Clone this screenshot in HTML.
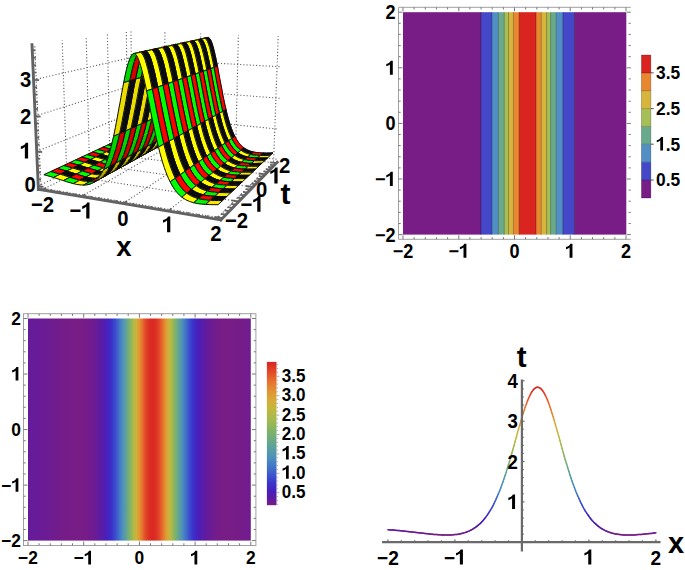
<!DOCTYPE html>
<html><head><meta charset="utf-8"><style>
html,body{margin:0;padding:0;background:#fff;}
svg{display:block;}
text{font-family:"Liberation Sans",sans-serif;font-weight:bold;fill:#000;}
.g{stroke:#5a5a5a;stroke-width:1.1;stroke-dasharray:1.1 2.1;}
</style></head><body>
<svg width="685" height="570" viewBox="0 0 685 570">
<rect width="685" height="570" fill="#fff"/>
<line x1="41" y1="188.1" x2="34.7" y2="44.3" class="g"/>
<line x1="66.8" y1="175.3" x2="62.2" y2="40.4" class="g"/>
<line x1="89.5" y1="164" x2="86.2" y2="37" class="g"/>
<line x1="109.7" y1="154" x2="107.4" y2="33.9" class="g"/>
<line x1="127.8" y1="145" x2="126.3" y2="31.2" class="g"/>
<line x1="38.3" y1="186" x2="129.3" y2="141.6" class="g"/>
<line x1="36.8" y1="151.4" x2="129" y2="114.3" class="g"/>
<line x1="35.2" y1="116.1" x2="128.6" y2="86.5" class="g"/>
<line x1="33.6" y1="79.8" x2="128.3" y2="58.2" class="g"/>
<line x1="132.3" y1="144.6" x2="131" y2="31.1" class="g"/>
<line x1="165" y1="148.6" x2="164.9" y2="32.3" class="g"/>
<line x1="199.3" y1="152.7" x2="200.7" y2="33.6" class="g"/>
<line x1="235.5" y1="157.1" x2="238.4" y2="34.9" class="g"/>
<line x1="273.6" y1="161.7" x2="278.2" y2="36.3" class="g"/>
<line x1="129.3" y1="141.6" x2="277.3" y2="159.3" class="g"/>
<line x1="129" y1="114.3" x2="278.4" y2="129.1" class="g"/>
<line x1="128.6" y1="86.5" x2="279.6" y2="98.3" class="g"/>
<line x1="128.3" y1="58.2" x2="280.8" y2="66.8" class="g"/>
<line x1="41.9" y1="189.9" x2="132.3" y2="144.6" class="g"/>
<line x1="81.3" y1="196.5" x2="165" y2="148.6" class="g"/>
<line x1="123.3" y1="203.5" x2="199.3" y2="152.7" class="g"/>
<line x1="168.1" y1="211.1" x2="235.5" y2="157.1" class="g"/>
<line x1="216.2" y1="219.1" x2="273.6" y2="161.7" class="g"/>
<line x1="41" y1="188.1" x2="222.4" y2="218.2" class="g"/>
<line x1="66.8" y1="175.3" x2="238.8" y2="201.5" class="g"/>
<line x1="89.5" y1="164" x2="252.9" y2="187" class="g"/>
<line x1="109.7" y1="154" x2="265.3" y2="174.3" class="g"/>
<line x1="127.8" y1="145" x2="276.2" y2="163.1" class="g"/>
<line x1="38.4" y1="189.3" x2="32" y2="44.7" stroke="#626262" stroke-width="2.9" stroke-linecap="square"/>
<line x1="38.4" y1="189.3" x2="220.8" y2="219.9" stroke="#626262" stroke-width="2.9" stroke-linecap="square"/>
<line x1="220.8" y1="219.9" x2="277.2" y2="162.2" stroke="#626262" stroke-width="2.9" stroke-linecap="square"/>
<line x1="41.9" y1="189.9" x2="46.3" y2="187.7" stroke="#646464" stroke-width="1.8"/>
<line x1="222.4" y1="218.2" x2="214.5" y2="216.9" stroke="#646464" stroke-width="1.8"/>
<line x1="49.6" y1="191.2" x2="52.3" y2="189.8" stroke="#646464" stroke-width="1.8"/>
<line x1="225.9" y1="214.7" x2="221" y2="213.9" stroke="#646464" stroke-width="1.8"/>
<line x1="57.4" y1="192.5" x2="60.1" y2="191.1" stroke="#646464" stroke-width="1.8"/>
<line x1="229.2" y1="211.2" x2="224.4" y2="210.4" stroke="#646464" stroke-width="1.8"/>
<line x1="65.2" y1="193.8" x2="67.9" y2="192.4" stroke="#646464" stroke-width="1.8"/>
<line x1="232.5" y1="207.9" x2="227.7" y2="207.1" stroke="#646464" stroke-width="1.8"/>
<line x1="73.2" y1="195.2" x2="75.8" y2="193.7" stroke="#646464" stroke-width="1.8"/>
<line x1="235.7" y1="204.6" x2="231" y2="203.9" stroke="#646464" stroke-width="1.8"/>
<line x1="81.3" y1="196.5" x2="85.4" y2="194.2" stroke="#646464" stroke-width="1.8"/>
<line x1="238.8" y1="201.5" x2="231.3" y2="200.3" stroke="#646464" stroke-width="1.8"/>
<line x1="89.5" y1="197.9" x2="92" y2="196.4" stroke="#646464" stroke-width="1.8"/>
<line x1="241.7" y1="198.4" x2="237.1" y2="197.7" stroke="#646464" stroke-width="1.8"/>
<line x1="97.8" y1="199.3" x2="100.2" y2="197.8" stroke="#646464" stroke-width="1.8"/>
<line x1="244.7" y1="195.4" x2="240.1" y2="194.8" stroke="#646464" stroke-width="1.8"/>
<line x1="106.1" y1="200.7" x2="108.6" y2="199.1" stroke="#646464" stroke-width="1.8"/>
<line x1="247.5" y1="192.6" x2="243" y2="191.9" stroke="#646464" stroke-width="1.8"/>
<line x1="114.6" y1="202.1" x2="117" y2="200.5" stroke="#646464" stroke-width="1.8"/>
<line x1="250.2" y1="189.7" x2="245.8" y2="189.1" stroke="#646464" stroke-width="1.8"/>
<line x1="123.3" y1="203.5" x2="127" y2="201" stroke="#646464" stroke-width="1.8"/>
<line x1="252.9" y1="187" x2="245.9" y2="186" stroke="#646464" stroke-width="1.8"/>
<line x1="132" y1="205" x2="134.3" y2="203.4" stroke="#646464" stroke-width="1.8"/>
<line x1="255.5" y1="184.3" x2="251.2" y2="183.7" stroke="#646464" stroke-width="1.8"/>
<line x1="140.9" y1="206.5" x2="143.1" y2="204.9" stroke="#646464" stroke-width="1.8"/>
<line x1="258.1" y1="181.7" x2="253.8" y2="181.1" stroke="#646464" stroke-width="1.8"/>
<line x1="149.8" y1="208" x2="152" y2="206.4" stroke="#646464" stroke-width="1.8"/>
<line x1="260.5" y1="179.2" x2="256.3" y2="178.6" stroke="#646464" stroke-width="1.8"/>
<line x1="158.9" y1="209.5" x2="161.1" y2="207.9" stroke="#646464" stroke-width="1.8"/>
<line x1="263" y1="176.7" x2="258.8" y2="176.2" stroke="#646464" stroke-width="1.8"/>
<line x1="168.1" y1="211.1" x2="171.5" y2="208.4" stroke="#646464" stroke-width="1.8"/>
<line x1="265.3" y1="174.3" x2="258.7" y2="173.5" stroke="#646464" stroke-width="1.8"/>
<line x1="177.5" y1="212.6" x2="179.5" y2="210.9" stroke="#646464" stroke-width="1.8"/>
<line x1="267.6" y1="172" x2="263.5" y2="171.4" stroke="#646464" stroke-width="1.8"/>
<line x1="187" y1="214.2" x2="188.9" y2="212.5" stroke="#646464" stroke-width="1.8"/>
<line x1="269.8" y1="169.7" x2="265.8" y2="169.2" stroke="#646464" stroke-width="1.8"/>
<line x1="196.6" y1="215.8" x2="198.5" y2="214.1" stroke="#646464" stroke-width="1.8"/>
<line x1="272" y1="167.5" x2="268" y2="166.9" stroke="#646464" stroke-width="1.8"/>
<line x1="206.3" y1="217.5" x2="208.2" y2="215.7" stroke="#646464" stroke-width="1.8"/>
<line x1="274.2" y1="165.3" x2="270.2" y2="164.8" stroke="#646464" stroke-width="1.8"/>
<line x1="216.2" y1="219.1" x2="219.1" y2="216.2" stroke="#646464" stroke-width="1.8"/>
<line x1="276.2" y1="163.1" x2="269.9" y2="162.4" stroke="#646464" stroke-width="1.8"/>
<line x1="38.3" y1="186" x2="43.6" y2="186.9" stroke="#646464" stroke-width="1.8"/>
<line x1="38" y1="179.1" x2="41" y2="179.6" stroke="#646464" stroke-width="1.8"/>
<line x1="37.7" y1="172.3" x2="40.7" y2="172.7" stroke="#646464" stroke-width="1.8"/>
<line x1="37.4" y1="165.4" x2="40.4" y2="165.8" stroke="#646464" stroke-width="1.8"/>
<line x1="37.1" y1="158.4" x2="40.1" y2="158.8" stroke="#646464" stroke-width="1.8"/>
<line x1="36.8" y1="151.4" x2="42.2" y2="152.2" stroke="#646464" stroke-width="1.8"/>
<line x1="36.4" y1="144.4" x2="39.5" y2="144.8" stroke="#646464" stroke-width="1.8"/>
<line x1="36.1" y1="137.4" x2="39.2" y2="137.8" stroke="#646464" stroke-width="1.8"/>
<line x1="35.8" y1="130.3" x2="38.9" y2="130.7" stroke="#646464" stroke-width="1.8"/>
<line x1="35.5" y1="123.2" x2="38.6" y2="123.5" stroke="#646464" stroke-width="1.8"/>
<line x1="35.2" y1="116.1" x2="40.6" y2="116.6" stroke="#646464" stroke-width="1.8"/>
<line x1="34.9" y1="108.9" x2="38" y2="109.2" stroke="#646464" stroke-width="1.8"/>
<line x1="34.6" y1="101.7" x2="37.7" y2="102" stroke="#646464" stroke-width="1.8"/>
<line x1="34.2" y1="94.4" x2="37.4" y2="94.7" stroke="#646464" stroke-width="1.8"/>
<line x1="33.9" y1="87.1" x2="37" y2="87.4" stroke="#646464" stroke-width="1.8"/>
<line x1="33.6" y1="79.8" x2="39.1" y2="80.2" stroke="#646464" stroke-width="1.8"/>
<line x1="33.3" y1="72.4" x2="36.4" y2="72.7" stroke="#646464" stroke-width="1.8"/>
<line x1="32.9" y1="65.1" x2="36.1" y2="65.3" stroke="#646464" stroke-width="1.8"/>
<line x1="32.6" y1="57.6" x2="35.8" y2="57.8" stroke="#646464" stroke-width="1.8"/>
<line x1="32.3" y1="50.2" x2="35.4" y2="50.3" stroke="#646464" stroke-width="1.8"/>
<polygon points="126.3,136.3 129,136.9 131.7,137.5 134.5,138.2 138.7,136.2 136,135.5 133.3,134.8 130.6,134.2" fill="#fe0000" stroke="#fe0000" stroke-width="0.5"/>
<polyline points="126.3,136.3 129,136.9 131.7,137.5 134.5,138.2" stroke="#0a0a0a" stroke-width="1.0" fill="none"/>
<polyline points="130.6,134.2 133.3,134.8 136,135.5 138.7,136.2" stroke="#0a0a0a" stroke-width="1.0" fill="none"/>
<line x1="126.3" y1="136.3" x2="130.6" y2="134.2" stroke="#0a0a0a" stroke-width="1.0" fill="none"/>
<line x1="134.5" y1="138.2" x2="138.7" y2="136.2" stroke="#0a0a0a" stroke-width="1.0" fill="none"/>
<polygon points="134.5,138.2 137.2,139 140,139.7 142.7,140.5 146.9,138.4 144.1,137.6 141.4,136.9 138.7,136.2" fill="#0a0a12" stroke="#0a0a12" stroke-width="0.5"/>
<polyline points="134.5,138.2 137.2,139 140,139.7 142.7,140.5" stroke="#0a0a0a" stroke-width="1.0" fill="none"/>
<polyline points="138.7,136.2 141.4,136.9 144.1,137.6 146.9,138.4" stroke="#0a0a0a" stroke-width="1.0" fill="none"/>
<line x1="134.5" y1="138.2" x2="138.7" y2="136.2" stroke="#0a0a0a" stroke-width="1.0" fill="none"/>
<line x1="142.7" y1="140.5" x2="146.9" y2="138.4" stroke="#0a0a0a" stroke-width="1.0" fill="none"/>
<polygon points="142.7,140.5 145.5,141.3 148.3,142 151.1,142.6 155.2,140.5 152.4,139.9 149.6,139.2 146.9,138.4" fill="#fe0000" stroke="#fe0000" stroke-width="0.5"/>
<polyline points="142.7,140.5 145.5,141.3 148.3,142 151.1,142.6" stroke="#0a0a0a" stroke-width="1.0" fill="none"/>
<polyline points="146.9,138.4 149.6,139.2 152.4,139.9 155.2,140.5" stroke="#0a0a0a" stroke-width="1.0" fill="none"/>
<line x1="142.7" y1="140.5" x2="146.9" y2="138.4" stroke="#0a0a0a" stroke-width="1.0" fill="none"/>
<line x1="151.1" y1="142.6" x2="155.2" y2="140.5" stroke="#0a0a0a" stroke-width="1.0" fill="none"/>
<polygon points="151.1,142.6 153.9,143.1 156.7,143.5 159.6,143.6 163.5,141.4 160.7,141.3 157.9,141 155.2,140.5" fill="#0a0a12" stroke="#0a0a12" stroke-width="0.5"/>
<polyline points="151.1,142.6 153.9,143.1 156.7,143.5 159.6,143.6" stroke="#0a0a0a" stroke-width="1.0" fill="none"/>
<polyline points="155.2,140.5 157.9,141 160.7,141.3 163.5,141.4" stroke="#0a0a0a" stroke-width="1.0" fill="none"/>
<line x1="151.1" y1="142.6" x2="155.2" y2="140.5" stroke="#0a0a0a" stroke-width="1.0" fill="none"/>
<line x1="159.6" y1="143.6" x2="163.5" y2="141.4" stroke="#0a0a0a" stroke-width="1.0" fill="none"/>
<polygon points="159.6,143.6 162.4,143.3 166.4,141.1 163.5,141.4" fill="#df0000" stroke="#df0000" stroke-width="0.5"/>
<polyline points="159.6,143.6 162.4,143.3" stroke="#0a0a0a" stroke-width="1.0" fill="none"/>
<polyline points="163.5,141.4 166.4,141.1" stroke="#0a0a0a" stroke-width="1.0" fill="none"/>
<line x1="159.6" y1="143.6" x2="163.5" y2="141.4" stroke="#0a0a0a" stroke-width="1.0" fill="none"/>
<polygon points="162.4,143.3 165.3,142.6 169.2,140.4 166.4,141.1" fill="#cc0000" stroke="#cc0000" stroke-width="0.5"/>
<polyline points="162.4,143.3 165.3,142.6" stroke="#0a0a0a" stroke-width="1.0" fill="none"/>
<polyline points="166.4,141.1 169.2,140.4" stroke="#0a0a0a" stroke-width="1.0" fill="none"/>
<polygon points="165.3,142.6 168.1,141.1 172,139 169.2,140.4" fill="#900000" stroke="#900000" stroke-width="0.5"/>
<polyline points="165.3,142.6 168.1,141.1" stroke="#0a0a0a" stroke-width="1.0" fill="none"/>
<polyline points="169.2,140.4 172,139" stroke="#0a0a0a" stroke-width="1.0" fill="none"/>
<line x1="168.1" y1="141.1" x2="172" y2="139" stroke="#0a0a0a" stroke-width="1.0" fill="none"/>
<polygon points="168.1,141.1 169.9,139.9 171.6,138.3 173.4,136.2 175.1,133.6 176.9,130.5 180.7,128.5 178.9,131.6 177.2,134.1 175.5,136.2 173.7,137.8 172,139" fill="#0a0a12" stroke="#0a0a12" stroke-width="0.5"/>
<polyline points="168.1,141.1 169.9,139.9 171.6,138.3 173.4,136.2 175.1,133.6 176.9,130.5" stroke="#0a0a0a" stroke-width="1.0" fill="none"/>
<polyline points="172,139 173.7,137.8 175.5,136.2 177.2,134.1 178.9,131.6 180.7,128.5" stroke="#0a0a0a" stroke-width="1.0" fill="none"/>
<line x1="168.1" y1="141.1" x2="172" y2="139" stroke="#0a0a0a" stroke-width="1.0" fill="none"/>
<line x1="176.9" y1="130.5" x2="180.7" y2="128.5" stroke="#0a0a0a" stroke-width="1.0" fill="none"/>
<polygon points="176.9,130.5 178,128.2 179.1,125.6 182.9,123.7 181.8,126.2 180.7,128.5" fill="#c20000" stroke="#c20000" stroke-width="0.5"/>
<polyline points="176.9,130.5 178,128.2 179.1,125.6" stroke="#0a0a0a" stroke-width="1.0" fill="none"/>
<polyline points="180.7,128.5 181.8,126.2 182.9,123.7" stroke="#0a0a0a" stroke-width="1.0" fill="none"/>
<line x1="176.9" y1="130.5" x2="180.7" y2="128.5" stroke="#0a0a0a" stroke-width="1.0" fill="none"/>
<polygon points="179.1,125.6 180.2,122.8 181.4,119.6 182.5,116.1 186.2,114.3 185.1,117.7 184,120.8 182.9,123.7" fill="#cd0000" stroke="#cd0000" stroke-width="0.5"/>
<polyline points="179.1,125.6 180.2,122.8 181.4,119.6 182.5,116.1" stroke="#0a0a0a" stroke-width="1.0" fill="none"/>
<polyline points="182.9,123.7 184,120.8 185.1,117.7 186.2,114.3" stroke="#0a0a0a" stroke-width="1.0" fill="none"/>
<polygon points="182.5,116.1 183.6,112.3 184.8,108.2 185.9,103.7 189.7,102 188.5,106.4 187.4,110.5 186.2,114.3" fill="#d60000" stroke="#d60000" stroke-width="0.5"/>
<polyline points="182.5,116.1 183.6,112.3 184.8,108.2 185.9,103.7" stroke="#0a0a0a" stroke-width="1.0" fill="none"/>
<polyline points="186.2,114.3 187.4,110.5 188.5,106.4 189.7,102" stroke="#0a0a0a" stroke-width="1.0" fill="none"/>
<line x1="185.9" y1="103.7" x2="189.7" y2="102" stroke="#0a0a0a" stroke-width="1.0" fill="none"/>
<polygon points="185.9,103.7 186.8,100.3 187.6,96.7 188.5,93 189.3,89.1 190.2,85.2 191,81.2 191.9,77.1 192.8,73 193.6,69 194.5,65 195.4,61.1 199.1,60 198.2,63.8 197.3,67.8 196.5,71.8 195.6,75.8 194.7,79.8 193.9,83.8 193,87.7 192.2,91.5 191.3,95.1 190.5,98.7 189.7,102" fill="#0a0a12" stroke="#0a0a12" stroke-width="0.5"/>
<polyline points="185.9,103.7 186.8,100.3 187.6,96.7 188.5,93 189.3,89.1 190.2,85.2 191,81.2 191.9,77.1 192.8,73 193.6,69 194.5,65 195.4,61.1" stroke="#0a0a0a" stroke-width="1.0" fill="none"/>
<polyline points="189.7,102 190.5,98.7 191.3,95.1 192.2,91.5 193,87.7 193.9,83.8 194.7,79.8 195.6,75.8 196.5,71.8 197.3,67.8 198.2,63.8 199.1,60" stroke="#0a0a0a" stroke-width="1.0" fill="none"/>
<line x1="185.9" y1="103.7" x2="189.7" y2="102" stroke="#0a0a0a" stroke-width="1.0" fill="none"/>
<line x1="195.4" y1="61.1" x2="199.1" y2="60" stroke="#0a0a0a" stroke-width="1.0" fill="none"/>
<polygon points="195.4,61.1 196.8,55.3 198.1,50.1 199.5,45.6 203.2,44.7 201.8,49.1 200.4,54.3 199.1,60" fill="#d70000" stroke="#d70000" stroke-width="0.5"/>
<polyline points="195.4,61.1 196.8,55.3 198.1,50.1 199.5,45.6" stroke="#0a0a0a" stroke-width="1.0" fill="none"/>
<polyline points="199.1,60 200.4,54.3 201.8,49.1 203.2,44.7" stroke="#0a0a0a" stroke-width="1.0" fill="none"/>
<line x1="195.4" y1="61.1" x2="199.1" y2="60" stroke="#0a0a0a" stroke-width="1.0" fill="none"/>
<polygon points="199.5,45.6 200.9,42.1 204.5,41.2 203.2,44.7" fill="#c90000" stroke="#c90000" stroke-width="0.5"/>
<polyline points="199.5,45.6 200.9,42.1" stroke="#0a0a0a" stroke-width="1.0" fill="none"/>
<polyline points="203.2,44.7 204.5,41.2" stroke="#0a0a0a" stroke-width="1.0" fill="none"/>
<polygon points="200.9,42.1 202.3,39.6 205.9,38.8 204.5,41.2" fill="#b70000" stroke="#b70000" stroke-width="0.5"/>
<polyline points="200.9,42.1 202.3,39.6" stroke="#0a0a0a" stroke-width="1.0" fill="none"/>
<polyline points="204.5,41.2 205.9,38.8" stroke="#0a0a0a" stroke-width="1.0" fill="none"/>
<polygon points="202.3,39.6 203.6,38.3 207.2,37.5 205.9,38.8" fill="#900000" stroke="#900000" stroke-width="0.5"/>
<polyline points="202.3,39.6 203.6,38.3" stroke="#0a0a0a" stroke-width="1.0" fill="none"/>
<polyline points="205.9,38.8 207.2,37.5" stroke="#0a0a0a" stroke-width="1.0" fill="none"/>
<polygon points="203.6,38.3 204.4,38.1 208,37.4 207.2,37.5" fill="#d80000" stroke="#d80000" stroke-width="0.5"/>
<polyline points="203.6,38.3 204.4,38.1" stroke="#0a0a0a" stroke-width="1.0" fill="none"/>
<polyline points="207.2,37.5 208,37.4" stroke="#0a0a0a" stroke-width="1.0" fill="none"/>
<polygon points="204.4,38.1 205,38.3 208.6,37.5 208,37.4" fill="#ff0000" stroke="#ff0000" stroke-width="0.5"/>
<polyline points="204.4,38.1 205,38.3" stroke="#0a0a0a" stroke-width="1.0" fill="none"/>
<polyline points="208,37.4 208.6,37.5" stroke="#0a0a0a" stroke-width="1.0" fill="none"/>
<line x1="205" y1="38.3" x2="208.6" y2="37.5" stroke="#0a0a0a" stroke-width="1.0" fill="none"/>
<polygon points="205,38.3 206.2,39.3 207.3,41.2 208.5,44 209.6,47.5 210.7,51.8 211.8,56.6 212.9,61.8 214,67.4 217.5,66.2 216.4,60.7 215.3,55.5 214.2,50.8 213.1,46.6 212,43.1 210.9,40.3 209.7,38.5 208.6,37.5" fill="#0a0a12" stroke="#0a0a12" stroke-width="0.5"/>
<polyline points="205,38.3 206.2,39.3 207.3,41.2 208.5,44 209.6,47.5 210.7,51.8 211.8,56.6 212.9,61.8 214,67.4" stroke="#0a0a0a" stroke-width="1.0" fill="none"/>
<polyline points="208.6,37.5 209.7,38.5 210.9,40.3 212,43.1 213.1,46.6 214.2,50.8 215.3,55.5 216.4,60.7 217.5,66.2" stroke="#0a0a0a" stroke-width="1.0" fill="none"/>
<line x1="205" y1="38.3" x2="208.6" y2="37.5" stroke="#0a0a0a" stroke-width="1.0" fill="none"/>
<line x1="214" y1="67.4" x2="217.5" y2="66.2" stroke="#0a0a0a" stroke-width="1.0" fill="none"/>
<polygon points="214,67.4 214.8,71.6 215.6,75.8 216.4,80.1 217.2,84.4 218,88.6 218.8,92.7 219.6,96.7 220.4,100.6 221.2,104.4 222,108 222.8,111.4 226.1,109.6 225.3,106.2 224.5,102.6 223.7,98.9 222.9,95.1 222.2,91.1 221.4,87 220.6,82.9 219.8,78.7 219,74.5 218.3,70.3 217.5,66.2" fill="#ff0000" stroke="#ff0000" stroke-width="0.5"/>
<polyline points="214,67.4 214.8,71.6 215.6,75.8 216.4,80.1 217.2,84.4 218,88.6 218.8,92.7 219.6,96.7 220.4,100.6 221.2,104.4 222,108 222.8,111.4" stroke="#0a0a0a" stroke-width="1.0" fill="none"/>
<polyline points="217.5,66.2 218.3,70.3 219,74.5 219.8,78.7 220.6,82.9 221.4,87 222.2,91.1 222.9,95.1 223.7,98.9 224.5,102.6 225.3,106.2 226.1,109.6" stroke="#0a0a0a" stroke-width="1.0" fill="none"/>
<line x1="214" y1="67.4" x2="217.5" y2="66.2" stroke="#0a0a0a" stroke-width="1.0" fill="none"/>
<line x1="222.8" y1="111.4" x2="226.1" y2="109.6" stroke="#0a0a0a" stroke-width="1.0" fill="none"/>
<polygon points="222.8,111.4 223.9,115.9 225,120 226.1,123.9 227.2,127.4 228.3,130.6 229.4,133.5 230.6,136.1 231.7,138.5 234.9,136.3 233.7,134 232.6,131.4 231.5,128.5 230.4,125.3 229.3,121.9 228.2,118.1 227.1,114 226.1,109.6" fill="#0a0a12" stroke="#0a0a12" stroke-width="0.5"/>
<polyline points="222.8,111.4 223.9,115.9 225,120 226.1,123.9 227.2,127.4 228.3,130.6 229.4,133.5 230.6,136.1 231.7,138.5" stroke="#0a0a0a" stroke-width="1.0" fill="none"/>
<polyline points="226.1,109.6 227.1,114 228.2,118.1 229.3,121.9 230.4,125.3 231.5,128.5 232.6,131.4 233.7,134 234.9,136.3" stroke="#0a0a0a" stroke-width="1.0" fill="none"/>
<line x1="222.8" y1="111.4" x2="226.1" y2="109.6" stroke="#0a0a0a" stroke-width="1.0" fill="none"/>
<line x1="231.7" y1="138.5" x2="234.9" y2="136.3" stroke="#0a0a0a" stroke-width="1.0" fill="none"/>
<polygon points="231.7,138.5 233.5,141.8 235.4,144.6 237.2,146.9 239.1,148.8 241,150.3 244,147.9 242.2,146.4 240.3,144.6 238.5,142.3 236.7,139.6 234.9,136.3" fill="#ff0000" stroke="#ff0000" stroke-width="0.5"/>
<polyline points="231.7,138.5 233.5,141.8 235.4,144.6 237.2,146.9 239.1,148.8 241,150.3" stroke="#0a0a0a" stroke-width="1.0" fill="none"/>
<polyline points="234.9,136.3 236.7,139.6 238.5,142.3 240.3,144.6 242.2,146.4 244,147.9" stroke="#0a0a0a" stroke-width="1.0" fill="none"/>
<line x1="231.7" y1="138.5" x2="234.9" y2="136.3" stroke="#0a0a0a" stroke-width="1.0" fill="none"/>
<line x1="241" y1="150.3" x2="244" y2="147.9" stroke="#0a0a0a" stroke-width="1.0" fill="none"/>
<polygon points="241,150.3 244.2,152.3 247.4,153.6 250.6,154.5 253.5,152 250.3,151.1 247.2,149.8 244,147.9" fill="#0a0a12" stroke="#0a0a12" stroke-width="0.5"/>
<polyline points="241,150.3 244.2,152.3 247.4,153.6 250.6,154.5" stroke="#0a0a0a" stroke-width="1.0" fill="none"/>
<polyline points="244,147.9 247.2,149.8 250.3,151.1 253.5,152" stroke="#0a0a0a" stroke-width="1.0" fill="none"/>
<line x1="241" y1="150.3" x2="244" y2="147.9" stroke="#0a0a0a" stroke-width="1.0" fill="none"/>
<line x1="250.6" y1="154.5" x2="253.5" y2="152" stroke="#0a0a0a" stroke-width="1.0" fill="none"/>
<polygon points="250.6,154.5 253.8,155 257.1,155.3 259.9,152.8 256.7,152.5 253.5,152" fill="#f50000" stroke="#f50000" stroke-width="0.5"/>
<polyline points="250.6,154.5 253.8,155 257.1,155.3" stroke="#0a0a0a" stroke-width="1.0" fill="none"/>
<polyline points="253.5,152 256.7,152.5 259.9,152.8" stroke="#0a0a0a" stroke-width="1.0" fill="none"/>
<line x1="250.6" y1="154.5" x2="253.5" y2="152" stroke="#0a0a0a" stroke-width="1.0" fill="none"/>
<polygon points="257.1,155.3 260.4,155.4 263.2,152.9 259.9,152.8" fill="#ec0000" stroke="#ec0000" stroke-width="0.5"/>
<polyline points="257.1,155.3 260.4,155.4" stroke="#0a0a0a" stroke-width="1.0" fill="none"/>
<polyline points="259.9,152.8 263.2,152.9" stroke="#0a0a0a" stroke-width="1.0" fill="none"/>
<line x1="260.4" y1="155.4" x2="263.2" y2="152.9" stroke="#0a0a0a" stroke-width="1.0" fill="none"/>
<polygon points="260.4,155.4 263.7,155.5 267,155.4 270.3,155.3 273,152.8 269.7,152.9 266.4,153 263.2,152.9" fill="#0a0a12" stroke="#0a0a12" stroke-width="0.5"/>
<polyline points="260.4,155.4 263.7,155.5 267,155.4 270.3,155.3" stroke="#0a0a0a" stroke-width="1.0" fill="none"/>
<polyline points="263.2,152.9 266.4,153 269.7,152.9 273,152.8" stroke="#0a0a0a" stroke-width="1.0" fill="none"/>
<line x1="260.4" y1="155.4" x2="263.2" y2="152.9" stroke="#0a0a0a" stroke-width="1.0" fill="none"/>
<line x1="270.3" y1="155.3" x2="273" y2="152.8" stroke="#0a0a0a" stroke-width="1.0" fill="none"/>
<polygon points="121.8,138.3 124.6,138.9 127.3,139.6 130.1,140.3 134.5,138.2 131.7,137.5 129,136.9 126.3,136.3" fill="#00fe00" stroke="#00fe00" stroke-width="0.5"/>
<polyline points="121.8,138.3 124.6,138.9 127.3,139.6 130.1,140.3" stroke="#0a0a0a" stroke-width="1.0" fill="none"/>
<polyline points="126.3,136.3 129,136.9 131.7,137.5 134.5,138.2" stroke="#0a0a0a" stroke-width="1.0" fill="none"/>
<line x1="121.8" y1="138.3" x2="126.3" y2="136.3" stroke="#0a0a0a" stroke-width="1.0" fill="none"/>
<line x1="130.1" y1="140.3" x2="134.5" y2="138.2" stroke="#0a0a0a" stroke-width="1.0" fill="none"/>
<polygon points="130.1,140.3 132.9,141.1 135.7,141.9 138.5,142.7 142.7,140.5 140,139.7 137.2,139 134.5,138.2" fill="#ffff00" stroke="#ffff00" stroke-width="0.5"/>
<polyline points="130.1,140.3 132.9,141.1 135.7,141.9 138.5,142.7" stroke="#0a0a0a" stroke-width="1.0" fill="none"/>
<polyline points="134.5,138.2 137.2,139 140,139.7 142.7,140.5" stroke="#0a0a0a" stroke-width="1.0" fill="none"/>
<line x1="130.1" y1="140.3" x2="134.5" y2="138.2" stroke="#0a0a0a" stroke-width="1.0" fill="none"/>
<line x1="138.5" y1="142.7" x2="142.7" y2="140.5" stroke="#0a0a0a" stroke-width="1.0" fill="none"/>
<polygon points="138.5,142.7 141.3,143.4 144.1,144.2 146.9,144.8 151.1,142.6 148.3,142 145.5,141.3 142.7,140.5" fill="#00fe00" stroke="#00fe00" stroke-width="0.5"/>
<polyline points="138.5,142.7 141.3,143.4 144.1,144.2 146.9,144.8" stroke="#0a0a0a" stroke-width="1.0" fill="none"/>
<polyline points="142.7,140.5 145.5,141.3 148.3,142 151.1,142.6" stroke="#0a0a0a" stroke-width="1.0" fill="none"/>
<line x1="138.5" y1="142.7" x2="142.7" y2="140.5" stroke="#0a0a0a" stroke-width="1.0" fill="none"/>
<line x1="146.9" y1="144.8" x2="151.1" y2="142.6" stroke="#0a0a0a" stroke-width="1.0" fill="none"/>
<polygon points="146.9,144.8 149.8,145.4 152.6,145.7 156.7,143.5 153.9,143.1 151.1,142.6" fill="#fff700" stroke="#fff700" stroke-width="0.5"/>
<polyline points="146.9,144.8 149.8,145.4 152.6,145.7" stroke="#0a0a0a" stroke-width="1.0" fill="none"/>
<polyline points="151.1,142.6 153.9,143.1 156.7,143.5" stroke="#0a0a0a" stroke-width="1.0" fill="none"/>
<line x1="146.9" y1="144.8" x2="151.1" y2="142.6" stroke="#0a0a0a" stroke-width="1.0" fill="none"/>
<polygon points="152.6,145.7 155.5,145.8 159.6,143.6 156.7,143.5" fill="#fbec00" stroke="#fbec00" stroke-width="0.5"/>
<polyline points="152.6,145.7 155.5,145.8" stroke="#0a0a0a" stroke-width="1.0" fill="none"/>
<polyline points="156.7,143.5 159.6,143.6" stroke="#0a0a0a" stroke-width="1.0" fill="none"/>
<line x1="155.5" y1="145.8" x2="159.6" y2="143.6" stroke="#0a0a0a" stroke-width="1.0" fill="none"/>
<polygon points="155.5,145.8 158.4,145.5 162.4,143.3 159.6,143.6" fill="#00df00" stroke="#00df00" stroke-width="0.5"/>
<polyline points="155.5,145.8 158.4,145.5" stroke="#0a0a0a" stroke-width="1.0" fill="none"/>
<polyline points="159.6,143.6 162.4,143.3" stroke="#0a0a0a" stroke-width="1.0" fill="none"/>
<line x1="155.5" y1="145.8" x2="159.6" y2="143.6" stroke="#0a0a0a" stroke-width="1.0" fill="none"/>
<polygon points="158.4,145.5 161.3,144.8 165.3,142.6 162.4,143.3" fill="#00cc00" stroke="#00cc00" stroke-width="0.5"/>
<polyline points="158.4,145.5 161.3,144.8" stroke="#0a0a0a" stroke-width="1.0" fill="none"/>
<polyline points="162.4,143.3 165.3,142.6" stroke="#0a0a0a" stroke-width="1.0" fill="none"/>
<polygon points="161.3,144.8 164.2,143.4 168.1,141.1 165.3,142.6" fill="#009000" stroke="#009000" stroke-width="0.5"/>
<polyline points="161.3,144.8 164.2,143.4" stroke="#0a0a0a" stroke-width="1.0" fill="none"/>
<polyline points="165.3,142.6 168.1,141.1" stroke="#0a0a0a" stroke-width="1.0" fill="none"/>
<line x1="164.2" y1="143.4" x2="168.1" y2="141.1" stroke="#0a0a0a" stroke-width="1.0" fill="none"/>
<polygon points="164.2,143.4 165.9,142.1 167.7,140.4 171.6,138.3 169.9,139.9 168.1,141.1" fill="#999000" stroke="#999000" stroke-width="0.5"/>
<polyline points="164.2,143.4 165.9,142.1 167.7,140.4" stroke="#0a0a0a" stroke-width="1.0" fill="none"/>
<polyline points="168.1,141.1 169.9,139.9 171.6,138.3" stroke="#0a0a0a" stroke-width="1.0" fill="none"/>
<line x1="164.2" y1="143.4" x2="168.1" y2="141.1" stroke="#0a0a0a" stroke-width="1.0" fill="none"/>
<polygon points="167.7,140.4 169.4,138.4 173.4,136.2 171.6,138.3" fill="#a99f00" stroke="#a99f00" stroke-width="0.5"/>
<polyline points="167.7,140.4 169.4,138.4" stroke="#0a0a0a" stroke-width="1.0" fill="none"/>
<polyline points="171.6,138.3 173.4,136.2" stroke="#0a0a0a" stroke-width="1.0" fill="none"/>
<polygon points="169.4,138.4 171.2,135.8 175.1,133.6 173.4,136.2" fill="#b7ac00" stroke="#b7ac00" stroke-width="0.5"/>
<polyline points="169.4,138.4 171.2,135.8" stroke="#0a0a0a" stroke-width="1.0" fill="none"/>
<polyline points="173.4,136.2 175.1,133.6" stroke="#0a0a0a" stroke-width="1.0" fill="none"/>
<polygon points="171.2,135.8 173,132.6 176.9,130.5 175.1,133.6" fill="#c4b800" stroke="#c4b800" stroke-width="0.5"/>
<polyline points="171.2,135.8 173,132.6" stroke="#0a0a0a" stroke-width="1.0" fill="none"/>
<polyline points="175.1,133.6 176.9,130.5" stroke="#0a0a0a" stroke-width="1.0" fill="none"/>
<line x1="173" y1="132.6" x2="176.9" y2="130.5" stroke="#0a0a0a" stroke-width="1.0" fill="none"/>
<polygon points="173,132.6 174.1,130.2 175.2,127.6 179.1,125.6 178,128.2 176.9,130.5" fill="#00c200" stroke="#00c200" stroke-width="0.5"/>
<polyline points="173,132.6 174.1,130.2 175.2,127.6" stroke="#0a0a0a" stroke-width="1.0" fill="none"/>
<polyline points="176.9,130.5 178,128.2 179.1,125.6" stroke="#0a0a0a" stroke-width="1.0" fill="none"/>
<line x1="173" y1="132.6" x2="176.9" y2="130.5" stroke="#0a0a0a" stroke-width="1.0" fill="none"/>
<polygon points="175.2,127.6 176.3,124.7 177.5,121.5 178.6,118 182.5,116.1 181.4,119.6 180.2,122.8 179.1,125.6" fill="#00cd00" stroke="#00cd00" stroke-width="0.5"/>
<polyline points="175.2,127.6 176.3,124.7 177.5,121.5 178.6,118" stroke="#0a0a0a" stroke-width="1.0" fill="none"/>
<polyline points="179.1,125.6 180.2,122.8 181.4,119.6 182.5,116.1" stroke="#0a0a0a" stroke-width="1.0" fill="none"/>
<polygon points="178.6,118 179.8,114.1 180.9,110 182.1,105.4 185.9,103.7 184.8,108.2 183.6,112.3 182.5,116.1" fill="#00d600" stroke="#00d600" stroke-width="0.5"/>
<polyline points="178.6,118 179.8,114.1 180.9,110 182.1,105.4" stroke="#0a0a0a" stroke-width="1.0" fill="none"/>
<polyline points="182.5,116.1 183.6,112.3 184.8,108.2 185.9,103.7" stroke="#0a0a0a" stroke-width="1.0" fill="none"/>
<line x1="182.1" y1="105.4" x2="185.9" y2="103.7" stroke="#0a0a0a" stroke-width="1.0" fill="none"/>
<polygon points="182.1,105.4 182.9,102 183.8,98.3 184.6,94.6 185.5,90.7 186.3,86.7 187.2,82.6 188.1,78.5 189,74.3 189.8,70.2 190.7,66.2 191.6,62.2 195.4,61.1 194.5,65 193.6,69 192.8,73 191.9,77.1 191,81.2 190.2,85.2 189.3,89.1 188.5,93 187.6,96.7 186.8,100.3 185.9,103.7" fill="#ebdd00" stroke="#ebdd00" stroke-width="0.5"/>
<polyline points="182.1,105.4 182.9,102 183.8,98.3 184.6,94.6 185.5,90.7 186.3,86.7 187.2,82.6 188.1,78.5 189,74.3 189.8,70.2 190.7,66.2 191.6,62.2" stroke="#0a0a0a" stroke-width="1.0" fill="none"/>
<polyline points="185.9,103.7 186.8,100.3 187.6,96.7 188.5,93 189.3,89.1 190.2,85.2 191,81.2 191.9,77.1 192.8,73 193.6,69 194.5,65 195.4,61.1" stroke="#0a0a0a" stroke-width="1.0" fill="none"/>
<line x1="182.1" y1="105.4" x2="185.9" y2="103.7" stroke="#0a0a0a" stroke-width="1.0" fill="none"/>
<line x1="191.6" y1="62.2" x2="195.4" y2="61.1" stroke="#0a0a0a" stroke-width="1.0" fill="none"/>
<polygon points="191.6,62.2 193,56.4 194.4,51.1 195.8,46.5 199.5,45.6 198.1,50.1 196.8,55.3 195.4,61.1" fill="#00d700" stroke="#00d700" stroke-width="0.5"/>
<polyline points="191.6,62.2 193,56.4 194.4,51.1 195.8,46.5" stroke="#0a0a0a" stroke-width="1.0" fill="none"/>
<polyline points="195.4,61.1 196.8,55.3 198.1,50.1 199.5,45.6" stroke="#0a0a0a" stroke-width="1.0" fill="none"/>
<line x1="191.6" y1="62.2" x2="195.4" y2="61.1" stroke="#0a0a0a" stroke-width="1.0" fill="none"/>
<polygon points="195.8,46.5 197.2,42.9 200.9,42.1 199.5,45.6" fill="#00c900" stroke="#00c900" stroke-width="0.5"/>
<polyline points="195.8,46.5 197.2,42.9" stroke="#0a0a0a" stroke-width="1.0" fill="none"/>
<polyline points="199.5,45.6 200.9,42.1" stroke="#0a0a0a" stroke-width="1.0" fill="none"/>
<polygon points="197.2,42.9 198.6,40.4 202.3,39.6 200.9,42.1" fill="#00b700" stroke="#00b700" stroke-width="0.5"/>
<polyline points="197.2,42.9 198.6,40.4" stroke="#0a0a0a" stroke-width="1.0" fill="none"/>
<polyline points="200.9,42.1 202.3,39.6" stroke="#0a0a0a" stroke-width="1.0" fill="none"/>
<polygon points="198.6,40.4 199.9,39.1 203.6,38.3 202.3,39.6" fill="#009000" stroke="#009000" stroke-width="0.5"/>
<polyline points="198.6,40.4 199.9,39.1" stroke="#0a0a0a" stroke-width="1.0" fill="none"/>
<polyline points="202.3,39.6 203.6,38.3" stroke="#0a0a0a" stroke-width="1.0" fill="none"/>
<polygon points="199.9,39.1 200.7,38.9 204.4,38.1 203.6,38.3" fill="#00d800" stroke="#00d800" stroke-width="0.5"/>
<polyline points="199.9,39.1 200.7,38.9" stroke="#0a0a0a" stroke-width="1.0" fill="none"/>
<polyline points="203.6,38.3 204.4,38.1" stroke="#0a0a0a" stroke-width="1.0" fill="none"/>
<polygon points="200.7,38.9 201.3,39.1 205,38.3 204.4,38.1" fill="#00ff00" stroke="#00ff00" stroke-width="0.5"/>
<polyline points="200.7,38.9 201.3,39.1" stroke="#0a0a0a" stroke-width="1.0" fill="none"/>
<polyline points="204.4,38.1 205,38.3" stroke="#0a0a0a" stroke-width="1.0" fill="none"/>
<line x1="201.3" y1="39.1" x2="205" y2="38.3" stroke="#0a0a0a" stroke-width="1.0" fill="none"/>
<polygon points="201.3,39.1 202.5,40.1 203.7,42 204.8,44.8 206,48.5 207.1,52.8 208.2,57.7 209.4,63 210.5,68.7 214,67.4 212.9,61.8 211.8,56.6 210.7,51.8 209.6,47.5 208.5,44 207.3,41.2 206.2,39.3 205,38.3" fill="#ffff00" stroke="#ffff00" stroke-width="0.5"/>
<polyline points="201.3,39.1 202.5,40.1 203.7,42 204.8,44.8 206,48.5 207.1,52.8 208.2,57.7 209.4,63 210.5,68.7" stroke="#0a0a0a" stroke-width="1.0" fill="none"/>
<polyline points="205,38.3 206.2,39.3 207.3,41.2 208.5,44 209.6,47.5 210.7,51.8 211.8,56.6 212.9,61.8 214,67.4" stroke="#0a0a0a" stroke-width="1.0" fill="none"/>
<line x1="201.3" y1="39.1" x2="205" y2="38.3" stroke="#0a0a0a" stroke-width="1.0" fill="none"/>
<line x1="210.5" y1="68.7" x2="214" y2="67.4" stroke="#0a0a0a" stroke-width="1.0" fill="none"/>
<polygon points="210.5,68.7 211.3,72.9 212.1,77.2 212.9,81.5 213.7,85.8 214.5,90.1 215.3,94.3 216.1,98.4 216.9,102.3 217.7,106.1 218.6,109.8 219.4,113.3 222.8,111.4 222,108 221.2,104.4 220.4,100.6 219.6,96.7 218.8,92.7 218,88.6 217.2,84.4 216.4,80.1 215.6,75.8 214.8,71.6 214,67.4" fill="#00ff00" stroke="#00ff00" stroke-width="0.5"/>
<polyline points="210.5,68.7 211.3,72.9 212.1,77.2 212.9,81.5 213.7,85.8 214.5,90.1 215.3,94.3 216.1,98.4 216.9,102.3 217.7,106.1 218.6,109.8 219.4,113.3" stroke="#0a0a0a" stroke-width="1.0" fill="none"/>
<polyline points="214,67.4 214.8,71.6 215.6,75.8 216.4,80.1 217.2,84.4 218,88.6 218.8,92.7 219.6,96.7 220.4,100.6 221.2,104.4 222,108 222.8,111.4" stroke="#0a0a0a" stroke-width="1.0" fill="none"/>
<line x1="210.5" y1="68.7" x2="214" y2="67.4" stroke="#0a0a0a" stroke-width="1.0" fill="none"/>
<line x1="219.4" y1="113.3" x2="222.8" y2="111.4" stroke="#0a0a0a" stroke-width="1.0" fill="none"/>
<polygon points="219.4,113.3 220.5,117.8 221.6,122 222.7,125.9 223.9,129.5 225,132.8 226.1,135.7 227.3,138.4 228.5,140.8 231.7,138.5 230.6,136.1 229.4,133.5 228.3,130.6 227.2,127.4 226.1,123.9 225,120 223.9,115.9 222.8,111.4" fill="#ffff00" stroke="#ffff00" stroke-width="0.5"/>
<polyline points="219.4,113.3 220.5,117.8 221.6,122 222.7,125.9 223.9,129.5 225,132.8 226.1,135.7 227.3,138.4 228.5,140.8" stroke="#0a0a0a" stroke-width="1.0" fill="none"/>
<polyline points="222.8,111.4 223.9,115.9 225,120 226.1,123.9 227.2,127.4 228.3,130.6 229.4,133.5 230.6,136.1 231.7,138.5" stroke="#0a0a0a" stroke-width="1.0" fill="none"/>
<line x1="219.4" y1="113.3" x2="222.8" y2="111.4" stroke="#0a0a0a" stroke-width="1.0" fill="none"/>
<line x1="228.5" y1="140.8" x2="231.7" y2="138.5" stroke="#0a0a0a" stroke-width="1.0" fill="none"/>
<polygon points="228.5,140.8 230.3,144.2 232.2,147 234.1,149.3 236,151.2 237.9,152.8 241,150.3 239.1,148.8 237.2,146.9 235.4,144.6 233.5,141.8 231.7,138.5" fill="#00ff00" stroke="#00ff00" stroke-width="0.5"/>
<polyline points="228.5,140.8 230.3,144.2 232.2,147 234.1,149.3 236,151.2 237.9,152.8" stroke="#0a0a0a" stroke-width="1.0" fill="none"/>
<polyline points="231.7,138.5 233.5,141.8 235.4,144.6 237.2,146.9 239.1,148.8 241,150.3" stroke="#0a0a0a" stroke-width="1.0" fill="none"/>
<line x1="228.5" y1="140.8" x2="231.7" y2="138.5" stroke="#0a0a0a" stroke-width="1.0" fill="none"/>
<line x1="237.9" y1="152.8" x2="241" y2="150.3" stroke="#0a0a0a" stroke-width="1.0" fill="none"/>
<polygon points="237.9,152.8 241.1,154.8 244.3,156.1 247.6,157 250.6,154.5 247.4,153.6 244.2,152.3 241,150.3" fill="#ffff00" stroke="#ffff00" stroke-width="0.5"/>
<polyline points="237.9,152.8 241.1,154.8 244.3,156.1 247.6,157" stroke="#0a0a0a" stroke-width="1.0" fill="none"/>
<polyline points="241,150.3 244.2,152.3 247.4,153.6 250.6,154.5" stroke="#0a0a0a" stroke-width="1.0" fill="none"/>
<line x1="237.9" y1="152.8" x2="241" y2="150.3" stroke="#0a0a0a" stroke-width="1.0" fill="none"/>
<line x1="247.6" y1="157" x2="250.6" y2="154.5" stroke="#0a0a0a" stroke-width="1.0" fill="none"/>
<polygon points="247.6,157 250.9,157.6 254.2,157.9 257.1,155.3 253.8,155 250.6,154.5" fill="#00f500" stroke="#00f500" stroke-width="0.5"/>
<polyline points="247.6,157 250.9,157.6 254.2,157.9" stroke="#0a0a0a" stroke-width="1.0" fill="none"/>
<polyline points="250.6,154.5 253.8,155 257.1,155.3" stroke="#0a0a0a" stroke-width="1.0" fill="none"/>
<line x1="247.6" y1="157" x2="250.6" y2="154.5" stroke="#0a0a0a" stroke-width="1.0" fill="none"/>
<polygon points="254.2,157.9 257.5,158 260.4,155.4 257.1,155.3" fill="#00ec00" stroke="#00ec00" stroke-width="0.5"/>
<polyline points="254.2,157.9 257.5,158" stroke="#0a0a0a" stroke-width="1.0" fill="none"/>
<polyline points="257.1,155.3 260.4,155.4" stroke="#0a0a0a" stroke-width="1.0" fill="none"/>
<line x1="257.5" y1="158" x2="260.4" y2="155.4" stroke="#0a0a0a" stroke-width="1.0" fill="none"/>
<polygon points="257.5,158 260.8,158 264.2,158 267.6,157.9 270.3,155.3 267,155.4 263.7,155.5 260.4,155.4" fill="#f4e600" stroke="#f4e600" stroke-width="0.5"/>
<polyline points="257.5,158 260.8,158 264.2,158 267.6,157.9" stroke="#0a0a0a" stroke-width="1.0" fill="none"/>
<polyline points="260.4,155.4 263.7,155.5 267,155.4 270.3,155.3" stroke="#0a0a0a" stroke-width="1.0" fill="none"/>
<line x1="257.5" y1="158" x2="260.4" y2="155.4" stroke="#0a0a0a" stroke-width="1.0" fill="none"/>
<line x1="267.6" y1="157.9" x2="270.3" y2="155.3" stroke="#0a0a0a" stroke-width="1.0" fill="none"/>
<polygon points="117.3,140.5 120,141.1 122.8,141.8 125.6,142.5 130.1,140.3 127.3,139.6 124.6,138.9 121.8,138.3" fill="#fe0000" stroke="#fe0000" stroke-width="0.5"/>
<polyline points="117.3,140.5 120,141.1 122.8,141.8 125.6,142.5" stroke="#0a0a0a" stroke-width="1.0" fill="none"/>
<polyline points="121.8,138.3 124.6,138.9 127.3,139.6 130.1,140.3" stroke="#0a0a0a" stroke-width="1.0" fill="none"/>
<line x1="117.3" y1="140.5" x2="121.8" y2="138.3" stroke="#0a0a0a" stroke-width="1.0" fill="none"/>
<line x1="125.6" y1="142.5" x2="130.1" y2="140.3" stroke="#0a0a0a" stroke-width="1.0" fill="none"/>
<polygon points="125.6,142.5 128.4,143.3 131.2,144.1 134.1,144.9 138.5,142.7 135.7,141.9 132.9,141.1 130.1,140.3" fill="#0a0a12" stroke="#0a0a12" stroke-width="0.5"/>
<polyline points="125.6,142.5 128.4,143.3 131.2,144.1 134.1,144.9" stroke="#0a0a0a" stroke-width="1.0" fill="none"/>
<polyline points="130.1,140.3 132.9,141.1 135.7,141.9 138.5,142.7" stroke="#0a0a0a" stroke-width="1.0" fill="none"/>
<line x1="125.6" y1="142.5" x2="130.1" y2="140.3" stroke="#0a0a0a" stroke-width="1.0" fill="none"/>
<line x1="134.1" y1="144.9" x2="138.5" y2="142.7" stroke="#0a0a0a" stroke-width="1.0" fill="none"/>
<polygon points="134.1,144.9 136.9,145.7 139.8,146.4 142.6,147.1 146.9,144.8 144.1,144.2 141.3,143.4 138.5,142.7" fill="#fe0000" stroke="#fe0000" stroke-width="0.5"/>
<polyline points="134.1,144.9 136.9,145.7 139.8,146.4 142.6,147.1" stroke="#0a0a0a" stroke-width="1.0" fill="none"/>
<polyline points="138.5,142.7 141.3,143.4 144.1,144.2 146.9,144.8" stroke="#0a0a0a" stroke-width="1.0" fill="none"/>
<line x1="134.1" y1="144.9" x2="138.5" y2="142.7" stroke="#0a0a0a" stroke-width="1.0" fill="none"/>
<line x1="142.6" y1="147.1" x2="146.9" y2="144.8" stroke="#0a0a0a" stroke-width="1.0" fill="none"/>
<polygon points="142.6,147.1 145.5,147.6 148.4,148 151.3,148.1 155.5,145.8 152.6,145.7 149.8,145.4 146.9,144.8" fill="#0a0a12" stroke="#0a0a12" stroke-width="0.5"/>
<polyline points="142.6,147.1 145.5,147.6 148.4,148 151.3,148.1" stroke="#0a0a0a" stroke-width="1.0" fill="none"/>
<polyline points="146.9,144.8 149.8,145.4 152.6,145.7 155.5,145.8" stroke="#0a0a0a" stroke-width="1.0" fill="none"/>
<line x1="142.6" y1="147.1" x2="146.9" y2="144.8" stroke="#0a0a0a" stroke-width="1.0" fill="none"/>
<line x1="151.3" y1="148.1" x2="155.5" y2="145.8" stroke="#0a0a0a" stroke-width="1.0" fill="none"/>
<polygon points="151.3,148.1 154.2,147.8 158.4,145.5 155.5,145.8" fill="#df0000" stroke="#df0000" stroke-width="0.5"/>
<polyline points="151.3,148.1 154.2,147.8" stroke="#0a0a0a" stroke-width="1.0" fill="none"/>
<polyline points="155.5,145.8 158.4,145.5" stroke="#0a0a0a" stroke-width="1.0" fill="none"/>
<line x1="151.3" y1="148.1" x2="155.5" y2="145.8" stroke="#0a0a0a" stroke-width="1.0" fill="none"/>
<polygon points="154.2,147.8 157.1,147.1 161.3,144.8 158.4,145.5" fill="#cc0000" stroke="#cc0000" stroke-width="0.5"/>
<polyline points="154.2,147.8 157.1,147.1" stroke="#0a0a0a" stroke-width="1.0" fill="none"/>
<polyline points="158.4,145.5 161.3,144.8" stroke="#0a0a0a" stroke-width="1.0" fill="none"/>
<polygon points="157.1,147.1 160,145.6 164.2,143.4 161.3,144.8" fill="#900000" stroke="#900000" stroke-width="0.5"/>
<polyline points="157.1,147.1 160,145.6" stroke="#0a0a0a" stroke-width="1.0" fill="none"/>
<polyline points="161.3,144.8 164.2,143.4" stroke="#0a0a0a" stroke-width="1.0" fill="none"/>
<line x1="160" y1="145.6" x2="164.2" y2="143.4" stroke="#0a0a0a" stroke-width="1.0" fill="none"/>
<polygon points="160,145.6 161.8,144.3 163.6,142.7 165.4,140.6 167.2,137.9 169,134.7 173,132.6 171.2,135.8 169.4,138.4 167.7,140.4 165.9,142.1 164.2,143.4" fill="#0a0a12" stroke="#0a0a12" stroke-width="0.5"/>
<polyline points="160,145.6 161.8,144.3 163.6,142.7 165.4,140.6 167.2,137.9 169,134.7" stroke="#0a0a0a" stroke-width="1.0" fill="none"/>
<polyline points="164.2,143.4 165.9,142.1 167.7,140.4 169.4,138.4 171.2,135.8 173,132.6" stroke="#0a0a0a" stroke-width="1.0" fill="none"/>
<line x1="160" y1="145.6" x2="164.2" y2="143.4" stroke="#0a0a0a" stroke-width="1.0" fill="none"/>
<line x1="169" y1="134.7" x2="173" y2="132.6" stroke="#0a0a0a" stroke-width="1.0" fill="none"/>
<polygon points="169,134.7 170.1,132.4 171.2,129.7 175.2,127.6 174.1,130.2 173,132.6" fill="#c20000" stroke="#c20000" stroke-width="0.5"/>
<polyline points="169,134.7 170.1,132.4 171.2,129.7" stroke="#0a0a0a" stroke-width="1.0" fill="none"/>
<polyline points="173,132.6 174.1,130.2 175.2,127.6" stroke="#0a0a0a" stroke-width="1.0" fill="none"/>
<line x1="169" y1="134.7" x2="173" y2="132.6" stroke="#0a0a0a" stroke-width="1.0" fill="none"/>
<polygon points="171.2,129.7 172.3,126.8 173.5,123.5 174.6,119.9 178.6,118 177.5,121.5 176.3,124.7 175.2,127.6" fill="#cd0000" stroke="#cd0000" stroke-width="0.5"/>
<polyline points="171.2,129.7 172.3,126.8 173.5,123.5 174.6,119.9" stroke="#0a0a0a" stroke-width="1.0" fill="none"/>
<polyline points="175.2,127.6 176.3,124.7 177.5,121.5 178.6,118" stroke="#0a0a0a" stroke-width="1.0" fill="none"/>
<polygon points="174.6,119.9 175.8,116 177,111.8 178.1,107.2 182.1,105.4 180.9,110 179.8,114.1 178.6,118" fill="#d60000" stroke="#d60000" stroke-width="0.5"/>
<polyline points="174.6,119.9 175.8,116 177,111.8 178.1,107.2" stroke="#0a0a0a" stroke-width="1.0" fill="none"/>
<polyline points="178.6,118 179.8,114.1 180.9,110 182.1,105.4" stroke="#0a0a0a" stroke-width="1.0" fill="none"/>
<line x1="178.1" y1="107.2" x2="182.1" y2="105.4" stroke="#0a0a0a" stroke-width="1.0" fill="none"/>
<polygon points="178.1,107.2 179,103.7 179.8,100 180.7,96.2 181.6,92.2 182.4,88.2 183.3,84.1 184.2,79.9 185,75.7 185.9,71.5 186.8,67.4 187.7,63.4 191.6,62.2 190.7,66.2 189.8,70.2 189,74.3 188.1,78.5 187.2,82.6 186.3,86.7 185.5,90.7 184.6,94.6 183.8,98.3 182.9,102 182.1,105.4" fill="#0a0a12" stroke="#0a0a12" stroke-width="0.5"/>
<polyline points="178.1,107.2 179,103.7 179.8,100 180.7,96.2 181.6,92.2 182.4,88.2 183.3,84.1 184.2,79.9 185,75.7 185.9,71.5 186.8,67.4 187.7,63.4" stroke="#0a0a0a" stroke-width="1.0" fill="none"/>
<polyline points="182.1,105.4 182.9,102 183.8,98.3 184.6,94.6 185.5,90.7 186.3,86.7 187.2,82.6 188.1,78.5 189,74.3 189.8,70.2 190.7,66.2 191.6,62.2" stroke="#0a0a0a" stroke-width="1.0" fill="none"/>
<line x1="178.1" y1="107.2" x2="182.1" y2="105.4" stroke="#0a0a0a" stroke-width="1.0" fill="none"/>
<line x1="187.7" y1="63.4" x2="191.6" y2="62.2" stroke="#0a0a0a" stroke-width="1.0" fill="none"/>
<polygon points="187.7,63.4 189.1,57.4 190.5,52.1 191.9,47.5 195.8,46.5 194.4,51.1 193,56.4 191.6,62.2" fill="#d70000" stroke="#d70000" stroke-width="0.5"/>
<polyline points="187.7,63.4 189.1,57.4 190.5,52.1 191.9,47.5" stroke="#0a0a0a" stroke-width="1.0" fill="none"/>
<polyline points="191.6,62.2 193,56.4 194.4,51.1 195.8,46.5" stroke="#0a0a0a" stroke-width="1.0" fill="none"/>
<line x1="187.7" y1="63.4" x2="191.6" y2="62.2" stroke="#0a0a0a" stroke-width="1.0" fill="none"/>
<polygon points="191.9,47.5 193.3,43.8 197.2,42.9 195.8,46.5" fill="#c90000" stroke="#c90000" stroke-width="0.5"/>
<polyline points="191.9,47.5 193.3,43.8" stroke="#0a0a0a" stroke-width="1.0" fill="none"/>
<polyline points="195.8,46.5 197.2,42.9" stroke="#0a0a0a" stroke-width="1.0" fill="none"/>
<polygon points="193.3,43.8 194.7,41.3 198.6,40.4 197.2,42.9" fill="#b70000" stroke="#b70000" stroke-width="0.5"/>
<polyline points="193.3,43.8 194.7,41.3" stroke="#0a0a0a" stroke-width="1.0" fill="none"/>
<polyline points="197.2,42.9 198.6,40.4" stroke="#0a0a0a" stroke-width="1.0" fill="none"/>
<polygon points="194.7,41.3 196.1,40 199.9,39.1 198.6,40.4" fill="#900000" stroke="#900000" stroke-width="0.5"/>
<polyline points="194.7,41.3 196.1,40" stroke="#0a0a0a" stroke-width="1.0" fill="none"/>
<polyline points="198.6,40.4 199.9,39.1" stroke="#0a0a0a" stroke-width="1.0" fill="none"/>
<polygon points="196.1,40 196.9,39.8 200.7,38.9 199.9,39.1" fill="#d80000" stroke="#d80000" stroke-width="0.5"/>
<polyline points="196.1,40 196.9,39.8" stroke="#0a0a0a" stroke-width="1.0" fill="none"/>
<polyline points="199.9,39.1 200.7,38.9" stroke="#0a0a0a" stroke-width="1.0" fill="none"/>
<polygon points="196.9,39.8 197.5,39.9 201.3,39.1 200.7,38.9" fill="#ff0000" stroke="#ff0000" stroke-width="0.5"/>
<polyline points="196.9,39.8 197.5,39.9" stroke="#0a0a0a" stroke-width="1.0" fill="none"/>
<polyline points="200.7,38.9 201.3,39.1" stroke="#0a0a0a" stroke-width="1.0" fill="none"/>
<line x1="197.5" y1="39.9" x2="201.3" y2="39.1" stroke="#0a0a0a" stroke-width="1.0" fill="none"/>
<polygon points="197.5,39.9 198.7,40.9 199.9,42.9 201.1,45.8 202.2,49.4 203.4,53.8 204.5,58.8 205.7,64.2 206.8,69.9 210.5,68.7 209.4,63 208.2,57.7 207.1,52.8 206,48.5 204.8,44.8 203.7,42 202.5,40.1 201.3,39.1" fill="#0a0a12" stroke="#0a0a12" stroke-width="0.5"/>
<polyline points="197.5,39.9 198.7,40.9 199.9,42.9 201.1,45.8 202.2,49.4 203.4,53.8 204.5,58.8 205.7,64.2 206.8,69.9" stroke="#0a0a0a" stroke-width="1.0" fill="none"/>
<polyline points="201.3,39.1 202.5,40.1 203.7,42 204.8,44.8 206,48.5 207.1,52.8 208.2,57.7 209.4,63 210.5,68.7" stroke="#0a0a0a" stroke-width="1.0" fill="none"/>
<line x1="197.5" y1="39.9" x2="201.3" y2="39.1" stroke="#0a0a0a" stroke-width="1.0" fill="none"/>
<line x1="206.8" y1="69.9" x2="210.5" y2="68.7" stroke="#0a0a0a" stroke-width="1.0" fill="none"/>
<polygon points="206.8,69.9 207.7,74.2 208.5,78.6 209.3,83 210.1,87.4 210.9,91.7 211.8,95.9 212.6,100.1 213.4,104.1 214.2,108 215,111.7 215.9,115.2 219.4,113.3 218.6,109.8 217.7,106.1 216.9,102.3 216.1,98.4 215.3,94.3 214.5,90.1 213.7,85.8 212.9,81.5 212.1,77.2 211.3,72.9 210.5,68.7" fill="#ff0000" stroke="#ff0000" stroke-width="0.5"/>
<polyline points="206.8,69.9 207.7,74.2 208.5,78.6 209.3,83 210.1,87.4 210.9,91.7 211.8,95.9 212.6,100.1 213.4,104.1 214.2,108 215,111.7 215.9,115.2" stroke="#0a0a0a" stroke-width="1.0" fill="none"/>
<polyline points="210.5,68.7 211.3,72.9 212.1,77.2 212.9,81.5 213.7,85.8 214.5,90.1 215.3,94.3 216.1,98.4 216.9,102.3 217.7,106.1 218.6,109.8 219.4,113.3" stroke="#0a0a0a" stroke-width="1.0" fill="none"/>
<line x1="206.8" y1="69.9" x2="210.5" y2="68.7" stroke="#0a0a0a" stroke-width="1.0" fill="none"/>
<line x1="215.9" y1="115.2" x2="219.4" y2="113.3" stroke="#0a0a0a" stroke-width="1.0" fill="none"/>
<polygon points="215.9,115.2 217,119.8 218.1,124.1 219.3,128.1 220.4,131.7 221.6,135 222.8,138 223.9,140.7 225.1,143.2 228.5,140.8 227.3,138.4 226.1,135.7 225,132.8 223.9,129.5 222.7,125.9 221.6,122 220.5,117.8 219.4,113.3" fill="#0a0a12" stroke="#0a0a12" stroke-width="0.5"/>
<polyline points="215.9,115.2 217,119.8 218.1,124.1 219.3,128.1 220.4,131.7 221.6,135 222.8,138 223.9,140.7 225.1,143.2" stroke="#0a0a0a" stroke-width="1.0" fill="none"/>
<polyline points="219.4,113.3 220.5,117.8 221.6,122 222.7,125.9 223.9,129.5 225,132.8 226.1,135.7 227.3,138.4 228.5,140.8" stroke="#0a0a0a" stroke-width="1.0" fill="none"/>
<line x1="215.9" y1="115.2" x2="219.4" y2="113.3" stroke="#0a0a0a" stroke-width="1.0" fill="none"/>
<line x1="225.1" y1="143.2" x2="228.5" y2="140.8" stroke="#0a0a0a" stroke-width="1.0" fill="none"/>
<polygon points="225.1,143.2 227,146.6 228.9,149.4 230.8,151.8 232.7,153.7 234.7,155.3 237.9,152.8 236,151.2 234.1,149.3 232.2,147 230.3,144.2 228.5,140.8" fill="#ff0000" stroke="#ff0000" stroke-width="0.5"/>
<polyline points="225.1,143.2 227,146.6 228.9,149.4 230.8,151.8 232.7,153.7 234.7,155.3" stroke="#0a0a0a" stroke-width="1.0" fill="none"/>
<polyline points="228.5,140.8 230.3,144.2 232.2,147 234.1,149.3 236,151.2 237.9,152.8" stroke="#0a0a0a" stroke-width="1.0" fill="none"/>
<line x1="225.1" y1="143.2" x2="228.5" y2="140.8" stroke="#0a0a0a" stroke-width="1.0" fill="none"/>
<line x1="234.7" y1="155.3" x2="237.9" y2="152.8" stroke="#0a0a0a" stroke-width="1.0" fill="none"/>
<polygon points="234.7,155.3 237.9,157.3 241.2,158.7 244.5,159.6 247.6,157 244.3,156.1 241.1,154.8 237.9,152.8" fill="#0a0a12" stroke="#0a0a12" stroke-width="0.5"/>
<polyline points="234.7,155.3 237.9,157.3 241.2,158.7 244.5,159.6" stroke="#0a0a0a" stroke-width="1.0" fill="none"/>
<polyline points="237.9,152.8 241.1,154.8 244.3,156.1 247.6,157" stroke="#0a0a0a" stroke-width="1.0" fill="none"/>
<line x1="234.7" y1="155.3" x2="237.9" y2="152.8" stroke="#0a0a0a" stroke-width="1.0" fill="none"/>
<line x1="244.5" y1="159.6" x2="247.6" y2="157" stroke="#0a0a0a" stroke-width="1.0" fill="none"/>
<polygon points="244.5,159.6 247.8,160.2 251.2,160.5 254.2,157.9 250.9,157.6 247.6,157" fill="#f50000" stroke="#f50000" stroke-width="0.5"/>
<polyline points="244.5,159.6 247.8,160.2 251.2,160.5" stroke="#0a0a0a" stroke-width="1.0" fill="none"/>
<polyline points="247.6,157 250.9,157.6 254.2,157.9" stroke="#0a0a0a" stroke-width="1.0" fill="none"/>
<line x1="244.5" y1="159.6" x2="247.6" y2="157" stroke="#0a0a0a" stroke-width="1.0" fill="none"/>
<polygon points="251.2,160.5 254.5,160.7 257.5,158 254.2,157.9" fill="#ec0000" stroke="#ec0000" stroke-width="0.5"/>
<polyline points="251.2,160.5 254.5,160.7" stroke="#0a0a0a" stroke-width="1.0" fill="none"/>
<polyline points="254.2,157.9 257.5,158" stroke="#0a0a0a" stroke-width="1.0" fill="none"/>
<line x1="254.5" y1="160.7" x2="257.5" y2="158" stroke="#0a0a0a" stroke-width="1.0" fill="none"/>
<polygon points="254.5,160.7 257.9,160.7 261.3,160.7 264.8,160.6 267.6,157.9 264.2,158 260.8,158 257.5,158" fill="#0a0a12" stroke="#0a0a12" stroke-width="0.5"/>
<polyline points="254.5,160.7 257.9,160.7 261.3,160.7 264.8,160.6" stroke="#0a0a0a" stroke-width="1.0" fill="none"/>
<polyline points="257.5,158 260.8,158 264.2,158 267.6,157.9" stroke="#0a0a0a" stroke-width="1.0" fill="none"/>
<line x1="254.5" y1="160.7" x2="257.5" y2="158" stroke="#0a0a0a" stroke-width="1.0" fill="none"/>
<line x1="264.8" y1="160.6" x2="267.6" y2="157.9" stroke="#0a0a0a" stroke-width="1.0" fill="none"/>
<polygon points="112.6,142.7 115.4,143.3 118.2,144 121,144.7 125.6,142.5 122.8,141.8 120,141.1 117.3,140.5" fill="#00fe00" stroke="#00fe00" stroke-width="0.5"/>
<polyline points="112.6,142.7 115.4,143.3 118.2,144 121,144.7" stroke="#0a0a0a" stroke-width="1.0" fill="none"/>
<polyline points="117.3,140.5 120,141.1 122.8,141.8 125.6,142.5" stroke="#0a0a0a" stroke-width="1.0" fill="none"/>
<line x1="112.6" y1="142.7" x2="117.3" y2="140.5" stroke="#0a0a0a" stroke-width="1.0" fill="none"/>
<line x1="121" y1="144.7" x2="125.6" y2="142.5" stroke="#0a0a0a" stroke-width="1.0" fill="none"/>
<polygon points="121,144.7 123.9,145.5 126.7,146.3 129.6,147.2 134.1,144.9 131.2,144.1 128.4,143.3 125.6,142.5" fill="#ffff00" stroke="#ffff00" stroke-width="0.5"/>
<polyline points="121,144.7 123.9,145.5 126.7,146.3 129.6,147.2" stroke="#0a0a0a" stroke-width="1.0" fill="none"/>
<polyline points="125.6,142.5 128.4,143.3 131.2,144.1 134.1,144.9" stroke="#0a0a0a" stroke-width="1.0" fill="none"/>
<line x1="121" y1="144.7" x2="125.6" y2="142.5" stroke="#0a0a0a" stroke-width="1.0" fill="none"/>
<line x1="129.6" y1="147.2" x2="134.1" y2="144.9" stroke="#0a0a0a" stroke-width="1.0" fill="none"/>
<polygon points="129.6,147.2 132.4,148 135.3,148.7 138.2,149.4 142.6,147.1 139.8,146.4 136.9,145.7 134.1,144.9" fill="#00fe00" stroke="#00fe00" stroke-width="0.5"/>
<polyline points="129.6,147.2 132.4,148 135.3,148.7 138.2,149.4" stroke="#0a0a0a" stroke-width="1.0" fill="none"/>
<polyline points="134.1,144.9 136.9,145.7 139.8,146.4 142.6,147.1" stroke="#0a0a0a" stroke-width="1.0" fill="none"/>
<line x1="129.6" y1="147.2" x2="134.1" y2="144.9" stroke="#0a0a0a" stroke-width="1.0" fill="none"/>
<line x1="138.2" y1="149.4" x2="142.6" y2="147.1" stroke="#0a0a0a" stroke-width="1.0" fill="none"/>
<polygon points="138.2,149.4 141.1,150 144,150.3 148.4,148 145.5,147.6 142.6,147.1" fill="#fff700" stroke="#fff700" stroke-width="0.5"/>
<polyline points="138.2,149.4 141.1,150 144,150.3" stroke="#0a0a0a" stroke-width="1.0" fill="none"/>
<polyline points="142.6,147.1 145.5,147.6 148.4,148" stroke="#0a0a0a" stroke-width="1.0" fill="none"/>
<line x1="138.2" y1="149.4" x2="142.6" y2="147.1" stroke="#0a0a0a" stroke-width="1.0" fill="none"/>
<polygon points="144,150.3 147,150.4 151.3,148.1 148.4,148" fill="#fbec00" stroke="#fbec00" stroke-width="0.5"/>
<polyline points="144,150.3 147,150.4" stroke="#0a0a0a" stroke-width="1.0" fill="none"/>
<polyline points="148.4,148 151.3,148.1" stroke="#0a0a0a" stroke-width="1.0" fill="none"/>
<line x1="147" y1="150.4" x2="151.3" y2="148.1" stroke="#0a0a0a" stroke-width="1.0" fill="none"/>
<polygon points="147,150.4 149.9,150.2 154.2,147.8 151.3,148.1" fill="#00df00" stroke="#00df00" stroke-width="0.5"/>
<polyline points="147,150.4 149.9,150.2" stroke="#0a0a0a" stroke-width="1.0" fill="none"/>
<polyline points="151.3,148.1 154.2,147.8" stroke="#0a0a0a" stroke-width="1.0" fill="none"/>
<line x1="147" y1="150.4" x2="151.3" y2="148.1" stroke="#0a0a0a" stroke-width="1.0" fill="none"/>
<polygon points="149.9,150.2 152.9,149.4 157.1,147.1 154.2,147.8" fill="#00cc00" stroke="#00cc00" stroke-width="0.5"/>
<polyline points="149.9,150.2 152.9,149.4" stroke="#0a0a0a" stroke-width="1.0" fill="none"/>
<polyline points="154.2,147.8 157.1,147.1" stroke="#0a0a0a" stroke-width="1.0" fill="none"/>
<polygon points="152.9,149.4 155.8,148 160,145.6 157.1,147.1" fill="#009000" stroke="#009000" stroke-width="0.5"/>
<polyline points="152.9,149.4 155.8,148" stroke="#0a0a0a" stroke-width="1.0" fill="none"/>
<polyline points="157.1,147.1 160,145.6" stroke="#0a0a0a" stroke-width="1.0" fill="none"/>
<line x1="155.8" y1="148" x2="160" y2="145.6" stroke="#0a0a0a" stroke-width="1.0" fill="none"/>
<polygon points="155.8,148 157.6,146.7 159.4,145 163.6,142.7 161.8,144.3 160,145.6" fill="#999000" stroke="#999000" stroke-width="0.5"/>
<polyline points="155.8,148 157.6,146.7 159.4,145" stroke="#0a0a0a" stroke-width="1.0" fill="none"/>
<polyline points="160,145.6 161.8,144.3 163.6,142.7" stroke="#0a0a0a" stroke-width="1.0" fill="none"/>
<line x1="155.8" y1="148" x2="160" y2="145.6" stroke="#0a0a0a" stroke-width="1.0" fill="none"/>
<polygon points="159.4,145 161.2,142.9 165.4,140.6 163.6,142.7" fill="#a99f00" stroke="#a99f00" stroke-width="0.5"/>
<polyline points="159.4,145 161.2,142.9" stroke="#0a0a0a" stroke-width="1.0" fill="none"/>
<polyline points="163.6,142.7 165.4,140.6" stroke="#0a0a0a" stroke-width="1.0" fill="none"/>
<polygon points="161.2,142.9 163,140.2 167.2,137.9 165.4,140.6" fill="#b7ac00" stroke="#b7ac00" stroke-width="0.5"/>
<polyline points="161.2,142.9 163,140.2" stroke="#0a0a0a" stroke-width="1.0" fill="none"/>
<polyline points="165.4,140.6 167.2,137.9" stroke="#0a0a0a" stroke-width="1.0" fill="none"/>
<polygon points="163,140.2 164.8,136.9 169,134.7 167.2,137.9" fill="#c4b800" stroke="#c4b800" stroke-width="0.5"/>
<polyline points="163,140.2 164.8,136.9" stroke="#0a0a0a" stroke-width="1.0" fill="none"/>
<polyline points="167.2,137.9 169,134.7" stroke="#0a0a0a" stroke-width="1.0" fill="none"/>
<line x1="164.8" y1="136.9" x2="169" y2="134.7" stroke="#0a0a0a" stroke-width="1.0" fill="none"/>
<polygon points="164.8,136.9 165.9,134.5 167.1,131.9 171.2,129.7 170.1,132.4 169,134.7" fill="#00c200" stroke="#00c200" stroke-width="0.5"/>
<polyline points="164.8,136.9 165.9,134.5 167.1,131.9" stroke="#0a0a0a" stroke-width="1.0" fill="none"/>
<polyline points="169,134.7 170.1,132.4 171.2,129.7" stroke="#0a0a0a" stroke-width="1.0" fill="none"/>
<line x1="164.8" y1="136.9" x2="169" y2="134.7" stroke="#0a0a0a" stroke-width="1.0" fill="none"/>
<polygon points="167.1,131.9 168.2,128.9 169.4,125.6 170.5,122 174.6,119.9 173.5,123.5 172.3,126.8 171.2,129.7" fill="#00cd00" stroke="#00cd00" stroke-width="0.5"/>
<polyline points="167.1,131.9 168.2,128.9 169.4,125.6 170.5,122" stroke="#0a0a0a" stroke-width="1.0" fill="none"/>
<polyline points="171.2,129.7 172.3,126.8 173.5,123.5 174.6,119.9" stroke="#0a0a0a" stroke-width="1.0" fill="none"/>
<polygon points="170.5,122 171.7,118 172.9,113.7 174,109 178.1,107.2 177,111.8 175.8,116 174.6,119.9" fill="#00d600" stroke="#00d600" stroke-width="0.5"/>
<polyline points="170.5,122 171.7,118 172.9,113.7 174,109" stroke="#0a0a0a" stroke-width="1.0" fill="none"/>
<polyline points="174.6,119.9 175.8,116 177,111.8 178.1,107.2" stroke="#0a0a0a" stroke-width="1.0" fill="none"/>
<line x1="174" y1="109" x2="178.1" y2="107.2" stroke="#0a0a0a" stroke-width="1.0" fill="none"/>
<polygon points="174,109 174.9,105.5 175.8,101.7 176.6,97.9 177.5,93.9 178.4,89.7 179.2,85.6 180.1,81.3 181,77.1 181.9,72.8 182.8,68.6 183.7,64.6 187.7,63.4 186.8,67.4 185.9,71.5 185,75.7 184.2,79.9 183.3,84.1 182.4,88.2 181.6,92.2 180.7,96.2 179.8,100 179,103.7 178.1,107.2" fill="#ebdd00" stroke="#ebdd00" stroke-width="0.5"/>
<polyline points="174,109 174.9,105.5 175.8,101.7 176.6,97.9 177.5,93.9 178.4,89.7 179.2,85.6 180.1,81.3 181,77.1 181.9,72.8 182.8,68.6 183.7,64.6" stroke="#0a0a0a" stroke-width="1.0" fill="none"/>
<polyline points="178.1,107.2 179,103.7 179.8,100 180.7,96.2 181.6,92.2 182.4,88.2 183.3,84.1 184.2,79.9 185,75.7 185.9,71.5 186.8,67.4 187.7,63.4" stroke="#0a0a0a" stroke-width="1.0" fill="none"/>
<line x1="174" y1="109" x2="178.1" y2="107.2" stroke="#0a0a0a" stroke-width="1.0" fill="none"/>
<line x1="183.7" y1="64.6" x2="187.7" y2="63.4" stroke="#0a0a0a" stroke-width="1.0" fill="none"/>
<polygon points="183.7,64.6 185.1,58.5 186.5,53.1 187.9,48.4 191.9,47.5 190.5,52.1 189.1,57.4 187.7,63.4" fill="#00d700" stroke="#00d700" stroke-width="0.5"/>
<polyline points="183.7,64.6 185.1,58.5 186.5,53.1 187.9,48.4" stroke="#0a0a0a" stroke-width="1.0" fill="none"/>
<polyline points="187.7,63.4 189.1,57.4 190.5,52.1 191.9,47.5" stroke="#0a0a0a" stroke-width="1.0" fill="none"/>
<line x1="183.7" y1="64.6" x2="187.7" y2="63.4" stroke="#0a0a0a" stroke-width="1.0" fill="none"/>
<polygon points="187.9,48.4 189.3,44.7 193.3,43.8 191.9,47.5" fill="#00c900" stroke="#00c900" stroke-width="0.5"/>
<polyline points="187.9,48.4 189.3,44.7" stroke="#0a0a0a" stroke-width="1.0" fill="none"/>
<polyline points="191.9,47.5 193.3,43.8" stroke="#0a0a0a" stroke-width="1.0" fill="none"/>
<polygon points="189.3,44.7 190.7,42.2 194.7,41.3 193.3,43.8" fill="#00b700" stroke="#00b700" stroke-width="0.5"/>
<polyline points="189.3,44.7 190.7,42.2" stroke="#0a0a0a" stroke-width="1.0" fill="none"/>
<polyline points="193.3,43.8 194.7,41.3" stroke="#0a0a0a" stroke-width="1.0" fill="none"/>
<polygon points="190.7,42.2 192.2,40.8 196.1,40 194.7,41.3" fill="#009000" stroke="#009000" stroke-width="0.5"/>
<polyline points="190.7,42.2 192.2,40.8" stroke="#0a0a0a" stroke-width="1.0" fill="none"/>
<polyline points="194.7,41.3 196.1,40" stroke="#0a0a0a" stroke-width="1.0" fill="none"/>
<polygon points="192.2,40.8 193,40.6 196.9,39.8 196.1,40" fill="#00d800" stroke="#00d800" stroke-width="0.5"/>
<polyline points="192.2,40.8 193,40.6" stroke="#0a0a0a" stroke-width="1.0" fill="none"/>
<polyline points="196.1,40 196.9,39.8" stroke="#0a0a0a" stroke-width="1.0" fill="none"/>
<polygon points="193,40.6 193.6,40.8 197.5,39.9 196.9,39.8" fill="#00ff00" stroke="#00ff00" stroke-width="0.5"/>
<polyline points="193,40.6 193.6,40.8" stroke="#0a0a0a" stroke-width="1.0" fill="none"/>
<polyline points="196.9,39.8 197.5,39.9" stroke="#0a0a0a" stroke-width="1.0" fill="none"/>
<line x1="193.6" y1="40.8" x2="197.5" y2="39.9" stroke="#0a0a0a" stroke-width="1.0" fill="none"/>
<polygon points="193.6,40.8 194.8,41.8 196,43.8 197.2,46.7 198.4,50.4 199.6,54.9 200.7,59.9 201.9,65.4 203.1,71.3 206.8,69.9 205.7,64.2 204.5,58.8 203.4,53.8 202.2,49.4 201.1,45.8 199.9,42.9 198.7,40.9 197.5,39.9" fill="#ffff00" stroke="#ffff00" stroke-width="0.5"/>
<polyline points="193.6,40.8 194.8,41.8 196,43.8 197.2,46.7 198.4,50.4 199.6,54.9 200.7,59.9 201.9,65.4 203.1,71.3" stroke="#0a0a0a" stroke-width="1.0" fill="none"/>
<polyline points="197.5,39.9 198.7,40.9 199.9,42.9 201.1,45.8 202.2,49.4 203.4,53.8 204.5,58.8 205.7,64.2 206.8,69.9" stroke="#0a0a0a" stroke-width="1.0" fill="none"/>
<line x1="193.6" y1="40.8" x2="197.5" y2="39.9" stroke="#0a0a0a" stroke-width="1.0" fill="none"/>
<line x1="203.1" y1="71.3" x2="206.8" y2="69.9" stroke="#0a0a0a" stroke-width="1.0" fill="none"/>
<polygon points="203.1,71.3 203.9,75.6 204.7,80.1 205.6,84.5 206.4,89 207.2,93.3 208.1,97.7 208.9,101.9 209.8,105.9 210.6,109.9 211.4,113.6 212.3,117.2 215.9,115.2 215,111.7 214.2,108 213.4,104.1 212.6,100.1 211.8,95.9 210.9,91.7 210.1,87.4 209.3,83 208.5,78.6 207.7,74.2 206.8,69.9" fill="#00ff00" stroke="#00ff00" stroke-width="0.5"/>
<polyline points="203.1,71.3 203.9,75.6 204.7,80.1 205.6,84.5 206.4,89 207.2,93.3 208.1,97.7 208.9,101.9 209.8,105.9 210.6,109.9 211.4,113.6 212.3,117.2" stroke="#0a0a0a" stroke-width="1.0" fill="none"/>
<polyline points="206.8,69.9 207.7,74.2 208.5,78.6 209.3,83 210.1,87.4 210.9,91.7 211.8,95.9 212.6,100.1 213.4,104.1 214.2,108 215,111.7 215.9,115.2" stroke="#0a0a0a" stroke-width="1.0" fill="none"/>
<line x1="203.1" y1="71.3" x2="206.8" y2="69.9" stroke="#0a0a0a" stroke-width="1.0" fill="none"/>
<line x1="212.3" y1="117.2" x2="215.9" y2="115.2" stroke="#0a0a0a" stroke-width="1.0" fill="none"/>
<polygon points="212.3,117.2 213.4,121.9 214.6,126.3 215.7,130.3 216.9,133.9 218.1,137.3 219.3,140.3 220.5,143.1 221.6,145.6 225.1,143.2 223.9,140.7 222.8,138 221.6,135 220.4,131.7 219.3,128.1 218.1,124.1 217,119.8 215.9,115.2" fill="#ffff00" stroke="#ffff00" stroke-width="0.5"/>
<polyline points="212.3,117.2 213.4,121.9 214.6,126.3 215.7,130.3 216.9,133.9 218.1,137.3 219.3,140.3 220.5,143.1 221.6,145.6" stroke="#0a0a0a" stroke-width="1.0" fill="none"/>
<polyline points="215.9,115.2 217,119.8 218.1,124.1 219.3,128.1 220.4,131.7 221.6,135 222.8,138 223.9,140.7 225.1,143.2" stroke="#0a0a0a" stroke-width="1.0" fill="none"/>
<line x1="212.3" y1="117.2" x2="215.9" y2="115.2" stroke="#0a0a0a" stroke-width="1.0" fill="none"/>
<line x1="221.6" y1="145.6" x2="225.1" y2="143.2" stroke="#0a0a0a" stroke-width="1.0" fill="none"/>
<polygon points="221.6,145.6 223.6,149.1 225.5,152 227.4,154.4 229.4,156.3 231.3,158 234.7,155.3 232.7,153.7 230.8,151.8 228.9,149.4 227,146.6 225.1,143.2" fill="#00ff00" stroke="#00ff00" stroke-width="0.5"/>
<polyline points="221.6,145.6 223.6,149.1 225.5,152 227.4,154.4 229.4,156.3 231.3,158" stroke="#0a0a0a" stroke-width="1.0" fill="none"/>
<polyline points="225.1,143.2 227,146.6 228.9,149.4 230.8,151.8 232.7,153.7 234.7,155.3" stroke="#0a0a0a" stroke-width="1.0" fill="none"/>
<line x1="221.6" y1="145.6" x2="225.1" y2="143.2" stroke="#0a0a0a" stroke-width="1.0" fill="none"/>
<line x1="231.3" y1="158" x2="234.7" y2="155.3" stroke="#0a0a0a" stroke-width="1.0" fill="none"/>
<polygon points="231.3,158 234.6,160 238,161.4 241.3,162.3 244.5,159.6 241.2,158.7 237.9,157.3 234.7,155.3" fill="#ffff00" stroke="#ffff00" stroke-width="0.5"/>
<polyline points="231.3,158 234.6,160 238,161.4 241.3,162.3" stroke="#0a0a0a" stroke-width="1.0" fill="none"/>
<polyline points="234.7,155.3 237.9,157.3 241.2,158.7 244.5,159.6" stroke="#0a0a0a" stroke-width="1.0" fill="none"/>
<line x1="231.3" y1="158" x2="234.7" y2="155.3" stroke="#0a0a0a" stroke-width="1.0" fill="none"/>
<line x1="241.3" y1="162.3" x2="244.5" y2="159.6" stroke="#0a0a0a" stroke-width="1.0" fill="none"/>
<polygon points="241.3,162.3 244.7,162.9 248.1,163.3 251.2,160.5 247.8,160.2 244.5,159.6" fill="#00f500" stroke="#00f500" stroke-width="0.5"/>
<polyline points="241.3,162.3 244.7,162.9 248.1,163.3" stroke="#0a0a0a" stroke-width="1.0" fill="none"/>
<polyline points="244.5,159.6 247.8,160.2 251.2,160.5" stroke="#0a0a0a" stroke-width="1.0" fill="none"/>
<line x1="241.3" y1="162.3" x2="244.5" y2="159.6" stroke="#0a0a0a" stroke-width="1.0" fill="none"/>
<polygon points="248.1,163.3 251.5,163.4 254.5,160.7 251.2,160.5" fill="#00ec00" stroke="#00ec00" stroke-width="0.5"/>
<polyline points="248.1,163.3 251.5,163.4" stroke="#0a0a0a" stroke-width="1.0" fill="none"/>
<polyline points="251.2,160.5 254.5,160.7" stroke="#0a0a0a" stroke-width="1.0" fill="none"/>
<line x1="251.5" y1="163.4" x2="254.5" y2="160.7" stroke="#0a0a0a" stroke-width="1.0" fill="none"/>
<polygon points="251.5,163.4 254.9,163.5 258.4,163.4 261.8,163.3 264.8,160.6 261.3,160.7 257.9,160.7 254.5,160.7" fill="#f4e600" stroke="#f4e600" stroke-width="0.5"/>
<polyline points="251.5,163.4 254.9,163.5 258.4,163.4 261.8,163.3" stroke="#0a0a0a" stroke-width="1.0" fill="none"/>
<polyline points="254.5,160.7 257.9,160.7 261.3,160.7 264.8,160.6" stroke="#0a0a0a" stroke-width="1.0" fill="none"/>
<line x1="251.5" y1="163.4" x2="254.5" y2="160.7" stroke="#0a0a0a" stroke-width="1.0" fill="none"/>
<line x1="261.8" y1="163.3" x2="264.8" y2="160.6" stroke="#0a0a0a" stroke-width="1.0" fill="none"/>
<polygon points="107.8,144.9 110.6,145.5 113.4,146.3 116.3,147 121,144.7 118.2,144 115.4,143.3 112.6,142.7" fill="#fe0000" stroke="#fe0000" stroke-width="0.5"/>
<polyline points="107.8,144.9 110.6,145.5 113.4,146.3 116.3,147" stroke="#0a0a0a" stroke-width="1.0" fill="none"/>
<polyline points="112.6,142.7 115.4,143.3 118.2,144 121,144.7" stroke="#0a0a0a" stroke-width="1.0" fill="none"/>
<line x1="107.8" y1="144.9" x2="112.6" y2="142.7" stroke="#0a0a0a" stroke-width="1.0" fill="none"/>
<line x1="116.3" y1="147" x2="121" y2="144.7" stroke="#0a0a0a" stroke-width="1.0" fill="none"/>
<polygon points="116.3,147 119.1,147.8 122,148.7 124.9,149.5 129.6,147.2 126.7,146.3 123.9,145.5 121,144.7" fill="#0a0a12" stroke="#0a0a12" stroke-width="0.5"/>
<polyline points="116.3,147 119.1,147.8 122,148.7 124.9,149.5" stroke="#0a0a0a" stroke-width="1.0" fill="none"/>
<polyline points="121,144.7 123.9,145.5 126.7,146.3 129.6,147.2" stroke="#0a0a0a" stroke-width="1.0" fill="none"/>
<line x1="116.3" y1="147" x2="121" y2="144.7" stroke="#0a0a0a" stroke-width="1.0" fill="none"/>
<line x1="124.9" y1="149.5" x2="129.6" y2="147.2" stroke="#0a0a0a" stroke-width="1.0" fill="none"/>
<polygon points="124.9,149.5 127.8,150.3 130.7,151.1 133.7,151.8 138.2,149.4 135.3,148.7 132.4,148 129.6,147.2" fill="#fe0000" stroke="#fe0000" stroke-width="0.5"/>
<polyline points="124.9,149.5 127.8,150.3 130.7,151.1 133.7,151.8" stroke="#0a0a0a" stroke-width="1.0" fill="none"/>
<polyline points="129.6,147.2 132.4,148 135.3,148.7 138.2,149.4" stroke="#0a0a0a" stroke-width="1.0" fill="none"/>
<line x1="124.9" y1="149.5" x2="129.6" y2="147.2" stroke="#0a0a0a" stroke-width="1.0" fill="none"/>
<line x1="133.7" y1="151.8" x2="138.2" y2="149.4" stroke="#0a0a0a" stroke-width="1.0" fill="none"/>
<polygon points="133.7,151.8 136.6,152.4 139.6,152.8 142.5,152.9 147,150.4 144,150.3 141.1,150 138.2,149.4" fill="#0a0a12" stroke="#0a0a12" stroke-width="0.5"/>
<polyline points="133.7,151.8 136.6,152.4 139.6,152.8 142.5,152.9" stroke="#0a0a0a" stroke-width="1.0" fill="none"/>
<polyline points="138.2,149.4 141.1,150 144,150.3 147,150.4" stroke="#0a0a0a" stroke-width="1.0" fill="none"/>
<line x1="133.7" y1="151.8" x2="138.2" y2="149.4" stroke="#0a0a0a" stroke-width="1.0" fill="none"/>
<line x1="142.5" y1="152.9" x2="147" y2="150.4" stroke="#0a0a0a" stroke-width="1.0" fill="none"/>
<polygon points="142.5,152.9 145.5,152.6 149.9,150.2 147,150.4" fill="#df0000" stroke="#df0000" stroke-width="0.5"/>
<polyline points="142.5,152.9 145.5,152.6" stroke="#0a0a0a" stroke-width="1.0" fill="none"/>
<polyline points="147,150.4 149.9,150.2" stroke="#0a0a0a" stroke-width="1.0" fill="none"/>
<line x1="142.5" y1="152.9" x2="147" y2="150.4" stroke="#0a0a0a" stroke-width="1.0" fill="none"/>
<polygon points="145.5,152.6 148.5,151.8 152.9,149.4 149.9,150.2" fill="#cc0000" stroke="#cc0000" stroke-width="0.5"/>
<polyline points="145.5,152.6 148.5,151.8" stroke="#0a0a0a" stroke-width="1.0" fill="none"/>
<polyline points="149.9,150.2 152.9,149.4" stroke="#0a0a0a" stroke-width="1.0" fill="none"/>
<polygon points="148.5,151.8 151.5,150.4 155.8,148 152.9,149.4" fill="#900000" stroke="#900000" stroke-width="0.5"/>
<polyline points="148.5,151.8 151.5,150.4" stroke="#0a0a0a" stroke-width="1.0" fill="none"/>
<polyline points="152.9,149.4 155.8,148" stroke="#0a0a0a" stroke-width="1.0" fill="none"/>
<line x1="151.5" y1="150.4" x2="155.8" y2="148" stroke="#0a0a0a" stroke-width="1.0" fill="none"/>
<polygon points="151.5,150.4 153.3,149.1 155.1,147.4 156.9,145.2 158.7,142.5 160.5,139.2 164.8,136.9 163,140.2 161.2,142.9 159.4,145 157.6,146.7 155.8,148" fill="#0a0a12" stroke="#0a0a12" stroke-width="0.5"/>
<polyline points="151.5,150.4 153.3,149.1 155.1,147.4 156.9,145.2 158.7,142.5 160.5,139.2" stroke="#0a0a0a" stroke-width="1.0" fill="none"/>
<polyline points="155.8,148 157.6,146.7 159.4,145 161.2,142.9 163,140.2 164.8,136.9" stroke="#0a0a0a" stroke-width="1.0" fill="none"/>
<line x1="151.5" y1="150.4" x2="155.8" y2="148" stroke="#0a0a0a" stroke-width="1.0" fill="none"/>
<line x1="160.5" y1="139.2" x2="164.8" y2="136.9" stroke="#0a0a0a" stroke-width="1.0" fill="none"/>
<polygon points="160.5,139.2 161.7,136.8 162.8,134.1 167.1,131.9 165.9,134.5 164.8,136.9" fill="#c20000" stroke="#c20000" stroke-width="0.5"/>
<polyline points="160.5,139.2 161.7,136.8 162.8,134.1" stroke="#0a0a0a" stroke-width="1.0" fill="none"/>
<polyline points="164.8,136.9 165.9,134.5 167.1,131.9" stroke="#0a0a0a" stroke-width="1.0" fill="none"/>
<line x1="160.5" y1="139.2" x2="164.8" y2="136.9" stroke="#0a0a0a" stroke-width="1.0" fill="none"/>
<polygon points="162.8,134.1 164,131 165.2,127.7 166.3,124 170.5,122 169.4,125.6 168.2,128.9 167.1,131.9" fill="#cd0000" stroke="#cd0000" stroke-width="0.5"/>
<polyline points="162.8,134.1 164,131 165.2,127.7 166.3,124" stroke="#0a0a0a" stroke-width="1.0" fill="none"/>
<polyline points="167.1,131.9 168.2,128.9 169.4,125.6 170.5,122" stroke="#0a0a0a" stroke-width="1.0" fill="none"/>
<polygon points="166.3,124 167.5,120 168.7,115.6 169.8,110.9 174,109 172.9,113.7 171.7,118 170.5,122" fill="#d60000" stroke="#d60000" stroke-width="0.5"/>
<polyline points="166.3,124 167.5,120 168.7,115.6 169.8,110.9" stroke="#0a0a0a" stroke-width="1.0" fill="none"/>
<polyline points="170.5,122 171.7,118 172.9,113.7 174,109" stroke="#0a0a0a" stroke-width="1.0" fill="none"/>
<line x1="169.8" y1="110.9" x2="174" y2="109" stroke="#0a0a0a" stroke-width="1.0" fill="none"/>
<polygon points="169.8,110.9 170.7,107.3 171.6,103.5 172.4,99.6 173.3,95.5 174.2,91.4 175.1,87.1 176,82.8 176.9,78.5 177.7,74.2 178.6,69.9 179.5,65.8 183.7,64.6 182.8,68.6 181.9,72.8 181,77.1 180.1,81.3 179.2,85.6 178.4,89.7 177.5,93.9 176.6,97.9 175.8,101.7 174.9,105.5 174,109" fill="#0a0a12" stroke="#0a0a12" stroke-width="0.5"/>
<polyline points="169.8,110.9 170.7,107.3 171.6,103.5 172.4,99.6 173.3,95.5 174.2,91.4 175.1,87.1 176,82.8 176.9,78.5 177.7,74.2 178.6,69.9 179.5,65.8" stroke="#0a0a0a" stroke-width="1.0" fill="none"/>
<polyline points="174,109 174.9,105.5 175.8,101.7 176.6,97.9 177.5,93.9 178.4,89.7 179.2,85.6 180.1,81.3 181,77.1 181.9,72.8 182.8,68.6 183.7,64.6" stroke="#0a0a0a" stroke-width="1.0" fill="none"/>
<line x1="169.8" y1="110.9" x2="174" y2="109" stroke="#0a0a0a" stroke-width="1.0" fill="none"/>
<line x1="179.5" y1="65.8" x2="183.7" y2="64.6" stroke="#0a0a0a" stroke-width="1.0" fill="none"/>
<polygon points="179.5,65.8 181,59.7 182.4,54.2 183.8,49.4 187.9,48.4 186.5,53.1 185.1,58.5 183.7,64.6" fill="#d70000" stroke="#d70000" stroke-width="0.5"/>
<polyline points="179.5,65.8 181,59.7 182.4,54.2 183.8,49.4" stroke="#0a0a0a" stroke-width="1.0" fill="none"/>
<polyline points="183.7,64.6 185.1,58.5 186.5,53.1 187.9,48.4" stroke="#0a0a0a" stroke-width="1.0" fill="none"/>
<line x1="179.5" y1="65.8" x2="183.7" y2="64.6" stroke="#0a0a0a" stroke-width="1.0" fill="none"/>
<polygon points="183.8,49.4 185.2,45.7 189.3,44.7 187.9,48.4" fill="#c90000" stroke="#c90000" stroke-width="0.5"/>
<polyline points="183.8,49.4 185.2,45.7" stroke="#0a0a0a" stroke-width="1.0" fill="none"/>
<polyline points="187.9,48.4 189.3,44.7" stroke="#0a0a0a" stroke-width="1.0" fill="none"/>
<polygon points="185.2,45.7 186.7,43.1 190.7,42.2 189.3,44.7" fill="#b70000" stroke="#b70000" stroke-width="0.5"/>
<polyline points="185.2,45.7 186.7,43.1" stroke="#0a0a0a" stroke-width="1.0" fill="none"/>
<polyline points="189.3,44.7 190.7,42.2" stroke="#0a0a0a" stroke-width="1.0" fill="none"/>
<polygon points="186.7,43.1 188.1,41.7 192.2,40.8 190.7,42.2" fill="#900000" stroke="#900000" stroke-width="0.5"/>
<polyline points="186.7,43.1 188.1,41.7" stroke="#0a0a0a" stroke-width="1.0" fill="none"/>
<polyline points="190.7,42.2 192.2,40.8" stroke="#0a0a0a" stroke-width="1.0" fill="none"/>
<polygon points="188.1,41.7 188.9,41.5 193,40.6 192.2,40.8" fill="#d80000" stroke="#d80000" stroke-width="0.5"/>
<polyline points="188.1,41.7 188.9,41.5" stroke="#0a0a0a" stroke-width="1.0" fill="none"/>
<polyline points="192.2,40.8 193,40.6" stroke="#0a0a0a" stroke-width="1.0" fill="none"/>
<polygon points="188.9,41.5 189.5,41.6 193.6,40.8 193,40.6" fill="#ff0000" stroke="#ff0000" stroke-width="0.5"/>
<polyline points="188.9,41.5 189.5,41.6" stroke="#0a0a0a" stroke-width="1.0" fill="none"/>
<polyline points="193,40.6 193.6,40.8" stroke="#0a0a0a" stroke-width="1.0" fill="none"/>
<line x1="189.5" y1="41.6" x2="193.6" y2="40.8" stroke="#0a0a0a" stroke-width="1.0" fill="none"/>
<polygon points="189.5,41.6 190.7,42.7 192,44.7 193.2,47.7 194.4,51.5 195.6,56 196.8,61.1 198,66.7 199.2,72.6 203.1,71.3 201.9,65.4 200.7,59.9 199.6,54.9 198.4,50.4 197.2,46.7 196,43.8 194.8,41.8 193.6,40.8" fill="#0a0a12" stroke="#0a0a12" stroke-width="0.5"/>
<polyline points="189.5,41.6 190.7,42.7 192,44.7 193.2,47.7 194.4,51.5 195.6,56 196.8,61.1 198,66.7 199.2,72.6" stroke="#0a0a0a" stroke-width="1.0" fill="none"/>
<polyline points="193.6,40.8 194.8,41.8 196,43.8 197.2,46.7 198.4,50.4 199.6,54.9 200.7,59.9 201.9,65.4 203.1,71.3" stroke="#0a0a0a" stroke-width="1.0" fill="none"/>
<line x1="189.5" y1="41.6" x2="193.6" y2="40.8" stroke="#0a0a0a" stroke-width="1.0" fill="none"/>
<line x1="199.2" y1="72.6" x2="203.1" y2="71.3" stroke="#0a0a0a" stroke-width="1.0" fill="none"/>
<polygon points="199.2,72.6 200,77.1 200.9,81.6 201.7,86.1 202.6,90.6 203.4,95 204.3,99.4 205.1,103.7 206,107.8 206.8,111.8 207.7,115.6 208.6,119.3 212.3,117.2 211.4,113.6 210.6,109.9 209.8,105.9 208.9,101.9 208.1,97.7 207.2,93.3 206.4,89 205.6,84.5 204.7,80.1 203.9,75.6 203.1,71.3" fill="#ff0000" stroke="#ff0000" stroke-width="0.5"/>
<polyline points="199.2,72.6 200,77.1 200.9,81.6 201.7,86.1 202.6,90.6 203.4,95 204.3,99.4 205.1,103.7 206,107.8 206.8,111.8 207.7,115.6 208.6,119.3" stroke="#0a0a0a" stroke-width="1.0" fill="none"/>
<polyline points="203.1,71.3 203.9,75.6 204.7,80.1 205.6,84.5 206.4,89 207.2,93.3 208.1,97.7 208.9,101.9 209.8,105.9 210.6,109.9 211.4,113.6 212.3,117.2" stroke="#0a0a0a" stroke-width="1.0" fill="none"/>
<line x1="199.2" y1="72.6" x2="203.1" y2="71.3" stroke="#0a0a0a" stroke-width="1.0" fill="none"/>
<line x1="208.6" y1="119.3" x2="212.3" y2="117.2" stroke="#0a0a0a" stroke-width="1.0" fill="none"/>
<polygon points="208.6,119.3 209.7,124.1 210.9,128.5 212.1,132.5 213.3,136.3 214.5,139.7 215.7,142.8 216.9,145.6 218.1,148.1 221.6,145.6 220.5,143.1 219.3,140.3 218.1,137.3 216.9,133.9 215.7,130.3 214.6,126.3 213.4,121.9 212.3,117.2" fill="#0a0a12" stroke="#0a0a12" stroke-width="0.5"/>
<polyline points="208.6,119.3 209.7,124.1 210.9,128.5 212.1,132.5 213.3,136.3 214.5,139.7 215.7,142.8 216.9,145.6 218.1,148.1" stroke="#0a0a0a" stroke-width="1.0" fill="none"/>
<polyline points="212.3,117.2 213.4,121.9 214.6,126.3 215.7,130.3 216.9,133.9 218.1,137.3 219.3,140.3 220.5,143.1 221.6,145.6" stroke="#0a0a0a" stroke-width="1.0" fill="none"/>
<line x1="208.6" y1="119.3" x2="212.3" y2="117.2" stroke="#0a0a0a" stroke-width="1.0" fill="none"/>
<line x1="218.1" y1="148.1" x2="221.6" y2="145.6" stroke="#0a0a0a" stroke-width="1.0" fill="none"/>
<polygon points="218.1,148.1 220,151.6 222,154.6 223.9,157 225.9,159 227.9,160.7 231.3,158 229.4,156.3 227.4,154.4 225.5,152 223.6,149.1 221.6,145.6" fill="#ff0000" stroke="#ff0000" stroke-width="0.5"/>
<polyline points="218.1,148.1 220,151.6 222,154.6 223.9,157 225.9,159 227.9,160.7" stroke="#0a0a0a" stroke-width="1.0" fill="none"/>
<polyline points="221.6,145.6 223.6,149.1 225.5,152 227.4,154.4 229.4,156.3 231.3,158" stroke="#0a0a0a" stroke-width="1.0" fill="none"/>
<line x1="218.1" y1="148.1" x2="221.6" y2="145.6" stroke="#0a0a0a" stroke-width="1.0" fill="none"/>
<line x1="227.9" y1="160.7" x2="231.3" y2="158" stroke="#0a0a0a" stroke-width="1.0" fill="none"/>
<polygon points="227.9,160.7 231.3,162.7 234.6,164.2 238,165.1 241.3,162.3 238,161.4 234.6,160 231.3,158" fill="#0a0a12" stroke="#0a0a12" stroke-width="0.5"/>
<polyline points="227.9,160.7 231.3,162.7 234.6,164.2 238,165.1" stroke="#0a0a0a" stroke-width="1.0" fill="none"/>
<polyline points="231.3,158 234.6,160 238,161.4 241.3,162.3" stroke="#0a0a0a" stroke-width="1.0" fill="none"/>
<line x1="227.9" y1="160.7" x2="231.3" y2="158" stroke="#0a0a0a" stroke-width="1.0" fill="none"/>
<line x1="238" y1="165.1" x2="241.3" y2="162.3" stroke="#0a0a0a" stroke-width="1.0" fill="none"/>
<polygon points="238,165.1 241.4,165.7 244.9,166.1 248.1,163.3 244.7,162.9 241.3,162.3" fill="#f50000" stroke="#f50000" stroke-width="0.5"/>
<polyline points="238,165.1 241.4,165.7 244.9,166.1" stroke="#0a0a0a" stroke-width="1.0" fill="none"/>
<polyline points="241.3,162.3 244.7,162.9 248.1,163.3" stroke="#0a0a0a" stroke-width="1.0" fill="none"/>
<line x1="238" y1="165.1" x2="241.3" y2="162.3" stroke="#0a0a0a" stroke-width="1.0" fill="none"/>
<polygon points="244.9,166.1 248.3,166.2 251.5,163.4 248.1,163.3" fill="#ec0000" stroke="#ec0000" stroke-width="0.5"/>
<polyline points="244.9,166.1 248.3,166.2" stroke="#0a0a0a" stroke-width="1.0" fill="none"/>
<polyline points="248.1,163.3 251.5,163.4" stroke="#0a0a0a" stroke-width="1.0" fill="none"/>
<line x1="248.3" y1="166.2" x2="251.5" y2="163.4" stroke="#0a0a0a" stroke-width="1.0" fill="none"/>
<polygon points="248.3,166.2 251.8,166.3 255.3,166.3 258.8,166.2 261.8,163.3 258.4,163.4 254.9,163.5 251.5,163.4" fill="#0a0a12" stroke="#0a0a12" stroke-width="0.5"/>
<polyline points="248.3,166.2 251.8,166.3 255.3,166.3 258.8,166.2" stroke="#0a0a0a" stroke-width="1.0" fill="none"/>
<polyline points="251.5,163.4 254.9,163.5 258.4,163.4 261.8,163.3" stroke="#0a0a0a" stroke-width="1.0" fill="none"/>
<line x1="248.3" y1="166.2" x2="251.5" y2="163.4" stroke="#0a0a0a" stroke-width="1.0" fill="none"/>
<line x1="258.8" y1="166.2" x2="261.8" y2="163.3" stroke="#0a0a0a" stroke-width="1.0" fill="none"/>
<polygon points="102.8,147.2 105.6,147.9 108.5,148.6 111.4,149.4 116.3,147 113.4,146.3 110.6,145.5 107.8,144.9" fill="#00fe00" stroke="#00fe00" stroke-width="0.5"/>
<polyline points="102.8,147.2 105.6,147.9 108.5,148.6 111.4,149.4" stroke="#0a0a0a" stroke-width="1.0" fill="none"/>
<polyline points="107.8,144.9 110.6,145.5 113.4,146.3 116.3,147" stroke="#0a0a0a" stroke-width="1.0" fill="none"/>
<line x1="102.8" y1="147.2" x2="107.8" y2="144.9" stroke="#0a0a0a" stroke-width="1.0" fill="none"/>
<line x1="111.4" y1="149.4" x2="116.3" y2="147" stroke="#0a0a0a" stroke-width="1.0" fill="none"/>
<polygon points="111.4,149.4 114.3,150.2 117.2,151.1 120.1,151.9 124.9,149.5 122,148.7 119.1,147.8 116.3,147" fill="#ffff00" stroke="#ffff00" stroke-width="0.5"/>
<polyline points="111.4,149.4 114.3,150.2 117.2,151.1 120.1,151.9" stroke="#0a0a0a" stroke-width="1.0" fill="none"/>
<polyline points="116.3,147 119.1,147.8 122,148.7 124.9,149.5" stroke="#0a0a0a" stroke-width="1.0" fill="none"/>
<line x1="111.4" y1="149.4" x2="116.3" y2="147" stroke="#0a0a0a" stroke-width="1.0" fill="none"/>
<line x1="120.1" y1="151.9" x2="124.9" y2="149.5" stroke="#0a0a0a" stroke-width="1.0" fill="none"/>
<polygon points="120.1,151.9 123.1,152.8 126,153.6 129,154.3 133.7,151.8 130.7,151.1 127.8,150.3 124.9,149.5" fill="#00fe00" stroke="#00fe00" stroke-width="0.5"/>
<polyline points="120.1,151.9 123.1,152.8 126,153.6 129,154.3" stroke="#0a0a0a" stroke-width="1.0" fill="none"/>
<polyline points="124.9,149.5 127.8,150.3 130.7,151.1 133.7,151.8" stroke="#0a0a0a" stroke-width="1.0" fill="none"/>
<line x1="120.1" y1="151.9" x2="124.9" y2="149.5" stroke="#0a0a0a" stroke-width="1.0" fill="none"/>
<line x1="129" y1="154.3" x2="133.7" y2="151.8" stroke="#0a0a0a" stroke-width="1.0" fill="none"/>
<polygon points="129,154.3 132,154.8 134.9,155.2 139.6,152.8 136.6,152.4 133.7,151.8" fill="#fff700" stroke="#fff700" stroke-width="0.5"/>
<polyline points="129,154.3 132,154.8 134.9,155.2" stroke="#0a0a0a" stroke-width="1.0" fill="none"/>
<polyline points="133.7,151.8 136.6,152.4 139.6,152.8" stroke="#0a0a0a" stroke-width="1.0" fill="none"/>
<line x1="129" y1="154.3" x2="133.7" y2="151.8" stroke="#0a0a0a" stroke-width="1.0" fill="none"/>
<polygon points="134.9,155.2 137.9,155.4 142.5,152.9 139.6,152.8" fill="#fbec00" stroke="#fbec00" stroke-width="0.5"/>
<polyline points="134.9,155.2 137.9,155.4" stroke="#0a0a0a" stroke-width="1.0" fill="none"/>
<polyline points="139.6,152.8 142.5,152.9" stroke="#0a0a0a" stroke-width="1.0" fill="none"/>
<line x1="137.9" y1="155.4" x2="142.5" y2="152.9" stroke="#0a0a0a" stroke-width="1.0" fill="none"/>
<polygon points="137.9,155.4 140.9,155.1 145.5,152.6 142.5,152.9" fill="#00df00" stroke="#00df00" stroke-width="0.5"/>
<polyline points="137.9,155.4 140.9,155.1" stroke="#0a0a0a" stroke-width="1.0" fill="none"/>
<polyline points="142.5,152.9 145.5,152.6" stroke="#0a0a0a" stroke-width="1.0" fill="none"/>
<line x1="137.9" y1="155.4" x2="142.5" y2="152.9" stroke="#0a0a0a" stroke-width="1.0" fill="none"/>
<polygon points="140.9,155.1 144,154.3 148.5,151.8 145.5,152.6" fill="#00cc00" stroke="#00cc00" stroke-width="0.5"/>
<polyline points="140.9,155.1 144,154.3" stroke="#0a0a0a" stroke-width="1.0" fill="none"/>
<polyline points="145.5,152.6 148.5,151.8" stroke="#0a0a0a" stroke-width="1.0" fill="none"/>
<polygon points="144,154.3 147,152.9 151.5,150.4 148.5,151.8" fill="#009000" stroke="#009000" stroke-width="0.5"/>
<polyline points="144,154.3 147,152.9" stroke="#0a0a0a" stroke-width="1.0" fill="none"/>
<polyline points="148.5,151.8 151.5,150.4" stroke="#0a0a0a" stroke-width="1.0" fill="none"/>
<line x1="147" y1="152.9" x2="151.5" y2="150.4" stroke="#0a0a0a" stroke-width="1.0" fill="none"/>
<polygon points="147,152.9 148.8,151.5 150.6,149.8 155.1,147.4 153.3,149.1 151.5,150.4" fill="#999000" stroke="#999000" stroke-width="0.5"/>
<polyline points="147,152.9 148.8,151.5 150.6,149.8" stroke="#0a0a0a" stroke-width="1.0" fill="none"/>
<polyline points="151.5,150.4 153.3,149.1 155.1,147.4" stroke="#0a0a0a" stroke-width="1.0" fill="none"/>
<line x1="147" y1="152.9" x2="151.5" y2="150.4" stroke="#0a0a0a" stroke-width="1.0" fill="none"/>
<polygon points="150.6,149.8 152.5,147.6 156.9,145.2 155.1,147.4" fill="#a99f00" stroke="#a99f00" stroke-width="0.5"/>
<polyline points="150.6,149.8 152.5,147.6" stroke="#0a0a0a" stroke-width="1.0" fill="none"/>
<polyline points="155.1,147.4 156.9,145.2" stroke="#0a0a0a" stroke-width="1.0" fill="none"/>
<polygon points="152.5,147.6 154.3,144.9 158.7,142.5 156.9,145.2" fill="#b7ac00" stroke="#b7ac00" stroke-width="0.5"/>
<polyline points="152.5,147.6 154.3,144.9" stroke="#0a0a0a" stroke-width="1.0" fill="none"/>
<polyline points="156.9,145.2 158.7,142.5" stroke="#0a0a0a" stroke-width="1.0" fill="none"/>
<polygon points="154.3,144.9 156.2,141.5 160.5,139.2 158.7,142.5" fill="#c4b800" stroke="#c4b800" stroke-width="0.5"/>
<polyline points="154.3,144.9 156.2,141.5" stroke="#0a0a0a" stroke-width="1.0" fill="none"/>
<polyline points="158.7,142.5 160.5,139.2" stroke="#0a0a0a" stroke-width="1.0" fill="none"/>
<line x1="156.2" y1="141.5" x2="160.5" y2="139.2" stroke="#0a0a0a" stroke-width="1.0" fill="none"/>
<polygon points="156.2,141.5 157.3,139.1 158.5,136.3 162.8,134.1 161.7,136.8 160.5,139.2" fill="#00c200" stroke="#00c200" stroke-width="0.5"/>
<polyline points="156.2,141.5 157.3,139.1 158.5,136.3" stroke="#0a0a0a" stroke-width="1.0" fill="none"/>
<polyline points="160.5,139.2 161.7,136.8 162.8,134.1" stroke="#0a0a0a" stroke-width="1.0" fill="none"/>
<line x1="156.2" y1="141.5" x2="160.5" y2="139.2" stroke="#0a0a0a" stroke-width="1.0" fill="none"/>
<polygon points="158.5,136.3 159.6,133.3 160.8,129.9 162,126.2 166.3,124 165.2,127.7 164,131 162.8,134.1" fill="#00cd00" stroke="#00cd00" stroke-width="0.5"/>
<polyline points="158.5,136.3 159.6,133.3 160.8,129.9 162,126.2" stroke="#0a0a0a" stroke-width="1.0" fill="none"/>
<polyline points="162.8,134.1 164,131 165.2,127.7 166.3,124" stroke="#0a0a0a" stroke-width="1.0" fill="none"/>
<polygon points="162,126.2 163.1,122.1 164.3,117.6 165.5,112.9 169.8,110.9 168.7,115.6 167.5,120 166.3,124" fill="#00d600" stroke="#00d600" stroke-width="0.5"/>
<polyline points="162,126.2 163.1,122.1 164.3,117.6 165.5,112.9" stroke="#0a0a0a" stroke-width="1.0" fill="none"/>
<polyline points="166.3,124 167.5,120 168.7,115.6 169.8,110.9" stroke="#0a0a0a" stroke-width="1.0" fill="none"/>
<line x1="165.5" y1="112.9" x2="169.8" y2="110.9" stroke="#0a0a0a" stroke-width="1.0" fill="none"/>
<polygon points="165.5,112.9 166.4,109.2 167.3,105.4 168.1,101.4 169,97.2 169.9,93 170.8,88.7 171.7,84.3 172.6,79.9 173.5,75.6 174.4,71.3 175.3,67.1 179.5,65.8 178.6,69.9 177.7,74.2 176.9,78.5 176,82.8 175.1,87.1 174.2,91.4 173.3,95.5 172.4,99.6 171.6,103.5 170.7,107.3 169.8,110.9" fill="#ebdd00" stroke="#ebdd00" stroke-width="0.5"/>
<polyline points="165.5,112.9 166.4,109.2 167.3,105.4 168.1,101.4 169,97.2 169.9,93 170.8,88.7 171.7,84.3 172.6,79.9 173.5,75.6 174.4,71.3 175.3,67.1" stroke="#0a0a0a" stroke-width="1.0" fill="none"/>
<polyline points="169.8,110.9 170.7,107.3 171.6,103.5 172.4,99.6 173.3,95.5 174.2,91.4 175.1,87.1 176,82.8 176.9,78.5 177.7,74.2 178.6,69.9 179.5,65.8" stroke="#0a0a0a" stroke-width="1.0" fill="none"/>
<line x1="165.5" y1="112.9" x2="169.8" y2="110.9" stroke="#0a0a0a" stroke-width="1.0" fill="none"/>
<line x1="175.3" y1="67.1" x2="179.5" y2="65.8" stroke="#0a0a0a" stroke-width="1.0" fill="none"/>
<polygon points="175.3,67.1 176.7,60.9 178.1,55.3 179.6,50.5 183.8,49.4 182.4,54.2 181,59.7 179.5,65.8" fill="#00d700" stroke="#00d700" stroke-width="0.5"/>
<polyline points="175.3,67.1 176.7,60.9 178.1,55.3 179.6,50.5" stroke="#0a0a0a" stroke-width="1.0" fill="none"/>
<polyline points="179.5,65.8 181,59.7 182.4,54.2 183.8,49.4" stroke="#0a0a0a" stroke-width="1.0" fill="none"/>
<line x1="175.3" y1="67.1" x2="179.5" y2="65.8" stroke="#0a0a0a" stroke-width="1.0" fill="none"/>
<polygon points="179.6,50.5 181,46.6 185.2,45.7 183.8,49.4" fill="#00c900" stroke="#00c900" stroke-width="0.5"/>
<polyline points="179.6,50.5 181,46.6" stroke="#0a0a0a" stroke-width="1.0" fill="none"/>
<polyline points="183.8,49.4 185.2,45.7" stroke="#0a0a0a" stroke-width="1.0" fill="none"/>
<polygon points="181,46.6 182.4,44 186.7,43.1 185.2,45.7" fill="#00b700" stroke="#00b700" stroke-width="0.5"/>
<polyline points="181,46.6 182.4,44" stroke="#0a0a0a" stroke-width="1.0" fill="none"/>
<polyline points="185.2,45.7 186.7,43.1" stroke="#0a0a0a" stroke-width="1.0" fill="none"/>
<polygon points="182.4,44 183.9,42.6 188.1,41.7 186.7,43.1" fill="#009000" stroke="#009000" stroke-width="0.5"/>
<polyline points="182.4,44 183.9,42.6" stroke="#0a0a0a" stroke-width="1.0" fill="none"/>
<polyline points="186.7,43.1 188.1,41.7" stroke="#0a0a0a" stroke-width="1.0" fill="none"/>
<polygon points="183.9,42.6 184.7,42.4 188.9,41.5 188.1,41.7" fill="#00d800" stroke="#00d800" stroke-width="0.5"/>
<polyline points="183.9,42.6 184.7,42.4" stroke="#0a0a0a" stroke-width="1.0" fill="none"/>
<polyline points="188.1,41.7 188.9,41.5" stroke="#0a0a0a" stroke-width="1.0" fill="none"/>
<polygon points="184.7,42.4 185.3,42.6 189.5,41.6 188.9,41.5" fill="#00ff00" stroke="#00ff00" stroke-width="0.5"/>
<polyline points="184.7,42.4 185.3,42.6" stroke="#0a0a0a" stroke-width="1.0" fill="none"/>
<polyline points="188.9,41.5 189.5,41.6" stroke="#0a0a0a" stroke-width="1.0" fill="none"/>
<line x1="185.3" y1="42.6" x2="189.5" y2="41.6" stroke="#0a0a0a" stroke-width="1.0" fill="none"/>
<polygon points="185.3,42.6 186.6,43.6 187.8,45.7 189.1,48.7 190.3,52.5 191.5,57.1 192.7,62.3 193.9,68 195.2,74 199.2,72.6 198,66.7 196.8,61.1 195.6,56 194.4,51.5 193.2,47.7 192,44.7 190.7,42.7 189.5,41.6" fill="#ffff00" stroke="#ffff00" stroke-width="0.5"/>
<polyline points="185.3,42.6 186.6,43.6 187.8,45.7 189.1,48.7 190.3,52.5 191.5,57.1 192.7,62.3 193.9,68 195.2,74" stroke="#0a0a0a" stroke-width="1.0" fill="none"/>
<polyline points="189.5,41.6 190.7,42.7 192,44.7 193.2,47.7 194.4,51.5 195.6,56 196.8,61.1 198,66.7 199.2,72.6" stroke="#0a0a0a" stroke-width="1.0" fill="none"/>
<line x1="185.3" y1="42.6" x2="189.5" y2="41.6" stroke="#0a0a0a" stroke-width="1.0" fill="none"/>
<line x1="195.2" y1="74" x2="199.2" y2="72.6" stroke="#0a0a0a" stroke-width="1.0" fill="none"/>
<polygon points="195.2,74 196,78.5 196.9,83.1 197.8,87.7 198.6,92.3 199.5,96.8 200.4,101.2 201.2,105.6 202.1,109.8 203,113.8 203.8,117.7 204.7,121.4 208.6,119.3 207.7,115.6 206.8,111.8 206,107.8 205.1,103.7 204.3,99.4 203.4,95 202.6,90.6 201.7,86.1 200.9,81.6 200,77.1 199.2,72.6" fill="#00ff00" stroke="#00ff00" stroke-width="0.5"/>
<polyline points="195.2,74 196,78.5 196.9,83.1 197.8,87.7 198.6,92.3 199.5,96.8 200.4,101.2 201.2,105.6 202.1,109.8 203,113.8 203.8,117.7 204.7,121.4" stroke="#0a0a0a" stroke-width="1.0" fill="none"/>
<polyline points="199.2,72.6 200,77.1 200.9,81.6 201.7,86.1 202.6,90.6 203.4,95 204.3,99.4 205.1,103.7 206,107.8 206.8,111.8 207.7,115.6 208.6,119.3" stroke="#0a0a0a" stroke-width="1.0" fill="none"/>
<line x1="195.2" y1="74" x2="199.2" y2="72.6" stroke="#0a0a0a" stroke-width="1.0" fill="none"/>
<line x1="204.7" y1="121.4" x2="208.6" y2="119.3" stroke="#0a0a0a" stroke-width="1.0" fill="none"/>
<polygon points="204.7,121.4 205.9,126.3 207.1,130.7 208.3,134.9 209.5,138.6 210.7,142.1 212,145.3 213.2,148.1 214.4,150.7 218.1,148.1 216.9,145.6 215.7,142.8 214.5,139.7 213.3,136.3 212.1,132.5 210.9,128.5 209.7,124.1 208.6,119.3" fill="#ffff00" stroke="#ffff00" stroke-width="0.5"/>
<polyline points="204.7,121.4 205.9,126.3 207.1,130.7 208.3,134.9 209.5,138.6 210.7,142.1 212,145.3 213.2,148.1 214.4,150.7" stroke="#0a0a0a" stroke-width="1.0" fill="none"/>
<polyline points="208.6,119.3 209.7,124.1 210.9,128.5 212.1,132.5 213.3,136.3 214.5,139.7 215.7,142.8 216.9,145.6 218.1,148.1" stroke="#0a0a0a" stroke-width="1.0" fill="none"/>
<line x1="204.7" y1="121.4" x2="208.6" y2="119.3" stroke="#0a0a0a" stroke-width="1.0" fill="none"/>
<line x1="214.4" y1="150.7" x2="218.1" y2="148.1" stroke="#0a0a0a" stroke-width="1.0" fill="none"/>
<polygon points="214.4,150.7 216.4,154.2 218.4,157.2 220.4,159.7 222.4,161.8 224.4,163.4 227.9,160.7 225.9,159 223.9,157 222,154.6 220,151.6 218.1,148.1" fill="#00ff00" stroke="#00ff00" stroke-width="0.5"/>
<polyline points="214.4,150.7 216.4,154.2 218.4,157.2 220.4,159.7 222.4,161.8 224.4,163.4" stroke="#0a0a0a" stroke-width="1.0" fill="none"/>
<polyline points="218.1,148.1 220,151.6 222,154.6 223.9,157 225.9,159 227.9,160.7" stroke="#0a0a0a" stroke-width="1.0" fill="none"/>
<line x1="214.4" y1="150.7" x2="218.1" y2="148.1" stroke="#0a0a0a" stroke-width="1.0" fill="none"/>
<line x1="224.4" y1="163.4" x2="227.9" y2="160.7" stroke="#0a0a0a" stroke-width="1.0" fill="none"/>
<polygon points="224.4,163.4 227.8,165.6 231.2,167 234.6,168 238,165.1 234.6,164.2 231.3,162.7 227.9,160.7" fill="#ffff00" stroke="#ffff00" stroke-width="0.5"/>
<polyline points="224.4,163.4 227.8,165.6 231.2,167 234.6,168" stroke="#0a0a0a" stroke-width="1.0" fill="none"/>
<polyline points="227.9,160.7 231.3,162.7 234.6,164.2 238,165.1" stroke="#0a0a0a" stroke-width="1.0" fill="none"/>
<line x1="224.4" y1="163.4" x2="227.9" y2="160.7" stroke="#0a0a0a" stroke-width="1.0" fill="none"/>
<line x1="234.6" y1="168" x2="238" y2="165.1" stroke="#0a0a0a" stroke-width="1.0" fill="none"/>
<polygon points="234.6,168 238.1,168.6 241.6,169 244.9,166.1 241.4,165.7 238,165.1" fill="#00f500" stroke="#00f500" stroke-width="0.5"/>
<polyline points="234.6,168 238.1,168.6 241.6,169" stroke="#0a0a0a" stroke-width="1.0" fill="none"/>
<polyline points="238,165.1 241.4,165.7 244.9,166.1" stroke="#0a0a0a" stroke-width="1.0" fill="none"/>
<line x1="234.6" y1="168" x2="238" y2="165.1" stroke="#0a0a0a" stroke-width="1.0" fill="none"/>
<polygon points="241.6,169 245.1,169.1 248.3,166.2 244.9,166.1" fill="#00ec00" stroke="#00ec00" stroke-width="0.5"/>
<polyline points="241.6,169 245.1,169.1" stroke="#0a0a0a" stroke-width="1.0" fill="none"/>
<polyline points="244.9,166.1 248.3,166.2" stroke="#0a0a0a" stroke-width="1.0" fill="none"/>
<line x1="245.1" y1="169.1" x2="248.3" y2="166.2" stroke="#0a0a0a" stroke-width="1.0" fill="none"/>
<polygon points="245.1,169.1 248.6,169.2 252.2,169.2 255.7,169.1 258.8,166.2 255.3,166.3 251.8,166.3 248.3,166.2" fill="#f4e600" stroke="#f4e600" stroke-width="0.5"/>
<polyline points="245.1,169.1 248.6,169.2 252.2,169.2 255.7,169.1" stroke="#0a0a0a" stroke-width="1.0" fill="none"/>
<polyline points="248.3,166.2 251.8,166.3 255.3,166.3 258.8,166.2" stroke="#0a0a0a" stroke-width="1.0" fill="none"/>
<line x1="245.1" y1="169.1" x2="248.3" y2="166.2" stroke="#0a0a0a" stroke-width="1.0" fill="none"/>
<line x1="255.7" y1="169.1" x2="258.8" y2="166.2" stroke="#0a0a0a" stroke-width="1.0" fill="none"/>
<polygon points="97.7,149.6 100.6,150.3 103.5,151 106.4,151.8 111.4,149.4 108.5,148.6 105.6,147.9 102.8,147.2" fill="#fe0000" stroke="#fe0000" stroke-width="0.5"/>
<polyline points="97.7,149.6 100.6,150.3 103.5,151 106.4,151.8" stroke="#0a0a0a" stroke-width="1.0" fill="none"/>
<polyline points="102.8,147.2 105.6,147.9 108.5,148.6 111.4,149.4" stroke="#0a0a0a" stroke-width="1.0" fill="none"/>
<line x1="97.7" y1="149.6" x2="102.8" y2="147.2" stroke="#0a0a0a" stroke-width="1.0" fill="none"/>
<line x1="106.4" y1="151.8" x2="111.4" y2="149.4" stroke="#0a0a0a" stroke-width="1.0" fill="none"/>
<polygon points="106.4,151.8 109.3,152.7 112.3,153.5 115.2,154.4 120.1,151.9 117.2,151.1 114.3,150.2 111.4,149.4" fill="#0a0a12" stroke="#0a0a12" stroke-width="0.5"/>
<polyline points="106.4,151.8 109.3,152.7 112.3,153.5 115.2,154.4" stroke="#0a0a0a" stroke-width="1.0" fill="none"/>
<polyline points="111.4,149.4 114.3,150.2 117.2,151.1 120.1,151.9" stroke="#0a0a0a" stroke-width="1.0" fill="none"/>
<line x1="106.4" y1="151.8" x2="111.4" y2="149.4" stroke="#0a0a0a" stroke-width="1.0" fill="none"/>
<line x1="115.2" y1="154.4" x2="120.1" y2="151.9" stroke="#0a0a0a" stroke-width="1.0" fill="none"/>
<polygon points="115.2,154.4 118.2,155.3 121.2,156.1 124.2,156.8 129,154.3 126,153.6 123.1,152.8 120.1,151.9" fill="#fe0000" stroke="#fe0000" stroke-width="0.5"/>
<polyline points="115.2,154.4 118.2,155.3 121.2,156.1 124.2,156.8" stroke="#0a0a0a" stroke-width="1.0" fill="none"/>
<polyline points="120.1,151.9 123.1,152.8 126,153.6 129,154.3" stroke="#0a0a0a" stroke-width="1.0" fill="none"/>
<line x1="115.2" y1="154.4" x2="120.1" y2="151.9" stroke="#0a0a0a" stroke-width="1.0" fill="none"/>
<line x1="124.2" y1="156.8" x2="129" y2="154.3" stroke="#0a0a0a" stroke-width="1.0" fill="none"/>
<polygon points="124.2,156.8 127.2,157.4 130.2,157.8 133.2,157.9 137.9,155.4 134.9,155.2 132,154.8 129,154.3" fill="#0a0a12" stroke="#0a0a12" stroke-width="0.5"/>
<polyline points="124.2,156.8 127.2,157.4 130.2,157.8 133.2,157.9" stroke="#0a0a0a" stroke-width="1.0" fill="none"/>
<polyline points="129,154.3 132,154.8 134.9,155.2 137.9,155.4" stroke="#0a0a0a" stroke-width="1.0" fill="none"/>
<line x1="124.2" y1="156.8" x2="129" y2="154.3" stroke="#0a0a0a" stroke-width="1.0" fill="none"/>
<line x1="133.2" y1="157.9" x2="137.9" y2="155.4" stroke="#0a0a0a" stroke-width="1.0" fill="none"/>
<polygon points="133.2,157.9 136.3,157.7 140.9,155.1 137.9,155.4" fill="#df0000" stroke="#df0000" stroke-width="0.5"/>
<polyline points="133.2,157.9 136.3,157.7" stroke="#0a0a0a" stroke-width="1.0" fill="none"/>
<polyline points="137.9,155.4 140.9,155.1" stroke="#0a0a0a" stroke-width="1.0" fill="none"/>
<line x1="133.2" y1="157.9" x2="137.9" y2="155.4" stroke="#0a0a0a" stroke-width="1.0" fill="none"/>
<polygon points="136.3,157.7 139.3,156.9 144,154.3 140.9,155.1" fill="#cc0000" stroke="#cc0000" stroke-width="0.5"/>
<polyline points="136.3,157.7 139.3,156.9" stroke="#0a0a0a" stroke-width="1.0" fill="none"/>
<polyline points="140.9,155.1 144,154.3" stroke="#0a0a0a" stroke-width="1.0" fill="none"/>
<polygon points="139.3,156.9 142.4,155.4 147,152.9 144,154.3" fill="#900000" stroke="#900000" stroke-width="0.5"/>
<polyline points="139.3,156.9 142.4,155.4" stroke="#0a0a0a" stroke-width="1.0" fill="none"/>
<polyline points="144,154.3 147,152.9" stroke="#0a0a0a" stroke-width="1.0" fill="none"/>
<line x1="142.4" y1="155.4" x2="147" y2="152.9" stroke="#0a0a0a" stroke-width="1.0" fill="none"/>
<polygon points="142.4,155.4 144.2,154.1 146.1,152.3 147.9,150.1 149.8,147.3 151.6,143.9 156.2,141.5 154.3,144.9 152.5,147.6 150.6,149.8 148.8,151.5 147,152.9" fill="#0a0a12" stroke="#0a0a12" stroke-width="0.5"/>
<polyline points="142.4,155.4 144.2,154.1 146.1,152.3 147.9,150.1 149.8,147.3 151.6,143.9" stroke="#0a0a0a" stroke-width="1.0" fill="none"/>
<polyline points="147,152.9 148.8,151.5 150.6,149.8 152.5,147.6 154.3,144.9 156.2,141.5" stroke="#0a0a0a" stroke-width="1.0" fill="none"/>
<line x1="142.4" y1="155.4" x2="147" y2="152.9" stroke="#0a0a0a" stroke-width="1.0" fill="none"/>
<line x1="151.6" y1="143.9" x2="156.2" y2="141.5" stroke="#0a0a0a" stroke-width="1.0" fill="none"/>
<polygon points="151.6,143.9 152.8,141.4 154,138.7 158.5,136.3 157.3,139.1 156.2,141.5" fill="#c20000" stroke="#c20000" stroke-width="0.5"/>
<polyline points="151.6,143.9 152.8,141.4 154,138.7" stroke="#0a0a0a" stroke-width="1.0" fill="none"/>
<polyline points="156.2,141.5 157.3,139.1 158.5,136.3" stroke="#0a0a0a" stroke-width="1.0" fill="none"/>
<line x1="151.6" y1="143.9" x2="156.2" y2="141.5" stroke="#0a0a0a" stroke-width="1.0" fill="none"/>
<polygon points="154,138.7 155.1,135.6 156.3,132.1 157.5,128.3 162,126.2 160.8,129.9 159.6,133.3 158.5,136.3" fill="#cd0000" stroke="#cd0000" stroke-width="0.5"/>
<polyline points="154,138.7 155.1,135.6 156.3,132.1 157.5,128.3" stroke="#0a0a0a" stroke-width="1.0" fill="none"/>
<polyline points="158.5,136.3 159.6,133.3 160.8,129.9 162,126.2" stroke="#0a0a0a" stroke-width="1.0" fill="none"/>
<polygon points="157.5,128.3 158.7,124.2 159.9,119.7 161.1,114.9 165.5,112.9 164.3,117.6 163.1,122.1 162,126.2" fill="#d60000" stroke="#d60000" stroke-width="0.5"/>
<polyline points="157.5,128.3 158.7,124.2 159.9,119.7 161.1,114.9" stroke="#0a0a0a" stroke-width="1.0" fill="none"/>
<polyline points="162,126.2 163.1,122.1 164.3,117.6 165.5,112.9" stroke="#0a0a0a" stroke-width="1.0" fill="none"/>
<line x1="161.1" y1="114.9" x2="165.5" y2="112.9" stroke="#0a0a0a" stroke-width="1.0" fill="none"/>
<polygon points="161.1,114.9 161.9,111.1 162.8,107.2 163.7,103.2 164.6,99 165.5,94.7 166.3,90.3 167.2,85.9 168.1,81.5 169,77 169.9,72.7 170.9,68.4 175.3,67.1 174.4,71.3 173.5,75.6 172.6,79.9 171.7,84.3 170.8,88.7 169.9,93 169,97.2 168.1,101.4 167.3,105.4 166.4,109.2 165.5,112.9" fill="#0a0a12" stroke="#0a0a12" stroke-width="0.5"/>
<polyline points="161.1,114.9 161.9,111.1 162.8,107.2 163.7,103.2 164.6,99 165.5,94.7 166.3,90.3 167.2,85.9 168.1,81.5 169,77 169.9,72.7 170.9,68.4" stroke="#0a0a0a" stroke-width="1.0" fill="none"/>
<polyline points="165.5,112.9 166.4,109.2 167.3,105.4 168.1,101.4 169,97.2 169.9,93 170.8,88.7 171.7,84.3 172.6,79.9 173.5,75.6 174.4,71.3 175.3,67.1" stroke="#0a0a0a" stroke-width="1.0" fill="none"/>
<line x1="161.1" y1="114.9" x2="165.5" y2="112.9" stroke="#0a0a0a" stroke-width="1.0" fill="none"/>
<line x1="170.9" y1="68.4" x2="175.3" y2="67.1" stroke="#0a0a0a" stroke-width="1.0" fill="none"/>
<polygon points="170.9,68.4 172.3,62.1 173.7,56.4 175.2,51.5 179.6,50.5 178.1,55.3 176.7,60.9 175.3,67.1" fill="#d70000" stroke="#d70000" stroke-width="0.5"/>
<polyline points="170.9,68.4 172.3,62.1 173.7,56.4 175.2,51.5" stroke="#0a0a0a" stroke-width="1.0" fill="none"/>
<polyline points="175.3,67.1 176.7,60.9 178.1,55.3 179.6,50.5" stroke="#0a0a0a" stroke-width="1.0" fill="none"/>
<line x1="170.9" y1="68.4" x2="175.3" y2="67.1" stroke="#0a0a0a" stroke-width="1.0" fill="none"/>
<polygon points="175.2,51.5 176.6,47.6 181,46.6 179.6,50.5" fill="#c90000" stroke="#c90000" stroke-width="0.5"/>
<polyline points="175.2,51.5 176.6,47.6" stroke="#0a0a0a" stroke-width="1.0" fill="none"/>
<polyline points="179.6,50.5 181,46.6" stroke="#0a0a0a" stroke-width="1.0" fill="none"/>
<polygon points="176.6,47.6 178.1,44.9 182.4,44 181,46.6" fill="#b70000" stroke="#b70000" stroke-width="0.5"/>
<polyline points="176.6,47.6 178.1,44.9" stroke="#0a0a0a" stroke-width="1.0" fill="none"/>
<polyline points="181,46.6 182.4,44" stroke="#0a0a0a" stroke-width="1.0" fill="none"/>
<polygon points="178.1,44.9 179.5,43.5 183.9,42.6 182.4,44" fill="#900000" stroke="#900000" stroke-width="0.5"/>
<polyline points="178.1,44.9 179.5,43.5" stroke="#0a0a0a" stroke-width="1.0" fill="none"/>
<polyline points="182.4,44 183.9,42.6" stroke="#0a0a0a" stroke-width="1.0" fill="none"/>
<polygon points="179.5,43.5 180.4,43.3 184.7,42.4 183.9,42.6" fill="#d80000" stroke="#d80000" stroke-width="0.5"/>
<polyline points="179.5,43.5 180.4,43.3" stroke="#0a0a0a" stroke-width="1.0" fill="none"/>
<polyline points="183.9,42.6 184.7,42.4" stroke="#0a0a0a" stroke-width="1.0" fill="none"/>
<polygon points="180.4,43.3 181,43.5 185.3,42.6 184.7,42.4" fill="#ff0000" stroke="#ff0000" stroke-width="0.5"/>
<polyline points="180.4,43.3 181,43.5" stroke="#0a0a0a" stroke-width="1.0" fill="none"/>
<polyline points="184.7,42.4 185.3,42.6" stroke="#0a0a0a" stroke-width="1.0" fill="none"/>
<line x1="181" y1="43.5" x2="185.3" y2="42.6" stroke="#0a0a0a" stroke-width="1.0" fill="none"/>
<polygon points="181,43.5 182.3,44.6 183.5,46.7 184.8,49.7 186.1,53.6 187.3,58.3 188.5,63.6 189.8,69.3 191,75.5 195.2,74 193.9,68 192.7,62.3 191.5,57.1 190.3,52.5 189.1,48.7 187.8,45.7 186.6,43.6 185.3,42.6" fill="#0a0a12" stroke="#0a0a12" stroke-width="0.5"/>
<polyline points="181,43.5 182.3,44.6 183.5,46.7 184.8,49.7 186.1,53.6 187.3,58.3 188.5,63.6 189.8,69.3 191,75.5" stroke="#0a0a0a" stroke-width="1.0" fill="none"/>
<polyline points="185.3,42.6 186.6,43.6 187.8,45.7 189.1,48.7 190.3,52.5 191.5,57.1 192.7,62.3 193.9,68 195.2,74" stroke="#0a0a0a" stroke-width="1.0" fill="none"/>
<line x1="181" y1="43.5" x2="185.3" y2="42.6" stroke="#0a0a0a" stroke-width="1.0" fill="none"/>
<line x1="191" y1="75.5" x2="195.2" y2="74" stroke="#0a0a0a" stroke-width="1.0" fill="none"/>
<polygon points="191,75.5 191.9,80 192.8,84.7 193.7,89.4 194.6,94 195.5,98.6 196.3,103.1 197.2,107.5 198.1,111.8 199,115.9 199.9,119.9 200.8,123.6 204.7,121.4 203.8,117.7 203,113.8 202.1,109.8 201.2,105.6 200.4,101.2 199.5,96.8 198.6,92.3 197.8,87.7 196.9,83.1 196,78.5 195.2,74" fill="#ff0000" stroke="#ff0000" stroke-width="0.5"/>
<polyline points="191,75.5 191.9,80 192.8,84.7 193.7,89.4 194.6,94 195.5,98.6 196.3,103.1 197.2,107.5 198.1,111.8 199,115.9 199.9,119.9 200.8,123.6" stroke="#0a0a0a" stroke-width="1.0" fill="none"/>
<polyline points="195.2,74 196,78.5 196.9,83.1 197.8,87.7 198.6,92.3 199.5,96.8 200.4,101.2 201.2,105.6 202.1,109.8 203,113.8 203.8,117.7 204.7,121.4" stroke="#0a0a0a" stroke-width="1.0" fill="none"/>
<line x1="191" y1="75.5" x2="195.2" y2="74" stroke="#0a0a0a" stroke-width="1.0" fill="none"/>
<line x1="200.8" y1="123.6" x2="204.7" y2="121.4" stroke="#0a0a0a" stroke-width="1.0" fill="none"/>
<polygon points="200.8,123.6 202,128.5 203.2,133.1 204.4,137.3 205.7,141.1 206.9,144.6 208.1,147.8 209.4,150.7 210.6,153.3 214.4,150.7 213.2,148.1 212,145.3 210.7,142.1 209.5,138.6 208.3,134.9 207.1,130.7 205.9,126.3 204.7,121.4" fill="#0a0a12" stroke="#0a0a12" stroke-width="0.5"/>
<polyline points="200.8,123.6 202,128.5 203.2,133.1 204.4,137.3 205.7,141.1 206.9,144.6 208.1,147.8 209.4,150.7 210.6,153.3" stroke="#0a0a0a" stroke-width="1.0" fill="none"/>
<polyline points="204.7,121.4 205.9,126.3 207.1,130.7 208.3,134.9 209.5,138.6 210.7,142.1 212,145.3 213.2,148.1 214.4,150.7" stroke="#0a0a0a" stroke-width="1.0" fill="none"/>
<line x1="200.8" y1="123.6" x2="204.7" y2="121.4" stroke="#0a0a0a" stroke-width="1.0" fill="none"/>
<line x1="210.6" y1="153.3" x2="214.4" y2="150.7" stroke="#0a0a0a" stroke-width="1.0" fill="none"/>
<polygon points="210.6,153.3 212.6,157 214.6,160 216.7,162.5 218.7,164.6 220.7,166.3 224.4,163.4 222.4,161.8 220.4,159.7 218.4,157.2 216.4,154.2 214.4,150.7" fill="#ff0000" stroke="#ff0000" stroke-width="0.5"/>
<polyline points="210.6,153.3 212.6,157 214.6,160 216.7,162.5 218.7,164.6 220.7,166.3" stroke="#0a0a0a" stroke-width="1.0" fill="none"/>
<polyline points="214.4,150.7 216.4,154.2 218.4,157.2 220.4,159.7 222.4,161.8 224.4,163.4" stroke="#0a0a0a" stroke-width="1.0" fill="none"/>
<line x1="210.6" y1="153.3" x2="214.4" y2="150.7" stroke="#0a0a0a" stroke-width="1.0" fill="none"/>
<line x1="220.7" y1="166.3" x2="224.4" y2="163.4" stroke="#0a0a0a" stroke-width="1.0" fill="none"/>
<polygon points="220.7,166.3 224.2,168.5 227.6,170 231.1,171 234.6,168 231.2,167 227.8,165.6 224.4,163.4" fill="#0a0a12" stroke="#0a0a12" stroke-width="0.5"/>
<polyline points="220.7,166.3 224.2,168.5 227.6,170 231.1,171" stroke="#0a0a0a" stroke-width="1.0" fill="none"/>
<polyline points="224.4,163.4 227.8,165.6 231.2,167 234.6,168" stroke="#0a0a0a" stroke-width="1.0" fill="none"/>
<line x1="220.7" y1="166.3" x2="224.4" y2="163.4" stroke="#0a0a0a" stroke-width="1.0" fill="none"/>
<line x1="231.1" y1="171" x2="234.6" y2="168" stroke="#0a0a0a" stroke-width="1.0" fill="none"/>
<polygon points="231.1,171 234.6,171.6 238.2,172 241.6,169 238.1,168.6 234.6,168" fill="#f50000" stroke="#f50000" stroke-width="0.5"/>
<polyline points="231.1,171 234.6,171.6 238.2,172" stroke="#0a0a0a" stroke-width="1.0" fill="none"/>
<polyline points="234.6,168 238.1,168.6 241.6,169" stroke="#0a0a0a" stroke-width="1.0" fill="none"/>
<line x1="231.1" y1="171" x2="234.6" y2="168" stroke="#0a0a0a" stroke-width="1.0" fill="none"/>
<polygon points="238.2,172 241.7,172.2 245.1,169.1 241.6,169" fill="#ec0000" stroke="#ec0000" stroke-width="0.5"/>
<polyline points="238.2,172 241.7,172.2" stroke="#0a0a0a" stroke-width="1.0" fill="none"/>
<polyline points="241.6,169 245.1,169.1" stroke="#0a0a0a" stroke-width="1.0" fill="none"/>
<line x1="241.7" y1="172.2" x2="245.1" y2="169.1" stroke="#0a0a0a" stroke-width="1.0" fill="none"/>
<polygon points="241.7,172.2 245.3,172.2 248.9,172.2 252.5,172.2 255.7,169.1 252.2,169.2 248.6,169.2 245.1,169.1" fill="#0a0a12" stroke="#0a0a12" stroke-width="0.5"/>
<polyline points="241.7,172.2 245.3,172.2 248.9,172.2 252.5,172.2" stroke="#0a0a0a" stroke-width="1.0" fill="none"/>
<polyline points="245.1,169.1 248.6,169.2 252.2,169.2 255.7,169.1" stroke="#0a0a0a" stroke-width="1.0" fill="none"/>
<line x1="241.7" y1="172.2" x2="245.1" y2="169.1" stroke="#0a0a0a" stroke-width="1.0" fill="none"/>
<line x1="252.5" y1="172.2" x2="255.7" y2="169.1" stroke="#0a0a0a" stroke-width="1.0" fill="none"/>
<polygon points="92.4,152.1 95.3,152.8 98.3,153.5 101.2,154.3 106.4,151.8 103.5,151 100.6,150.3 97.7,149.6" fill="#00fe00" stroke="#00fe00" stroke-width="0.5"/>
<polyline points="92.4,152.1 95.3,152.8 98.3,153.5 101.2,154.3" stroke="#0a0a0a" stroke-width="1.0" fill="none"/>
<polyline points="97.7,149.6 100.6,150.3 103.5,151 106.4,151.8" stroke="#0a0a0a" stroke-width="1.0" fill="none"/>
<line x1="92.4" y1="152.1" x2="97.7" y2="149.6" stroke="#0a0a0a" stroke-width="1.0" fill="none"/>
<line x1="101.2" y1="154.3" x2="106.4" y2="151.8" stroke="#0a0a0a" stroke-width="1.0" fill="none"/>
<polygon points="101.2,154.3 104.2,155.2 107.2,156.1 110.2,157 115.2,154.4 112.3,153.5 109.3,152.7 106.4,151.8" fill="#ffff00" stroke="#ffff00" stroke-width="0.5"/>
<polyline points="101.2,154.3 104.2,155.2 107.2,156.1 110.2,157" stroke="#0a0a0a" stroke-width="1.0" fill="none"/>
<polyline points="106.4,151.8 109.3,152.7 112.3,153.5 115.2,154.4" stroke="#0a0a0a" stroke-width="1.0" fill="none"/>
<line x1="101.2" y1="154.3" x2="106.4" y2="151.8" stroke="#0a0a0a" stroke-width="1.0" fill="none"/>
<line x1="110.2" y1="157" x2="115.2" y2="154.4" stroke="#0a0a0a" stroke-width="1.0" fill="none"/>
<polygon points="110.2,157 113.2,157.8 116.2,158.7 119.2,159.4 124.2,156.8 121.2,156.1 118.2,155.3 115.2,154.4" fill="#00fe00" stroke="#00fe00" stroke-width="0.5"/>
<polyline points="110.2,157 113.2,157.8 116.2,158.7 119.2,159.4" stroke="#0a0a0a" stroke-width="1.0" fill="none"/>
<polyline points="115.2,154.4 118.2,155.3 121.2,156.1 124.2,156.8" stroke="#0a0a0a" stroke-width="1.0" fill="none"/>
<line x1="110.2" y1="157" x2="115.2" y2="154.4" stroke="#0a0a0a" stroke-width="1.0" fill="none"/>
<line x1="119.2" y1="159.4" x2="124.2" y2="156.8" stroke="#0a0a0a" stroke-width="1.0" fill="none"/>
<polygon points="119.2,159.4 122.2,160 125.3,160.4 130.2,157.8 127.2,157.4 124.2,156.8" fill="#fff700" stroke="#fff700" stroke-width="0.5"/>
<polyline points="119.2,159.4 122.2,160 125.3,160.4" stroke="#0a0a0a" stroke-width="1.0" fill="none"/>
<polyline points="124.2,156.8 127.2,157.4 130.2,157.8" stroke="#0a0a0a" stroke-width="1.0" fill="none"/>
<line x1="119.2" y1="159.4" x2="124.2" y2="156.8" stroke="#0a0a0a" stroke-width="1.0" fill="none"/>
<polygon points="125.3,160.4 128.4,160.6 133.2,157.9 130.2,157.8" fill="#fbec00" stroke="#fbec00" stroke-width="0.5"/>
<polyline points="125.3,160.4 128.4,160.6" stroke="#0a0a0a" stroke-width="1.0" fill="none"/>
<polyline points="130.2,157.8 133.2,157.9" stroke="#0a0a0a" stroke-width="1.0" fill="none"/>
<line x1="128.4" y1="160.6" x2="133.2" y2="157.9" stroke="#0a0a0a" stroke-width="1.0" fill="none"/>
<polygon points="128.4,160.6 131.4,160.3 136.3,157.7 133.2,157.9" fill="#00df00" stroke="#00df00" stroke-width="0.5"/>
<polyline points="128.4,160.6 131.4,160.3" stroke="#0a0a0a" stroke-width="1.0" fill="none"/>
<polyline points="133.2,157.9 136.3,157.7" stroke="#0a0a0a" stroke-width="1.0" fill="none"/>
<line x1="128.4" y1="160.6" x2="133.2" y2="157.9" stroke="#0a0a0a" stroke-width="1.0" fill="none"/>
<polygon points="131.4,160.3 134.5,159.6 139.3,156.9 136.3,157.7" fill="#00cc00" stroke="#00cc00" stroke-width="0.5"/>
<polyline points="131.4,160.3 134.5,159.6" stroke="#0a0a0a" stroke-width="1.0" fill="none"/>
<polyline points="136.3,157.7 139.3,156.9" stroke="#0a0a0a" stroke-width="1.0" fill="none"/>
<polygon points="134.5,159.6 137.6,158 142.4,155.4 139.3,156.9" fill="#009000" stroke="#009000" stroke-width="0.5"/>
<polyline points="134.5,159.6 137.6,158" stroke="#0a0a0a" stroke-width="1.0" fill="none"/>
<polyline points="139.3,156.9 142.4,155.4" stroke="#0a0a0a" stroke-width="1.0" fill="none"/>
<line x1="137.6" y1="158" x2="142.4" y2="155.4" stroke="#0a0a0a" stroke-width="1.0" fill="none"/>
<polygon points="137.6,158 139.5,156.7 141.3,154.9 146.1,152.3 144.2,154.1 142.4,155.4" fill="#999000" stroke="#999000" stroke-width="0.5"/>
<polyline points="137.6,158 139.5,156.7 141.3,154.9" stroke="#0a0a0a" stroke-width="1.0" fill="none"/>
<polyline points="142.4,155.4 144.2,154.1 146.1,152.3" stroke="#0a0a0a" stroke-width="1.0" fill="none"/>
<line x1="137.6" y1="158" x2="142.4" y2="155.4" stroke="#0a0a0a" stroke-width="1.0" fill="none"/>
<polygon points="141.3,154.9 143.2,152.7 147.9,150.1 146.1,152.3" fill="#a99f00" stroke="#a99f00" stroke-width="0.5"/>
<polyline points="141.3,154.9 143.2,152.7" stroke="#0a0a0a" stroke-width="1.0" fill="none"/>
<polyline points="146.1,152.3 147.9,150.1" stroke="#0a0a0a" stroke-width="1.0" fill="none"/>
<polygon points="143.2,152.7 145.1,149.9 149.8,147.3 147.9,150.1" fill="#b7ac00" stroke="#b7ac00" stroke-width="0.5"/>
<polyline points="143.2,152.7 145.1,149.9" stroke="#0a0a0a" stroke-width="1.0" fill="none"/>
<polyline points="147.9,150.1 149.8,147.3" stroke="#0a0a0a" stroke-width="1.0" fill="none"/>
<polygon points="145.1,149.9 146.9,146.4 151.6,143.9 149.8,147.3" fill="#c4b800" stroke="#c4b800" stroke-width="0.5"/>
<polyline points="145.1,149.9 146.9,146.4" stroke="#0a0a0a" stroke-width="1.0" fill="none"/>
<polyline points="149.8,147.3 151.6,143.9" stroke="#0a0a0a" stroke-width="1.0" fill="none"/>
<line x1="146.9" y1="146.4" x2="151.6" y2="143.9" stroke="#0a0a0a" stroke-width="1.0" fill="none"/>
<polygon points="146.9,146.4 148.1,143.9 149.3,141.1 154,138.7 152.8,141.4 151.6,143.9" fill="#00c200" stroke="#00c200" stroke-width="0.5"/>
<polyline points="146.9,146.4 148.1,143.9 149.3,141.1" stroke="#0a0a0a" stroke-width="1.0" fill="none"/>
<polyline points="151.6,143.9 152.8,141.4 154,138.7" stroke="#0a0a0a" stroke-width="1.0" fill="none"/>
<line x1="146.9" y1="146.4" x2="151.6" y2="143.9" stroke="#0a0a0a" stroke-width="1.0" fill="none"/>
<polygon points="149.3,141.1 150.5,137.9 151.7,134.4 152.9,130.6 157.5,128.3 156.3,132.1 155.1,135.6 154,138.7" fill="#00cd00" stroke="#00cd00" stroke-width="0.5"/>
<polyline points="149.3,141.1 150.5,137.9 151.7,134.4 152.9,130.6" stroke="#0a0a0a" stroke-width="1.0" fill="none"/>
<polyline points="154,138.7 155.1,135.6 156.3,132.1 157.5,128.3" stroke="#0a0a0a" stroke-width="1.0" fill="none"/>
<polygon points="152.9,130.6 154.1,126.4 155.2,121.9 156.5,116.9 161.1,114.9 159.9,119.7 158.7,124.2 157.5,128.3" fill="#00d600" stroke="#00d600" stroke-width="0.5"/>
<polyline points="152.9,130.6 154.1,126.4 155.2,121.9 156.5,116.9" stroke="#0a0a0a" stroke-width="1.0" fill="none"/>
<polyline points="157.5,128.3 158.7,124.2 159.9,119.7 161.1,114.9" stroke="#0a0a0a" stroke-width="1.0" fill="none"/>
<line x1="156.5" y1="116.9" x2="161.1" y2="114.9" stroke="#0a0a0a" stroke-width="1.0" fill="none"/>
<polygon points="156.5,116.9 157.3,113.2 158.2,109.2 159.1,105.1 160,100.8 160.9,96.5 161.8,92 162.7,87.5 163.6,83 164.5,78.5 165.4,74.1 166.3,69.8 170.9,68.4 169.9,72.7 169,77 168.1,81.5 167.2,85.9 166.3,90.3 165.5,94.7 164.6,99 163.7,103.2 162.8,107.2 161.9,111.1 161.1,114.9" fill="#ebdd00" stroke="#ebdd00" stroke-width="0.5"/>
<polyline points="156.5,116.9 157.3,113.2 158.2,109.2 159.1,105.1 160,100.8 160.9,96.5 161.8,92 162.7,87.5 163.6,83 164.5,78.5 165.4,74.1 166.3,69.8" stroke="#0a0a0a" stroke-width="1.0" fill="none"/>
<polyline points="161.1,114.9 161.9,111.1 162.8,107.2 163.7,103.2 164.6,99 165.5,94.7 166.3,90.3 167.2,85.9 168.1,81.5 169,77 169.9,72.7 170.9,68.4" stroke="#0a0a0a" stroke-width="1.0" fill="none"/>
<line x1="156.5" y1="116.9" x2="161.1" y2="114.9" stroke="#0a0a0a" stroke-width="1.0" fill="none"/>
<line x1="166.3" y1="69.8" x2="170.9" y2="68.4" stroke="#0a0a0a" stroke-width="1.0" fill="none"/>
<polygon points="166.3,69.8 167.7,63.4 169.2,57.6 170.7,52.6 175.2,51.5 173.7,56.4 172.3,62.1 170.9,68.4" fill="#00d700" stroke="#00d700" stroke-width="0.5"/>
<polyline points="166.3,69.8 167.7,63.4 169.2,57.6 170.7,52.6" stroke="#0a0a0a" stroke-width="1.0" fill="none"/>
<polyline points="170.9,68.4 172.3,62.1 173.7,56.4 175.2,51.5" stroke="#0a0a0a" stroke-width="1.0" fill="none"/>
<line x1="166.3" y1="69.8" x2="170.9" y2="68.4" stroke="#0a0a0a" stroke-width="1.0" fill="none"/>
<polygon points="170.7,52.6 172.1,48.7 176.6,47.6 175.2,51.5" fill="#00c900" stroke="#00c900" stroke-width="0.5"/>
<polyline points="170.7,52.6 172.1,48.7" stroke="#0a0a0a" stroke-width="1.0" fill="none"/>
<polyline points="175.2,51.5 176.6,47.6" stroke="#0a0a0a" stroke-width="1.0" fill="none"/>
<polygon points="172.1,48.7 173.6,45.9 178.1,44.9 176.6,47.6" fill="#00b700" stroke="#00b700" stroke-width="0.5"/>
<polyline points="172.1,48.7 173.6,45.9" stroke="#0a0a0a" stroke-width="1.0" fill="none"/>
<polyline points="176.6,47.6 178.1,44.9" stroke="#0a0a0a" stroke-width="1.0" fill="none"/>
<polygon points="173.6,45.9 175.1,44.5 179.5,43.5 178.1,44.9" fill="#009000" stroke="#009000" stroke-width="0.5"/>
<polyline points="173.6,45.9 175.1,44.5" stroke="#0a0a0a" stroke-width="1.0" fill="none"/>
<polyline points="178.1,44.9 179.5,43.5" stroke="#0a0a0a" stroke-width="1.0" fill="none"/>
<polygon points="175.1,44.5 175.9,44.3 180.4,43.3 179.5,43.5" fill="#00d800" stroke="#00d800" stroke-width="0.5"/>
<polyline points="175.1,44.5 175.9,44.3" stroke="#0a0a0a" stroke-width="1.0" fill="none"/>
<polyline points="179.5,43.5 180.4,43.3" stroke="#0a0a0a" stroke-width="1.0" fill="none"/>
<polygon points="175.9,44.3 176.5,44.5 181,43.5 180.4,43.3" fill="#00ff00" stroke="#00ff00" stroke-width="0.5"/>
<polyline points="175.9,44.3 176.5,44.5" stroke="#0a0a0a" stroke-width="1.0" fill="none"/>
<polyline points="180.4,43.3 181,43.5" stroke="#0a0a0a" stroke-width="1.0" fill="none"/>
<line x1="176.5" y1="44.5" x2="181" y2="43.5" stroke="#0a0a0a" stroke-width="1.0" fill="none"/>
<polygon points="176.5,44.5 177.8,45.6 179.1,47.7 180.4,50.8 181.7,54.8 182.9,59.5 184.2,64.9 185.5,70.7 186.7,76.9 191,75.5 189.8,69.3 188.5,63.6 187.3,58.3 186.1,53.6 184.8,49.7 183.5,46.7 182.3,44.6 181,43.5" fill="#ffff00" stroke="#ffff00" stroke-width="0.5"/>
<polyline points="176.5,44.5 177.8,45.6 179.1,47.7 180.4,50.8 181.7,54.8 182.9,59.5 184.2,64.9 185.5,70.7 186.7,76.9" stroke="#0a0a0a" stroke-width="1.0" fill="none"/>
<polyline points="181,43.5 182.3,44.6 183.5,46.7 184.8,49.7 186.1,53.6 187.3,58.3 188.5,63.6 189.8,69.3 191,75.5" stroke="#0a0a0a" stroke-width="1.0" fill="none"/>
<line x1="176.5" y1="44.5" x2="181" y2="43.5" stroke="#0a0a0a" stroke-width="1.0" fill="none"/>
<line x1="186.7" y1="76.9" x2="191" y2="75.5" stroke="#0a0a0a" stroke-width="1.0" fill="none"/>
<polygon points="186.7,76.9 187.6,81.6 188.5,86.3 189.5,91.1 190.4,95.8 191.3,100.5 192.2,105.1 193.1,109.5 194,113.9 194.9,118 195.8,122.1 196.7,125.9 200.8,123.6 199.9,119.9 199,115.9 198.1,111.8 197.2,107.5 196.3,103.1 195.5,98.6 194.6,94 193.7,89.4 192.8,84.7 191.9,80 191,75.5" fill="#00ff00" stroke="#00ff00" stroke-width="0.5"/>
<polyline points="186.7,76.9 187.6,81.6 188.5,86.3 189.5,91.1 190.4,95.8 191.3,100.5 192.2,105.1 193.1,109.5 194,113.9 194.9,118 195.8,122.1 196.7,125.9" stroke="#0a0a0a" stroke-width="1.0" fill="none"/>
<polyline points="191,75.5 191.9,80 192.8,84.7 193.7,89.4 194.6,94 195.5,98.6 196.3,103.1 197.2,107.5 198.1,111.8 199,115.9 199.9,119.9 200.8,123.6" stroke="#0a0a0a" stroke-width="1.0" fill="none"/>
<line x1="186.7" y1="76.9" x2="191" y2="75.5" stroke="#0a0a0a" stroke-width="1.0" fill="none"/>
<line x1="196.7" y1="125.9" x2="200.8" y2="123.6" stroke="#0a0a0a" stroke-width="1.0" fill="none"/>
<polygon points="196.7,125.9 197.9,130.9 199.2,135.5 200.4,139.8 201.7,143.7 202.9,147.2 204.2,150.5 205.4,153.4 206.7,156.1 210.6,153.3 209.4,150.7 208.1,147.8 206.9,144.6 205.7,141.1 204.4,137.3 203.2,133.1 202,128.5 200.8,123.6" fill="#ffff00" stroke="#ffff00" stroke-width="0.5"/>
<polyline points="196.7,125.9 197.9,130.9 199.2,135.5 200.4,139.8 201.7,143.7 202.9,147.2 204.2,150.5 205.4,153.4 206.7,156.1" stroke="#0a0a0a" stroke-width="1.0" fill="none"/>
<polyline points="200.8,123.6 202,128.5 203.2,133.1 204.4,137.3 205.7,141.1 206.9,144.6 208.1,147.8 209.4,150.7 210.6,153.3" stroke="#0a0a0a" stroke-width="1.0" fill="none"/>
<line x1="196.7" y1="125.9" x2="200.8" y2="123.6" stroke="#0a0a0a" stroke-width="1.0" fill="none"/>
<line x1="206.7" y1="156.1" x2="210.6" y2="153.3" stroke="#0a0a0a" stroke-width="1.0" fill="none"/>
<polygon points="206.7,156.1 208.7,159.8 210.8,162.9 212.8,165.4 214.9,167.6 217,169.3 220.7,166.3 218.7,164.6 216.7,162.5 214.6,160 212.6,157 210.6,153.3" fill="#00ff00" stroke="#00ff00" stroke-width="0.5"/>
<polyline points="206.7,156.1 208.7,159.8 210.8,162.9 212.8,165.4 214.9,167.6 217,169.3" stroke="#0a0a0a" stroke-width="1.0" fill="none"/>
<polyline points="210.6,153.3 212.6,157 214.6,160 216.7,162.5 218.7,164.6 220.7,166.3" stroke="#0a0a0a" stroke-width="1.0" fill="none"/>
<line x1="206.7" y1="156.1" x2="210.6" y2="153.3" stroke="#0a0a0a" stroke-width="1.0" fill="none"/>
<line x1="217" y1="169.3" x2="220.7" y2="166.3" stroke="#0a0a0a" stroke-width="1.0" fill="none"/>
<polygon points="217,169.3 220.5,171.5 224,173 227.5,174 231.1,171 227.6,170 224.2,168.5 220.7,166.3" fill="#ffff00" stroke="#ffff00" stroke-width="0.5"/>
<polyline points="217,169.3 220.5,171.5 224,173 227.5,174" stroke="#0a0a0a" stroke-width="1.0" fill="none"/>
<polyline points="220.7,166.3 224.2,168.5 227.6,170 231.1,171" stroke="#0a0a0a" stroke-width="1.0" fill="none"/>
<line x1="217" y1="169.3" x2="220.7" y2="166.3" stroke="#0a0a0a" stroke-width="1.0" fill="none"/>
<line x1="227.5" y1="174" x2="231.1" y2="171" stroke="#0a0a0a" stroke-width="1.0" fill="none"/>
<polygon points="227.5,174 231.1,174.7 234.7,175.1 238.2,172 234.6,171.6 231.1,171" fill="#00f500" stroke="#00f500" stroke-width="0.5"/>
<polyline points="227.5,174 231.1,174.7 234.7,175.1" stroke="#0a0a0a" stroke-width="1.0" fill="none"/>
<polyline points="231.1,171 234.6,171.6 238.2,172" stroke="#0a0a0a" stroke-width="1.0" fill="none"/>
<line x1="227.5" y1="174" x2="231.1" y2="171" stroke="#0a0a0a" stroke-width="1.0" fill="none"/>
<polygon points="234.7,175.1 238.3,175.3 241.7,172.2 238.2,172" fill="#00ec00" stroke="#00ec00" stroke-width="0.5"/>
<polyline points="234.7,175.1 238.3,175.3" stroke="#0a0a0a" stroke-width="1.0" fill="none"/>
<polyline points="238.2,172 241.7,172.2" stroke="#0a0a0a" stroke-width="1.0" fill="none"/>
<line x1="238.3" y1="175.3" x2="241.7" y2="172.2" stroke="#0a0a0a" stroke-width="1.0" fill="none"/>
<polygon points="238.3,175.3 241.9,175.3 245.5,175.3 249.2,175.3 252.5,172.2 248.9,172.2 245.3,172.2 241.7,172.2" fill="#f4e600" stroke="#f4e600" stroke-width="0.5"/>
<polyline points="238.3,175.3 241.9,175.3 245.5,175.3 249.2,175.3" stroke="#0a0a0a" stroke-width="1.0" fill="none"/>
<polyline points="241.7,172.2 245.3,172.2 248.9,172.2 252.5,172.2" stroke="#0a0a0a" stroke-width="1.0" fill="none"/>
<line x1="238.3" y1="175.3" x2="241.7" y2="172.2" stroke="#0a0a0a" stroke-width="1.0" fill="none"/>
<line x1="249.2" y1="175.3" x2="252.5" y2="172.2" stroke="#0a0a0a" stroke-width="1.0" fill="none"/>
<polygon points="87,154.6 89.9,155.3 92.9,156.1 95.9,156.9 101.2,154.3 98.3,153.5 95.3,152.8 92.4,152.1" fill="#fe0000" stroke="#fe0000" stroke-width="0.5"/>
<polyline points="87,154.6 89.9,155.3 92.9,156.1 95.9,156.9" stroke="#0a0a0a" stroke-width="1.0" fill="none"/>
<polyline points="92.4,152.1 95.3,152.8 98.3,153.5 101.2,154.3" stroke="#0a0a0a" stroke-width="1.0" fill="none"/>
<line x1="87" y1="154.6" x2="92.4" y2="152.1" stroke="#0a0a0a" stroke-width="1.0" fill="none"/>
<line x1="95.9" y1="156.9" x2="101.2" y2="154.3" stroke="#0a0a0a" stroke-width="1.0" fill="none"/>
<polygon points="95.9,156.9 98.9,157.8 101.9,158.7 104.9,159.6 110.2,157 107.2,156.1 104.2,155.2 101.2,154.3" fill="#0a0a12" stroke="#0a0a12" stroke-width="0.5"/>
<polyline points="95.9,156.9 98.9,157.8 101.9,158.7 104.9,159.6" stroke="#0a0a0a" stroke-width="1.0" fill="none"/>
<polyline points="101.2,154.3 104.2,155.2 107.2,156.1 110.2,157" stroke="#0a0a0a" stroke-width="1.0" fill="none"/>
<line x1="95.9" y1="156.9" x2="101.2" y2="154.3" stroke="#0a0a0a" stroke-width="1.0" fill="none"/>
<line x1="104.9" y1="159.6" x2="110.2" y2="157" stroke="#0a0a0a" stroke-width="1.0" fill="none"/>
<polygon points="104.9,159.6 108,160.5 111,161.4 114.1,162.1 119.2,159.4 116.2,158.7 113.2,157.8 110.2,157" fill="#fe0000" stroke="#fe0000" stroke-width="0.5"/>
<polyline points="104.9,159.6 108,160.5 111,161.4 114.1,162.1" stroke="#0a0a0a" stroke-width="1.0" fill="none"/>
<polyline points="110.2,157 113.2,157.8 116.2,158.7 119.2,159.4" stroke="#0a0a0a" stroke-width="1.0" fill="none"/>
<line x1="104.9" y1="159.6" x2="110.2" y2="157" stroke="#0a0a0a" stroke-width="1.0" fill="none"/>
<line x1="114.1" y1="162.1" x2="119.2" y2="159.4" stroke="#0a0a0a" stroke-width="1.0" fill="none"/>
<polygon points="114.1,162.1 117.2,162.7 120.3,163.2 123.3,163.3 128.4,160.6 125.3,160.4 122.2,160 119.2,159.4" fill="#0a0a12" stroke="#0a0a12" stroke-width="0.5"/>
<polyline points="114.1,162.1 117.2,162.7 120.3,163.2 123.3,163.3" stroke="#0a0a0a" stroke-width="1.0" fill="none"/>
<polyline points="119.2,159.4 122.2,160 125.3,160.4 128.4,160.6" stroke="#0a0a0a" stroke-width="1.0" fill="none"/>
<line x1="114.1" y1="162.1" x2="119.2" y2="159.4" stroke="#0a0a0a" stroke-width="1.0" fill="none"/>
<line x1="123.3" y1="163.3" x2="128.4" y2="160.6" stroke="#0a0a0a" stroke-width="1.0" fill="none"/>
<polygon points="123.3,163.3 126.5,163.1 131.4,160.3 128.4,160.6" fill="#df0000" stroke="#df0000" stroke-width="0.5"/>
<polyline points="123.3,163.3 126.5,163.1" stroke="#0a0a0a" stroke-width="1.0" fill="none"/>
<polyline points="128.4,160.6 131.4,160.3" stroke="#0a0a0a" stroke-width="1.0" fill="none"/>
<line x1="123.3" y1="163.3" x2="128.4" y2="160.6" stroke="#0a0a0a" stroke-width="1.0" fill="none"/>
<polygon points="126.5,163.1 129.6,162.3 134.5,159.6 131.4,160.3" fill="#cc0000" stroke="#cc0000" stroke-width="0.5"/>
<polyline points="126.5,163.1 129.6,162.3" stroke="#0a0a0a" stroke-width="1.0" fill="none"/>
<polyline points="131.4,160.3 134.5,159.6" stroke="#0a0a0a" stroke-width="1.0" fill="none"/>
<polygon points="129.6,162.3 132.7,160.8 137.6,158 134.5,159.6" fill="#900000" stroke="#900000" stroke-width="0.5"/>
<polyline points="129.6,162.3 132.7,160.8" stroke="#0a0a0a" stroke-width="1.0" fill="none"/>
<polyline points="134.5,159.6 137.6,158" stroke="#0a0a0a" stroke-width="1.0" fill="none"/>
<line x1="132.7" y1="160.8" x2="137.6" y2="158" stroke="#0a0a0a" stroke-width="1.0" fill="none"/>
<polygon points="132.7,160.8 134.6,159.4 136.5,157.6 138.3,155.3 140.2,152.5 142.1,149 146.9,146.4 145.1,149.9 143.2,152.7 141.3,154.9 139.5,156.7 137.6,158" fill="#0a0a12" stroke="#0a0a12" stroke-width="0.5"/>
<polyline points="132.7,160.8 134.6,159.4 136.5,157.6 138.3,155.3 140.2,152.5 142.1,149" stroke="#0a0a0a" stroke-width="1.0" fill="none"/>
<polyline points="137.6,158 139.5,156.7 141.3,154.9 143.2,152.7 145.1,149.9 146.9,146.4" stroke="#0a0a0a" stroke-width="1.0" fill="none"/>
<line x1="132.7" y1="160.8" x2="137.6" y2="158" stroke="#0a0a0a" stroke-width="1.0" fill="none"/>
<line x1="142.1" y1="149" x2="146.9" y2="146.4" stroke="#0a0a0a" stroke-width="1.0" fill="none"/>
<polygon points="142.1,149 143.3,146.4 144.5,143.6 149.3,141.1 148.1,143.9 146.9,146.4" fill="#c20000" stroke="#c20000" stroke-width="0.5"/>
<polyline points="142.1,149 143.3,146.4 144.5,143.6" stroke="#0a0a0a" stroke-width="1.0" fill="none"/>
<polyline points="146.9,146.4 148.1,143.9 149.3,141.1" stroke="#0a0a0a" stroke-width="1.0" fill="none"/>
<line x1="142.1" y1="149" x2="146.9" y2="146.4" stroke="#0a0a0a" stroke-width="1.0" fill="none"/>
<polygon points="144.5,143.6 145.7,140.4 146.9,136.8 148.1,132.9 152.9,130.6 151.7,134.4 150.5,137.9 149.3,141.1" fill="#cd0000" stroke="#cd0000" stroke-width="0.5"/>
<polyline points="144.5,143.6 145.7,140.4 146.9,136.8 148.1,132.9" stroke="#0a0a0a" stroke-width="1.0" fill="none"/>
<polyline points="149.3,141.1 150.5,137.9 151.7,134.4 152.9,130.6" stroke="#0a0a0a" stroke-width="1.0" fill="none"/>
<polygon points="148.1,132.9 149.3,128.7 150.5,124.1 151.7,119.1 156.5,116.9 155.2,121.9 154.1,126.4 152.9,130.6" fill="#d60000" stroke="#d60000" stroke-width="0.5"/>
<polyline points="148.1,132.9 149.3,128.7 150.5,124.1 151.7,119.1" stroke="#0a0a0a" stroke-width="1.0" fill="none"/>
<polyline points="152.9,130.6 154.1,126.4 155.2,121.9 156.5,116.9" stroke="#0a0a0a" stroke-width="1.0" fill="none"/>
<line x1="151.7" y1="119.1" x2="156.5" y2="116.9" stroke="#0a0a0a" stroke-width="1.0" fill="none"/>
<polygon points="151.7,119.1 152.6,115.2 153.5,111.2 154.4,107 155.2,102.7 156.1,98.3 157,93.8 157.9,89.2 158.8,84.6 159.8,80.1 160.7,75.6 161.6,71.2 166.3,69.8 165.4,74.1 164.5,78.5 163.6,83 162.7,87.5 161.8,92 160.9,96.5 160,100.8 159.1,105.1 158.2,109.2 157.3,113.2 156.5,116.9" fill="#0a0a12" stroke="#0a0a12" stroke-width="0.5"/>
<polyline points="151.7,119.1 152.6,115.2 153.5,111.2 154.4,107 155.2,102.7 156.1,98.3 157,93.8 157.9,89.2 158.8,84.6 159.8,80.1 160.7,75.6 161.6,71.2" stroke="#0a0a0a" stroke-width="1.0" fill="none"/>
<polyline points="156.5,116.9 157.3,113.2 158.2,109.2 159.1,105.1 160,100.8 160.9,96.5 161.8,92 162.7,87.5 163.6,83 164.5,78.5 165.4,74.1 166.3,69.8" stroke="#0a0a0a" stroke-width="1.0" fill="none"/>
<line x1="151.7" y1="119.1" x2="156.5" y2="116.9" stroke="#0a0a0a" stroke-width="1.0" fill="none"/>
<line x1="161.6" y1="71.2" x2="166.3" y2="69.8" stroke="#0a0a0a" stroke-width="1.0" fill="none"/>
<polygon points="161.6,71.2 163,64.7 164.5,58.8 166,53.7 170.7,52.6 169.2,57.6 167.7,63.4 166.3,69.8" fill="#d70000" stroke="#d70000" stroke-width="0.5"/>
<polyline points="161.6,71.2 163,64.7 164.5,58.8 166,53.7" stroke="#0a0a0a" stroke-width="1.0" fill="none"/>
<polyline points="166.3,69.8 167.7,63.4 169.2,57.6 170.7,52.6" stroke="#0a0a0a" stroke-width="1.0" fill="none"/>
<line x1="161.6" y1="71.2" x2="166.3" y2="69.8" stroke="#0a0a0a" stroke-width="1.0" fill="none"/>
<polygon points="166,53.7 167.5,49.7 172.1,48.7 170.7,52.6" fill="#c90000" stroke="#c90000" stroke-width="0.5"/>
<polyline points="166,53.7 167.5,49.7" stroke="#0a0a0a" stroke-width="1.0" fill="none"/>
<polyline points="170.7,52.6 172.1,48.7" stroke="#0a0a0a" stroke-width="1.0" fill="none"/>
<polygon points="167.5,49.7 168.9,47 173.6,45.9 172.1,48.7" fill="#b70000" stroke="#b70000" stroke-width="0.5"/>
<polyline points="167.5,49.7 168.9,47" stroke="#0a0a0a" stroke-width="1.0" fill="none"/>
<polyline points="172.1,48.7 173.6,45.9" stroke="#0a0a0a" stroke-width="1.0" fill="none"/>
<polygon points="168.9,47 170.4,45.5 175.1,44.5 173.6,45.9" fill="#900000" stroke="#900000" stroke-width="0.5"/>
<polyline points="168.9,47 170.4,45.5" stroke="#0a0a0a" stroke-width="1.0" fill="none"/>
<polyline points="173.6,45.9 175.1,44.5" stroke="#0a0a0a" stroke-width="1.0" fill="none"/>
<polygon points="170.4,45.5 171.3,45.3 175.9,44.3 175.1,44.5" fill="#d80000" stroke="#d80000" stroke-width="0.5"/>
<polyline points="170.4,45.5 171.3,45.3" stroke="#0a0a0a" stroke-width="1.0" fill="none"/>
<polyline points="175.1,44.5 175.9,44.3" stroke="#0a0a0a" stroke-width="1.0" fill="none"/>
<polygon points="171.3,45.3 171.9,45.5 176.5,44.5 175.9,44.3" fill="#ff0000" stroke="#ff0000" stroke-width="0.5"/>
<polyline points="171.3,45.3 171.9,45.5" stroke="#0a0a0a" stroke-width="1.0" fill="none"/>
<polyline points="175.9,44.3 176.5,44.5" stroke="#0a0a0a" stroke-width="1.0" fill="none"/>
<line x1="171.9" y1="45.5" x2="176.5" y2="44.5" stroke="#0a0a0a" stroke-width="1.0" fill="none"/>
<polygon points="171.9,45.5 173.2,46.6 174.5,48.8 175.8,51.9 177.1,56 178.4,60.8 179.7,66.2 181,72.2 182.3,78.5 186.7,76.9 185.5,70.7 184.2,64.9 182.9,59.5 181.7,54.8 180.4,50.8 179.1,47.7 177.8,45.6 176.5,44.5" fill="#0a0a12" stroke="#0a0a12" stroke-width="0.5"/>
<polyline points="171.9,45.5 173.2,46.6 174.5,48.8 175.8,51.9 177.1,56 178.4,60.8 179.7,66.2 181,72.2 182.3,78.5" stroke="#0a0a0a" stroke-width="1.0" fill="none"/>
<polyline points="176.5,44.5 177.8,45.6 179.1,47.7 180.4,50.8 181.7,54.8 182.9,59.5 184.2,64.9 185.5,70.7 186.7,76.9" stroke="#0a0a0a" stroke-width="1.0" fill="none"/>
<line x1="171.9" y1="45.5" x2="176.5" y2="44.5" stroke="#0a0a0a" stroke-width="1.0" fill="none"/>
<line x1="182.3" y1="78.5" x2="186.7" y2="76.9" stroke="#0a0a0a" stroke-width="1.0" fill="none"/>
<polygon points="182.3,78.5 183.2,83.2 184.2,88 185.1,92.9 186,97.7 186.9,102.4 187.9,107.1 188.8,111.6 189.7,116 190.6,120.3 191.5,124.3 192.5,128.2 196.7,125.9 195.8,122.1 194.9,118 194,113.9 193.1,109.5 192.2,105.1 191.3,100.5 190.4,95.8 189.5,91.1 188.5,86.3 187.6,81.6 186.7,76.9" fill="#ff0000" stroke="#ff0000" stroke-width="0.5"/>
<polyline points="182.3,78.5 183.2,83.2 184.2,88 185.1,92.9 186,97.7 186.9,102.4 187.9,107.1 188.8,111.6 189.7,116 190.6,120.3 191.5,124.3 192.5,128.2" stroke="#0a0a0a" stroke-width="1.0" fill="none"/>
<polyline points="186.7,76.9 187.6,81.6 188.5,86.3 189.5,91.1 190.4,95.8 191.3,100.5 192.2,105.1 193.1,109.5 194,113.9 194.9,118 195.8,122.1 196.7,125.9" stroke="#0a0a0a" stroke-width="1.0" fill="none"/>
<line x1="182.3" y1="78.5" x2="186.7" y2="76.9" stroke="#0a0a0a" stroke-width="1.0" fill="none"/>
<line x1="192.5" y1="128.2" x2="196.7" y2="125.9" stroke="#0a0a0a" stroke-width="1.0" fill="none"/>
<polygon points="192.5,128.2 193.7,133.3 195,138 196.3,142.3 197.5,146.3 198.8,149.9 200.1,153.2 201.4,156.2 202.7,158.9 206.7,156.1 205.4,153.4 204.2,150.5 202.9,147.2 201.7,143.7 200.4,139.8 199.2,135.5 197.9,130.9 196.7,125.9" fill="#0a0a12" stroke="#0a0a12" stroke-width="0.5"/>
<polyline points="192.5,128.2 193.7,133.3 195,138 196.3,142.3 197.5,146.3 198.8,149.9 200.1,153.2 201.4,156.2 202.7,158.9" stroke="#0a0a0a" stroke-width="1.0" fill="none"/>
<polyline points="196.7,125.9 197.9,130.9 199.2,135.5 200.4,139.8 201.7,143.7 202.9,147.2 204.2,150.5 205.4,153.4 206.7,156.1" stroke="#0a0a0a" stroke-width="1.0" fill="none"/>
<line x1="192.5" y1="128.2" x2="196.7" y2="125.9" stroke="#0a0a0a" stroke-width="1.0" fill="none"/>
<line x1="202.7" y1="158.9" x2="206.7" y2="156.1" stroke="#0a0a0a" stroke-width="1.0" fill="none"/>
<polygon points="202.7,158.9 204.7,162.7 206.8,165.8 208.9,168.4 211,170.6 213.1,172.4 217,169.3 214.9,167.6 212.8,165.4 210.8,162.9 208.7,159.8 206.7,156.1" fill="#ff0000" stroke="#ff0000" stroke-width="0.5"/>
<polyline points="202.7,158.9 204.7,162.7 206.8,165.8 208.9,168.4 211,170.6 213.1,172.4" stroke="#0a0a0a" stroke-width="1.0" fill="none"/>
<polyline points="206.7,156.1 208.7,159.8 210.8,162.9 212.8,165.4 214.9,167.6 217,169.3" stroke="#0a0a0a" stroke-width="1.0" fill="none"/>
<line x1="202.7" y1="158.9" x2="206.7" y2="156.1" stroke="#0a0a0a" stroke-width="1.0" fill="none"/>
<line x1="213.1" y1="172.4" x2="217" y2="169.3" stroke="#0a0a0a" stroke-width="1.0" fill="none"/>
<polygon points="213.1,172.4 216.6,174.6 220.2,176.2 223.8,177.2 227.5,174 224,173 220.5,171.5 217,169.3" fill="#0a0a12" stroke="#0a0a12" stroke-width="0.5"/>
<polyline points="213.1,172.4 216.6,174.6 220.2,176.2 223.8,177.2" stroke="#0a0a0a" stroke-width="1.0" fill="none"/>
<polyline points="217,169.3 220.5,171.5 224,173 227.5,174" stroke="#0a0a0a" stroke-width="1.0" fill="none"/>
<line x1="213.1" y1="172.4" x2="217" y2="169.3" stroke="#0a0a0a" stroke-width="1.0" fill="none"/>
<line x1="223.8" y1="177.2" x2="227.5" y2="174" stroke="#0a0a0a" stroke-width="1.0" fill="none"/>
<polygon points="223.8,177.2 227.4,177.9 231,178.3 234.7,175.1 231.1,174.7 227.5,174" fill="#f50000" stroke="#f50000" stroke-width="0.5"/>
<polyline points="223.8,177.2 227.4,177.9 231,178.3" stroke="#0a0a0a" stroke-width="1.0" fill="none"/>
<polyline points="227.5,174 231.1,174.7 234.7,175.1" stroke="#0a0a0a" stroke-width="1.0" fill="none"/>
<line x1="223.8" y1="177.2" x2="227.5" y2="174" stroke="#0a0a0a" stroke-width="1.0" fill="none"/>
<polygon points="231,178.3 234.7,178.5 238.3,175.3 234.7,175.1" fill="#ec0000" stroke="#ec0000" stroke-width="0.5"/>
<polyline points="231,178.3 234.7,178.5" stroke="#0a0a0a" stroke-width="1.0" fill="none"/>
<polyline points="234.7,175.1 238.3,175.3" stroke="#0a0a0a" stroke-width="1.0" fill="none"/>
<line x1="234.7" y1="178.5" x2="238.3" y2="175.3" stroke="#0a0a0a" stroke-width="1.0" fill="none"/>
<polygon points="234.7,178.5 238.4,178.6 242.1,178.6 245.8,178.5 249.2,175.3 245.5,175.3 241.9,175.3 238.3,175.3" fill="#0a0a12" stroke="#0a0a12" stroke-width="0.5"/>
<polyline points="234.7,178.5 238.4,178.6 242.1,178.6 245.8,178.5" stroke="#0a0a0a" stroke-width="1.0" fill="none"/>
<polyline points="238.3,175.3 241.9,175.3 245.5,175.3 249.2,175.3" stroke="#0a0a0a" stroke-width="1.0" fill="none"/>
<line x1="234.7" y1="178.5" x2="238.3" y2="175.3" stroke="#0a0a0a" stroke-width="1.0" fill="none"/>
<line x1="245.8" y1="178.5" x2="249.2" y2="175.3" stroke="#0a0a0a" stroke-width="1.0" fill="none"/>
<polygon points="81.4,157.2 84.4,157.9 87.4,158.7 90.4,159.6 95.9,156.9 92.9,156.1 89.9,155.3 87,154.6" fill="#00fe00" stroke="#00fe00" stroke-width="0.5"/>
<polyline points="81.4,157.2 84.4,157.9 87.4,158.7 90.4,159.6" stroke="#0a0a0a" stroke-width="1.0" fill="none"/>
<polyline points="87,154.6 89.9,155.3 92.9,156.1 95.9,156.9" stroke="#0a0a0a" stroke-width="1.0" fill="none"/>
<line x1="81.4" y1="157.2" x2="87" y2="154.6" stroke="#0a0a0a" stroke-width="1.0" fill="none"/>
<line x1="90.4" y1="159.6" x2="95.9" y2="156.9" stroke="#0a0a0a" stroke-width="1.0" fill="none"/>
<polygon points="90.4,159.6 93.4,160.5 96.5,161.4 99.5,162.3 104.9,159.6 101.9,158.7 98.9,157.8 95.9,156.9" fill="#ffff00" stroke="#ffff00" stroke-width="0.5"/>
<polyline points="90.4,159.6 93.4,160.5 96.5,161.4 99.5,162.3" stroke="#0a0a0a" stroke-width="1.0" fill="none"/>
<polyline points="95.9,156.9 98.9,157.8 101.9,158.7 104.9,159.6" stroke="#0a0a0a" stroke-width="1.0" fill="none"/>
<line x1="90.4" y1="159.6" x2="95.9" y2="156.9" stroke="#0a0a0a" stroke-width="1.0" fill="none"/>
<line x1="99.5" y1="162.3" x2="104.9" y2="159.6" stroke="#0a0a0a" stroke-width="1.0" fill="none"/>
<polygon points="99.5,162.3 102.6,163.2 105.7,164.1 108.8,164.9 114.1,162.1 111,161.4 108,160.5 104.9,159.6" fill="#00fe00" stroke="#00fe00" stroke-width="0.5"/>
<polyline points="99.5,162.3 102.6,163.2 105.7,164.1 108.8,164.9" stroke="#0a0a0a" stroke-width="1.0" fill="none"/>
<polyline points="104.9,159.6 108,160.5 111,161.4 114.1,162.1" stroke="#0a0a0a" stroke-width="1.0" fill="none"/>
<line x1="99.5" y1="162.3" x2="104.9" y2="159.6" stroke="#0a0a0a" stroke-width="1.0" fill="none"/>
<line x1="108.8" y1="164.9" x2="114.1" y2="162.1" stroke="#0a0a0a" stroke-width="1.0" fill="none"/>
<polygon points="108.8,164.9 111.9,165.5 115,166 120.3,163.2 117.2,162.7 114.1,162.1" fill="#fff700" stroke="#fff700" stroke-width="0.5"/>
<polyline points="108.8,164.9 111.9,165.5 115,166" stroke="#0a0a0a" stroke-width="1.0" fill="none"/>
<polyline points="114.1,162.1 117.2,162.7 120.3,163.2" stroke="#0a0a0a" stroke-width="1.0" fill="none"/>
<line x1="108.8" y1="164.9" x2="114.1" y2="162.1" stroke="#0a0a0a" stroke-width="1.0" fill="none"/>
<polygon points="115,166 118.2,166.1 123.3,163.3 120.3,163.2" fill="#fbec00" stroke="#fbec00" stroke-width="0.5"/>
<polyline points="115,166 118.2,166.1" stroke="#0a0a0a" stroke-width="1.0" fill="none"/>
<polyline points="120.3,163.2 123.3,163.3" stroke="#0a0a0a" stroke-width="1.0" fill="none"/>
<line x1="118.2" y1="166.1" x2="123.3" y2="163.3" stroke="#0a0a0a" stroke-width="1.0" fill="none"/>
<polygon points="118.2,166.1 121.3,165.9 126.5,163.1 123.3,163.3" fill="#00df00" stroke="#00df00" stroke-width="0.5"/>
<polyline points="118.2,166.1 121.3,165.9" stroke="#0a0a0a" stroke-width="1.0" fill="none"/>
<polyline points="123.3,163.3 126.5,163.1" stroke="#0a0a0a" stroke-width="1.0" fill="none"/>
<line x1="118.2" y1="166.1" x2="123.3" y2="163.3" stroke="#0a0a0a" stroke-width="1.0" fill="none"/>
<polygon points="121.3,165.9 124.5,165.1 129.6,162.3 126.5,163.1" fill="#00cc00" stroke="#00cc00" stroke-width="0.5"/>
<polyline points="121.3,165.9 124.5,165.1" stroke="#0a0a0a" stroke-width="1.0" fill="none"/>
<polyline points="126.5,163.1 129.6,162.3" stroke="#0a0a0a" stroke-width="1.0" fill="none"/>
<polygon points="124.5,165.1 127.6,163.6 132.7,160.8 129.6,162.3" fill="#009000" stroke="#009000" stroke-width="0.5"/>
<polyline points="124.5,165.1 127.6,163.6" stroke="#0a0a0a" stroke-width="1.0" fill="none"/>
<polyline points="129.6,162.3 132.7,160.8" stroke="#0a0a0a" stroke-width="1.0" fill="none"/>
<line x1="127.6" y1="163.6" x2="132.7" y2="160.8" stroke="#0a0a0a" stroke-width="1.0" fill="none"/>
<polygon points="127.6,163.6 129.5,162.2 131.4,160.4 136.5,157.6 134.6,159.4 132.7,160.8" fill="#999000" stroke="#999000" stroke-width="0.5"/>
<polyline points="127.6,163.6 129.5,162.2 131.4,160.4" stroke="#0a0a0a" stroke-width="1.0" fill="none"/>
<polyline points="132.7,160.8 134.6,159.4 136.5,157.6" stroke="#0a0a0a" stroke-width="1.0" fill="none"/>
<line x1="127.6" y1="163.6" x2="132.7" y2="160.8" stroke="#0a0a0a" stroke-width="1.0" fill="none"/>
<polygon points="131.4,160.4 133.3,158.1 138.3,155.3 136.5,157.6" fill="#a99f00" stroke="#a99f00" stroke-width="0.5"/>
<polyline points="131.4,160.4 133.3,158.1" stroke="#0a0a0a" stroke-width="1.0" fill="none"/>
<polyline points="136.5,157.6 138.3,155.3" stroke="#0a0a0a" stroke-width="1.0" fill="none"/>
<polygon points="133.3,158.1 135.2,155.2 140.2,152.5 138.3,155.3" fill="#b7ac00" stroke="#b7ac00" stroke-width="0.5"/>
<polyline points="133.3,158.1 135.2,155.2" stroke="#0a0a0a" stroke-width="1.0" fill="none"/>
<polyline points="138.3,155.3 140.2,152.5" stroke="#0a0a0a" stroke-width="1.0" fill="none"/>
<polygon points="135.2,155.2 137.2,151.6 142.1,149 140.2,152.5" fill="#c4b800" stroke="#c4b800" stroke-width="0.5"/>
<polyline points="135.2,155.2 137.2,151.6" stroke="#0a0a0a" stroke-width="1.0" fill="none"/>
<polyline points="140.2,152.5 142.1,149" stroke="#0a0a0a" stroke-width="1.0" fill="none"/>
<line x1="137.2" y1="151.6" x2="142.1" y2="149" stroke="#0a0a0a" stroke-width="1.0" fill="none"/>
<polygon points="137.2,151.6 138.3,149 139.5,146.1 144.5,143.6 143.3,146.4 142.1,149" fill="#00c200" stroke="#00c200" stroke-width="0.5"/>
<polyline points="137.2,151.6 138.3,149 139.5,146.1" stroke="#0a0a0a" stroke-width="1.0" fill="none"/>
<polyline points="142.1,149 143.3,146.4 144.5,143.6" stroke="#0a0a0a" stroke-width="1.0" fill="none"/>
<line x1="137.2" y1="151.6" x2="142.1" y2="149" stroke="#0a0a0a" stroke-width="1.0" fill="none"/>
<polygon points="139.5,146.1 140.7,142.9 141.9,139.3 143.2,135.4 148.1,132.9 146.9,136.8 145.7,140.4 144.5,143.6" fill="#00cd00" stroke="#00cd00" stroke-width="0.5"/>
<polyline points="139.5,146.1 140.7,142.9 141.9,139.3 143.2,135.4" stroke="#0a0a0a" stroke-width="1.0" fill="none"/>
<polyline points="144.5,143.6 145.7,140.4 146.9,136.8 148.1,132.9" stroke="#0a0a0a" stroke-width="1.0" fill="none"/>
<polygon points="143.2,135.4 144.4,131 145.6,126.3 146.8,121.3 151.7,119.1 150.5,124.1 149.3,128.7 148.1,132.9" fill="#00d600" stroke="#00d600" stroke-width="0.5"/>
<polyline points="143.2,135.4 144.4,131 145.6,126.3 146.8,121.3" stroke="#0a0a0a" stroke-width="1.0" fill="none"/>
<polyline points="148.1,132.9 149.3,128.7 150.5,124.1 151.7,119.1" stroke="#0a0a0a" stroke-width="1.0" fill="none"/>
<line x1="146.8" y1="121.3" x2="151.7" y2="119.1" stroke="#0a0a0a" stroke-width="1.0" fill="none"/>
<polygon points="146.8,121.3 147.7,117.4 148.6,113.3 149.5,109.1 150.4,104.7 151.3,100.2 152.2,95.6 153.1,91 154,86.3 154.9,81.7 155.8,77.1 156.7,72.6 161.6,71.2 160.7,75.6 159.8,80.1 158.8,84.6 157.9,89.2 157,93.8 156.1,98.3 155.2,102.7 154.4,107 153.5,111.2 152.6,115.2 151.7,119.1" fill="#ebdd00" stroke="#ebdd00" stroke-width="0.5"/>
<polyline points="146.8,121.3 147.7,117.4 148.6,113.3 149.5,109.1 150.4,104.7 151.3,100.2 152.2,95.6 153.1,91 154,86.3 154.9,81.7 155.8,77.1 156.7,72.6" stroke="#0a0a0a" stroke-width="1.0" fill="none"/>
<polyline points="151.7,119.1 152.6,115.2 153.5,111.2 154.4,107 155.2,102.7 156.1,98.3 157,93.8 157.9,89.2 158.8,84.6 159.8,80.1 160.7,75.6 161.6,71.2" stroke="#0a0a0a" stroke-width="1.0" fill="none"/>
<line x1="146.8" y1="121.3" x2="151.7" y2="119.1" stroke="#0a0a0a" stroke-width="1.0" fill="none"/>
<line x1="156.7" y1="72.6" x2="161.6" y2="71.2" stroke="#0a0a0a" stroke-width="1.0" fill="none"/>
<polygon points="156.7,72.6 158.2,66 159.7,60 161.1,54.9 166,53.7 164.5,58.8 163,64.7 161.6,71.2" fill="#00d700" stroke="#00d700" stroke-width="0.5"/>
<polyline points="156.7,72.6 158.2,66 159.7,60 161.1,54.9" stroke="#0a0a0a" stroke-width="1.0" fill="none"/>
<polyline points="161.6,71.2 163,64.7 164.5,58.8 166,53.7" stroke="#0a0a0a" stroke-width="1.0" fill="none"/>
<line x1="156.7" y1="72.6" x2="161.6" y2="71.2" stroke="#0a0a0a" stroke-width="1.0" fill="none"/>
<polygon points="161.1,54.9 162.6,50.8 167.5,49.7 166,53.7" fill="#00c900" stroke="#00c900" stroke-width="0.5"/>
<polyline points="161.1,54.9 162.6,50.8" stroke="#0a0a0a" stroke-width="1.0" fill="none"/>
<polyline points="166,53.7 167.5,49.7" stroke="#0a0a0a" stroke-width="1.0" fill="none"/>
<polygon points="162.6,50.8 164.1,48 168.9,47 167.5,49.7" fill="#00b700" stroke="#00b700" stroke-width="0.5"/>
<polyline points="162.6,50.8 164.1,48" stroke="#0a0a0a" stroke-width="1.0" fill="none"/>
<polyline points="167.5,49.7 168.9,47" stroke="#0a0a0a" stroke-width="1.0" fill="none"/>
<polygon points="164.1,48 165.7,46.5 170.4,45.5 168.9,47" fill="#009000" stroke="#009000" stroke-width="0.5"/>
<polyline points="164.1,48 165.7,46.5" stroke="#0a0a0a" stroke-width="1.0" fill="none"/>
<polyline points="168.9,47 170.4,45.5" stroke="#0a0a0a" stroke-width="1.0" fill="none"/>
<polygon points="165.7,46.5 166.5,46.3 171.3,45.3 170.4,45.5" fill="#00d800" stroke="#00d800" stroke-width="0.5"/>
<polyline points="165.7,46.5 166.5,46.3" stroke="#0a0a0a" stroke-width="1.0" fill="none"/>
<polyline points="170.4,45.5 171.3,45.3" stroke="#0a0a0a" stroke-width="1.0" fill="none"/>
<polygon points="166.5,46.3 167.2,46.5 171.9,45.5 171.3,45.3" fill="#00ff00" stroke="#00ff00" stroke-width="0.5"/>
<polyline points="166.5,46.3 167.2,46.5" stroke="#0a0a0a" stroke-width="1.0" fill="none"/>
<polyline points="171.3,45.3 171.9,45.5" stroke="#0a0a0a" stroke-width="1.0" fill="none"/>
<line x1="167.2" y1="46.5" x2="171.9" y2="45.5" stroke="#0a0a0a" stroke-width="1.0" fill="none"/>
<polygon points="167.2,46.5 168.5,47.6 169.8,49.8 171.1,53.1 172.5,57.2 173.8,62.1 175.1,67.6 176.4,73.7 177.7,80.1 182.3,78.5 181,72.2 179.7,66.2 178.4,60.8 177.1,56 175.8,51.9 174.5,48.8 173.2,46.6 171.9,45.5" fill="#ffff00" stroke="#ffff00" stroke-width="0.5"/>
<polyline points="167.2,46.5 168.5,47.6 169.8,49.8 171.1,53.1 172.5,57.2 173.8,62.1 175.1,67.6 176.4,73.7 177.7,80.1" stroke="#0a0a0a" stroke-width="1.0" fill="none"/>
<polyline points="171.9,45.5 173.2,46.6 174.5,48.8 175.8,51.9 177.1,56 178.4,60.8 179.7,66.2 181,72.2 182.3,78.5" stroke="#0a0a0a" stroke-width="1.0" fill="none"/>
<line x1="167.2" y1="46.5" x2="171.9" y2="45.5" stroke="#0a0a0a" stroke-width="1.0" fill="none"/>
<line x1="177.7" y1="80.1" x2="182.3" y2="78.5" stroke="#0a0a0a" stroke-width="1.0" fill="none"/>
<polygon points="177.7,80.1 178.7,84.9 179.6,89.8 180.6,94.7 181.5,99.6 182.5,104.4 183.4,109.1 184.3,113.8 185.3,118.2 186.2,122.6 187.2,126.7 188.1,130.7 192.5,128.2 191.5,124.3 190.6,120.3 189.7,116 188.8,111.6 187.9,107.1 186.9,102.4 186,97.7 185.1,92.9 184.2,88 183.2,83.2 182.3,78.5" fill="#00ff00" stroke="#00ff00" stroke-width="0.5"/>
<polyline points="177.7,80.1 178.7,84.9 179.6,89.8 180.6,94.7 181.5,99.6 182.5,104.4 183.4,109.1 184.3,113.8 185.3,118.2 186.2,122.6 187.2,126.7 188.1,130.7" stroke="#0a0a0a" stroke-width="1.0" fill="none"/>
<polyline points="182.3,78.5 183.2,83.2 184.2,88 185.1,92.9 186,97.7 186.9,102.4 187.9,107.1 188.8,111.6 189.7,116 190.6,120.3 191.5,124.3 192.5,128.2" stroke="#0a0a0a" stroke-width="1.0" fill="none"/>
<line x1="177.7" y1="80.1" x2="182.3" y2="78.5" stroke="#0a0a0a" stroke-width="1.0" fill="none"/>
<line x1="188.1" y1="130.7" x2="192.5" y2="128.2" stroke="#0a0a0a" stroke-width="1.0" fill="none"/>
<polygon points="188.1,130.7 189.4,135.8 190.7,140.6 192,145 193.3,149 194.6,152.7 195.9,156.1 197.2,159.1 198.5,161.9 202.7,158.9 201.4,156.2 200.1,153.2 198.8,149.9 197.5,146.3 196.3,142.3 195,138 193.7,133.3 192.5,128.2" fill="#ffff00" stroke="#ffff00" stroke-width="0.5"/>
<polyline points="188.1,130.7 189.4,135.8 190.7,140.6 192,145 193.3,149 194.6,152.7 195.9,156.1 197.2,159.1 198.5,161.9" stroke="#0a0a0a" stroke-width="1.0" fill="none"/>
<polyline points="192.5,128.2 193.7,133.3 195,138 196.3,142.3 197.5,146.3 198.8,149.9 200.1,153.2 201.4,156.2 202.7,158.9" stroke="#0a0a0a" stroke-width="1.0" fill="none"/>
<line x1="188.1" y1="130.7" x2="192.5" y2="128.2" stroke="#0a0a0a" stroke-width="1.0" fill="none"/>
<line x1="198.5" y1="161.9" x2="202.7" y2="158.9" stroke="#0a0a0a" stroke-width="1.0" fill="none"/>
<polygon points="198.5,161.9 200.6,165.7 202.7,168.9 204.8,171.5 206.9,173.7 209.1,175.5 213.1,172.4 211,170.6 208.9,168.4 206.8,165.8 204.7,162.7 202.7,158.9" fill="#00ff00" stroke="#00ff00" stroke-width="0.5"/>
<polyline points="198.5,161.9 200.6,165.7 202.7,168.9 204.8,171.5 206.9,173.7 209.1,175.5" stroke="#0a0a0a" stroke-width="1.0" fill="none"/>
<polyline points="202.7,158.9 204.7,162.7 206.8,165.8 208.9,168.4 211,170.6 213.1,172.4" stroke="#0a0a0a" stroke-width="1.0" fill="none"/>
<line x1="198.5" y1="161.9" x2="202.7" y2="158.9" stroke="#0a0a0a" stroke-width="1.0" fill="none"/>
<line x1="209.1" y1="175.5" x2="213.1" y2="172.4" stroke="#0a0a0a" stroke-width="1.0" fill="none"/>
<polygon points="209.1,175.5 212.7,177.8 216.3,179.4 219.9,180.5 223.8,177.2 220.2,176.2 216.6,174.6 213.1,172.4" fill="#ffff00" stroke="#ffff00" stroke-width="0.5"/>
<polyline points="209.1,175.5 212.7,177.8 216.3,179.4 219.9,180.5" stroke="#0a0a0a" stroke-width="1.0" fill="none"/>
<polyline points="213.1,172.4 216.6,174.6 220.2,176.2 223.8,177.2" stroke="#0a0a0a" stroke-width="1.0" fill="none"/>
<line x1="209.1" y1="175.5" x2="213.1" y2="172.4" stroke="#0a0a0a" stroke-width="1.0" fill="none"/>
<line x1="219.9" y1="180.5" x2="223.8" y2="177.2" stroke="#0a0a0a" stroke-width="1.0" fill="none"/>
<polygon points="219.9,180.5 223.6,181.2 227.3,181.6 231,178.3 227.4,177.9 223.8,177.2" fill="#00f500" stroke="#00f500" stroke-width="0.5"/>
<polyline points="219.9,180.5 223.6,181.2 227.3,181.6" stroke="#0a0a0a" stroke-width="1.0" fill="none"/>
<polyline points="223.8,177.2 227.4,177.9 231,178.3" stroke="#0a0a0a" stroke-width="1.0" fill="none"/>
<line x1="219.9" y1="180.5" x2="223.8" y2="177.2" stroke="#0a0a0a" stroke-width="1.0" fill="none"/>
<polygon points="227.3,181.6 231,181.8 234.7,178.5 231,178.3" fill="#00ec00" stroke="#00ec00" stroke-width="0.5"/>
<polyline points="227.3,181.6 231,181.8" stroke="#0a0a0a" stroke-width="1.0" fill="none"/>
<polyline points="231,178.3 234.7,178.5" stroke="#0a0a0a" stroke-width="1.0" fill="none"/>
<line x1="231" y1="181.8" x2="234.7" y2="178.5" stroke="#0a0a0a" stroke-width="1.0" fill="none"/>
<polygon points="231,181.8 234.7,181.9 238.5,181.9 242.2,181.9 245.8,178.5 242.1,178.6 238.4,178.6 234.7,178.5" fill="#f4e600" stroke="#f4e600" stroke-width="0.5"/>
<polyline points="231,181.8 234.7,181.9 238.5,181.9 242.2,181.9" stroke="#0a0a0a" stroke-width="1.0" fill="none"/>
<polyline points="234.7,178.5 238.4,178.6 242.1,178.6 245.8,178.5" stroke="#0a0a0a" stroke-width="1.0" fill="none"/>
<line x1="231" y1="181.8" x2="234.7" y2="178.5" stroke="#0a0a0a" stroke-width="1.0" fill="none"/>
<line x1="242.2" y1="181.9" x2="245.8" y2="178.5" stroke="#0a0a0a" stroke-width="1.0" fill="none"/>
<polygon points="75.6,159.9 78.6,160.6 81.7,161.4 84.7,162.3 90.4,159.6 87.4,158.7 84.4,157.9 81.4,157.2" fill="#fe0000" stroke="#fe0000" stroke-width="0.5"/>
<polyline points="75.6,159.9 78.6,160.6 81.7,161.4 84.7,162.3" stroke="#0a0a0a" stroke-width="1.0" fill="none"/>
<polyline points="81.4,157.2 84.4,157.9 87.4,158.7 90.4,159.6" stroke="#0a0a0a" stroke-width="1.0" fill="none"/>
<line x1="75.6" y1="159.9" x2="81.4" y2="157.2" stroke="#0a0a0a" stroke-width="1.0" fill="none"/>
<line x1="84.7" y1="162.3" x2="90.4" y2="159.6" stroke="#0a0a0a" stroke-width="1.0" fill="none"/>
<polygon points="84.7,162.3 87.8,163.2 90.9,164.2 94,165.1 99.5,162.3 96.5,161.4 93.4,160.5 90.4,159.6" fill="#0a0a12" stroke="#0a0a12" stroke-width="0.5"/>
<polyline points="84.7,162.3 87.8,163.2 90.9,164.2 94,165.1" stroke="#0a0a0a" stroke-width="1.0" fill="none"/>
<polyline points="90.4,159.6 93.4,160.5 96.5,161.4 99.5,162.3" stroke="#0a0a0a" stroke-width="1.0" fill="none"/>
<line x1="84.7" y1="162.3" x2="90.4" y2="159.6" stroke="#0a0a0a" stroke-width="1.0" fill="none"/>
<line x1="94" y1="165.1" x2="99.5" y2="162.3" stroke="#0a0a0a" stroke-width="1.0" fill="none"/>
<polygon points="94,165.1 97.1,166.1 100.2,167 103.4,167.8 108.8,164.9 105.7,164.1 102.6,163.2 99.5,162.3" fill="#fe0000" stroke="#fe0000" stroke-width="0.5"/>
<polyline points="94,165.1 97.1,166.1 100.2,167 103.4,167.8" stroke="#0a0a0a" stroke-width="1.0" fill="none"/>
<polyline points="99.5,162.3 102.6,163.2 105.7,164.1 108.8,164.9" stroke="#0a0a0a" stroke-width="1.0" fill="none"/>
<line x1="94" y1="165.1" x2="99.5" y2="162.3" stroke="#0a0a0a" stroke-width="1.0" fill="none"/>
<line x1="103.4" y1="167.8" x2="108.8" y2="164.9" stroke="#0a0a0a" stroke-width="1.0" fill="none"/>
<polygon points="103.4,167.8 106.5,168.4 109.7,168.9 112.8,169.1 118.2,166.1 115,166 111.9,165.5 108.8,164.9" fill="#0a0a12" stroke="#0a0a12" stroke-width="0.5"/>
<polyline points="103.4,167.8 106.5,168.4 109.7,168.9 112.8,169.1" stroke="#0a0a0a" stroke-width="1.0" fill="none"/>
<polyline points="108.8,164.9 111.9,165.5 115,166 118.2,166.1" stroke="#0a0a0a" stroke-width="1.0" fill="none"/>
<line x1="103.4" y1="167.8" x2="108.8" y2="164.9" stroke="#0a0a0a" stroke-width="1.0" fill="none"/>
<line x1="112.8" y1="169.1" x2="118.2" y2="166.1" stroke="#0a0a0a" stroke-width="1.0" fill="none"/>
<polygon points="112.8,169.1 116,168.8 121.3,165.9 118.2,166.1" fill="#df0000" stroke="#df0000" stroke-width="0.5"/>
<polyline points="112.8,169.1 116,168.8" stroke="#0a0a0a" stroke-width="1.0" fill="none"/>
<polyline points="118.2,166.1 121.3,165.9" stroke="#0a0a0a" stroke-width="1.0" fill="none"/>
<line x1="112.8" y1="169.1" x2="118.2" y2="166.1" stroke="#0a0a0a" stroke-width="1.0" fill="none"/>
<polygon points="116,168.8 119.2,168 124.5,165.1 121.3,165.9" fill="#cc0000" stroke="#cc0000" stroke-width="0.5"/>
<polyline points="116,168.8 119.2,168" stroke="#0a0a0a" stroke-width="1.0" fill="none"/>
<polyline points="121.3,165.9 124.5,165.1" stroke="#0a0a0a" stroke-width="1.0" fill="none"/>
<polygon points="119.2,168 122.4,166.5 127.6,163.6 124.5,165.1" fill="#900000" stroke="#900000" stroke-width="0.5"/>
<polyline points="119.2,168 122.4,166.5" stroke="#0a0a0a" stroke-width="1.0" fill="none"/>
<polyline points="124.5,165.1 127.6,163.6" stroke="#0a0a0a" stroke-width="1.0" fill="none"/>
<line x1="122.4" y1="166.5" x2="127.6" y2="163.6" stroke="#0a0a0a" stroke-width="1.0" fill="none"/>
<polygon points="122.4,166.5 124.3,165.1 126.2,163.2 128.2,160.9 130.1,158 132,154.4 137.2,151.6 135.2,155.2 133.3,158.1 131.4,160.4 129.5,162.2 127.6,163.6" fill="#0a0a12" stroke="#0a0a12" stroke-width="0.5"/>
<polyline points="122.4,166.5 124.3,165.1 126.2,163.2 128.2,160.9 130.1,158 132,154.4" stroke="#0a0a0a" stroke-width="1.0" fill="none"/>
<polyline points="127.6,163.6 129.5,162.2 131.4,160.4 133.3,158.1 135.2,155.2 137.2,151.6" stroke="#0a0a0a" stroke-width="1.0" fill="none"/>
<line x1="122.4" y1="166.5" x2="127.6" y2="163.6" stroke="#0a0a0a" stroke-width="1.0" fill="none"/>
<line x1="132" y1="154.4" x2="137.2" y2="151.6" stroke="#0a0a0a" stroke-width="1.0" fill="none"/>
<polygon points="132,154.4 133.2,151.7 134.4,148.8 139.5,146.1 138.3,149 137.2,151.6" fill="#c20000" stroke="#c20000" stroke-width="0.5"/>
<polyline points="132,154.4 133.2,151.7 134.4,148.8" stroke="#0a0a0a" stroke-width="1.0" fill="none"/>
<polyline points="137.2,151.6 138.3,149 139.5,146.1" stroke="#0a0a0a" stroke-width="1.0" fill="none"/>
<line x1="132" y1="154.4" x2="137.2" y2="151.6" stroke="#0a0a0a" stroke-width="1.0" fill="none"/>
<polygon points="134.4,148.8 135.6,145.5 136.8,141.9 138.1,137.9 143.2,135.4 141.9,139.3 140.7,142.9 139.5,146.1" fill="#cd0000" stroke="#cd0000" stroke-width="0.5"/>
<polyline points="134.4,148.8 135.6,145.5 136.8,141.9 138.1,137.9" stroke="#0a0a0a" stroke-width="1.0" fill="none"/>
<polyline points="139.5,146.1 140.7,142.9 141.9,139.3 143.2,135.4" stroke="#0a0a0a" stroke-width="1.0" fill="none"/>
<polygon points="138.1,137.9 139.3,133.5 140.5,128.7 141.7,123.6 146.8,121.3 145.6,126.3 144.4,131 143.2,135.4" fill="#d60000" stroke="#d60000" stroke-width="0.5"/>
<polyline points="138.1,137.9 139.3,133.5 140.5,128.7 141.7,123.6" stroke="#0a0a0a" stroke-width="1.0" fill="none"/>
<polyline points="143.2,135.4 144.4,131 145.6,126.3 146.8,121.3" stroke="#0a0a0a" stroke-width="1.0" fill="none"/>
<line x1="141.7" y1="123.6" x2="146.8" y2="121.3" stroke="#0a0a0a" stroke-width="1.0" fill="none"/>
<polygon points="141.7,123.6 142.6,119.6 143.5,115.5 144.4,111.2 145.3,106.7 146.2,102.1 147.1,97.5 148,92.8 148.9,88 149.8,83.3 150.8,78.7 151.7,74.1 156.7,72.6 155.8,77.1 154.9,81.7 154,86.3 153.1,91 152.2,95.6 151.3,100.2 150.4,104.7 149.5,109.1 148.6,113.3 147.7,117.4 146.8,121.3" fill="#0a0a12" stroke="#0a0a12" stroke-width="0.5"/>
<polyline points="141.7,123.6 142.6,119.6 143.5,115.5 144.4,111.2 145.3,106.7 146.2,102.1 147.1,97.5 148,92.8 148.9,88 149.8,83.3 150.8,78.7 151.7,74.1" stroke="#0a0a0a" stroke-width="1.0" fill="none"/>
<polyline points="146.8,121.3 147.7,117.4 148.6,113.3 149.5,109.1 150.4,104.7 151.3,100.2 152.2,95.6 153.1,91 154,86.3 154.9,81.7 155.8,77.1 156.7,72.6" stroke="#0a0a0a" stroke-width="1.0" fill="none"/>
<line x1="141.7" y1="123.6" x2="146.8" y2="121.3" stroke="#0a0a0a" stroke-width="1.0" fill="none"/>
<line x1="151.7" y1="74.1" x2="156.7" y2="72.6" stroke="#0a0a0a" stroke-width="1.0" fill="none"/>
<polygon points="151.7,74.1 153.2,67.4 154.6,61.3 156.1,56.1 161.1,54.9 159.7,60 158.2,66 156.7,72.6" fill="#d70000" stroke="#d70000" stroke-width="0.5"/>
<polyline points="151.7,74.1 153.2,67.4 154.6,61.3 156.1,56.1" stroke="#0a0a0a" stroke-width="1.0" fill="none"/>
<polyline points="156.7,72.6 158.2,66 159.7,60 161.1,54.9" stroke="#0a0a0a" stroke-width="1.0" fill="none"/>
<line x1="151.7" y1="74.1" x2="156.7" y2="72.6" stroke="#0a0a0a" stroke-width="1.0" fill="none"/>
<polygon points="156.1,56.1 157.7,52 162.6,50.8 161.1,54.9" fill="#c90000" stroke="#c90000" stroke-width="0.5"/>
<polyline points="156.1,56.1 157.7,52" stroke="#0a0a0a" stroke-width="1.0" fill="none"/>
<polyline points="161.1,54.9 162.6,50.8" stroke="#0a0a0a" stroke-width="1.0" fill="none"/>
<polygon points="157.7,52 159.2,49.1 164.1,48 162.6,50.8" fill="#b70000" stroke="#b70000" stroke-width="0.5"/>
<polyline points="157.7,52 159.2,49.1" stroke="#0a0a0a" stroke-width="1.0" fill="none"/>
<polyline points="162.6,50.8 164.1,48" stroke="#0a0a0a" stroke-width="1.0" fill="none"/>
<polygon points="159.2,49.1 160.7,47.6 165.7,46.5 164.1,48" fill="#900000" stroke="#900000" stroke-width="0.5"/>
<polyline points="159.2,49.1 160.7,47.6" stroke="#0a0a0a" stroke-width="1.0" fill="none"/>
<polyline points="164.1,48 165.7,46.5" stroke="#0a0a0a" stroke-width="1.0" fill="none"/>
<polygon points="160.7,47.6 161.6,47.4 166.5,46.3 165.7,46.5" fill="#d80000" stroke="#d80000" stroke-width="0.5"/>
<polyline points="160.7,47.6 161.6,47.4" stroke="#0a0a0a" stroke-width="1.0" fill="none"/>
<polyline points="165.7,46.5 166.5,46.3" stroke="#0a0a0a" stroke-width="1.0" fill="none"/>
<polygon points="161.6,47.4 162.2,47.6 167.2,46.5 166.5,46.3" fill="#ff0000" stroke="#ff0000" stroke-width="0.5"/>
<polyline points="161.6,47.4 162.2,47.6" stroke="#0a0a0a" stroke-width="1.0" fill="none"/>
<polyline points="166.5,46.3 167.2,46.5" stroke="#0a0a0a" stroke-width="1.0" fill="none"/>
<line x1="162.2" y1="47.6" x2="167.2" y2="46.5" stroke="#0a0a0a" stroke-width="1.0" fill="none"/>
<polygon points="162.2,47.6 163.6,48.7 164.9,51 166.3,54.2 167.6,58.4 169,63.4 170.3,69.1 171.7,75.2 173,81.7 177.7,80.1 176.4,73.7 175.1,67.6 173.8,62.1 172.5,57.2 171.1,53.1 169.8,49.8 168.5,47.6 167.2,46.5" fill="#0a0a12" stroke="#0a0a12" stroke-width="0.5"/>
<polyline points="162.2,47.6 163.6,48.7 164.9,51 166.3,54.2 167.6,58.4 169,63.4 170.3,69.1 171.7,75.2 173,81.7" stroke="#0a0a0a" stroke-width="1.0" fill="none"/>
<polyline points="167.2,46.5 168.5,47.6 169.8,49.8 171.1,53.1 172.5,57.2 173.8,62.1 175.1,67.6 176.4,73.7 177.7,80.1" stroke="#0a0a0a" stroke-width="1.0" fill="none"/>
<line x1="162.2" y1="47.6" x2="167.2" y2="46.5" stroke="#0a0a0a" stroke-width="1.0" fill="none"/>
<line x1="173" y1="81.7" x2="177.7" y2="80.1" stroke="#0a0a0a" stroke-width="1.0" fill="none"/>
<polygon points="173,81.7 174,86.6 174.9,91.6 175.9,96.6 176.9,101.6 177.8,106.5 178.8,111.3 179.7,116 180.7,120.5 181.7,124.9 182.6,129.1 183.6,133.2 188.1,130.7 187.2,126.7 186.2,122.6 185.3,118.2 184.3,113.8 183.4,109.1 182.5,104.4 181.5,99.6 180.6,94.7 179.6,89.8 178.7,84.9 177.7,80.1" fill="#ff0000" stroke="#ff0000" stroke-width="0.5"/>
<polyline points="173,81.7 174,86.6 174.9,91.6 175.9,96.6 176.9,101.6 177.8,106.5 178.8,111.3 179.7,116 180.7,120.5 181.7,124.9 182.6,129.1 183.6,133.2" stroke="#0a0a0a" stroke-width="1.0" fill="none"/>
<polyline points="177.7,80.1 178.7,84.9 179.6,89.8 180.6,94.7 181.5,99.6 182.5,104.4 183.4,109.1 184.3,113.8 185.3,118.2 186.2,122.6 187.2,126.7 188.1,130.7" stroke="#0a0a0a" stroke-width="1.0" fill="none"/>
<line x1="173" y1="81.7" x2="177.7" y2="80.1" stroke="#0a0a0a" stroke-width="1.0" fill="none"/>
<line x1="183.6" y1="133.2" x2="188.1" y2="130.7" stroke="#0a0a0a" stroke-width="1.0" fill="none"/>
<polygon points="183.6,133.2 184.9,138.4 186.2,143.3 187.5,147.7 188.8,151.8 190.2,155.6 191.5,159 192.8,162.1 194.2,164.9 198.5,161.9 197.2,159.1 195.9,156.1 194.6,152.7 193.3,149 192,145 190.7,140.6 189.4,135.8 188.1,130.7" fill="#0a0a12" stroke="#0a0a12" stroke-width="0.5"/>
<polyline points="183.6,133.2 184.9,138.4 186.2,143.3 187.5,147.7 188.8,151.8 190.2,155.6 191.5,159 192.8,162.1 194.2,164.9" stroke="#0a0a0a" stroke-width="1.0" fill="none"/>
<polyline points="188.1,130.7 189.4,135.8 190.7,140.6 192,145 193.3,149 194.6,152.7 195.9,156.1 197.2,159.1 198.5,161.9" stroke="#0a0a0a" stroke-width="1.0" fill="none"/>
<line x1="183.6" y1="133.2" x2="188.1" y2="130.7" stroke="#0a0a0a" stroke-width="1.0" fill="none"/>
<line x1="194.2" y1="164.9" x2="198.5" y2="161.9" stroke="#0a0a0a" stroke-width="1.0" fill="none"/>
<polygon points="194.2,164.9 196.3,168.8 198.4,172 200.6,174.7 202.7,177 204.9,178.8 209.1,175.5 206.9,173.7 204.8,171.5 202.7,168.9 200.6,165.7 198.5,161.9" fill="#ff0000" stroke="#ff0000" stroke-width="0.5"/>
<polyline points="194.2,164.9 196.3,168.8 198.4,172 200.6,174.7 202.7,177 204.9,178.8" stroke="#0a0a0a" stroke-width="1.0" fill="none"/>
<polyline points="198.5,161.9 200.6,165.7 202.7,168.9 204.8,171.5 206.9,173.7 209.1,175.5" stroke="#0a0a0a" stroke-width="1.0" fill="none"/>
<line x1="194.2" y1="164.9" x2="198.5" y2="161.9" stroke="#0a0a0a" stroke-width="1.0" fill="none"/>
<line x1="204.9" y1="178.8" x2="209.1" y2="175.5" stroke="#0a0a0a" stroke-width="1.0" fill="none"/>
<polygon points="204.9,178.8 208.6,181.1 212.2,182.8 215.9,183.9 219.9,180.5 216.3,179.4 212.7,177.8 209.1,175.5" fill="#0a0a12" stroke="#0a0a12" stroke-width="0.5"/>
<polyline points="204.9,178.8 208.6,181.1 212.2,182.8 215.9,183.9" stroke="#0a0a0a" stroke-width="1.0" fill="none"/>
<polyline points="209.1,175.5 212.7,177.8 216.3,179.4 219.9,180.5" stroke="#0a0a0a" stroke-width="1.0" fill="none"/>
<line x1="204.9" y1="178.8" x2="209.1" y2="175.5" stroke="#0a0a0a" stroke-width="1.0" fill="none"/>
<line x1="215.9" y1="183.9" x2="219.9" y2="180.5" stroke="#0a0a0a" stroke-width="1.0" fill="none"/>
<polygon points="215.9,183.9 219.6,184.6 223.4,185 227.3,181.6 223.6,181.2 219.9,180.5" fill="#f50000" stroke="#f50000" stroke-width="0.5"/>
<polyline points="215.9,183.9 219.6,184.6 223.4,185" stroke="#0a0a0a" stroke-width="1.0" fill="none"/>
<polyline points="219.9,180.5 223.6,181.2 227.3,181.6" stroke="#0a0a0a" stroke-width="1.0" fill="none"/>
<line x1="215.9" y1="183.9" x2="219.9" y2="180.5" stroke="#0a0a0a" stroke-width="1.0" fill="none"/>
<polygon points="223.4,185 227.1,185.2 231,181.8 227.3,181.6" fill="#ec0000" stroke="#ec0000" stroke-width="0.5"/>
<polyline points="223.4,185 227.1,185.2" stroke="#0a0a0a" stroke-width="1.0" fill="none"/>
<polyline points="227.3,181.6 231,181.8" stroke="#0a0a0a" stroke-width="1.0" fill="none"/>
<line x1="227.1" y1="185.2" x2="231" y2="181.8" stroke="#0a0a0a" stroke-width="1.0" fill="none"/>
<polygon points="227.1,185.2 230.9,185.4 234.7,185.4 238.6,185.4 242.2,181.9 238.5,181.9 234.7,181.9 231,181.8" fill="#0a0a12" stroke="#0a0a12" stroke-width="0.5"/>
<polyline points="227.1,185.2 230.9,185.4 234.7,185.4 238.6,185.4" stroke="#0a0a0a" stroke-width="1.0" fill="none"/>
<polyline points="231,181.8 234.7,181.9 238.5,181.9 242.2,181.9" stroke="#0a0a0a" stroke-width="1.0" fill="none"/>
<line x1="227.1" y1="185.2" x2="231" y2="181.8" stroke="#0a0a0a" stroke-width="1.0" fill="none"/>
<line x1="238.6" y1="185.4" x2="242.2" y2="181.9" stroke="#0a0a0a" stroke-width="1.0" fill="none"/>
<polygon points="69.7,162.7 72.7,163.4 75.8,164.3 78.9,165.2 84.7,162.3 81.7,161.4 78.6,160.6 75.6,159.9" fill="#00fe00" stroke="#00fe00" stroke-width="0.5"/>
<polyline points="69.7,162.7 72.7,163.4 75.8,164.3 78.9,165.2" stroke="#0a0a0a" stroke-width="1.0" fill="none"/>
<polyline points="75.6,159.9 78.6,160.6 81.7,161.4 84.7,162.3" stroke="#0a0a0a" stroke-width="1.0" fill="none"/>
<line x1="69.7" y1="162.7" x2="75.6" y2="159.9" stroke="#0a0a0a" stroke-width="1.0" fill="none"/>
<line x1="78.9" y1="165.2" x2="84.7" y2="162.3" stroke="#0a0a0a" stroke-width="1.0" fill="none"/>
<polygon points="78.9,165.2 82,166.1 85.1,167.1 88.3,168 94,165.1 90.9,164.2 87.8,163.2 84.7,162.3" fill="#ffff00" stroke="#ffff00" stroke-width="0.5"/>
<polyline points="78.9,165.2 82,166.1 85.1,167.1 88.3,168" stroke="#0a0a0a" stroke-width="1.0" fill="none"/>
<polyline points="84.7,162.3 87.8,163.2 90.9,164.2 94,165.1" stroke="#0a0a0a" stroke-width="1.0" fill="none"/>
<line x1="78.9" y1="165.2" x2="84.7" y2="162.3" stroke="#0a0a0a" stroke-width="1.0" fill="none"/>
<line x1="88.3" y1="168" x2="94" y2="165.1" stroke="#0a0a0a" stroke-width="1.0" fill="none"/>
<polygon points="88.3,168 91.4,169 94.6,169.9 97.7,170.7 103.4,167.8 100.2,167 97.1,166.1 94,165.1" fill="#00fe00" stroke="#00fe00" stroke-width="0.5"/>
<polyline points="88.3,168 91.4,169 94.6,169.9 97.7,170.7" stroke="#0a0a0a" stroke-width="1.0" fill="none"/>
<polyline points="94,165.1 97.1,166.1 100.2,167 103.4,167.8" stroke="#0a0a0a" stroke-width="1.0" fill="none"/>
<line x1="88.3" y1="168" x2="94" y2="165.1" stroke="#0a0a0a" stroke-width="1.0" fill="none"/>
<line x1="97.7" y1="170.7" x2="103.4" y2="167.8" stroke="#0a0a0a" stroke-width="1.0" fill="none"/>
<polygon points="97.7,170.7 100.9,171.4 104.1,171.9 109.7,168.9 106.5,168.4 103.4,167.8" fill="#fff700" stroke="#fff700" stroke-width="0.5"/>
<polyline points="97.7,170.7 100.9,171.4 104.1,171.9" stroke="#0a0a0a" stroke-width="1.0" fill="none"/>
<polyline points="103.4,167.8 106.5,168.4 109.7,168.9" stroke="#0a0a0a" stroke-width="1.0" fill="none"/>
<line x1="97.7" y1="170.7" x2="103.4" y2="167.8" stroke="#0a0a0a" stroke-width="1.0" fill="none"/>
<polygon points="104.1,171.9 107.3,172.1 112.8,169.1 109.7,168.9" fill="#fbec00" stroke="#fbec00" stroke-width="0.5"/>
<polyline points="104.1,171.9 107.3,172.1" stroke="#0a0a0a" stroke-width="1.0" fill="none"/>
<polyline points="109.7,168.9 112.8,169.1" stroke="#0a0a0a" stroke-width="1.0" fill="none"/>
<line x1="107.3" y1="172.1" x2="112.8" y2="169.1" stroke="#0a0a0a" stroke-width="1.0" fill="none"/>
<polygon points="107.3,172.1 110.5,171.8 116,168.8 112.8,169.1" fill="#00df00" stroke="#00df00" stroke-width="0.5"/>
<polyline points="107.3,172.1 110.5,171.8" stroke="#0a0a0a" stroke-width="1.0" fill="none"/>
<polyline points="112.8,169.1 116,168.8" stroke="#0a0a0a" stroke-width="1.0" fill="none"/>
<line x1="107.3" y1="172.1" x2="112.8" y2="169.1" stroke="#0a0a0a" stroke-width="1.0" fill="none"/>
<polygon points="110.5,171.8 113.8,171 119.2,168 116,168.8" fill="#00cc00" stroke="#00cc00" stroke-width="0.5"/>
<polyline points="110.5,171.8 113.8,171" stroke="#0a0a0a" stroke-width="1.0" fill="none"/>
<polyline points="116,168.8 119.2,168" stroke="#0a0a0a" stroke-width="1.0" fill="none"/>
<polygon points="113.8,171 117,169.4 122.4,166.5 119.2,168" fill="#009000" stroke="#009000" stroke-width="0.5"/>
<polyline points="113.8,171 117,169.4" stroke="#0a0a0a" stroke-width="1.0" fill="none"/>
<polyline points="119.2,168 122.4,166.5" stroke="#0a0a0a" stroke-width="1.0" fill="none"/>
<line x1="117" y1="169.4" x2="122.4" y2="166.5" stroke="#0a0a0a" stroke-width="1.0" fill="none"/>
<polygon points="117,169.4 118.9,168 120.9,166.2 126.2,163.2 124.3,165.1 122.4,166.5" fill="#999000" stroke="#999000" stroke-width="0.5"/>
<polyline points="117,169.4 118.9,168 120.9,166.2" stroke="#0a0a0a" stroke-width="1.0" fill="none"/>
<polyline points="122.4,166.5 124.3,165.1 126.2,163.2" stroke="#0a0a0a" stroke-width="1.0" fill="none"/>
<line x1="117" y1="169.4" x2="122.4" y2="166.5" stroke="#0a0a0a" stroke-width="1.0" fill="none"/>
<polygon points="120.9,166.2 122.8,163.8 128.2,160.9 126.2,163.2" fill="#a99f00" stroke="#a99f00" stroke-width="0.5"/>
<polyline points="120.9,166.2 122.8,163.8" stroke="#0a0a0a" stroke-width="1.0" fill="none"/>
<polyline points="126.2,163.2 128.2,160.9" stroke="#0a0a0a" stroke-width="1.0" fill="none"/>
<polygon points="122.8,163.8 124.8,160.8 130.1,158 128.2,160.9" fill="#b7ac00" stroke="#b7ac00" stroke-width="0.5"/>
<polyline points="122.8,163.8 124.8,160.8" stroke="#0a0a0a" stroke-width="1.0" fill="none"/>
<polyline points="128.2,160.9 130.1,158" stroke="#0a0a0a" stroke-width="1.0" fill="none"/>
<polygon points="124.8,160.8 126.7,157.2 132,154.4 130.1,158" fill="#c4b800" stroke="#c4b800" stroke-width="0.5"/>
<polyline points="124.8,160.8 126.7,157.2" stroke="#0a0a0a" stroke-width="1.0" fill="none"/>
<polyline points="130.1,158 132,154.4" stroke="#0a0a0a" stroke-width="1.0" fill="none"/>
<line x1="126.7" y1="157.2" x2="132" y2="154.4" stroke="#0a0a0a" stroke-width="1.0" fill="none"/>
<polygon points="126.7,157.2 127.9,154.5 129.1,151.5 134.4,148.8 133.2,151.7 132,154.4" fill="#00c200" stroke="#00c200" stroke-width="0.5"/>
<polyline points="126.7,157.2 127.9,154.5 129.1,151.5" stroke="#0a0a0a" stroke-width="1.0" fill="none"/>
<polyline points="132,154.4 133.2,151.7 134.4,148.8" stroke="#0a0a0a" stroke-width="1.0" fill="none"/>
<line x1="126.7" y1="157.2" x2="132" y2="154.4" stroke="#0a0a0a" stroke-width="1.0" fill="none"/>
<polygon points="129.1,151.5 130.4,148.2 131.6,144.5 132.8,140.4 138.1,137.9 136.8,141.9 135.6,145.5 134.4,148.8" fill="#00cd00" stroke="#00cd00" stroke-width="0.5"/>
<polyline points="129.1,151.5 130.4,148.2 131.6,144.5 132.8,140.4" stroke="#0a0a0a" stroke-width="1.0" fill="none"/>
<polyline points="134.4,148.8 135.6,145.5 136.8,141.9 138.1,137.9" stroke="#0a0a0a" stroke-width="1.0" fill="none"/>
<polygon points="132.8,140.4 134,136 135.2,131.1 136.5,125.9 141.7,123.6 140.5,128.7 139.3,133.5 138.1,137.9" fill="#00d600" stroke="#00d600" stroke-width="0.5"/>
<polyline points="132.8,140.4 134,136 135.2,131.1 136.5,125.9" stroke="#0a0a0a" stroke-width="1.0" fill="none"/>
<polyline points="138.1,137.9 139.3,133.5 140.5,128.7 141.7,123.6" stroke="#0a0a0a" stroke-width="1.0" fill="none"/>
<line x1="136.5" y1="125.9" x2="141.7" y2="123.6" stroke="#0a0a0a" stroke-width="1.0" fill="none"/>
<polygon points="136.5,125.9 137.4,121.9 138.3,117.7 139.2,113.3 140.1,108.8 141,104.2 141.9,99.4 142.8,94.6 143.7,89.8 144.6,85 145.6,80.3 146.5,75.7 151.7,74.1 150.8,78.7 149.8,83.3 148.9,88 148,92.8 147.1,97.5 146.2,102.1 145.3,106.7 144.4,111.2 143.5,115.5 142.6,119.6 141.7,123.6" fill="#ebdd00" stroke="#ebdd00" stroke-width="0.5"/>
<polyline points="136.5,125.9 137.4,121.9 138.3,117.7 139.2,113.3 140.1,108.8 141,104.2 141.9,99.4 142.8,94.6 143.7,89.8 144.6,85 145.6,80.3 146.5,75.7" stroke="#0a0a0a" stroke-width="1.0" fill="none"/>
<polyline points="141.7,123.6 142.6,119.6 143.5,115.5 144.4,111.2 145.3,106.7 146.2,102.1 147.1,97.5 148,92.8 148.9,88 149.8,83.3 150.8,78.7 151.7,74.1" stroke="#0a0a0a" stroke-width="1.0" fill="none"/>
<line x1="136.5" y1="125.9" x2="141.7" y2="123.6" stroke="#0a0a0a" stroke-width="1.0" fill="none"/>
<line x1="146.5" y1="75.7" x2="151.7" y2="74.1" stroke="#0a0a0a" stroke-width="1.0" fill="none"/>
<polygon points="146.5,75.7 148,68.8 149.5,62.7 151,57.4 156.1,56.1 154.6,61.3 153.2,67.4 151.7,74.1" fill="#00d700" stroke="#00d700" stroke-width="0.5"/>
<polyline points="146.5,75.7 148,68.8 149.5,62.7 151,57.4" stroke="#0a0a0a" stroke-width="1.0" fill="none"/>
<polyline points="151.7,74.1 153.2,67.4 154.6,61.3 156.1,56.1" stroke="#0a0a0a" stroke-width="1.0" fill="none"/>
<line x1="146.5" y1="75.7" x2="151.7" y2="74.1" stroke="#0a0a0a" stroke-width="1.0" fill="none"/>
<polygon points="151,57.4 152.5,53.2 157.7,52 156.1,56.1" fill="#00c900" stroke="#00c900" stroke-width="0.5"/>
<polyline points="151,57.4 152.5,53.2" stroke="#0a0a0a" stroke-width="1.0" fill="none"/>
<polyline points="156.1,56.1 157.7,52" stroke="#0a0a0a" stroke-width="1.0" fill="none"/>
<polygon points="152.5,53.2 154,50.2 159.2,49.1 157.7,52" fill="#00b700" stroke="#00b700" stroke-width="0.5"/>
<polyline points="152.5,53.2 154,50.2" stroke="#0a0a0a" stroke-width="1.0" fill="none"/>
<polyline points="157.7,52 159.2,49.1" stroke="#0a0a0a" stroke-width="1.0" fill="none"/>
<polygon points="154,50.2 155.6,48.7 160.7,47.6 159.2,49.1" fill="#009000" stroke="#009000" stroke-width="0.5"/>
<polyline points="154,50.2 155.6,48.7" stroke="#0a0a0a" stroke-width="1.0" fill="none"/>
<polyline points="159.2,49.1 160.7,47.6" stroke="#0a0a0a" stroke-width="1.0" fill="none"/>
<polygon points="155.6,48.7 156.5,48.5 161.6,47.4 160.7,47.6" fill="#00d800" stroke="#00d800" stroke-width="0.5"/>
<polyline points="155.6,48.7 156.5,48.5" stroke="#0a0a0a" stroke-width="1.0" fill="none"/>
<polyline points="160.7,47.6 161.6,47.4" stroke="#0a0a0a" stroke-width="1.0" fill="none"/>
<polygon points="156.5,48.5 157.1,48.7 162.2,47.6 161.6,47.4" fill="#00ff00" stroke="#00ff00" stroke-width="0.5"/>
<polyline points="156.5,48.5 157.1,48.7" stroke="#0a0a0a" stroke-width="1.0" fill="none"/>
<polyline points="161.6,47.4 162.2,47.6" stroke="#0a0a0a" stroke-width="1.0" fill="none"/>
<line x1="157.1" y1="48.7" x2="162.2" y2="47.6" stroke="#0a0a0a" stroke-width="1.0" fill="none"/>
<polygon points="157.1,48.7 158.5,49.9 159.9,52.2 161.2,55.5 162.6,59.7 164,64.8 165.3,70.5 166.7,76.8 168.1,83.5 173,81.7 171.7,75.2 170.3,69.1 169,63.4 167.6,58.4 166.3,54.2 164.9,51 163.6,48.7 162.2,47.6" fill="#ffff00" stroke="#ffff00" stroke-width="0.5"/>
<polyline points="157.1,48.7 158.5,49.9 159.9,52.2 161.2,55.5 162.6,59.7 164,64.8 165.3,70.5 166.7,76.8 168.1,83.5" stroke="#0a0a0a" stroke-width="1.0" fill="none"/>
<polyline points="162.2,47.6 163.6,48.7 164.9,51 166.3,54.2 167.6,58.4 169,63.4 170.3,69.1 171.7,75.2 173,81.7" stroke="#0a0a0a" stroke-width="1.0" fill="none"/>
<line x1="157.1" y1="48.7" x2="162.2" y2="47.6" stroke="#0a0a0a" stroke-width="1.0" fill="none"/>
<line x1="168.1" y1="83.5" x2="173" y2="81.7" stroke="#0a0a0a" stroke-width="1.0" fill="none"/>
<polygon points="168.1,83.5 169.1,88.4 170.1,93.5 171.1,98.6 172,103.6 173,108.6 174,113.5 175,118.3 176,122.9 176.9,127.4 177.9,131.7 178.9,135.8 183.6,133.2 182.6,129.1 181.7,124.9 180.7,120.5 179.7,116 178.8,111.3 177.8,106.5 176.9,101.6 175.9,96.6 174.9,91.6 174,86.6 173,81.7" fill="#00ff00" stroke="#00ff00" stroke-width="0.5"/>
<polyline points="168.1,83.5 169.1,88.4 170.1,93.5 171.1,98.6 172,103.6 173,108.6 174,113.5 175,118.3 176,122.9 176.9,127.4 177.9,131.7 178.9,135.8" stroke="#0a0a0a" stroke-width="1.0" fill="none"/>
<polyline points="173,81.7 174,86.6 174.9,91.6 175.9,96.6 176.9,101.6 177.8,106.5 178.8,111.3 179.7,116 180.7,120.5 181.7,124.9 182.6,129.1 183.6,133.2" stroke="#0a0a0a" stroke-width="1.0" fill="none"/>
<line x1="168.1" y1="83.5" x2="173" y2="81.7" stroke="#0a0a0a" stroke-width="1.0" fill="none"/>
<line x1="178.9" y1="135.8" x2="183.6" y2="133.2" stroke="#0a0a0a" stroke-width="1.0" fill="none"/>
<polygon points="178.9,135.8 180.2,141.1 181.6,146 182.9,150.6 184.3,154.8 185.6,158.6 187,162 188.3,165.2 189.7,168 194.2,164.9 192.8,162.1 191.5,159 190.2,155.6 188.8,151.8 187.5,147.7 186.2,143.3 184.9,138.4 183.6,133.2" fill="#ffff00" stroke="#ffff00" stroke-width="0.5"/>
<polyline points="178.9,135.8 180.2,141.1 181.6,146 182.9,150.6 184.3,154.8 185.6,158.6 187,162 188.3,165.2 189.7,168" stroke="#0a0a0a" stroke-width="1.0" fill="none"/>
<polyline points="183.6,133.2 184.9,138.4 186.2,143.3 187.5,147.7 188.8,151.8 190.2,155.6 191.5,159 192.8,162.1 194.2,164.9" stroke="#0a0a0a" stroke-width="1.0" fill="none"/>
<line x1="178.9" y1="135.8" x2="183.6" y2="133.2" stroke="#0a0a0a" stroke-width="1.0" fill="none"/>
<line x1="189.7" y1="168" x2="194.2" y2="164.9" stroke="#0a0a0a" stroke-width="1.0" fill="none"/>
<polygon points="189.7,168 191.8,172 194,175.3 196.2,178.1 198.4,180.3 200.6,182.2 204.9,178.8 202.7,177 200.6,174.7 198.4,172 196.3,168.8 194.2,164.9" fill="#00ff00" stroke="#00ff00" stroke-width="0.5"/>
<polyline points="189.7,168 191.8,172 194,175.3 196.2,178.1 198.4,180.3 200.6,182.2" stroke="#0a0a0a" stroke-width="1.0" fill="none"/>
<polyline points="194.2,164.9 196.3,168.8 198.4,172 200.6,174.7 202.7,177 204.9,178.8" stroke="#0a0a0a" stroke-width="1.0" fill="none"/>
<line x1="189.7" y1="168" x2="194.2" y2="164.9" stroke="#0a0a0a" stroke-width="1.0" fill="none"/>
<line x1="200.6" y1="182.2" x2="204.9" y2="178.8" stroke="#0a0a0a" stroke-width="1.0" fill="none"/>
<polygon points="200.6,182.2 204.3,184.6 208,186.3 211.8,187.4 215.9,183.9 212.2,182.8 208.6,181.1 204.9,178.8" fill="#ffff00" stroke="#ffff00" stroke-width="0.5"/>
<polyline points="200.6,182.2 204.3,184.6 208,186.3 211.8,187.4" stroke="#0a0a0a" stroke-width="1.0" fill="none"/>
<polyline points="204.9,178.8 208.6,181.1 212.2,182.8 215.9,183.9" stroke="#0a0a0a" stroke-width="1.0" fill="none"/>
<line x1="200.6" y1="182.2" x2="204.9" y2="178.8" stroke="#0a0a0a" stroke-width="1.0" fill="none"/>
<line x1="211.8" y1="187.4" x2="215.9" y2="183.9" stroke="#0a0a0a" stroke-width="1.0" fill="none"/>
<polygon points="211.8,187.4 215.5,188.1 219.3,188.6 223.4,185 219.6,184.6 215.9,183.9" fill="#00f500" stroke="#00f500" stroke-width="0.5"/>
<polyline points="211.8,187.4 215.5,188.1 219.3,188.6" stroke="#0a0a0a" stroke-width="1.0" fill="none"/>
<polyline points="215.9,183.9 219.6,184.6 223.4,185" stroke="#0a0a0a" stroke-width="1.0" fill="none"/>
<line x1="211.8" y1="187.4" x2="215.9" y2="183.9" stroke="#0a0a0a" stroke-width="1.0" fill="none"/>
<polygon points="219.3,188.6 223.2,188.8 227.1,185.2 223.4,185" fill="#00ec00" stroke="#00ec00" stroke-width="0.5"/>
<polyline points="219.3,188.6 223.2,188.8" stroke="#0a0a0a" stroke-width="1.0" fill="none"/>
<polyline points="223.4,185 227.1,185.2" stroke="#0a0a0a" stroke-width="1.0" fill="none"/>
<line x1="223.2" y1="188.8" x2="227.1" y2="185.2" stroke="#0a0a0a" stroke-width="1.0" fill="none"/>
<polygon points="223.2,188.8 227,188.9 230.9,189 234.8,189 238.6,185.4 234.7,185.4 230.9,185.4 227.1,185.2" fill="#f4e600" stroke="#f4e600" stroke-width="0.5"/>
<polyline points="223.2,188.8 227,188.9 230.9,189 234.8,189" stroke="#0a0a0a" stroke-width="1.0" fill="none"/>
<polyline points="227.1,185.2 230.9,185.4 234.7,185.4 238.6,185.4" stroke="#0a0a0a" stroke-width="1.0" fill="none"/>
<line x1="223.2" y1="188.8" x2="227.1" y2="185.2" stroke="#0a0a0a" stroke-width="1.0" fill="none"/>
<line x1="234.8" y1="189" x2="238.6" y2="185.4" stroke="#0a0a0a" stroke-width="1.0" fill="none"/>
<polygon points="63.5,165.6 66.6,166.3 69.7,167.2 72.9,168.1 78.9,165.2 75.8,164.3 72.7,163.4 69.7,162.7" fill="#fe0000" stroke="#fe0000" stroke-width="0.5"/>
<polyline points="63.5,165.6 66.6,166.3 69.7,167.2 72.9,168.1" stroke="#0a0a0a" stroke-width="1.0" fill="none"/>
<polyline points="69.7,162.7 72.7,163.4 75.8,164.3 78.9,165.2" stroke="#0a0a0a" stroke-width="1.0" fill="none"/>
<line x1="63.5" y1="165.6" x2="69.7" y2="162.7" stroke="#0a0a0a" stroke-width="1.0" fill="none"/>
<line x1="72.9" y1="168.1" x2="78.9" y2="165.2" stroke="#0a0a0a" stroke-width="1.0" fill="none"/>
<polygon points="72.9,168.1 76,169 79.2,170 82.3,171 88.3,168 85.1,167.1 82,166.1 78.9,165.2" fill="#0a0a12" stroke="#0a0a12" stroke-width="0.5"/>
<polyline points="72.9,168.1 76,169 79.2,170 82.3,171" stroke="#0a0a0a" stroke-width="1.0" fill="none"/>
<polyline points="78.9,165.2 82,166.1 85.1,167.1 88.3,168" stroke="#0a0a0a" stroke-width="1.0" fill="none"/>
<line x1="72.9" y1="168.1" x2="78.9" y2="165.2" stroke="#0a0a0a" stroke-width="1.0" fill="none"/>
<line x1="82.3" y1="171" x2="88.3" y2="168" stroke="#0a0a0a" stroke-width="1.0" fill="none"/>
<polygon points="82.3,171 85.5,172 88.7,172.9 91.9,173.8 97.7,170.7 94.6,169.9 91.4,169 88.3,168" fill="#fe0000" stroke="#fe0000" stroke-width="0.5"/>
<polyline points="82.3,171 85.5,172 88.7,172.9 91.9,173.8" stroke="#0a0a0a" stroke-width="1.0" fill="none"/>
<polyline points="88.3,168 91.4,169 94.6,169.9 97.7,170.7" stroke="#0a0a0a" stroke-width="1.0" fill="none"/>
<line x1="82.3" y1="171" x2="88.3" y2="168" stroke="#0a0a0a" stroke-width="1.0" fill="none"/>
<line x1="91.9" y1="173.8" x2="97.7" y2="170.7" stroke="#0a0a0a" stroke-width="1.0" fill="none"/>
<polygon points="91.9,173.8 95.2,174.5 98.4,175 101.6,175.2 107.3,172.1 104.1,171.9 100.9,171.4 97.7,170.7" fill="#0a0a12" stroke="#0a0a12" stroke-width="0.5"/>
<polyline points="91.9,173.8 95.2,174.5 98.4,175 101.6,175.2" stroke="#0a0a0a" stroke-width="1.0" fill="none"/>
<polyline points="97.7,170.7 100.9,171.4 104.1,171.9 107.3,172.1" stroke="#0a0a0a" stroke-width="1.0" fill="none"/>
<line x1="91.9" y1="173.8" x2="97.7" y2="170.7" stroke="#0a0a0a" stroke-width="1.0" fill="none"/>
<line x1="101.6" y1="175.2" x2="107.3" y2="172.1" stroke="#0a0a0a" stroke-width="1.0" fill="none"/>
<polygon points="101.6,175.2 104.9,174.9 110.5,171.8 107.3,172.1" fill="#df0000" stroke="#df0000" stroke-width="0.5"/>
<polyline points="101.6,175.2 104.9,174.9" stroke="#0a0a0a" stroke-width="1.0" fill="none"/>
<polyline points="107.3,172.1 110.5,171.8" stroke="#0a0a0a" stroke-width="1.0" fill="none"/>
<line x1="101.6" y1="175.2" x2="107.3" y2="172.1" stroke="#0a0a0a" stroke-width="1.0" fill="none"/>
<polygon points="104.9,174.9 108.1,174.1 113.8,171 110.5,171.8" fill="#cc0000" stroke="#cc0000" stroke-width="0.5"/>
<polyline points="104.9,174.9 108.1,174.1" stroke="#0a0a0a" stroke-width="1.0" fill="none"/>
<polyline points="110.5,171.8 113.8,171" stroke="#0a0a0a" stroke-width="1.0" fill="none"/>
<polygon points="108.1,174.1 111.4,172.5 117,169.4 113.8,171" fill="#900000" stroke="#900000" stroke-width="0.5"/>
<polyline points="108.1,174.1 111.4,172.5" stroke="#0a0a0a" stroke-width="1.0" fill="none"/>
<polyline points="113.8,171 117,169.4" stroke="#0a0a0a" stroke-width="1.0" fill="none"/>
<line x1="111.4" y1="172.5" x2="117" y2="169.4" stroke="#0a0a0a" stroke-width="1.0" fill="none"/>
<polygon points="111.4,172.5 113.4,171.1 115.3,169.2 117.3,166.8 119.3,163.8 121.2,160.1 126.7,157.2 124.8,160.8 122.8,163.8 120.9,166.2 118.9,168 117,169.4" fill="#0a0a12" stroke="#0a0a12" stroke-width="0.5"/>
<polyline points="111.4,172.5 113.4,171.1 115.3,169.2 117.3,166.8 119.3,163.8 121.2,160.1" stroke="#0a0a0a" stroke-width="1.0" fill="none"/>
<polyline points="117,169.4 118.9,168 120.9,166.2 122.8,163.8 124.8,160.8 126.7,157.2" stroke="#0a0a0a" stroke-width="1.0" fill="none"/>
<line x1="111.4" y1="172.5" x2="117" y2="169.4" stroke="#0a0a0a" stroke-width="1.0" fill="none"/>
<line x1="121.2" y1="160.1" x2="126.7" y2="157.2" stroke="#0a0a0a" stroke-width="1.0" fill="none"/>
<polygon points="121.2,160.1 122.4,157.4 123.7,154.4 129.1,151.5 127.9,154.5 126.7,157.2" fill="#c20000" stroke="#c20000" stroke-width="0.5"/>
<polyline points="121.2,160.1 122.4,157.4 123.7,154.4" stroke="#0a0a0a" stroke-width="1.0" fill="none"/>
<polyline points="126.7,157.2 127.9,154.5 129.1,151.5" stroke="#0a0a0a" stroke-width="1.0" fill="none"/>
<line x1="121.2" y1="160.1" x2="126.7" y2="157.2" stroke="#0a0a0a" stroke-width="1.0" fill="none"/>
<polygon points="123.7,154.4 124.9,151 126.1,147.2 127.3,143.1 132.8,140.4 131.6,144.5 130.4,148.2 129.1,151.5" fill="#cd0000" stroke="#cd0000" stroke-width="0.5"/>
<polyline points="123.7,154.4 124.9,151 126.1,147.2 127.3,143.1" stroke="#0a0a0a" stroke-width="1.0" fill="none"/>
<polyline points="129.1,151.5 130.4,148.2 131.6,144.5 132.8,140.4" stroke="#0a0a0a" stroke-width="1.0" fill="none"/>
<polygon points="127.3,143.1 128.6,138.6 129.8,133.7 131,128.4 136.5,125.9 135.2,131.1 134,136 132.8,140.4" fill="#d60000" stroke="#d60000" stroke-width="0.5"/>
<polyline points="127.3,143.1 128.6,138.6 129.8,133.7 131,128.4" stroke="#0a0a0a" stroke-width="1.0" fill="none"/>
<polyline points="132.8,140.4 134,136 135.2,131.1 136.5,125.9" stroke="#0a0a0a" stroke-width="1.0" fill="none"/>
<line x1="131" y1="128.4" x2="136.5" y2="125.9" stroke="#0a0a0a" stroke-width="1.0" fill="none"/>
<polygon points="131,128.4 131.9,124.3 132.8,120 133.7,115.5 134.6,111 135.6,106.2 136.5,101.4 137.4,96.5 138.3,91.7 139.2,86.8 140.2,82 141.1,77.3 146.5,75.7 145.6,80.3 144.6,85 143.7,89.8 142.8,94.6 141.9,99.4 141,104.2 140.1,108.8 139.2,113.3 138.3,117.7 137.4,121.9 136.5,125.9" fill="#0a0a12" stroke="#0a0a12" stroke-width="0.5"/>
<polyline points="131,128.4 131.9,124.3 132.8,120 133.7,115.5 134.6,111 135.6,106.2 136.5,101.4 137.4,96.5 138.3,91.7 139.2,86.8 140.2,82 141.1,77.3" stroke="#0a0a0a" stroke-width="1.0" fill="none"/>
<polyline points="136.5,125.9 137.4,121.9 138.3,117.7 139.2,113.3 140.1,108.8 141,104.2 141.9,99.4 142.8,94.6 143.7,89.8 144.6,85 145.6,80.3 146.5,75.7" stroke="#0a0a0a" stroke-width="1.0" fill="none"/>
<line x1="131" y1="128.4" x2="136.5" y2="125.9" stroke="#0a0a0a" stroke-width="1.0" fill="none"/>
<line x1="141.1" y1="77.3" x2="146.5" y2="75.7" stroke="#0a0a0a" stroke-width="1.0" fill="none"/>
<polygon points="141.1,77.3 142.6,70.3 144.1,64.1 145.6,58.7 151,57.4 149.5,62.7 148,68.8 146.5,75.7" fill="#d70000" stroke="#d70000" stroke-width="0.5"/>
<polyline points="141.1,77.3 142.6,70.3 144.1,64.1 145.6,58.7" stroke="#0a0a0a" stroke-width="1.0" fill="none"/>
<polyline points="146.5,75.7 148,68.8 149.5,62.7 151,57.4" stroke="#0a0a0a" stroke-width="1.0" fill="none"/>
<line x1="141.1" y1="77.3" x2="146.5" y2="75.7" stroke="#0a0a0a" stroke-width="1.0" fill="none"/>
<polygon points="145.6,58.7 147.1,54.4 152.5,53.2 151,57.4" fill="#c90000" stroke="#c90000" stroke-width="0.5"/>
<polyline points="145.6,58.7 147.1,54.4" stroke="#0a0a0a" stroke-width="1.0" fill="none"/>
<polyline points="151,57.4 152.5,53.2" stroke="#0a0a0a" stroke-width="1.0" fill="none"/>
<polygon points="147.1,54.4 148.7,51.4 154,50.2 152.5,53.2" fill="#b70000" stroke="#b70000" stroke-width="0.5"/>
<polyline points="147.1,54.4 148.7,51.4" stroke="#0a0a0a" stroke-width="1.0" fill="none"/>
<polyline points="152.5,53.2 154,50.2" stroke="#0a0a0a" stroke-width="1.0" fill="none"/>
<polygon points="148.7,51.4 150.2,49.9 155.6,48.7 154,50.2" fill="#900000" stroke="#900000" stroke-width="0.5"/>
<polyline points="148.7,51.4 150.2,49.9" stroke="#0a0a0a" stroke-width="1.0" fill="none"/>
<polyline points="154,50.2 155.6,48.7" stroke="#0a0a0a" stroke-width="1.0" fill="none"/>
<polygon points="150.2,49.9 151.2,49.7 156.5,48.5 155.6,48.7" fill="#d80000" stroke="#d80000" stroke-width="0.5"/>
<polyline points="150.2,49.9 151.2,49.7" stroke="#0a0a0a" stroke-width="1.0" fill="none"/>
<polyline points="155.6,48.7 156.5,48.5" stroke="#0a0a0a" stroke-width="1.0" fill="none"/>
<polygon points="151.2,49.7 151.8,49.8 157.1,48.7 156.5,48.5" fill="#ff0000" stroke="#ff0000" stroke-width="0.5"/>
<polyline points="151.2,49.7 151.8,49.8" stroke="#0a0a0a" stroke-width="1.0" fill="none"/>
<polyline points="156.5,48.5 157.1,48.7" stroke="#0a0a0a" stroke-width="1.0" fill="none"/>
<line x1="151.8" y1="49.8" x2="157.1" y2="48.7" stroke="#0a0a0a" stroke-width="1.0" fill="none"/>
<polygon points="151.8,49.8 153.2,51 154.6,53.4 156,56.7 157.4,61.1 158.8,66.2 160.2,72.1 161.6,78.5 163,85.2 168.1,83.5 166.7,76.8 165.3,70.5 164,64.8 162.6,59.7 161.2,55.5 159.9,52.2 158.5,49.9 157.1,48.7" fill="#0a0a12" stroke="#0a0a12" stroke-width="0.5"/>
<polyline points="151.8,49.8 153.2,51 154.6,53.4 156,56.7 157.4,61.1 158.8,66.2 160.2,72.1 161.6,78.5 163,85.2" stroke="#0a0a0a" stroke-width="1.0" fill="none"/>
<polyline points="157.1,48.7 158.5,49.9 159.9,52.2 161.2,55.5 162.6,59.7 164,64.8 165.3,70.5 166.7,76.8 168.1,83.5" stroke="#0a0a0a" stroke-width="1.0" fill="none"/>
<line x1="151.8" y1="49.8" x2="157.1" y2="48.7" stroke="#0a0a0a" stroke-width="1.0" fill="none"/>
<line x1="163" y1="85.2" x2="168.1" y2="83.5" stroke="#0a0a0a" stroke-width="1.0" fill="none"/>
<polygon points="163,85.2 164,90.3 165,95.4 166,100.6 167,105.7 168.1,110.8 169.1,115.8 170.1,120.7 171.1,125.4 172.1,129.9 173.1,134.3 174.1,138.5 178.9,135.8 177.9,131.7 176.9,127.4 176,122.9 175,118.3 174,113.5 173,108.6 172,103.6 171.1,98.6 170.1,93.5 169.1,88.4 168.1,83.5" fill="#ff0000" stroke="#ff0000" stroke-width="0.5"/>
<polyline points="163,85.2 164,90.3 165,95.4 166,100.6 167,105.7 168.1,110.8 169.1,115.8 170.1,120.7 171.1,125.4 172.1,129.9 173.1,134.3 174.1,138.5" stroke="#0a0a0a" stroke-width="1.0" fill="none"/>
<polyline points="168.1,83.5 169.1,88.4 170.1,93.5 171.1,98.6 172,103.6 173,108.6 174,113.5 175,118.3 176,122.9 176.9,127.4 177.9,131.7 178.9,135.8" stroke="#0a0a0a" stroke-width="1.0" fill="none"/>
<line x1="163" y1="85.2" x2="168.1" y2="83.5" stroke="#0a0a0a" stroke-width="1.0" fill="none"/>
<line x1="174.1" y1="138.5" x2="178.9" y2="135.8" stroke="#0a0a0a" stroke-width="1.0" fill="none"/>
<polygon points="174.1,138.5 175.4,143.9 176.8,148.9 178.2,153.5 179.5,157.8 180.9,161.7 182.3,165.2 183.7,168.4 185,171.3 189.7,168 188.3,165.2 187,162 185.6,158.6 184.3,154.8 182.9,150.6 181.6,146 180.2,141.1 178.9,135.8" fill="#0a0a12" stroke="#0a0a12" stroke-width="0.5"/>
<polyline points="174.1,138.5 175.4,143.9 176.8,148.9 178.2,153.5 179.5,157.8 180.9,161.7 182.3,165.2 183.7,168.4 185,171.3" stroke="#0a0a0a" stroke-width="1.0" fill="none"/>
<polyline points="178.9,135.8 180.2,141.1 181.6,146 182.9,150.6 184.3,154.8 185.6,158.6 187,162 188.3,165.2 189.7,168" stroke="#0a0a0a" stroke-width="1.0" fill="none"/>
<line x1="174.1" y1="138.5" x2="178.9" y2="135.8" stroke="#0a0a0a" stroke-width="1.0" fill="none"/>
<line x1="185" y1="171.3" x2="189.7" y2="168" stroke="#0a0a0a" stroke-width="1.0" fill="none"/>
<polygon points="185,171.3 187.2,175.3 189.5,178.7 191.7,181.5 193.9,183.8 196.2,185.7 200.6,182.2 198.4,180.3 196.2,178.1 194,175.3 191.8,172 189.7,168" fill="#ff0000" stroke="#ff0000" stroke-width="0.5"/>
<polyline points="185,171.3 187.2,175.3 189.5,178.7 191.7,181.5 193.9,183.8 196.2,185.7" stroke="#0a0a0a" stroke-width="1.0" fill="none"/>
<polyline points="189.7,168 191.8,172 194,175.3 196.2,178.1 198.4,180.3 200.6,182.2" stroke="#0a0a0a" stroke-width="1.0" fill="none"/>
<line x1="185" y1="171.3" x2="189.7" y2="168" stroke="#0a0a0a" stroke-width="1.0" fill="none"/>
<line x1="196.2" y1="185.7" x2="200.6" y2="182.2" stroke="#0a0a0a" stroke-width="1.0" fill="none"/>
<polygon points="196.2,185.7 199.9,188.2 203.7,189.9 207.5,191 211.8,187.4 208,186.3 204.3,184.6 200.6,182.2" fill="#0a0a12" stroke="#0a0a12" stroke-width="0.5"/>
<polyline points="196.2,185.7 199.9,188.2 203.7,189.9 207.5,191" stroke="#0a0a0a" stroke-width="1.0" fill="none"/>
<polyline points="200.6,182.2 204.3,184.6 208,186.3 211.8,187.4" stroke="#0a0a0a" stroke-width="1.0" fill="none"/>
<line x1="196.2" y1="185.7" x2="200.6" y2="182.2" stroke="#0a0a0a" stroke-width="1.0" fill="none"/>
<line x1="207.5" y1="191" x2="211.8" y2="187.4" stroke="#0a0a0a" stroke-width="1.0" fill="none"/>
<polygon points="207.5,191 211.3,191.8 215.2,192.2 219.3,188.6 215.5,188.1 211.8,187.4" fill="#f50000" stroke="#f50000" stroke-width="0.5"/>
<polyline points="207.5,191 211.3,191.8 215.2,192.2" stroke="#0a0a0a" stroke-width="1.0" fill="none"/>
<polyline points="211.8,187.4 215.5,188.1 219.3,188.6" stroke="#0a0a0a" stroke-width="1.0" fill="none"/>
<line x1="207.5" y1="191" x2="211.8" y2="187.4" stroke="#0a0a0a" stroke-width="1.0" fill="none"/>
<polygon points="215.2,192.2 219,192.5 223.2,188.8 219.3,188.6" fill="#ec0000" stroke="#ec0000" stroke-width="0.5"/>
<polyline points="215.2,192.2 219,192.5" stroke="#0a0a0a" stroke-width="1.0" fill="none"/>
<polyline points="219.3,188.6 223.2,188.8" stroke="#0a0a0a" stroke-width="1.0" fill="none"/>
<line x1="219" y1="192.5" x2="223.2" y2="188.8" stroke="#0a0a0a" stroke-width="1.0" fill="none"/>
<polygon points="219,192.5 222.9,192.6 226.9,192.7 230.8,192.7 234.8,189 230.9,189 227,188.9 223.2,188.8" fill="#0a0a12" stroke="#0a0a12" stroke-width="0.5"/>
<polyline points="219,192.5 222.9,192.6 226.9,192.7 230.8,192.7" stroke="#0a0a0a" stroke-width="1.0" fill="none"/>
<polyline points="223.2,188.8 227,188.9 230.9,189 234.8,189" stroke="#0a0a0a" stroke-width="1.0" fill="none"/>
<line x1="219" y1="192.5" x2="223.2" y2="188.8" stroke="#0a0a0a" stroke-width="1.0" fill="none"/>
<line x1="230.8" y1="192.7" x2="234.8" y2="189" stroke="#0a0a0a" stroke-width="1.0" fill="none"/>
<polygon points="57.2,168.5 60.3,169.3 63.5,170.2 66.6,171.1 72.9,168.1 69.7,167.2 66.6,166.3 63.5,165.6" fill="#00fe00" stroke="#00fe00" stroke-width="0.5"/>
<polyline points="57.2,168.5 60.3,169.3 63.5,170.2 66.6,171.1" stroke="#0a0a0a" stroke-width="1.0" fill="none"/>
<polyline points="63.5,165.6 66.6,166.3 69.7,167.2 72.9,168.1" stroke="#0a0a0a" stroke-width="1.0" fill="none"/>
<line x1="57.2" y1="168.5" x2="63.5" y2="165.6" stroke="#0a0a0a" stroke-width="1.0" fill="none"/>
<line x1="66.6" y1="171.1" x2="72.9" y2="168.1" stroke="#0a0a0a" stroke-width="1.0" fill="none"/>
<polygon points="66.6,171.1 69.8,172.1 73,173.1 76.2,174.1 82.3,171 79.2,170 76,169 72.9,168.1" fill="#ffff00" stroke="#ffff00" stroke-width="0.5"/>
<polyline points="66.6,171.1 69.8,172.1 73,173.1 76.2,174.1" stroke="#0a0a0a" stroke-width="1.0" fill="none"/>
<polyline points="72.9,168.1 76,169 79.2,170 82.3,171" stroke="#0a0a0a" stroke-width="1.0" fill="none"/>
<line x1="66.6" y1="171.1" x2="72.9" y2="168.1" stroke="#0a0a0a" stroke-width="1.0" fill="none"/>
<line x1="76.2" y1="174.1" x2="82.3" y2="171" stroke="#0a0a0a" stroke-width="1.0" fill="none"/>
<polygon points="76.2,174.1 79.4,175.1 82.7,176.1 85.9,176.9 91.9,173.8 88.7,172.9 85.5,172 82.3,171" fill="#00fe00" stroke="#00fe00" stroke-width="0.5"/>
<polyline points="76.2,174.1 79.4,175.1 82.7,176.1 85.9,176.9" stroke="#0a0a0a" stroke-width="1.0" fill="none"/>
<polyline points="82.3,171 85.5,172 88.7,172.9 91.9,173.8" stroke="#0a0a0a" stroke-width="1.0" fill="none"/>
<line x1="76.2" y1="174.1" x2="82.3" y2="171" stroke="#0a0a0a" stroke-width="1.0" fill="none"/>
<line x1="85.9" y1="176.9" x2="91.9" y2="173.8" stroke="#0a0a0a" stroke-width="1.0" fill="none"/>
<polygon points="85.9,176.9 89.2,177.7 92.5,178.2 98.4,175 95.2,174.5 91.9,173.8" fill="#fff700" stroke="#fff700" stroke-width="0.5"/>
<polyline points="85.9,176.9 89.2,177.7 92.5,178.2" stroke="#0a0a0a" stroke-width="1.0" fill="none"/>
<polyline points="91.9,173.8 95.2,174.5 98.4,175" stroke="#0a0a0a" stroke-width="1.0" fill="none"/>
<line x1="85.9" y1="176.9" x2="91.9" y2="173.8" stroke="#0a0a0a" stroke-width="1.0" fill="none"/>
<polygon points="92.5,178.2 95.7,178.4 101.6,175.2 98.4,175" fill="#fbec00" stroke="#fbec00" stroke-width="0.5"/>
<polyline points="92.5,178.2 95.7,178.4" stroke="#0a0a0a" stroke-width="1.0" fill="none"/>
<polyline points="98.4,175 101.6,175.2" stroke="#0a0a0a" stroke-width="1.0" fill="none"/>
<line x1="95.7" y1="178.4" x2="101.6" y2="175.2" stroke="#0a0a0a" stroke-width="1.0" fill="none"/>
<polygon points="95.7,178.4 99,178.1 104.9,174.9 101.6,175.2" fill="#00df00" stroke="#00df00" stroke-width="0.5"/>
<polyline points="95.7,178.4 99,178.1" stroke="#0a0a0a" stroke-width="1.0" fill="none"/>
<polyline points="101.6,175.2 104.9,174.9" stroke="#0a0a0a" stroke-width="1.0" fill="none"/>
<line x1="95.7" y1="178.4" x2="101.6" y2="175.2" stroke="#0a0a0a" stroke-width="1.0" fill="none"/>
<polygon points="99,178.1 102.3,177.3 108.1,174.1 104.9,174.9" fill="#00cc00" stroke="#00cc00" stroke-width="0.5"/>
<polyline points="99,178.1 102.3,177.3" stroke="#0a0a0a" stroke-width="1.0" fill="none"/>
<polyline points="104.9,174.9 108.1,174.1" stroke="#0a0a0a" stroke-width="1.0" fill="none"/>
<polygon points="102.3,177.3 105.6,175.7 111.4,172.5 108.1,174.1" fill="#009000" stroke="#009000" stroke-width="0.5"/>
<polyline points="102.3,177.3 105.6,175.7" stroke="#0a0a0a" stroke-width="1.0" fill="none"/>
<polyline points="108.1,174.1 111.4,172.5" stroke="#0a0a0a" stroke-width="1.0" fill="none"/>
<line x1="105.6" y1="175.7" x2="111.4" y2="172.5" stroke="#0a0a0a" stroke-width="1.0" fill="none"/>
<polygon points="105.6,175.7 107.6,174.3 109.6,172.4 115.3,169.2 113.4,171.1 111.4,172.5" fill="#999000" stroke="#999000" stroke-width="0.5"/>
<polyline points="105.6,175.7 107.6,174.3 109.6,172.4" stroke="#0a0a0a" stroke-width="1.0" fill="none"/>
<polyline points="111.4,172.5 113.4,171.1 115.3,169.2" stroke="#0a0a0a" stroke-width="1.0" fill="none"/>
<line x1="105.6" y1="175.7" x2="111.4" y2="172.5" stroke="#0a0a0a" stroke-width="1.0" fill="none"/>
<polygon points="109.6,172.4 111.6,169.9 117.3,166.8 115.3,169.2" fill="#a99f00" stroke="#a99f00" stroke-width="0.5"/>
<polyline points="109.6,172.4 111.6,169.9" stroke="#0a0a0a" stroke-width="1.0" fill="none"/>
<polyline points="115.3,169.2 117.3,166.8" stroke="#0a0a0a" stroke-width="1.0" fill="none"/>
<polygon points="111.6,169.9 113.6,166.9 119.3,163.8 117.3,166.8" fill="#b7ac00" stroke="#b7ac00" stroke-width="0.5"/>
<polyline points="111.6,169.9 113.6,166.9" stroke="#0a0a0a" stroke-width="1.0" fill="none"/>
<polyline points="117.3,166.8 119.3,163.8" stroke="#0a0a0a" stroke-width="1.0" fill="none"/>
<polygon points="113.6,166.9 115.5,163.1 121.2,160.1 119.3,163.8" fill="#c4b800" stroke="#c4b800" stroke-width="0.5"/>
<polyline points="113.6,166.9 115.5,163.1" stroke="#0a0a0a" stroke-width="1.0" fill="none"/>
<polyline points="119.3,163.8 121.2,160.1" stroke="#0a0a0a" stroke-width="1.0" fill="none"/>
<line x1="115.5" y1="163.1" x2="121.2" y2="160.1" stroke="#0a0a0a" stroke-width="1.0" fill="none"/>
<polygon points="115.5,163.1 116.8,160.4 118,157.3 123.7,154.4 122.4,157.4 121.2,160.1" fill="#00c200" stroke="#00c200" stroke-width="0.5"/>
<polyline points="115.5,163.1 116.8,160.4 118,157.3" stroke="#0a0a0a" stroke-width="1.0" fill="none"/>
<polyline points="121.2,160.1 122.4,157.4 123.7,154.4" stroke="#0a0a0a" stroke-width="1.0" fill="none"/>
<line x1="115.5" y1="163.1" x2="121.2" y2="160.1" stroke="#0a0a0a" stroke-width="1.0" fill="none"/>
<polygon points="118,157.3 119.2,153.9 120.5,150.1 121.7,145.9 127.3,143.1 126.1,147.2 124.9,151 123.7,154.4" fill="#00cd00" stroke="#00cd00" stroke-width="0.5"/>
<polyline points="118,157.3 119.2,153.9 120.5,150.1 121.7,145.9" stroke="#0a0a0a" stroke-width="1.0" fill="none"/>
<polyline points="123.7,154.4 124.9,151 126.1,147.2 127.3,143.1" stroke="#0a0a0a" stroke-width="1.0" fill="none"/>
<polygon points="121.7,145.9 122.9,141.3 124.2,136.3 125.4,130.9 131,128.4 129.8,133.7 128.6,138.6 127.3,143.1" fill="#00d600" stroke="#00d600" stroke-width="0.5"/>
<polyline points="121.7,145.9 122.9,141.3 124.2,136.3 125.4,130.9" stroke="#0a0a0a" stroke-width="1.0" fill="none"/>
<polyline points="127.3,143.1 128.6,138.6 129.8,133.7 131,128.4" stroke="#0a0a0a" stroke-width="1.0" fill="none"/>
<line x1="125.4" y1="130.9" x2="131" y2="128.4" stroke="#0a0a0a" stroke-width="1.0" fill="none"/>
<polygon points="125.4,130.9 126.3,126.7 127.2,122.4 128.1,117.9 129,113.2 130,108.4 130.9,103.5 131.8,98.5 132.7,93.6 133.6,88.6 134.6,83.7 135.5,79 141.1,77.3 140.2,82 139.2,86.8 138.3,91.7 137.4,96.5 136.5,101.4 135.6,106.2 134.6,111 133.7,115.5 132.8,120 131.9,124.3 131,128.4" fill="#ebdd00" stroke="#ebdd00" stroke-width="0.5"/>
<polyline points="125.4,130.9 126.3,126.7 127.2,122.4 128.1,117.9 129,113.2 130,108.4 130.9,103.5 131.8,98.5 132.7,93.6 133.6,88.6 134.6,83.7 135.5,79" stroke="#0a0a0a" stroke-width="1.0" fill="none"/>
<polyline points="131,128.4 131.9,124.3 132.8,120 133.7,115.5 134.6,111 135.6,106.2 136.5,101.4 137.4,96.5 138.3,91.7 139.2,86.8 140.2,82 141.1,77.3" stroke="#0a0a0a" stroke-width="1.0" fill="none"/>
<line x1="125.4" y1="130.9" x2="131" y2="128.4" stroke="#0a0a0a" stroke-width="1.0" fill="none"/>
<line x1="135.5" y1="79" x2="141.1" y2="77.3" stroke="#0a0a0a" stroke-width="1.0" fill="none"/>
<polygon points="135.5,79 137,71.9 138.5,65.5 140,60 145.6,58.7 144.1,64.1 142.6,70.3 141.1,77.3" fill="#00d700" stroke="#00d700" stroke-width="0.5"/>
<polyline points="135.5,79 137,71.9 138.5,65.5 140,60" stroke="#0a0a0a" stroke-width="1.0" fill="none"/>
<polyline points="141.1,77.3 142.6,70.3 144.1,64.1 145.6,58.7" stroke="#0a0a0a" stroke-width="1.0" fill="none"/>
<line x1="135.5" y1="79" x2="141.1" y2="77.3" stroke="#0a0a0a" stroke-width="1.0" fill="none"/>
<polygon points="140,60 141.6,55.7 147.1,54.4 145.6,58.7" fill="#00c900" stroke="#00c900" stroke-width="0.5"/>
<polyline points="140,60 141.6,55.7" stroke="#0a0a0a" stroke-width="1.0" fill="none"/>
<polyline points="145.6,58.7 147.1,54.4" stroke="#0a0a0a" stroke-width="1.0" fill="none"/>
<polygon points="141.6,55.7 143.2,52.6 148.7,51.4 147.1,54.4" fill="#00b700" stroke="#00b700" stroke-width="0.5"/>
<polyline points="141.6,55.7 143.2,52.6" stroke="#0a0a0a" stroke-width="1.0" fill="none"/>
<polyline points="147.1,54.4 148.7,51.4" stroke="#0a0a0a" stroke-width="1.0" fill="none"/>
<polygon points="143.2,52.6 144.7,51.1 150.2,49.9 148.7,51.4" fill="#009000" stroke="#009000" stroke-width="0.5"/>
<polyline points="143.2,52.6 144.7,51.1" stroke="#0a0a0a" stroke-width="1.0" fill="none"/>
<polyline points="148.7,51.4 150.2,49.9" stroke="#0a0a0a" stroke-width="1.0" fill="none"/>
<polygon points="144.7,51.1 145.7,50.9 151.2,49.7 150.2,49.9" fill="#00d800" stroke="#00d800" stroke-width="0.5"/>
<polyline points="144.7,51.1 145.7,50.9" stroke="#0a0a0a" stroke-width="1.0" fill="none"/>
<polyline points="150.2,49.9 151.2,49.7" stroke="#0a0a0a" stroke-width="1.0" fill="none"/>
<polygon points="145.7,50.9 146.3,51 151.8,49.8 151.2,49.7" fill="#00ff00" stroke="#00ff00" stroke-width="0.5"/>
<polyline points="145.7,50.9 146.3,51" stroke="#0a0a0a" stroke-width="1.0" fill="none"/>
<polyline points="151.2,49.7 151.8,49.8" stroke="#0a0a0a" stroke-width="1.0" fill="none"/>
<line x1="146.3" y1="51" x2="151.8" y2="49.8" stroke="#0a0a0a" stroke-width="1.0" fill="none"/>
<polygon points="146.3,51 147.7,52.3 149.2,54.6 150.6,58.1 152,62.5 153.4,67.7 154.9,73.7 156.3,80.2 157.7,87.1 163,85.2 161.6,78.5 160.2,72.1 158.8,66.2 157.4,61.1 156,56.7 154.6,53.4 153.2,51 151.8,49.8" fill="#ffff00" stroke="#ffff00" stroke-width="0.5"/>
<polyline points="146.3,51 147.7,52.3 149.2,54.6 150.6,58.1 152,62.5 153.4,67.7 154.9,73.7 156.3,80.2 157.7,87.1" stroke="#0a0a0a" stroke-width="1.0" fill="none"/>
<polyline points="151.8,49.8 153.2,51 154.6,53.4 156,56.7 157.4,61.1 158.8,66.2 160.2,72.1 161.6,78.5 163,85.2" stroke="#0a0a0a" stroke-width="1.0" fill="none"/>
<line x1="146.3" y1="51" x2="151.8" y2="49.8" stroke="#0a0a0a" stroke-width="1.0" fill="none"/>
<line x1="157.7" y1="87.1" x2="163" y2="85.2" stroke="#0a0a0a" stroke-width="1.0" fill="none"/>
<polygon points="157.7,87.1 158.8,92.2 159.8,97.5 160.8,102.7 161.9,107.9 162.9,113.1 163.9,118.2 165,123.1 166,127.9 167,132.6 168,137 169,141.2 174.1,138.5 173.1,134.3 172.1,129.9 171.1,125.4 170.1,120.7 169.1,115.8 168.1,110.8 167,105.7 166,100.6 165,95.4 164,90.3 163,85.2" fill="#00ff00" stroke="#00ff00" stroke-width="0.5"/>
<polyline points="157.7,87.1 158.8,92.2 159.8,97.5 160.8,102.7 161.9,107.9 162.9,113.1 163.9,118.2 165,123.1 166,127.9 167,132.6 168,137 169,141.2" stroke="#0a0a0a" stroke-width="1.0" fill="none"/>
<polyline points="163,85.2 164,90.3 165,95.4 166,100.6 167,105.7 168.1,110.8 169.1,115.8 170.1,120.7 171.1,125.4 172.1,129.9 173.1,134.3 174.1,138.5" stroke="#0a0a0a" stroke-width="1.0" fill="none"/>
<line x1="157.7" y1="87.1" x2="163" y2="85.2" stroke="#0a0a0a" stroke-width="1.0" fill="none"/>
<line x1="169" y1="141.2" x2="174.1" y2="138.5" stroke="#0a0a0a" stroke-width="1.0" fill="none"/>
<polygon points="169,141.2 170.4,146.7 171.8,151.9 173.2,156.6 174.6,160.9 176,164.9 177.4,168.5 178.8,171.7 180.2,174.7 185,171.3 183.7,168.4 182.3,165.2 180.9,161.7 179.5,157.8 178.2,153.5 176.8,148.9 175.4,143.9 174.1,138.5" fill="#ffff00" stroke="#ffff00" stroke-width="0.5"/>
<polyline points="169,141.2 170.4,146.7 171.8,151.9 173.2,156.6 174.6,160.9 176,164.9 177.4,168.5 178.8,171.7 180.2,174.7" stroke="#0a0a0a" stroke-width="1.0" fill="none"/>
<polyline points="174.1,138.5 175.4,143.9 176.8,148.9 178.2,153.5 179.5,157.8 180.9,161.7 182.3,165.2 183.7,168.4 185,171.3" stroke="#0a0a0a" stroke-width="1.0" fill="none"/>
<line x1="169" y1="141.2" x2="174.1" y2="138.5" stroke="#0a0a0a" stroke-width="1.0" fill="none"/>
<line x1="180.2" y1="174.7" x2="185" y2="171.3" stroke="#0a0a0a" stroke-width="1.0" fill="none"/>
<polygon points="180.2,174.7 182.5,178.8 184.7,182.2 187,185.1 189.3,187.4 191.5,189.4 196.2,185.7 193.9,183.8 191.7,181.5 189.5,178.7 187.2,175.3 185,171.3" fill="#00ff00" stroke="#00ff00" stroke-width="0.5"/>
<polyline points="180.2,174.7 182.5,178.8 184.7,182.2 187,185.1 189.3,187.4 191.5,189.4" stroke="#0a0a0a" stroke-width="1.0" fill="none"/>
<polyline points="185,171.3 187.2,175.3 189.5,178.7 191.7,181.5 193.9,183.8 196.2,185.7" stroke="#0a0a0a" stroke-width="1.0" fill="none"/>
<line x1="180.2" y1="174.7" x2="185" y2="171.3" stroke="#0a0a0a" stroke-width="1.0" fill="none"/>
<line x1="191.5" y1="189.4" x2="196.2" y2="185.7" stroke="#0a0a0a" stroke-width="1.0" fill="none"/>
<polygon points="191.5,189.4 195.3,191.9 199.2,193.6 203,194.8 207.5,191 203.7,189.9 199.9,188.2 196.2,185.7" fill="#ffff00" stroke="#ffff00" stroke-width="0.5"/>
<polyline points="191.5,189.4 195.3,191.9 199.2,193.6 203,194.8" stroke="#0a0a0a" stroke-width="1.0" fill="none"/>
<polyline points="196.2,185.7 199.9,188.2 203.7,189.9 207.5,191" stroke="#0a0a0a" stroke-width="1.0" fill="none"/>
<line x1="191.5" y1="189.4" x2="196.2" y2="185.7" stroke="#0a0a0a" stroke-width="1.0" fill="none"/>
<line x1="203" y1="194.8" x2="207.5" y2="191" stroke="#0a0a0a" stroke-width="1.0" fill="none"/>
<polygon points="203,194.8 206.9,195.6 210.8,196.1 215.2,192.2 211.3,191.8 207.5,191" fill="#00f500" stroke="#00f500" stroke-width="0.5"/>
<polyline points="203,194.8 206.9,195.6 210.8,196.1" stroke="#0a0a0a" stroke-width="1.0" fill="none"/>
<polyline points="207.5,191 211.3,191.8 215.2,192.2" stroke="#0a0a0a" stroke-width="1.0" fill="none"/>
<line x1="203" y1="194.8" x2="207.5" y2="191" stroke="#0a0a0a" stroke-width="1.0" fill="none"/>
<polygon points="210.8,196.1 214.8,196.3 219,192.5 215.2,192.2" fill="#00ec00" stroke="#00ec00" stroke-width="0.5"/>
<polyline points="210.8,196.1 214.8,196.3" stroke="#0a0a0a" stroke-width="1.0" fill="none"/>
<polyline points="215.2,192.2 219,192.5" stroke="#0a0a0a" stroke-width="1.0" fill="none"/>
<line x1="214.8" y1="196.3" x2="219" y2="192.5" stroke="#0a0a0a" stroke-width="1.0" fill="none"/>
<polygon points="214.8,196.3 218.7,196.5 222.7,196.5 226.7,196.6 230.8,192.7 226.9,192.7 222.9,192.6 219,192.5" fill="#f4e600" stroke="#f4e600" stroke-width="0.5"/>
<polyline points="214.8,196.3 218.7,196.5 222.7,196.5 226.7,196.6" stroke="#0a0a0a" stroke-width="1.0" fill="none"/>
<polyline points="219,192.5 222.9,192.6 226.9,192.7 230.8,192.7" stroke="#0a0a0a" stroke-width="1.0" fill="none"/>
<line x1="214.8" y1="196.3" x2="219" y2="192.5" stroke="#0a0a0a" stroke-width="1.0" fill="none"/>
<line x1="226.7" y1="196.6" x2="230.8" y2="192.7" stroke="#0a0a0a" stroke-width="1.0" fill="none"/>
<polygon points="50.6,171.6 53.8,172.4 57,173.3 60.2,174.2 66.6,171.1 63.5,170.2 60.3,169.3 57.2,168.5" fill="#fe0000" stroke="#fe0000" stroke-width="0.5"/>
<polyline points="50.6,171.6 53.8,172.4 57,173.3 60.2,174.2" stroke="#0a0a0a" stroke-width="1.0" fill="none"/>
<polyline points="57.2,168.5 60.3,169.3 63.5,170.2 66.6,171.1" stroke="#0a0a0a" stroke-width="1.0" fill="none"/>
<line x1="50.6" y1="171.6" x2="57.2" y2="168.5" stroke="#0a0a0a" stroke-width="1.0" fill="none"/>
<line x1="60.2" y1="174.2" x2="66.6" y2="171.1" stroke="#0a0a0a" stroke-width="1.0" fill="none"/>
<polygon points="60.2,174.2 63.4,175.2 66.6,176.3 69.9,177.3 76.2,174.1 73,173.1 69.8,172.1 66.6,171.1" fill="#0a0a12" stroke="#0a0a12" stroke-width="0.5"/>
<polyline points="60.2,174.2 63.4,175.2 66.6,176.3 69.9,177.3" stroke="#0a0a0a" stroke-width="1.0" fill="none"/>
<polyline points="66.6,171.1 69.8,172.1 73,173.1 76.2,174.1" stroke="#0a0a0a" stroke-width="1.0" fill="none"/>
<line x1="60.2" y1="174.2" x2="66.6" y2="171.1" stroke="#0a0a0a" stroke-width="1.0" fill="none"/>
<line x1="69.9" y1="177.3" x2="76.2" y2="174.1" stroke="#0a0a0a" stroke-width="1.0" fill="none"/>
<polygon points="69.9,177.3 73.1,178.4 76.4,179.3 79.7,180.2 85.9,176.9 82.7,176.1 79.4,175.1 76.2,174.1" fill="#fe0000" stroke="#fe0000" stroke-width="0.5"/>
<polyline points="69.9,177.3 73.1,178.4 76.4,179.3 79.7,180.2" stroke="#0a0a0a" stroke-width="1.0" fill="none"/>
<polyline points="76.2,174.1 79.4,175.1 82.7,176.1 85.9,176.9" stroke="#0a0a0a" stroke-width="1.0" fill="none"/>
<line x1="69.9" y1="177.3" x2="76.2" y2="174.1" stroke="#0a0a0a" stroke-width="1.0" fill="none"/>
<line x1="79.7" y1="180.2" x2="85.9" y2="176.9" stroke="#0a0a0a" stroke-width="1.0" fill="none"/>
<polygon points="79.7,180.2 83,181 86.3,181.5 89.7,181.7 95.7,178.4 92.5,178.2 89.2,177.7 85.9,176.9" fill="#0a0a12" stroke="#0a0a12" stroke-width="0.5"/>
<polyline points="79.7,180.2 83,181 86.3,181.5 89.7,181.7" stroke="#0a0a0a" stroke-width="1.0" fill="none"/>
<polyline points="85.9,176.9 89.2,177.7 92.5,178.2 95.7,178.4" stroke="#0a0a0a" stroke-width="1.0" fill="none"/>
<line x1="79.7" y1="180.2" x2="85.9" y2="176.9" stroke="#0a0a0a" stroke-width="1.0" fill="none"/>
<line x1="89.7" y1="181.7" x2="95.7" y2="178.4" stroke="#0a0a0a" stroke-width="1.0" fill="none"/>
<polygon points="89.7,181.7 93,181.5 99,178.1 95.7,178.4" fill="#df0000" stroke="#df0000" stroke-width="0.5"/>
<polyline points="89.7,181.7 93,181.5" stroke="#0a0a0a" stroke-width="1.0" fill="none"/>
<polyline points="95.7,178.4 99,178.1" stroke="#0a0a0a" stroke-width="1.0" fill="none"/>
<line x1="89.7" y1="181.7" x2="95.7" y2="178.4" stroke="#0a0a0a" stroke-width="1.0" fill="none"/>
<polygon points="93,181.5 96.3,180.7 102.3,177.3 99,178.1" fill="#cc0000" stroke="#cc0000" stroke-width="0.5"/>
<polyline points="93,181.5 96.3,180.7" stroke="#0a0a0a" stroke-width="1.0" fill="none"/>
<polyline points="99,178.1 102.3,177.3" stroke="#0a0a0a" stroke-width="1.0" fill="none"/>
<polygon points="96.3,180.7 99.7,179 105.6,175.7 102.3,177.3" fill="#900000" stroke="#900000" stroke-width="0.5"/>
<polyline points="96.3,180.7 99.7,179" stroke="#0a0a0a" stroke-width="1.0" fill="none"/>
<polyline points="102.3,177.3 105.6,175.7" stroke="#0a0a0a" stroke-width="1.0" fill="none"/>
<line x1="99.7" y1="179" x2="105.6" y2="175.7" stroke="#0a0a0a" stroke-width="1.0" fill="none"/>
<polygon points="99.7,179 101.7,177.6 103.7,175.6 105.7,173.2 107.7,170.1 109.7,166.3 115.5,163.1 113.6,166.9 111.6,169.9 109.6,172.4 107.6,174.3 105.6,175.7" fill="#0a0a12" stroke="#0a0a12" stroke-width="0.5"/>
<polyline points="99.7,179 101.7,177.6 103.7,175.6 105.7,173.2 107.7,170.1 109.7,166.3" stroke="#0a0a0a" stroke-width="1.0" fill="none"/>
<polyline points="105.6,175.7 107.6,174.3 109.6,172.4 111.6,169.9 113.6,166.9 115.5,163.1" stroke="#0a0a0a" stroke-width="1.0" fill="none"/>
<line x1="99.7" y1="179" x2="105.6" y2="175.7" stroke="#0a0a0a" stroke-width="1.0" fill="none"/>
<line x1="109.7" y1="166.3" x2="115.5" y2="163.1" stroke="#0a0a0a" stroke-width="1.0" fill="none"/>
<polygon points="109.7,166.3 110.9,163.5 112.1,160.3 118,157.3 116.8,160.4 115.5,163.1" fill="#c20000" stroke="#c20000" stroke-width="0.5"/>
<polyline points="109.7,166.3 110.9,163.5 112.1,160.3" stroke="#0a0a0a" stroke-width="1.0" fill="none"/>
<polyline points="115.5,163.1 116.8,160.4 118,157.3" stroke="#0a0a0a" stroke-width="1.0" fill="none"/>
<line x1="109.7" y1="166.3" x2="115.5" y2="163.1" stroke="#0a0a0a" stroke-width="1.0" fill="none"/>
<polygon points="112.1,160.3 113.4,156.9 114.6,153 115.9,148.7 121.7,145.9 120.5,150.1 119.2,153.9 118,157.3" fill="#cd0000" stroke="#cd0000" stroke-width="0.5"/>
<polyline points="112.1,160.3 113.4,156.9 114.6,153 115.9,148.7" stroke="#0a0a0a" stroke-width="1.0" fill="none"/>
<polyline points="118,157.3 119.2,153.9 120.5,150.1 121.7,145.9" stroke="#0a0a0a" stroke-width="1.0" fill="none"/>
<polygon points="115.9,148.7 117.1,144 118.4,139 119.6,133.5 125.4,130.9 124.2,136.3 122.9,141.3 121.7,145.9" fill="#d60000" stroke="#d60000" stroke-width="0.5"/>
<polyline points="115.9,148.7 117.1,144 118.4,139 119.6,133.5" stroke="#0a0a0a" stroke-width="1.0" fill="none"/>
<polyline points="121.7,145.9 122.9,141.3 124.2,136.3 125.4,130.9" stroke="#0a0a0a" stroke-width="1.0" fill="none"/>
<line x1="119.6" y1="133.5" x2="125.4" y2="130.9" stroke="#0a0a0a" stroke-width="1.0" fill="none"/>
<polygon points="119.6,133.5 120.5,129.3 121.4,124.8 122.3,120.3 123.2,115.5 124.1,110.6 125.1,105.7 126,100.6 126.9,95.5 127.8,90.5 128.8,85.5 129.7,80.7 135.5,79 134.6,83.7 133.6,88.6 132.7,93.6 131.8,98.5 130.9,103.5 130,108.4 129,113.2 128.1,117.9 127.2,122.4 126.3,126.7 125.4,130.9" fill="#0a0a12" stroke="#0a0a12" stroke-width="0.5"/>
<polyline points="119.6,133.5 120.5,129.3 121.4,124.8 122.3,120.3 123.2,115.5 124.1,110.6 125.1,105.7 126,100.6 126.9,95.5 127.8,90.5 128.8,85.5 129.7,80.7" stroke="#0a0a0a" stroke-width="1.0" fill="none"/>
<polyline points="125.4,130.9 126.3,126.7 127.2,122.4 128.1,117.9 129,113.2 130,108.4 130.9,103.5 131.8,98.5 132.7,93.6 133.6,88.6 134.6,83.7 135.5,79" stroke="#0a0a0a" stroke-width="1.0" fill="none"/>
<line x1="119.6" y1="133.5" x2="125.4" y2="130.9" stroke="#0a0a0a" stroke-width="1.0" fill="none"/>
<line x1="129.7" y1="80.7" x2="135.5" y2="79" stroke="#0a0a0a" stroke-width="1.0" fill="none"/>
<polygon points="129.7,80.7 131.2,73.5 132.7,67 134.3,61.4 140,60 138.5,65.5 137,71.9 135.5,79" fill="#d70000" stroke="#d70000" stroke-width="0.5"/>
<polyline points="129.7,80.7 131.2,73.5 132.7,67 134.3,61.4" stroke="#0a0a0a" stroke-width="1.0" fill="none"/>
<polyline points="135.5,79 137,71.9 138.5,65.5 140,60" stroke="#0a0a0a" stroke-width="1.0" fill="none"/>
<line x1="129.7" y1="80.7" x2="135.5" y2="79" stroke="#0a0a0a" stroke-width="1.0" fill="none"/>
<polygon points="134.3,61.4 135.8,57 141.6,55.7 140,60" fill="#c90000" stroke="#c90000" stroke-width="0.5"/>
<polyline points="134.3,61.4 135.8,57" stroke="#0a0a0a" stroke-width="1.0" fill="none"/>
<polyline points="140,60 141.6,55.7" stroke="#0a0a0a" stroke-width="1.0" fill="none"/>
<polygon points="135.8,57 137.4,53.9 143.2,52.6 141.6,55.7" fill="#b70000" stroke="#b70000" stroke-width="0.5"/>
<polyline points="135.8,57 137.4,53.9" stroke="#0a0a0a" stroke-width="1.0" fill="none"/>
<polyline points="141.6,55.7 143.2,52.6" stroke="#0a0a0a" stroke-width="1.0" fill="none"/>
<polygon points="137.4,53.9 139,52.3 144.7,51.1 143.2,52.6" fill="#900000" stroke="#900000" stroke-width="0.5"/>
<polyline points="137.4,53.9 139,52.3" stroke="#0a0a0a" stroke-width="1.0" fill="none"/>
<polyline points="143.2,52.6 144.7,51.1" stroke="#0a0a0a" stroke-width="1.0" fill="none"/>
<polygon points="139,52.3 140,52.1 145.7,50.9 144.7,51.1" fill="#d80000" stroke="#d80000" stroke-width="0.5"/>
<polyline points="139,52.3 140,52.1" stroke="#0a0a0a" stroke-width="1.0" fill="none"/>
<polyline points="144.7,51.1 145.7,50.9" stroke="#0a0a0a" stroke-width="1.0" fill="none"/>
<polygon points="140,52.1 140.6,52.3 146.3,51 145.7,50.9" fill="#ff0000" stroke="#ff0000" stroke-width="0.5"/>
<polyline points="140,52.1 140.6,52.3" stroke="#0a0a0a" stroke-width="1.0" fill="none"/>
<polyline points="145.7,50.9 146.3,51" stroke="#0a0a0a" stroke-width="1.0" fill="none"/>
<line x1="140.6" y1="52.3" x2="146.3" y2="51" stroke="#0a0a0a" stroke-width="1.0" fill="none"/>
<polygon points="140.6,52.3 142.1,53.5 143.5,55.9 145,59.4 146.4,63.9 147.9,69.3 149.4,75.4 150.8,82 152.3,89 157.7,87.1 156.3,80.2 154.9,73.7 153.4,67.7 152,62.5 150.6,58.1 149.2,54.6 147.7,52.3 146.3,51" fill="#0a0a12" stroke="#0a0a12" stroke-width="0.5"/>
<polyline points="140.6,52.3 142.1,53.5 143.5,55.9 145,59.4 146.4,63.9 147.9,69.3 149.4,75.4 150.8,82 152.3,89" stroke="#0a0a0a" stroke-width="1.0" fill="none"/>
<polyline points="146.3,51 147.7,52.3 149.2,54.6 150.6,58.1 152,62.5 153.4,67.7 154.9,73.7 156.3,80.2 157.7,87.1" stroke="#0a0a0a" stroke-width="1.0" fill="none"/>
<line x1="140.6" y1="52.3" x2="146.3" y2="51" stroke="#0a0a0a" stroke-width="1.0" fill="none"/>
<line x1="152.3" y1="89" x2="157.7" y2="87.1" stroke="#0a0a0a" stroke-width="1.0" fill="none"/>
<polygon points="152.3,89 153.3,94.2 154.4,99.6 155.5,104.9 156.5,110.2 157.6,115.5 158.6,120.7 159.7,125.7 160.7,130.6 161.8,135.3 162.8,139.8 163.8,144.1 169,141.2 168,137 167,132.6 166,127.9 165,123.1 163.9,118.2 162.9,113.1 161.9,107.9 160.8,102.7 159.8,97.5 158.8,92.2 157.7,87.1" fill="#ff0000" stroke="#ff0000" stroke-width="0.5"/>
<polyline points="152.3,89 153.3,94.2 154.4,99.6 155.5,104.9 156.5,110.2 157.6,115.5 158.6,120.7 159.7,125.7 160.7,130.6 161.8,135.3 162.8,139.8 163.8,144.1" stroke="#0a0a0a" stroke-width="1.0" fill="none"/>
<polyline points="157.7,87.1 158.8,92.2 159.8,97.5 160.8,102.7 161.9,107.9 162.9,113.1 163.9,118.2 165,123.1 166,127.9 167,132.6 168,137 169,141.2" stroke="#0a0a0a" stroke-width="1.0" fill="none"/>
<line x1="152.3" y1="89" x2="157.7" y2="87.1" stroke="#0a0a0a" stroke-width="1.0" fill="none"/>
<line x1="163.8" y1="144.1" x2="169" y2="141.2" stroke="#0a0a0a" stroke-width="1.0" fill="none"/>
<polygon points="163.8,144.1 165.3,149.7 166.7,154.9 168.1,159.7 169.6,164.1 171,168.2 172.4,171.8 173.8,175.2 175.3,178.2 180.2,174.7 178.8,171.7 177.4,168.5 176,164.9 174.6,160.9 173.2,156.6 171.8,151.9 170.4,146.7 169,141.2" fill="#0a0a12" stroke="#0a0a12" stroke-width="0.5"/>
<polyline points="163.8,144.1 165.3,149.7 166.7,154.9 168.1,159.7 169.6,164.1 171,168.2 172.4,171.8 173.8,175.2 175.3,178.2" stroke="#0a0a0a" stroke-width="1.0" fill="none"/>
<polyline points="169,141.2 170.4,146.7 171.8,151.9 173.2,156.6 174.6,160.9 176,164.9 177.4,168.5 178.8,171.7 180.2,174.7" stroke="#0a0a0a" stroke-width="1.0" fill="none"/>
<line x1="163.8" y1="144.1" x2="169" y2="141.2" stroke="#0a0a0a" stroke-width="1.0" fill="none"/>
<line x1="175.3" y1="178.2" x2="180.2" y2="174.7" stroke="#0a0a0a" stroke-width="1.0" fill="none"/>
<polygon points="175.3,178.2 177.5,182.3 179.8,185.8 182.1,188.8 184.4,191.2 186.7,193.2 191.5,189.4 189.3,187.4 187,185.1 184.7,182.2 182.5,178.8 180.2,174.7" fill="#ff0000" stroke="#ff0000" stroke-width="0.5"/>
<polyline points="175.3,178.2 177.5,182.3 179.8,185.8 182.1,188.8 184.4,191.2 186.7,193.2" stroke="#0a0a0a" stroke-width="1.0" fill="none"/>
<polyline points="180.2,174.7 182.5,178.8 184.7,182.2 187,185.1 189.3,187.4 191.5,189.4" stroke="#0a0a0a" stroke-width="1.0" fill="none"/>
<line x1="175.3" y1="178.2" x2="180.2" y2="174.7" stroke="#0a0a0a" stroke-width="1.0" fill="none"/>
<line x1="186.7" y1="193.2" x2="191.5" y2="189.4" stroke="#0a0a0a" stroke-width="1.0" fill="none"/>
<polygon points="186.7,193.2 190.6,195.7 194.5,197.5 198.4,198.7 203,194.8 199.2,193.6 195.3,191.9 191.5,189.4" fill="#0a0a12" stroke="#0a0a12" stroke-width="0.5"/>
<polyline points="186.7,193.2 190.6,195.7 194.5,197.5 198.4,198.7" stroke="#0a0a0a" stroke-width="1.0" fill="none"/>
<polyline points="191.5,189.4 195.3,191.9 199.2,193.6 203,194.8" stroke="#0a0a0a" stroke-width="1.0" fill="none"/>
<line x1="186.7" y1="193.2" x2="191.5" y2="189.4" stroke="#0a0a0a" stroke-width="1.0" fill="none"/>
<line x1="198.4" y1="198.7" x2="203" y2="194.8" stroke="#0a0a0a" stroke-width="1.0" fill="none"/>
<polygon points="198.4,198.7 202.4,199.5 206.3,200 210.8,196.1 206.9,195.6 203,194.8" fill="#f50000" stroke="#f50000" stroke-width="0.5"/>
<polyline points="198.4,198.7 202.4,199.5 206.3,200" stroke="#0a0a0a" stroke-width="1.0" fill="none"/>
<polyline points="203,194.8 206.9,195.6 210.8,196.1" stroke="#0a0a0a" stroke-width="1.0" fill="none"/>
<line x1="198.4" y1="198.7" x2="203" y2="194.8" stroke="#0a0a0a" stroke-width="1.0" fill="none"/>
<polygon points="206.3,200 210.3,200.3 214.8,196.3 210.8,196.1" fill="#ec0000" stroke="#ec0000" stroke-width="0.5"/>
<polyline points="206.3,200 210.3,200.3" stroke="#0a0a0a" stroke-width="1.0" fill="none"/>
<polyline points="210.8,196.1 214.8,196.3" stroke="#0a0a0a" stroke-width="1.0" fill="none"/>
<line x1="210.3" y1="200.3" x2="214.8" y2="196.3" stroke="#0a0a0a" stroke-width="1.0" fill="none"/>
<polygon points="210.3,200.3 214.4,200.5 218.4,200.5 222.5,200.6 226.7,196.6 222.7,196.5 218.7,196.5 214.8,196.3" fill="#0a0a12" stroke="#0a0a12" stroke-width="0.5"/>
<polyline points="210.3,200.3 214.4,200.5 218.4,200.5 222.5,200.6" stroke="#0a0a0a" stroke-width="1.0" fill="none"/>
<polyline points="214.8,196.3 218.7,196.5 222.7,196.5 226.7,196.6" stroke="#0a0a0a" stroke-width="1.0" fill="none"/>
<line x1="210.3" y1="200.3" x2="214.8" y2="196.3" stroke="#0a0a0a" stroke-width="1.0" fill="none"/>
<line x1="222.5" y1="200.6" x2="226.7" y2="196.6" stroke="#0a0a0a" stroke-width="1.0" fill="none"/>
<polygon points="43.9,174.7 47.1,175.6 50.3,176.5 53.5,177.5 60.2,174.2 57,173.3 53.8,172.4 50.6,171.6" fill="#00fe00" stroke="#00fe00" stroke-width="0.5"/>
<polyline points="43.9,174.7 47.1,175.6 50.3,176.5 53.5,177.5" stroke="#0a0a0a" stroke-width="1.0" fill="none"/>
<polyline points="50.6,171.6 53.8,172.4 57,173.3 60.2,174.2" stroke="#0a0a0a" stroke-width="1.0" fill="none"/>
<line x1="43.9" y1="174.7" x2="50.6" y2="171.6" stroke="#0a0a0a" stroke-width="1.0" fill="none"/>
<line x1="53.5" y1="177.5" x2="60.2" y2="174.2" stroke="#0a0a0a" stroke-width="1.0" fill="none"/>
<polygon points="53.5,177.5 56.8,178.5 60.1,179.6 63.3,180.6 69.9,177.3 66.6,176.3 63.4,175.2 60.2,174.2" fill="#ffff00" stroke="#ffff00" stroke-width="0.5"/>
<polyline points="53.5,177.5 56.8,178.5 60.1,179.6 63.3,180.6" stroke="#0a0a0a" stroke-width="1.0" fill="none"/>
<polyline points="60.2,174.2 63.4,175.2 66.6,176.3 69.9,177.3" stroke="#0a0a0a" stroke-width="1.0" fill="none"/>
<line x1="53.5" y1="177.5" x2="60.2" y2="174.2" stroke="#0a0a0a" stroke-width="1.0" fill="none"/>
<line x1="63.3" y1="180.6" x2="69.9" y2="177.3" stroke="#0a0a0a" stroke-width="1.0" fill="none"/>
<polygon points="63.3,180.6 66.6,181.7 70,182.7 73.3,183.6 79.7,180.2 76.4,179.3 73.1,178.4 69.9,177.3" fill="#00fe00" stroke="#00fe00" stroke-width="0.5"/>
<polyline points="63.3,180.6 66.6,181.7 70,182.7 73.3,183.6" stroke="#0a0a0a" stroke-width="1.0" fill="none"/>
<polyline points="69.9,177.3 73.1,178.4 76.4,179.3 79.7,180.2" stroke="#0a0a0a" stroke-width="1.0" fill="none"/>
<line x1="63.3" y1="180.6" x2="69.9" y2="177.3" stroke="#0a0a0a" stroke-width="1.0" fill="none"/>
<line x1="73.3" y1="183.6" x2="79.7" y2="180.2" stroke="#0a0a0a" stroke-width="1.0" fill="none"/>
<polygon points="73.3,183.6 76.6,184.4 80,184.9 86.3,181.5 83,181 79.7,180.2" fill="#fff700" stroke="#fff700" stroke-width="0.5"/>
<polyline points="73.3,183.6 76.6,184.4 80,184.9" stroke="#0a0a0a" stroke-width="1.0" fill="none"/>
<polyline points="79.7,180.2 83,181 86.3,181.5" stroke="#0a0a0a" stroke-width="1.0" fill="none"/>
<line x1="73.3" y1="183.6" x2="79.7" y2="180.2" stroke="#0a0a0a" stroke-width="1.0" fill="none"/>
<polygon points="80,184.9 83.4,185.1 89.7,181.7 86.3,181.5" fill="#fbec00" stroke="#fbec00" stroke-width="0.5"/>
<polyline points="80,184.9 83.4,185.1" stroke="#0a0a0a" stroke-width="1.0" fill="none"/>
<polyline points="86.3,181.5 89.7,181.7" stroke="#0a0a0a" stroke-width="1.0" fill="none"/>
<line x1="83.4" y1="185.1" x2="89.7" y2="181.7" stroke="#0a0a0a" stroke-width="1.0" fill="none"/>
<polygon points="83.4,185.1 86.7,184.9 93,181.5 89.7,181.7" fill="#00df00" stroke="#00df00" stroke-width="0.5"/>
<polyline points="83.4,185.1 86.7,184.9" stroke="#0a0a0a" stroke-width="1.0" fill="none"/>
<polyline points="89.7,181.7 93,181.5" stroke="#0a0a0a" stroke-width="1.0" fill="none"/>
<line x1="83.4" y1="185.1" x2="89.7" y2="181.7" stroke="#0a0a0a" stroke-width="1.0" fill="none"/>
<polygon points="86.7,184.9 90.1,184.1 96.3,180.7 93,181.5" fill="#00cc00" stroke="#00cc00" stroke-width="0.5"/>
<polyline points="86.7,184.9 90.1,184.1" stroke="#0a0a0a" stroke-width="1.0" fill="none"/>
<polyline points="93,181.5 96.3,180.7" stroke="#0a0a0a" stroke-width="1.0" fill="none"/>
<polygon points="90.1,184.1 93.5,182.5 99.7,179 96.3,180.7" fill="#009000" stroke="#009000" stroke-width="0.5"/>
<polyline points="90.1,184.1 93.5,182.5" stroke="#0a0a0a" stroke-width="1.0" fill="none"/>
<polyline points="96.3,180.7 99.7,179" stroke="#0a0a0a" stroke-width="1.0" fill="none"/>
<line x1="93.5" y1="182.5" x2="99.7" y2="179" stroke="#0a0a0a" stroke-width="1.0" fill="none"/>
<polygon points="93.5,182.5 95.5,181 97.5,179 103.7,175.6 101.7,177.6 99.7,179" fill="#999000" stroke="#999000" stroke-width="0.5"/>
<polyline points="93.5,182.5 95.5,181 97.5,179" stroke="#0a0a0a" stroke-width="1.0" fill="none"/>
<polyline points="99.7,179 101.7,177.6 103.7,175.6" stroke="#0a0a0a" stroke-width="1.0" fill="none"/>
<line x1="93.5" y1="182.5" x2="99.7" y2="179" stroke="#0a0a0a" stroke-width="1.0" fill="none"/>
<polygon points="97.5,179 99.5,176.5 105.7,173.2 103.7,175.6" fill="#a99f00" stroke="#a99f00" stroke-width="0.5"/>
<polyline points="97.5,179 99.5,176.5" stroke="#0a0a0a" stroke-width="1.0" fill="none"/>
<polyline points="103.7,175.6 105.7,173.2" stroke="#0a0a0a" stroke-width="1.0" fill="none"/>
<polygon points="99.5,176.5 101.6,173.4 107.7,170.1 105.7,173.2" fill="#b7ac00" stroke="#b7ac00" stroke-width="0.5"/>
<polyline points="99.5,176.5 101.6,173.4" stroke="#0a0a0a" stroke-width="1.0" fill="none"/>
<polyline points="105.7,173.2 107.7,170.1" stroke="#0a0a0a" stroke-width="1.0" fill="none"/>
<polygon points="101.6,173.4 103.6,169.5 109.7,166.3 107.7,170.1" fill="#c4b800" stroke="#c4b800" stroke-width="0.5"/>
<polyline points="101.6,173.4 103.6,169.5" stroke="#0a0a0a" stroke-width="1.0" fill="none"/>
<polyline points="107.7,170.1 109.7,166.3" stroke="#0a0a0a" stroke-width="1.0" fill="none"/>
<line x1="103.6" y1="169.5" x2="109.7" y2="166.3" stroke="#0a0a0a" stroke-width="1.0" fill="none"/>
<polygon points="103.6,169.5 104.8,166.7 106.1,163.5 112.1,160.3 110.9,163.5 109.7,166.3" fill="#00c200" stroke="#00c200" stroke-width="0.5"/>
<polyline points="103.6,169.5 104.8,166.7 106.1,163.5" stroke="#0a0a0a" stroke-width="1.0" fill="none"/>
<polyline points="109.7,166.3 110.9,163.5 112.1,160.3" stroke="#0a0a0a" stroke-width="1.0" fill="none"/>
<line x1="103.6" y1="169.5" x2="109.7" y2="166.3" stroke="#0a0a0a" stroke-width="1.0" fill="none"/>
<polygon points="106.1,163.5 107.3,159.9 108.6,156 109.8,151.7 115.9,148.7 114.6,153 113.4,156.9 112.1,160.3" fill="#00cd00" stroke="#00cd00" stroke-width="0.5"/>
<polyline points="106.1,163.5 107.3,159.9 108.6,156 109.8,151.7" stroke="#0a0a0a" stroke-width="1.0" fill="none"/>
<polyline points="112.1,160.3 113.4,156.9 114.6,153 115.9,148.7" stroke="#0a0a0a" stroke-width="1.0" fill="none"/>
<polygon points="109.8,151.7 111.1,146.9 112.3,141.8 113.6,136.2 119.6,133.5 118.4,139 117.1,144 115.9,148.7" fill="#00d600" stroke="#00d600" stroke-width="0.5"/>
<polyline points="109.8,151.7 111.1,146.9 112.3,141.8 113.6,136.2" stroke="#0a0a0a" stroke-width="1.0" fill="none"/>
<polyline points="115.9,148.7 117.1,144 118.4,139 119.6,133.5" stroke="#0a0a0a" stroke-width="1.0" fill="none"/>
<line x1="113.6" y1="136.2" x2="119.6" y2="133.5" stroke="#0a0a0a" stroke-width="1.0" fill="none"/>
<polygon points="113.6,136.2 114.5,131.9 115.4,127.4 116.3,122.7 117.2,117.9 118.1,113 119,107.9 120,102.8 120.9,97.6 121.8,92.5 122.8,87.4 123.7,82.5 129.7,80.7 128.8,85.5 127.8,90.5 126.9,95.5 126,100.6 125.1,105.7 124.1,110.6 123.2,115.5 122.3,120.3 121.4,124.8 120.5,129.3 119.6,133.5" fill="#ebdd00" stroke="#ebdd00" stroke-width="0.5"/>
<polyline points="113.6,136.2 114.5,131.9 115.4,127.4 116.3,122.7 117.2,117.9 118.1,113 119,107.9 120,102.8 120.9,97.6 121.8,92.5 122.8,87.4 123.7,82.5" stroke="#0a0a0a" stroke-width="1.0" fill="none"/>
<polyline points="119.6,133.5 120.5,129.3 121.4,124.8 122.3,120.3 123.2,115.5 124.1,110.6 125.1,105.7 126,100.6 126.9,95.5 127.8,90.5 128.8,85.5 129.7,80.7" stroke="#0a0a0a" stroke-width="1.0" fill="none"/>
<line x1="113.6" y1="136.2" x2="119.6" y2="133.5" stroke="#0a0a0a" stroke-width="1.0" fill="none"/>
<line x1="123.7" y1="82.5" x2="129.7" y2="80.7" stroke="#0a0a0a" stroke-width="1.0" fill="none"/>
<polygon points="123.7,82.5 125.2,75.2 126.7,68.5 128.3,62.9 134.3,61.4 132.7,67 131.2,73.5 129.7,80.7" fill="#00d700" stroke="#00d700" stroke-width="0.5"/>
<polyline points="123.7,82.5 125.2,75.2 126.7,68.5 128.3,62.9" stroke="#0a0a0a" stroke-width="1.0" fill="none"/>
<polyline points="129.7,80.7 131.2,73.5 132.7,67 134.3,61.4" stroke="#0a0a0a" stroke-width="1.0" fill="none"/>
<line x1="123.7" y1="82.5" x2="129.7" y2="80.7" stroke="#0a0a0a" stroke-width="1.0" fill="none"/>
<polygon points="128.3,62.9 129.9,58.4 135.8,57 134.3,61.4" fill="#00c900" stroke="#00c900" stroke-width="0.5"/>
<polyline points="128.3,62.9 129.9,58.4" stroke="#0a0a0a" stroke-width="1.0" fill="none"/>
<polyline points="134.3,61.4 135.8,57" stroke="#0a0a0a" stroke-width="1.0" fill="none"/>
<polygon points="129.9,58.4 131.5,55.2 137.4,53.9 135.8,57" fill="#00b700" stroke="#00b700" stroke-width="0.5"/>
<polyline points="129.9,58.4 131.5,55.2" stroke="#0a0a0a" stroke-width="1.0" fill="none"/>
<polyline points="135.8,57 137.4,53.9" stroke="#0a0a0a" stroke-width="1.0" fill="none"/>
<polygon points="131.5,55.2 133.1,53.6 139,52.3 137.4,53.9" fill="#009000" stroke="#009000" stroke-width="0.5"/>
<polyline points="131.5,55.2 133.1,53.6" stroke="#0a0a0a" stroke-width="1.0" fill="none"/>
<polyline points="137.4,53.9 139,52.3" stroke="#0a0a0a" stroke-width="1.0" fill="none"/>
<polygon points="133.1,53.6 134,53.4 140,52.1 139,52.3" fill="#00d800" stroke="#00d800" stroke-width="0.5"/>
<polyline points="133.1,53.6 134,53.4" stroke="#0a0a0a" stroke-width="1.0" fill="none"/>
<polyline points="139,52.3 140,52.1" stroke="#0a0a0a" stroke-width="1.0" fill="none"/>
<polygon points="134,53.4 134.7,53.5 140.6,52.3 140,52.1" fill="#00ff00" stroke="#00ff00" stroke-width="0.5"/>
<polyline points="134,53.4 134.7,53.5" stroke="#0a0a0a" stroke-width="1.0" fill="none"/>
<polyline points="140,52.1 140.6,52.3" stroke="#0a0a0a" stroke-width="1.0" fill="none"/>
<line x1="134.7" y1="53.5" x2="140.6" y2="52.3" stroke="#0a0a0a" stroke-width="1.0" fill="none"/>
<polygon points="134.7,53.5 136.2,54.8 137.7,57.3 139.1,60.9 140.6,65.4 142.1,70.9 143.6,77.1 145.1,83.8 146.6,90.9 152.3,89 150.8,82 149.4,75.4 147.9,69.3 146.4,63.9 145,59.4 143.5,55.9 142.1,53.5 140.6,52.3" fill="#ffff00" stroke="#ffff00" stroke-width="0.5"/>
<polyline points="134.7,53.5 136.2,54.8 137.7,57.3 139.1,60.9 140.6,65.4 142.1,70.9 143.6,77.1 145.1,83.8 146.6,90.9" stroke="#0a0a0a" stroke-width="1.0" fill="none"/>
<polyline points="140.6,52.3 142.1,53.5 143.5,55.9 145,59.4 146.4,63.9 147.9,69.3 149.4,75.4 150.8,82 152.3,89" stroke="#0a0a0a" stroke-width="1.0" fill="none"/>
<line x1="134.7" y1="53.5" x2="140.6" y2="52.3" stroke="#0a0a0a" stroke-width="1.0" fill="none"/>
<line x1="146.6" y1="90.9" x2="152.3" y2="89" stroke="#0a0a0a" stroke-width="1.0" fill="none"/>
<polygon points="146.6,90.9 147.7,96.3 148.8,101.7 149.9,107.2 150.9,112.6 152,118 153.1,123.2 154.2,128.4 155.3,133.3 156.3,138.1 157.4,142.7 158.5,147.1 163.8,144.1 162.8,139.8 161.8,135.3 160.7,130.6 159.7,125.7 158.6,120.7 157.6,115.5 156.5,110.2 155.5,104.9 154.4,99.6 153.3,94.2 152.3,89" fill="#00ff00" stroke="#00ff00" stroke-width="0.5"/>
<polyline points="146.6,90.9 147.7,96.3 148.8,101.7 149.9,107.2 150.9,112.6 152,118 153.1,123.2 154.2,128.4 155.3,133.3 156.3,138.1 157.4,142.7 158.5,147.1" stroke="#0a0a0a" stroke-width="1.0" fill="none"/>
<polyline points="152.3,89 153.3,94.2 154.4,99.6 155.5,104.9 156.5,110.2 157.6,115.5 158.6,120.7 159.7,125.7 160.7,130.6 161.8,135.3 162.8,139.8 163.8,144.1" stroke="#0a0a0a" stroke-width="1.0" fill="none"/>
<line x1="146.6" y1="90.9" x2="152.3" y2="89" stroke="#0a0a0a" stroke-width="1.0" fill="none"/>
<line x1="158.5" y1="147.1" x2="163.8" y2="144.1" stroke="#0a0a0a" stroke-width="1.0" fill="none"/>
<polygon points="158.5,147.1 159.9,152.8 161.4,158.1 162.8,163 164.3,167.5 165.7,171.6 167.2,175.3 168.6,178.7 170.1,181.8 175.3,178.2 173.8,175.2 172.4,171.8 171,168.2 169.6,164.1 168.1,159.7 166.7,154.9 165.3,149.7 163.8,144.1" fill="#ffff00" stroke="#ffff00" stroke-width="0.5"/>
<polyline points="158.5,147.1 159.9,152.8 161.4,158.1 162.8,163 164.3,167.5 165.7,171.6 167.2,175.3 168.6,178.7 170.1,181.8" stroke="#0a0a0a" stroke-width="1.0" fill="none"/>
<polyline points="163.8,144.1 165.3,149.7 166.7,154.9 168.1,159.7 169.6,164.1 171,168.2 172.4,171.8 173.8,175.2 175.3,178.2" stroke="#0a0a0a" stroke-width="1.0" fill="none"/>
<line x1="158.5" y1="147.1" x2="163.8" y2="144.1" stroke="#0a0a0a" stroke-width="1.0" fill="none"/>
<line x1="170.1" y1="181.8" x2="175.3" y2="178.2" stroke="#0a0a0a" stroke-width="1.0" fill="none"/>
<polygon points="170.1,181.8 172.4,186 174.7,189.6 177.1,192.6 179.4,195.1 181.8,197.1 186.7,193.2 184.4,191.2 182.1,188.8 179.8,185.8 177.5,182.3 175.3,178.2" fill="#00ff00" stroke="#00ff00" stroke-width="0.5"/>
<polyline points="170.1,181.8 172.4,186 174.7,189.6 177.1,192.6 179.4,195.1 181.8,197.1" stroke="#0a0a0a" stroke-width="1.0" fill="none"/>
<polyline points="175.3,178.2 177.5,182.3 179.8,185.8 182.1,188.8 184.4,191.2 186.7,193.2" stroke="#0a0a0a" stroke-width="1.0" fill="none"/>
<line x1="170.1" y1="181.8" x2="175.3" y2="178.2" stroke="#0a0a0a" stroke-width="1.0" fill="none"/>
<line x1="181.8" y1="197.1" x2="186.7" y2="193.2" stroke="#0a0a0a" stroke-width="1.0" fill="none"/>
<polygon points="181.8,197.1 185.7,199.7 189.7,201.5 193.6,202.7 198.4,198.7 194.5,197.5 190.6,195.7 186.7,193.2" fill="#ffff00" stroke="#ffff00" stroke-width="0.5"/>
<polyline points="181.8,197.1 185.7,199.7 189.7,201.5 193.6,202.7" stroke="#0a0a0a" stroke-width="1.0" fill="none"/>
<polyline points="186.7,193.2 190.6,195.7 194.5,197.5 198.4,198.7" stroke="#0a0a0a" stroke-width="1.0" fill="none"/>
<line x1="181.8" y1="197.1" x2="186.7" y2="193.2" stroke="#0a0a0a" stroke-width="1.0" fill="none"/>
<line x1="193.6" y1="202.7" x2="198.4" y2="198.7" stroke="#0a0a0a" stroke-width="1.0" fill="none"/>
<polygon points="193.6,202.7 197.6,203.6 201.7,204.1 206.3,200 202.4,199.5 198.4,198.7" fill="#00f500" stroke="#00f500" stroke-width="0.5"/>
<polyline points="193.6,202.7 197.6,203.6 201.7,204.1" stroke="#0a0a0a" stroke-width="1.0" fill="none"/>
<polyline points="198.4,198.7 202.4,199.5 206.3,200" stroke="#0a0a0a" stroke-width="1.0" fill="none"/>
<line x1="193.6" y1="202.7" x2="198.4" y2="198.7" stroke="#0a0a0a" stroke-width="1.0" fill="none"/>
<polygon points="201.7,204.1 205.7,204.4 210.3,200.3 206.3,200" fill="#00ec00" stroke="#00ec00" stroke-width="0.5"/>
<polyline points="201.7,204.1 205.7,204.4" stroke="#0a0a0a" stroke-width="1.0" fill="none"/>
<polyline points="206.3,200 210.3,200.3" stroke="#0a0a0a" stroke-width="1.0" fill="none"/>
<line x1="205.7" y1="204.4" x2="210.3" y2="200.3" stroke="#0a0a0a" stroke-width="1.0" fill="none"/>
<polygon points="205.7,204.4 209.8,204.6 213.9,204.7 218.1,204.7 222.5,200.6 218.4,200.5 214.4,200.5 210.3,200.3" fill="#f4e600" stroke="#f4e600" stroke-width="0.5"/>
<polyline points="205.7,204.4 209.8,204.6 213.9,204.7 218.1,204.7" stroke="#0a0a0a" stroke-width="1.0" fill="none"/>
<polyline points="210.3,200.3 214.4,200.5 218.4,200.5 222.5,200.6" stroke="#0a0a0a" stroke-width="1.0" fill="none"/>
<line x1="205.7" y1="204.4" x2="210.3" y2="200.3" stroke="#0a0a0a" stroke-width="1.0" fill="none"/>
<line x1="218.1" y1="204.7" x2="222.5" y2="200.6" stroke="#0a0a0a" stroke-width="1.0" fill="none"/>
<g transform="translate(42.5,212) scale(0.92,1)"><text x="-12.6" font-size="22.05">−2</text></g>
<g transform="translate(81,218.4) scale(0.92,1)"><text x="-12.6" font-size="22.05">−</text><path d="M0.405 0L0.405-0.716L0.29-0.716C0.262-0.64 0.175-0.578 0.045-0.548L0.045-0.43C0.13-0.452 0.2-0.488 0.245-0.525L0.245 0Z" transform="translate(0.3,0) scale(22.05)"/></g>
<g transform="translate(122.8,225.6) scale(0.92,1)"><text x="-6.1" font-size="22.05">0</text></g>
<g transform="translate(167.7,232.2) scale(0.92,1)"><path d="M0.405 0L0.405-0.716L0.29-0.716C0.262-0.64 0.175-0.578 0.045-0.548L0.045-0.43C0.13-0.452 0.2-0.488 0.245-0.525L0.245 0Z" transform="translate(-6.1,0) scale(22.05)"/></g>
<g transform="translate(215.9,241.2) scale(0.92,1)"><text x="-6.1" font-size="22.05">2</text></g>
<g transform="translate(123.8,255.6)"><text x="-7.6" font-size="27.5">x</text></g>
<g transform="translate(236.5,228.2) scale(0.92,1)"><text x="-12.6" font-size="22.05">−2</text></g>
<g transform="translate(252,211.8) scale(0.92,1)"><text x="-12.6" font-size="22.05">−</text><path d="M0.405 0L0.405-0.716L0.29-0.716C0.262-0.64 0.175-0.578 0.045-0.548L0.045-0.43C0.13-0.452 0.2-0.488 0.245-0.525L0.245 0Z" transform="translate(0.3,0) scale(22.05)"/></g>
<g transform="translate(261.5,196.9) scale(0.92,1)"><text x="-6.1" font-size="22.05">0</text></g>
<g transform="translate(275,183.4) scale(0.92,1)"><path d="M0.405 0L0.405-0.716L0.29-0.716C0.262-0.64 0.175-0.578 0.045-0.548L0.045-0.43C0.13-0.452 0.2-0.488 0.245-0.525L0.245 0Z" transform="translate(-6.1,0) scale(22.05)"/></g>
<g transform="translate(284.6,172.8) scale(0.92,1)"><text x="-6.1" font-size="22.05">2</text></g>
<g transform="translate(285.5,203.5)"><text x="-5" font-size="30">t</text></g>
<g transform="translate(30,191.6) scale(0.92,1)"><text x="-6.1" font-size="22.05">0</text></g>
<g transform="translate(25.5,158.6) scale(0.92,1)"><path d="M0.405 0L0.405-0.716L0.29-0.716C0.262-0.64 0.175-0.578 0.045-0.548L0.045-0.43C0.13-0.452 0.2-0.488 0.245-0.525L0.245 0Z" transform="translate(-6.1,0) scale(22.05)"/></g>
<g transform="translate(25.5,124.3) scale(0.92,1)"><text x="-6.1" font-size="22.05">2</text></g>
<g transform="translate(25.5,87) scale(0.92,1)"><text x="-6.1" font-size="22.05">3</text></g>
<polyline points="630.8,7.3 398.5,7.3 398.5,239.3 630.8,239.3" stroke="#a0a0a0" stroke-width="1" fill="none"/>
<line x1="403" y1="239.3" x2="403" y2="235.3" stroke="#7a7a7a" stroke-width="1"/>
<line x1="403" y1="7.3" x2="403" y2="11.3" stroke="#7a7a7a" stroke-width="1"/>
<line x1="398.5" y1="234.6" x2="402.5" y2="234.6" stroke="#7a7a7a" stroke-width="1"/>
<line x1="630.8" y1="234.6" x2="626.8" y2="234.6" stroke="#7a7a7a" stroke-width="1"/>
<line x1="414.1" y1="239.3" x2="414.1" y2="237.1" stroke="#7a7a7a" stroke-width="1"/>
<line x1="414.1" y1="7.3" x2="414.1" y2="9.5" stroke="#7a7a7a" stroke-width="1"/>
<line x1="398.5" y1="223.5" x2="400.7" y2="223.5" stroke="#7a7a7a" stroke-width="1"/>
<line x1="630.8" y1="223.5" x2="628.6" y2="223.5" stroke="#7a7a7a" stroke-width="1"/>
<line x1="425.3" y1="239.3" x2="425.3" y2="237.1" stroke="#7a7a7a" stroke-width="1"/>
<line x1="425.3" y1="7.3" x2="425.3" y2="9.5" stroke="#7a7a7a" stroke-width="1"/>
<line x1="398.5" y1="212.4" x2="400.7" y2="212.4" stroke="#7a7a7a" stroke-width="1"/>
<line x1="630.8" y1="212.4" x2="628.6" y2="212.4" stroke="#7a7a7a" stroke-width="1"/>
<line x1="436.4" y1="239.3" x2="436.4" y2="237.1" stroke="#7a7a7a" stroke-width="1"/>
<line x1="436.4" y1="7.3" x2="436.4" y2="9.5" stroke="#7a7a7a" stroke-width="1"/>
<line x1="398.5" y1="201.2" x2="400.7" y2="201.2" stroke="#7a7a7a" stroke-width="1"/>
<line x1="630.8" y1="201.2" x2="628.6" y2="201.2" stroke="#7a7a7a" stroke-width="1"/>
<line x1="447.6" y1="239.3" x2="447.6" y2="237.1" stroke="#7a7a7a" stroke-width="1"/>
<line x1="447.6" y1="7.3" x2="447.6" y2="9.5" stroke="#7a7a7a" stroke-width="1"/>
<line x1="398.5" y1="190.1" x2="400.7" y2="190.1" stroke="#7a7a7a" stroke-width="1"/>
<line x1="630.8" y1="190.1" x2="628.6" y2="190.1" stroke="#7a7a7a" stroke-width="1"/>
<line x1="458.8" y1="239.3" x2="458.8" y2="235.3" stroke="#7a7a7a" stroke-width="1"/>
<line x1="458.8" y1="7.3" x2="458.8" y2="11.3" stroke="#7a7a7a" stroke-width="1"/>
<line x1="398.5" y1="179" x2="402.5" y2="179" stroke="#7a7a7a" stroke-width="1"/>
<line x1="630.8" y1="179" x2="626.8" y2="179" stroke="#7a7a7a" stroke-width="1"/>
<line x1="469.9" y1="239.3" x2="469.9" y2="237.1" stroke="#7a7a7a" stroke-width="1"/>
<line x1="469.9" y1="7.3" x2="469.9" y2="9.5" stroke="#7a7a7a" stroke-width="1"/>
<line x1="398.5" y1="167.9" x2="400.7" y2="167.9" stroke="#7a7a7a" stroke-width="1"/>
<line x1="630.8" y1="167.9" x2="628.6" y2="167.9" stroke="#7a7a7a" stroke-width="1"/>
<line x1="481.1" y1="239.3" x2="481.1" y2="237.1" stroke="#7a7a7a" stroke-width="1"/>
<line x1="481.1" y1="7.3" x2="481.1" y2="9.5" stroke="#7a7a7a" stroke-width="1"/>
<line x1="398.5" y1="156.8" x2="400.7" y2="156.8" stroke="#7a7a7a" stroke-width="1"/>
<line x1="630.8" y1="156.8" x2="628.6" y2="156.8" stroke="#7a7a7a" stroke-width="1"/>
<line x1="492.2" y1="239.3" x2="492.2" y2="237.1" stroke="#7a7a7a" stroke-width="1"/>
<line x1="492.2" y1="7.3" x2="492.2" y2="9.5" stroke="#7a7a7a" stroke-width="1"/>
<line x1="398.5" y1="145.6" x2="400.7" y2="145.6" stroke="#7a7a7a" stroke-width="1"/>
<line x1="630.8" y1="145.6" x2="628.6" y2="145.6" stroke="#7a7a7a" stroke-width="1"/>
<line x1="503.4" y1="239.3" x2="503.4" y2="237.1" stroke="#7a7a7a" stroke-width="1"/>
<line x1="503.4" y1="7.3" x2="503.4" y2="9.5" stroke="#7a7a7a" stroke-width="1"/>
<line x1="398.5" y1="134.5" x2="400.7" y2="134.5" stroke="#7a7a7a" stroke-width="1"/>
<line x1="630.8" y1="134.5" x2="628.6" y2="134.5" stroke="#7a7a7a" stroke-width="1"/>
<line x1="514.5" y1="239.3" x2="514.5" y2="235.3" stroke="#7a7a7a" stroke-width="1"/>
<line x1="514.5" y1="7.3" x2="514.5" y2="11.3" stroke="#7a7a7a" stroke-width="1"/>
<line x1="398.5" y1="123.4" x2="402.5" y2="123.4" stroke="#7a7a7a" stroke-width="1"/>
<line x1="630.8" y1="123.4" x2="626.8" y2="123.4" stroke="#7a7a7a" stroke-width="1"/>
<line x1="525.6" y1="239.3" x2="525.6" y2="237.1" stroke="#7a7a7a" stroke-width="1"/>
<line x1="525.6" y1="7.3" x2="525.6" y2="9.5" stroke="#7a7a7a" stroke-width="1"/>
<line x1="398.5" y1="112.3" x2="400.7" y2="112.3" stroke="#7a7a7a" stroke-width="1"/>
<line x1="630.8" y1="112.3" x2="628.6" y2="112.3" stroke="#7a7a7a" stroke-width="1"/>
<line x1="536.8" y1="239.3" x2="536.8" y2="237.1" stroke="#7a7a7a" stroke-width="1"/>
<line x1="536.8" y1="7.3" x2="536.8" y2="9.5" stroke="#7a7a7a" stroke-width="1"/>
<line x1="398.5" y1="101.2" x2="400.7" y2="101.2" stroke="#7a7a7a" stroke-width="1"/>
<line x1="630.8" y1="101.2" x2="628.6" y2="101.2" stroke="#7a7a7a" stroke-width="1"/>
<line x1="548" y1="239.3" x2="548" y2="237.1" stroke="#7a7a7a" stroke-width="1"/>
<line x1="548" y1="7.3" x2="548" y2="9.5" stroke="#7a7a7a" stroke-width="1"/>
<line x1="398.5" y1="90" x2="400.7" y2="90" stroke="#7a7a7a" stroke-width="1"/>
<line x1="630.8" y1="90" x2="628.6" y2="90" stroke="#7a7a7a" stroke-width="1"/>
<line x1="559.1" y1="239.3" x2="559.1" y2="237.1" stroke="#7a7a7a" stroke-width="1"/>
<line x1="559.1" y1="7.3" x2="559.1" y2="9.5" stroke="#7a7a7a" stroke-width="1"/>
<line x1="398.5" y1="78.9" x2="400.7" y2="78.9" stroke="#7a7a7a" stroke-width="1"/>
<line x1="630.8" y1="78.9" x2="628.6" y2="78.9" stroke="#7a7a7a" stroke-width="1"/>
<line x1="570.2" y1="239.3" x2="570.2" y2="235.3" stroke="#7a7a7a" stroke-width="1"/>
<line x1="570.2" y1="7.3" x2="570.2" y2="11.3" stroke="#7a7a7a" stroke-width="1"/>
<line x1="398.5" y1="67.8" x2="402.5" y2="67.8" stroke="#7a7a7a" stroke-width="1"/>
<line x1="630.8" y1="67.8" x2="626.8" y2="67.8" stroke="#7a7a7a" stroke-width="1"/>
<line x1="581.4" y1="239.3" x2="581.4" y2="237.1" stroke="#7a7a7a" stroke-width="1"/>
<line x1="581.4" y1="7.3" x2="581.4" y2="9.5" stroke="#7a7a7a" stroke-width="1"/>
<line x1="398.5" y1="56.7" x2="400.7" y2="56.7" stroke="#7a7a7a" stroke-width="1"/>
<line x1="630.8" y1="56.7" x2="628.6" y2="56.7" stroke="#7a7a7a" stroke-width="1"/>
<line x1="592.5" y1="239.3" x2="592.5" y2="237.1" stroke="#7a7a7a" stroke-width="1"/>
<line x1="592.5" y1="7.3" x2="592.5" y2="9.5" stroke="#7a7a7a" stroke-width="1"/>
<line x1="398.5" y1="45.6" x2="400.7" y2="45.6" stroke="#7a7a7a" stroke-width="1"/>
<line x1="630.8" y1="45.6" x2="628.6" y2="45.6" stroke="#7a7a7a" stroke-width="1"/>
<line x1="603.7" y1="239.3" x2="603.7" y2="237.1" stroke="#7a7a7a" stroke-width="1"/>
<line x1="603.7" y1="7.3" x2="603.7" y2="9.5" stroke="#7a7a7a" stroke-width="1"/>
<line x1="398.5" y1="34.4" x2="400.7" y2="34.4" stroke="#7a7a7a" stroke-width="1"/>
<line x1="630.8" y1="34.4" x2="628.6" y2="34.4" stroke="#7a7a7a" stroke-width="1"/>
<line x1="614.9" y1="239.3" x2="614.9" y2="237.1" stroke="#7a7a7a" stroke-width="1"/>
<line x1="614.9" y1="7.3" x2="614.9" y2="9.5" stroke="#7a7a7a" stroke-width="1"/>
<line x1="398.5" y1="23.3" x2="400.7" y2="23.3" stroke="#7a7a7a" stroke-width="1"/>
<line x1="630.8" y1="23.3" x2="628.6" y2="23.3" stroke="#7a7a7a" stroke-width="1"/>
<line x1="626" y1="239.3" x2="626" y2="235.3" stroke="#7a7a7a" stroke-width="1"/>
<line x1="626" y1="7.3" x2="626" y2="11.3" stroke="#7a7a7a" stroke-width="1"/>
<line x1="398.5" y1="12.2" x2="402.5" y2="12.2" stroke="#7a7a7a" stroke-width="1"/>
<line x1="630.8" y1="12.2" x2="626.8" y2="12.2" stroke="#7a7a7a" stroke-width="1"/>
<rect x="403" y="12.2" width="78.2" height="222.4" fill="#781c86"/>
<rect x="480.9" y="12.2" width="11.3" height="222.4" fill="#4448c8"/>
<rect x="491.9" y="12.2" width="6.8" height="222.4" fill="#508ec3"/>
<rect x="498.4" y="12.2" width="6.2" height="222.4" fill="#69aa8c"/>
<rect x="504.3" y="12.2" width="4.5" height="222.4" fill="#a5be55"/>
<rect x="508.5" y="12.2" width="5.2" height="222.4" fill="#d7b43c"/>
<rect x="513.4" y="12.2" width="6" height="222.4" fill="#e8872f"/>
<rect x="519.1" y="12.2" width="17.2" height="222.4" fill="#da2420"/>
<rect x="536" y="12.2" width="5.6" height="222.4" fill="#e8872f"/>
<rect x="541.3" y="12.2" width="5.6" height="222.4" fill="#d7b43c"/>
<rect x="546.6" y="12.2" width="4.3" height="222.4" fill="#a5be55"/>
<rect x="550.6" y="12.2" width="5.9" height="222.4" fill="#69aa8c"/>
<rect x="556.2" y="12.2" width="7" height="222.4" fill="#508ec3"/>
<rect x="562.9" y="12.2" width="11.8" height="222.4" fill="#4448c8"/>
<rect x="574.4" y="12.2" width="51.9" height="222.4" fill="#781c86"/>
<line x1="480.9" y1="12.2" x2="480.9" y2="234.6" stroke="#000" stroke-opacity="0.35" stroke-width="0.8"/>
<line x1="491.9" y1="12.2" x2="491.9" y2="234.6" stroke="#000" stroke-opacity="0.35" stroke-width="0.8"/>
<line x1="498.4" y1="12.2" x2="498.4" y2="234.6" stroke="#000" stroke-opacity="0.35" stroke-width="0.8"/>
<line x1="504.3" y1="12.2" x2="504.3" y2="234.6" stroke="#000" stroke-opacity="0.35" stroke-width="0.8"/>
<line x1="508.5" y1="12.2" x2="508.5" y2="234.6" stroke="#000" stroke-opacity="0.35" stroke-width="0.8"/>
<line x1="513.4" y1="12.2" x2="513.4" y2="234.6" stroke="#000" stroke-opacity="0.35" stroke-width="0.8"/>
<line x1="519.1" y1="12.2" x2="519.1" y2="234.6" stroke="#000" stroke-opacity="0.35" stroke-width="0.8"/>
<line x1="536" y1="12.2" x2="536" y2="234.6" stroke="#000" stroke-opacity="0.35" stroke-width="0.8"/>
<line x1="541.3" y1="12.2" x2="541.3" y2="234.6" stroke="#000" stroke-opacity="0.35" stroke-width="0.8"/>
<line x1="546.6" y1="12.2" x2="546.6" y2="234.6" stroke="#000" stroke-opacity="0.35" stroke-width="0.8"/>
<line x1="550.6" y1="12.2" x2="550.6" y2="234.6" stroke="#000" stroke-opacity="0.35" stroke-width="0.8"/>
<line x1="556.2" y1="12.2" x2="556.2" y2="234.6" stroke="#000" stroke-opacity="0.35" stroke-width="0.8"/>
<line x1="562.9" y1="12.2" x2="562.9" y2="234.6" stroke="#000" stroke-opacity="0.35" stroke-width="0.8"/>
<line x1="574.4" y1="12.2" x2="574.4" y2="234.6" stroke="#000" stroke-opacity="0.35" stroke-width="0.8"/>
<g transform="translate(395.5,19.1) scale(0.92,1)"><text x="-10.9" font-size="19.64">2</text></g>
<g transform="translate(626,257.8) scale(0.92,1)"><text x="-5.5" font-size="19.64">2</text></g>
<g transform="translate(395.5,74.7) scale(0.92,1)"><path d="M0.405 0L0.405-0.716L0.29-0.716C0.262-0.64 0.175-0.578 0.045-0.548L0.045-0.43C0.13-0.452 0.2-0.488 0.245-0.525L0.245 0Z" transform="translate(-10.9,0) scale(19.64)"/></g>
<g transform="translate(570.2,257.8) scale(0.92,1)"><path d="M0.405 0L0.405-0.716L0.29-0.716C0.262-0.64 0.175-0.578 0.045-0.548L0.045-0.43C0.13-0.452 0.2-0.488 0.245-0.525L0.245 0Z" transform="translate(-5.5,0) scale(19.64)"/></g>
<g transform="translate(395.5,130.3) scale(0.92,1)"><text x="-10.9" font-size="19.64">0</text></g>
<g transform="translate(514.5,257.8) scale(0.92,1)"><text x="-5.5" font-size="19.64">0</text></g>
<g transform="translate(395.5,185.9) scale(0.92,1)"><text x="-22.4" font-size="19.64">−</text><path d="M0.405 0L0.405-0.716L0.29-0.716C0.262-0.64 0.175-0.578 0.045-0.548L0.045-0.43C0.13-0.452 0.2-0.488 0.245-0.525L0.245 0Z" transform="translate(-10.9,0) scale(19.64)"/></g>
<g transform="translate(458.8,257.8) scale(0.92,1)"><text x="-11.2" font-size="19.64">−</text><path d="M0.405 0L0.405-0.716L0.29-0.716C0.262-0.64 0.175-0.578 0.045-0.548L0.045-0.43C0.13-0.452 0.2-0.488 0.245-0.525L0.245 0Z" transform="translate(0.3,0) scale(19.64)"/></g>
<g transform="translate(395.5,241.5) scale(0.92,1)"><text x="-22.4" font-size="19.64">−2</text></g>
<g transform="translate(403,257.8) scale(0.92,1)"><text x="-11.2" font-size="19.64">−2</text></g>
<rect x="641.4" y="180" width="9.5" height="18.1" fill="#781c86"/>
<rect x="641.4" y="162.1" width="9.5" height="18.1" fill="#4448c8"/>
<rect x="641.4" y="144.2" width="9.5" height="18.1" fill="#508ec3"/>
<rect x="641.4" y="126.4" width="9.5" height="18.1" fill="#69aa8c"/>
<rect x="641.4" y="108.6" width="9.5" height="18.1" fill="#a5be55"/>
<rect x="641.4" y="90.7" width="9.5" height="18.1" fill="#d7b43c"/>
<rect x="641.4" y="72.8" width="9.5" height="18.1" fill="#e8872f"/>
<rect x="641.4" y="55" width="9.5" height="18.1" fill="#da2420"/>
<line x1="641.4" y1="180" x2="650.9" y2="180" stroke="#000" stroke-opacity="0.3" stroke-width="0.7"/>
<line x1="641.4" y1="162.1" x2="650.9" y2="162.1" stroke="#000" stroke-opacity="0.3" stroke-width="0.7"/>
<line x1="641.4" y1="144.2" x2="650.9" y2="144.2" stroke="#000" stroke-opacity="0.3" stroke-width="0.7"/>
<line x1="641.4" y1="126.4" x2="650.9" y2="126.4" stroke="#000" stroke-opacity="0.3" stroke-width="0.7"/>
<line x1="641.4" y1="108.6" x2="650.9" y2="108.6" stroke="#000" stroke-opacity="0.3" stroke-width="0.7"/>
<line x1="641.4" y1="90.7" x2="650.9" y2="90.7" stroke="#000" stroke-opacity="0.3" stroke-width="0.7"/>
<line x1="641.4" y1="72.8" x2="650.9" y2="72.8" stroke="#000" stroke-opacity="0.3" stroke-width="0.7"/>
<rect x="641.4" y="55" width="9.5" height="142.8" fill="none" stroke="#000" stroke-opacity="0.3" stroke-width="0.7"/>
<line x1="650.9" y1="72.8" x2="653.7" y2="72.8" stroke="#555" stroke-width="1"/>
<g transform="translate(656,79.1) scale(0.92,1)"><text x="0" font-size="18.9">3.5</text></g>
<line x1="650.9" y1="108.6" x2="653.7" y2="108.6" stroke="#555" stroke-width="1"/>
<g transform="translate(656,114.8) scale(0.92,1)"><text x="0" font-size="18.9">2.5</text></g>
<line x1="650.9" y1="144.2" x2="653.7" y2="144.2" stroke="#555" stroke-width="1"/>
<g transform="translate(656,150.5) scale(0.92,1)"><path d="M0.405 0L0.405-0.716L0.29-0.716C0.262-0.64 0.175-0.578 0.045-0.548L0.045-0.43C0.13-0.452 0.2-0.488 0.245-0.525L0.245 0Z" transform="translate(0,0) scale(18.9)"/><text x="10.5" font-size="18.9">.5</text></g>
<line x1="650.9" y1="180" x2="653.7" y2="180" stroke="#555" stroke-width="1"/>
<g transform="translate(656,186.2) scale(0.92,1)"><text x="0" font-size="18.9">0.5</text></g>
<rect x="23.5" y="313.7" width="232.4" height="231.8" stroke="#a0a0a0" stroke-width="1" fill="none"/>
<line x1="28" y1="545.5" x2="28" y2="541.5" stroke="#7a7a7a" stroke-width="1"/>
<line x1="28" y1="313.7" x2="28" y2="317.7" stroke="#7a7a7a" stroke-width="1"/>
<line x1="23.5" y1="540.6" x2="27.5" y2="540.6" stroke="#7a7a7a" stroke-width="1"/>
<line x1="255.9" y1="540.6" x2="251.9" y2="540.6" stroke="#7a7a7a" stroke-width="1"/>
<line x1="39.1" y1="545.5" x2="39.1" y2="543.3" stroke="#7a7a7a" stroke-width="1"/>
<line x1="39.1" y1="313.7" x2="39.1" y2="315.9" stroke="#7a7a7a" stroke-width="1"/>
<line x1="23.5" y1="529.5" x2="25.7" y2="529.5" stroke="#7a7a7a" stroke-width="1"/>
<line x1="255.9" y1="529.5" x2="253.7" y2="529.5" stroke="#7a7a7a" stroke-width="1"/>
<line x1="50.3" y1="545.5" x2="50.3" y2="543.3" stroke="#7a7a7a" stroke-width="1"/>
<line x1="50.3" y1="313.7" x2="50.3" y2="315.9" stroke="#7a7a7a" stroke-width="1"/>
<line x1="23.5" y1="518.4" x2="25.7" y2="518.4" stroke="#7a7a7a" stroke-width="1"/>
<line x1="255.9" y1="518.4" x2="253.7" y2="518.4" stroke="#7a7a7a" stroke-width="1"/>
<line x1="61.4" y1="545.5" x2="61.4" y2="543.3" stroke="#7a7a7a" stroke-width="1"/>
<line x1="61.4" y1="313.7" x2="61.4" y2="315.9" stroke="#7a7a7a" stroke-width="1"/>
<line x1="23.5" y1="507.3" x2="25.7" y2="507.3" stroke="#7a7a7a" stroke-width="1"/>
<line x1="255.9" y1="507.3" x2="253.7" y2="507.3" stroke="#7a7a7a" stroke-width="1"/>
<line x1="72.5" y1="545.5" x2="72.5" y2="543.3" stroke="#7a7a7a" stroke-width="1"/>
<line x1="72.5" y1="313.7" x2="72.5" y2="315.9" stroke="#7a7a7a" stroke-width="1"/>
<line x1="23.5" y1="496.2" x2="25.7" y2="496.2" stroke="#7a7a7a" stroke-width="1"/>
<line x1="255.9" y1="496.2" x2="253.7" y2="496.2" stroke="#7a7a7a" stroke-width="1"/>
<line x1="83.7" y1="545.5" x2="83.7" y2="541.5" stroke="#7a7a7a" stroke-width="1"/>
<line x1="83.7" y1="313.7" x2="83.7" y2="317.7" stroke="#7a7a7a" stroke-width="1"/>
<line x1="23.5" y1="485.1" x2="27.5" y2="485.1" stroke="#7a7a7a" stroke-width="1"/>
<line x1="255.9" y1="485.1" x2="251.9" y2="485.1" stroke="#7a7a7a" stroke-width="1"/>
<line x1="94.8" y1="545.5" x2="94.8" y2="543.3" stroke="#7a7a7a" stroke-width="1"/>
<line x1="94.8" y1="313.7" x2="94.8" y2="315.9" stroke="#7a7a7a" stroke-width="1"/>
<line x1="23.5" y1="474" x2="25.7" y2="474" stroke="#7a7a7a" stroke-width="1"/>
<line x1="255.9" y1="474" x2="253.7" y2="474" stroke="#7a7a7a" stroke-width="1"/>
<line x1="106" y1="545.5" x2="106" y2="543.3" stroke="#7a7a7a" stroke-width="1"/>
<line x1="106" y1="313.7" x2="106" y2="315.9" stroke="#7a7a7a" stroke-width="1"/>
<line x1="23.5" y1="462.9" x2="25.7" y2="462.9" stroke="#7a7a7a" stroke-width="1"/>
<line x1="255.9" y1="462.9" x2="253.7" y2="462.9" stroke="#7a7a7a" stroke-width="1"/>
<line x1="117.1" y1="545.5" x2="117.1" y2="543.3" stroke="#7a7a7a" stroke-width="1"/>
<line x1="117.1" y1="313.7" x2="117.1" y2="315.9" stroke="#7a7a7a" stroke-width="1"/>
<line x1="23.5" y1="451.8" x2="25.7" y2="451.8" stroke="#7a7a7a" stroke-width="1"/>
<line x1="255.9" y1="451.8" x2="253.7" y2="451.8" stroke="#7a7a7a" stroke-width="1"/>
<line x1="128.2" y1="545.5" x2="128.2" y2="543.3" stroke="#7a7a7a" stroke-width="1"/>
<line x1="128.2" y1="313.7" x2="128.2" y2="315.9" stroke="#7a7a7a" stroke-width="1"/>
<line x1="23.5" y1="440.7" x2="25.7" y2="440.7" stroke="#7a7a7a" stroke-width="1"/>
<line x1="255.9" y1="440.7" x2="253.7" y2="440.7" stroke="#7a7a7a" stroke-width="1"/>
<line x1="139.4" y1="545.5" x2="139.4" y2="541.5" stroke="#7a7a7a" stroke-width="1"/>
<line x1="139.4" y1="313.7" x2="139.4" y2="317.7" stroke="#7a7a7a" stroke-width="1"/>
<line x1="23.5" y1="429.6" x2="27.5" y2="429.6" stroke="#7a7a7a" stroke-width="1"/>
<line x1="255.9" y1="429.6" x2="251.9" y2="429.6" stroke="#7a7a7a" stroke-width="1"/>
<line x1="150.5" y1="545.5" x2="150.5" y2="543.3" stroke="#7a7a7a" stroke-width="1"/>
<line x1="150.5" y1="313.7" x2="150.5" y2="315.9" stroke="#7a7a7a" stroke-width="1"/>
<line x1="23.5" y1="418.4" x2="25.7" y2="418.4" stroke="#7a7a7a" stroke-width="1"/>
<line x1="255.9" y1="418.4" x2="253.7" y2="418.4" stroke="#7a7a7a" stroke-width="1"/>
<line x1="161.7" y1="545.5" x2="161.7" y2="543.3" stroke="#7a7a7a" stroke-width="1"/>
<line x1="161.7" y1="313.7" x2="161.7" y2="315.9" stroke="#7a7a7a" stroke-width="1"/>
<line x1="23.5" y1="407.3" x2="25.7" y2="407.3" stroke="#7a7a7a" stroke-width="1"/>
<line x1="255.9" y1="407.3" x2="253.7" y2="407.3" stroke="#7a7a7a" stroke-width="1"/>
<line x1="172.8" y1="545.5" x2="172.8" y2="543.3" stroke="#7a7a7a" stroke-width="1"/>
<line x1="172.8" y1="313.7" x2="172.8" y2="315.9" stroke="#7a7a7a" stroke-width="1"/>
<line x1="23.5" y1="396.2" x2="25.7" y2="396.2" stroke="#7a7a7a" stroke-width="1"/>
<line x1="255.9" y1="396.2" x2="253.7" y2="396.2" stroke="#7a7a7a" stroke-width="1"/>
<line x1="183.9" y1="545.5" x2="183.9" y2="543.3" stroke="#7a7a7a" stroke-width="1"/>
<line x1="183.9" y1="313.7" x2="183.9" y2="315.9" stroke="#7a7a7a" stroke-width="1"/>
<line x1="23.5" y1="385.1" x2="25.7" y2="385.1" stroke="#7a7a7a" stroke-width="1"/>
<line x1="255.9" y1="385.1" x2="253.7" y2="385.1" stroke="#7a7a7a" stroke-width="1"/>
<line x1="195.1" y1="545.5" x2="195.1" y2="541.5" stroke="#7a7a7a" stroke-width="1"/>
<line x1="195.1" y1="313.7" x2="195.1" y2="317.7" stroke="#7a7a7a" stroke-width="1"/>
<line x1="23.5" y1="374" x2="27.5" y2="374" stroke="#7a7a7a" stroke-width="1"/>
<line x1="255.9" y1="374" x2="251.9" y2="374" stroke="#7a7a7a" stroke-width="1"/>
<line x1="206.2" y1="545.5" x2="206.2" y2="543.3" stroke="#7a7a7a" stroke-width="1"/>
<line x1="206.2" y1="313.7" x2="206.2" y2="315.9" stroke="#7a7a7a" stroke-width="1"/>
<line x1="23.5" y1="362.9" x2="25.7" y2="362.9" stroke="#7a7a7a" stroke-width="1"/>
<line x1="255.9" y1="362.9" x2="253.7" y2="362.9" stroke="#7a7a7a" stroke-width="1"/>
<line x1="217.3" y1="545.5" x2="217.3" y2="543.3" stroke="#7a7a7a" stroke-width="1"/>
<line x1="217.3" y1="313.7" x2="217.3" y2="315.9" stroke="#7a7a7a" stroke-width="1"/>
<line x1="23.5" y1="351.8" x2="25.7" y2="351.8" stroke="#7a7a7a" stroke-width="1"/>
<line x1="255.9" y1="351.8" x2="253.7" y2="351.8" stroke="#7a7a7a" stroke-width="1"/>
<line x1="228.5" y1="545.5" x2="228.5" y2="543.3" stroke="#7a7a7a" stroke-width="1"/>
<line x1="228.5" y1="313.7" x2="228.5" y2="315.9" stroke="#7a7a7a" stroke-width="1"/>
<line x1="23.5" y1="340.7" x2="25.7" y2="340.7" stroke="#7a7a7a" stroke-width="1"/>
<line x1="255.9" y1="340.7" x2="253.7" y2="340.7" stroke="#7a7a7a" stroke-width="1"/>
<line x1="239.6" y1="545.5" x2="239.6" y2="543.3" stroke="#7a7a7a" stroke-width="1"/>
<line x1="239.6" y1="313.7" x2="239.6" y2="315.9" stroke="#7a7a7a" stroke-width="1"/>
<line x1="23.5" y1="329.6" x2="25.7" y2="329.6" stroke="#7a7a7a" stroke-width="1"/>
<line x1="255.9" y1="329.6" x2="253.7" y2="329.6" stroke="#7a7a7a" stroke-width="1"/>
<line x1="250.8" y1="545.5" x2="250.8" y2="541.5" stroke="#7a7a7a" stroke-width="1"/>
<line x1="250.8" y1="313.7" x2="250.8" y2="317.7" stroke="#7a7a7a" stroke-width="1"/>
<line x1="23.5" y1="318.5" x2="27.5" y2="318.5" stroke="#7a7a7a" stroke-width="1"/>
<line x1="255.9" y1="318.5" x2="251.9" y2="318.5" stroke="#7a7a7a" stroke-width="1"/>
<defs><linearGradient id="dg" x1="0" y1="0" x2="1" y2="0"><stop offset="0.0000" stop-color="#641b9b"/><stop offset="0.0125" stop-color="#651b9a"/><stop offset="0.0250" stop-color="#661b99"/><stop offset="0.0375" stop-color="#671b98"/><stop offset="0.0500" stop-color="#681b97"/><stop offset="0.0625" stop-color="#6a1b96"/><stop offset="0.0750" stop-color="#6b1c94"/><stop offset="0.0875" stop-color="#6c1c93"/><stop offset="0.1000" stop-color="#6e1c91"/><stop offset="0.1125" stop-color="#6f1c8f"/><stop offset="0.1250" stop-color="#711c8e"/><stop offset="0.1375" stop-color="#721c8c"/><stop offset="0.1500" stop-color="#741c8b"/><stop offset="0.1625" stop-color="#751c89"/><stop offset="0.1750" stop-color="#761c88"/><stop offset="0.1875" stop-color="#771c87"/><stop offset="0.2000" stop-color="#781c87"/><stop offset="0.2125" stop-color="#781c86"/><stop offset="0.2250" stop-color="#781c86"/><stop offset="0.2375" stop-color="#781c87"/><stop offset="0.2500" stop-color="#771c88"/><stop offset="0.2625" stop-color="#751c89"/><stop offset="0.2750" stop-color="#721c8c"/><stop offset="0.2875" stop-color="#6f1c90"/><stop offset="0.3000" stop-color="#6a1c95"/><stop offset="0.3125" stop-color="#641b9b"/><stop offset="0.3250" stop-color="#5d1ba3"/><stop offset="0.3375" stop-color="#551dac"/><stop offset="0.3500" stop-color="#4b1fb8"/><stop offset="0.3625" stop-color="#4325c2"/><stop offset="0.3750" stop-color="#3c30ca"/><stop offset="0.3875" stop-color="#3c44cd"/><stop offset="0.4000" stop-color="#3e5dcc"/><stop offset="0.4125" stop-color="#4379c7"/><stop offset="0.4250" stop-color="#4d90bc"/><stop offset="0.4375" stop-color="#5b9f9e"/><stop offset="0.4500" stop-color="#71ac7d"/><stop offset="0.4625" stop-color="#8eb65c"/><stop offset="0.4750" stop-color="#b2b947"/><stop offset="0.4875" stop-color="#d1b039"/><stop offset="0.5000" stop-color="#e09533"/><stop offset="0.5125" stop-color="#e5732d"/><stop offset="0.5250" stop-color="#e34f29"/><stop offset="0.5375" stop-color="#de3825"/><stop offset="0.5500" stop-color="#db2b23"/><stop offset="0.5625" stop-color="#db2923"/><stop offset="0.5750" stop-color="#dd3124"/><stop offset="0.5875" stop-color="#e14427"/><stop offset="0.6000" stop-color="#e5652b"/><stop offset="0.6125" stop-color="#e38830"/><stop offset="0.6250" stop-color="#d9a736"/><stop offset="0.6375" stop-color="#c0b740"/><stop offset="0.6500" stop-color="#9cb853"/><stop offset="0.6625" stop-color="#7bb06f"/><stop offset="0.6750" stop-color="#62a691"/><stop offset="0.6875" stop-color="#5396b0"/><stop offset="0.7000" stop-color="#4782c3"/><stop offset="0.7125" stop-color="#4068ca"/><stop offset="0.7250" stop-color="#3c4dce"/><stop offset="0.7375" stop-color="#3b37cc"/><stop offset="0.7500" stop-color="#4029c5"/><stop offset="0.7625" stop-color="#4720bd"/><stop offset="0.7750" stop-color="#511db1"/><stop offset="0.7875" stop-color="#5a1ca7"/><stop offset="0.8000" stop-color="#611b9e"/><stop offset="0.8125" stop-color="#681b97"/><stop offset="0.8250" stop-color="#6d1c92"/><stop offset="0.8375" stop-color="#711c8d"/><stop offset="0.8500" stop-color="#741c8a"/><stop offset="0.8625" stop-color="#761c88"/><stop offset="0.8750" stop-color="#771c87"/><stop offset="0.8875" stop-color="#781c86"/><stop offset="0.9000" stop-color="#781c86"/><stop offset="0.9125" stop-color="#781c86"/><stop offset="0.9250" stop-color="#771c87"/><stop offset="0.9375" stop-color="#761c88"/><stop offset="0.9500" stop-color="#751c89"/><stop offset="0.9625" stop-color="#741c8a"/><stop offset="0.9750" stop-color="#731c8c"/><stop offset="0.9875" stop-color="#711c8d"/><stop offset="1.0000" stop-color="#701c8f"/></linearGradient>
<linearGradient id="lg" x1="0" y1="0" x2="0" y2="1"><stop offset="0.0000" stop-color="#da2422"/><stop offset="0.0250" stop-color="#dd3124"/><stop offset="0.0500" stop-color="#e03e26"/><stop offset="0.0750" stop-color="#e24b28"/><stop offset="0.1000" stop-color="#e45b2a"/><stop offset="0.1250" stop-color="#e66b2c"/><stop offset="0.1500" stop-color="#e5782e"/><stop offset="0.1750" stop-color="#e38530"/><stop offset="0.2000" stop-color="#e29132"/><stop offset="0.2250" stop-color="#de9b34"/><stop offset="0.2500" stop-color="#daa436"/><stop offset="0.2750" stop-color="#d5ad38"/><stop offset="0.3000" stop-color="#cdb23b"/><stop offset="0.3250" stop-color="#c5b63d"/><stop offset="0.3500" stop-color="#bab843"/><stop offset="0.3750" stop-color="#b0b948"/><stop offset="0.4000" stop-color="#a5ba4e"/><stop offset="0.4250" stop-color="#9ab855"/><stop offset="0.4500" stop-color="#8eb65c"/><stop offset="0.4750" stop-color="#83b364"/><stop offset="0.5000" stop-color="#7ab070"/><stop offset="0.5250" stop-color="#72ac7b"/><stop offset="0.5500" stop-color="#69a987"/><stop offset="0.5750" stop-color="#61a592"/><stop offset="0.6000" stop-color="#5b9f9e"/><stop offset="0.6250" stop-color="#5699a9"/><stop offset="0.6500" stop-color="#5094b5"/><stop offset="0.6750" stop-color="#4b8dbf"/><stop offset="0.7000" stop-color="#4782c3"/><stop offset="0.7250" stop-color="#4378c7"/><stop offset="0.7500" stop-color="#406bca"/><stop offset="0.7750" stop-color="#3e5ccc"/><stop offset="0.8000" stop-color="#3c4ece"/><stop offset="0.8250" stop-color="#3c40cc"/><stop offset="0.8500" stop-color="#3b32cb"/><stop offset="0.8750" stop-color="#4029c4"/><stop offset="0.9000" stop-color="#4620be"/><stop offset="0.9250" stop-color="#511db1"/><stop offset="0.9500" stop-color="#5c1ba4"/><stop offset="0.9750" stop-color="#6a1c95"/><stop offset="1.0000" stop-color="#781c86"/></linearGradient></defs>
<rect x="28" y="318.5" width="222.8" height="222.1" fill="url(#dg)"/>
<g transform="translate(21,325.1) scale(0.92,1)"><text x="-10.5" font-size="18.9">2</text></g>
<g transform="translate(250.8,564.4) scale(0.92,1)"><text x="-5.3" font-size="18.9">2</text></g>
<g transform="translate(21,380.6) scale(0.92,1)"><path d="M0.405 0L0.405-0.716L0.29-0.716C0.262-0.64 0.175-0.578 0.045-0.548L0.045-0.43C0.13-0.452 0.2-0.488 0.245-0.525L0.245 0Z" transform="translate(-10.5,0) scale(18.9)"/></g>
<g transform="translate(195.1,564.4) scale(0.92,1)"><path d="M0.405 0L0.405-0.716L0.29-0.716C0.262-0.64 0.175-0.578 0.045-0.548L0.045-0.43C0.13-0.452 0.2-0.488 0.245-0.525L0.245 0Z" transform="translate(-5.3,0) scale(18.9)"/></g>
<g transform="translate(21,436.2) scale(0.92,1)"><text x="-10.5" font-size="18.9">0</text></g>
<g transform="translate(139.4,564.4) scale(0.92,1)"><text x="-5.3" font-size="18.9">0</text></g>
<g transform="translate(21,491.7) scale(0.92,1)"><text x="-21.6" font-size="18.9">−</text><path d="M0.405 0L0.405-0.716L0.29-0.716C0.262-0.64 0.175-0.578 0.045-0.548L0.045-0.43C0.13-0.452 0.2-0.488 0.245-0.525L0.245 0Z" transform="translate(-10.5,0) scale(18.9)"/></g>
<g transform="translate(83.7,564.4) scale(0.92,1)"><text x="-10.8" font-size="18.9">−</text><path d="M0.405 0L0.405-0.716L0.29-0.716C0.262-0.64 0.175-0.578 0.045-0.548L0.045-0.43C0.13-0.452 0.2-0.488 0.245-0.525L0.245 0Z" transform="translate(0.3,0) scale(18.9)"/></g>
<g transform="translate(21,547.2) scale(0.92,1)"><text x="-21.6" font-size="18.9">−2</text></g>
<g transform="translate(28,564.4) scale(0.92,1)"><text x="-10.8" font-size="18.9">−2</text></g>
<rect x="266.9" y="361.9" width="9.6" height="143.3" fill="url(#lg)"/>
<line x1="276.5" y1="364.7" x2="278.1" y2="364.7" stroke="#9a9a9a" stroke-width="0.8"/>
<line x1="276.5" y1="368.5" x2="278.1" y2="368.5" stroke="#9a9a9a" stroke-width="0.8"/>
<line x1="276.5" y1="372.4" x2="278.1" y2="372.4" stroke="#9a9a9a" stroke-width="0.8"/>
<line x1="276.5" y1="376.3" x2="279.3" y2="376.3" stroke="#9a9a9a" stroke-width="0.8"/>
<line x1="276.5" y1="380.2" x2="278.1" y2="380.2" stroke="#9a9a9a" stroke-width="0.8"/>
<line x1="276.5" y1="384.1" x2="278.1" y2="384.1" stroke="#9a9a9a" stroke-width="0.8"/>
<line x1="276.5" y1="387.9" x2="278.1" y2="387.9" stroke="#9a9a9a" stroke-width="0.8"/>
<line x1="276.5" y1="391.8" x2="278.1" y2="391.8" stroke="#9a9a9a" stroke-width="0.8"/>
<line x1="276.5" y1="395.7" x2="279.3" y2="395.7" stroke="#9a9a9a" stroke-width="0.8"/>
<line x1="276.5" y1="399.6" x2="278.1" y2="399.6" stroke="#9a9a9a" stroke-width="0.8"/>
<line x1="276.5" y1="403.5" x2="278.1" y2="403.5" stroke="#9a9a9a" stroke-width="0.8"/>
<line x1="276.5" y1="407.3" x2="278.1" y2="407.3" stroke="#9a9a9a" stroke-width="0.8"/>
<line x1="276.5" y1="411.2" x2="278.1" y2="411.2" stroke="#9a9a9a" stroke-width="0.8"/>
<line x1="276.5" y1="415.1" x2="279.3" y2="415.1" stroke="#9a9a9a" stroke-width="0.8"/>
<line x1="276.5" y1="419" x2="278.1" y2="419" stroke="#9a9a9a" stroke-width="0.8"/>
<line x1="276.5" y1="422.9" x2="278.1" y2="422.9" stroke="#9a9a9a" stroke-width="0.8"/>
<line x1="276.5" y1="426.7" x2="278.1" y2="426.7" stroke="#9a9a9a" stroke-width="0.8"/>
<line x1="276.5" y1="430.6" x2="278.1" y2="430.6" stroke="#9a9a9a" stroke-width="0.8"/>
<line x1="276.5" y1="434.5" x2="279.3" y2="434.5" stroke="#9a9a9a" stroke-width="0.8"/>
<line x1="276.5" y1="438.4" x2="278.1" y2="438.4" stroke="#9a9a9a" stroke-width="0.8"/>
<line x1="276.5" y1="442.3" x2="278.1" y2="442.3" stroke="#9a9a9a" stroke-width="0.8"/>
<line x1="276.5" y1="446.1" x2="278.1" y2="446.1" stroke="#9a9a9a" stroke-width="0.8"/>
<line x1="276.5" y1="450" x2="278.1" y2="450" stroke="#9a9a9a" stroke-width="0.8"/>
<line x1="276.5" y1="453.9" x2="279.3" y2="453.9" stroke="#9a9a9a" stroke-width="0.8"/>
<line x1="276.5" y1="457.8" x2="278.1" y2="457.8" stroke="#9a9a9a" stroke-width="0.8"/>
<line x1="276.5" y1="461.7" x2="278.1" y2="461.7" stroke="#9a9a9a" stroke-width="0.8"/>
<line x1="276.5" y1="465.5" x2="278.1" y2="465.5" stroke="#9a9a9a" stroke-width="0.8"/>
<line x1="276.5" y1="469.4" x2="278.1" y2="469.4" stroke="#9a9a9a" stroke-width="0.8"/>
<line x1="276.5" y1="473.3" x2="279.3" y2="473.3" stroke="#9a9a9a" stroke-width="0.8"/>
<line x1="276.5" y1="477.2" x2="278.1" y2="477.2" stroke="#9a9a9a" stroke-width="0.8"/>
<line x1="276.5" y1="481.1" x2="278.1" y2="481.1" stroke="#9a9a9a" stroke-width="0.8"/>
<line x1="276.5" y1="484.9" x2="278.1" y2="484.9" stroke="#9a9a9a" stroke-width="0.8"/>
<line x1="276.5" y1="488.8" x2="278.1" y2="488.8" stroke="#9a9a9a" stroke-width="0.8"/>
<line x1="276.5" y1="492.7" x2="279.3" y2="492.7" stroke="#9a9a9a" stroke-width="0.8"/>
<line x1="276.5" y1="496.6" x2="278.1" y2="496.6" stroke="#9a9a9a" stroke-width="0.8"/>
<line x1="276.5" y1="500.5" x2="278.1" y2="500.5" stroke="#9a9a9a" stroke-width="0.8"/>
<line x1="276.5" y1="504.3" x2="278.1" y2="504.3" stroke="#9a9a9a" stroke-width="0.8"/>
<g transform="translate(281.8,381.8) scale(0.92,1)"><text x="0" font-size="18.59">3.5</text></g>
<g transform="translate(281.8,401.2) scale(0.92,1)"><text x="0" font-size="18.59">3.0</text></g>
<g transform="translate(281.8,420.6) scale(0.92,1)"><text x="0" font-size="18.59">2.5</text></g>
<g transform="translate(281.8,440) scale(0.92,1)"><text x="0" font-size="18.59">2.0</text></g>
<g transform="translate(281.8,459.4) scale(0.92,1)"><path d="M0.405 0L0.405-0.716L0.29-0.716C0.262-0.64 0.175-0.578 0.045-0.548L0.045-0.43C0.13-0.452 0.2-0.488 0.245-0.525L0.245 0Z" transform="translate(0,0) scale(18.59)"/><text x="10.3" font-size="18.59">.5</text></g>
<g transform="translate(281.8,478.8) scale(0.92,1)"><path d="M0.405 0L0.405-0.716L0.29-0.716C0.262-0.64 0.175-0.578 0.045-0.548L0.045-0.43C0.13-0.452 0.2-0.488 0.245-0.525L0.245 0Z" transform="translate(0,0) scale(18.59)"/><text x="10.3" font-size="18.59">.0</text></g>
<g transform="translate(281.8,498.2) scale(0.92,1)"><text x="0" font-size="18.59">0.5</text></g>
<line x1="387.9" y1="529.7" x2="389" y2="529.8" stroke="#641b9b" stroke-width="1.5" stroke-linecap="round"/>
<line x1="389" y1="529.8" x2="390.1" y2="529.9" stroke="#641b9b" stroke-width="1.5" stroke-linecap="round"/>
<line x1="390.1" y1="529.9" x2="391.2" y2="529.9" stroke="#651b9b" stroke-width="1.5" stroke-linecap="round"/>
<line x1="391.2" y1="529.9" x2="392.4" y2="530" stroke="#651b9a" stroke-width="1.5" stroke-linecap="round"/>
<line x1="392.4" y1="530" x2="393.5" y2="530.1" stroke="#651b9a" stroke-width="1.5" stroke-linecap="round"/>
<line x1="393.5" y1="530.1" x2="394.6" y2="530.2" stroke="#661b9a" stroke-width="1.5" stroke-linecap="round"/>
<line x1="394.6" y1="530.2" x2="395.7" y2="530.3" stroke="#661b99" stroke-width="1.5" stroke-linecap="round"/>
<line x1="395.7" y1="530.3" x2="396.8" y2="530.4" stroke="#661b99" stroke-width="1.5" stroke-linecap="round"/>
<line x1="396.8" y1="530.4" x2="397.9" y2="530.5" stroke="#671b98" stroke-width="1.5" stroke-linecap="round"/>
<line x1="397.9" y1="530.5" x2="399.1" y2="530.6" stroke="#671b98" stroke-width="1.5" stroke-linecap="round"/>
<line x1="399.1" y1="530.6" x2="400.2" y2="530.7" stroke="#681b98" stroke-width="1.5" stroke-linecap="round"/>
<line x1="400.2" y1="530.7" x2="401.3" y2="530.8" stroke="#681b97" stroke-width="1.5" stroke-linecap="round"/>
<line x1="401.3" y1="530.8" x2="402.4" y2="530.9" stroke="#681b97" stroke-width="1.5" stroke-linecap="round"/>
<line x1="402.4" y1="530.9" x2="403.5" y2="531" stroke="#691b96" stroke-width="1.5" stroke-linecap="round"/>
<line x1="403.5" y1="531" x2="404.6" y2="531.2" stroke="#691b96" stroke-width="1.5" stroke-linecap="round"/>
<line x1="404.6" y1="531.2" x2="405.8" y2="531.3" stroke="#6a1b95" stroke-width="1.5" stroke-linecap="round"/>
<line x1="405.8" y1="531.3" x2="406.9" y2="531.4" stroke="#6a1c95" stroke-width="1.5" stroke-linecap="round"/>
<line x1="406.9" y1="531.4" x2="408" y2="531.5" stroke="#6b1c94" stroke-width="1.5" stroke-linecap="round"/>
<line x1="408" y1="531.5" x2="409.1" y2="531.7" stroke="#6b1c94" stroke-width="1.5" stroke-linecap="round"/>
<line x1="409.1" y1="531.7" x2="410.2" y2="531.8" stroke="#6c1c93" stroke-width="1.5" stroke-linecap="round"/>
<line x1="410.2" y1="531.8" x2="411.3" y2="531.9" stroke="#6c1c93" stroke-width="1.5" stroke-linecap="round"/>
<line x1="411.3" y1="531.9" x2="412.5" y2="532" stroke="#6d1c92" stroke-width="1.5" stroke-linecap="round"/>
<line x1="412.5" y1="532" x2="413.6" y2="532.2" stroke="#6d1c92" stroke-width="1.5" stroke-linecap="round"/>
<line x1="413.6" y1="532.2" x2="414.7" y2="532.3" stroke="#6e1c91" stroke-width="1.5" stroke-linecap="round"/>
<line x1="414.7" y1="532.3" x2="415.8" y2="532.4" stroke="#6e1c91" stroke-width="1.5" stroke-linecap="round"/>
<line x1="415.8" y1="532.4" x2="416.9" y2="532.6" stroke="#6f1c90" stroke-width="1.5" stroke-linecap="round"/>
<line x1="416.9" y1="532.6" x2="418" y2="532.7" stroke="#6f1c90" stroke-width="1.5" stroke-linecap="round"/>
<line x1="418" y1="532.7" x2="419.2" y2="532.8" stroke="#6f1c8f" stroke-width="1.5" stroke-linecap="round"/>
<line x1="419.2" y1="532.8" x2="420.3" y2="533" stroke="#701c8f" stroke-width="1.5" stroke-linecap="round"/>
<line x1="420.3" y1="533" x2="421.4" y2="533.1" stroke="#701c8e" stroke-width="1.5" stroke-linecap="round"/>
<line x1="421.4" y1="533.1" x2="422.5" y2="533.2" stroke="#711c8e" stroke-width="1.5" stroke-linecap="round"/>
<line x1="422.5" y1="533.2" x2="423.6" y2="533.3" stroke="#711c8d" stroke-width="1.5" stroke-linecap="round"/>
<line x1="423.6" y1="533.3" x2="424.8" y2="533.5" stroke="#721c8d" stroke-width="1.5" stroke-linecap="round"/>
<line x1="424.8" y1="533.5" x2="425.9" y2="533.6" stroke="#721c8c" stroke-width="1.5" stroke-linecap="round"/>
<line x1="425.9" y1="533.6" x2="427" y2="533.7" stroke="#731c8c" stroke-width="1.5" stroke-linecap="round"/>
<line x1="427" y1="533.7" x2="428.1" y2="533.8" stroke="#731c8b" stroke-width="1.5" stroke-linecap="round"/>
<line x1="428.1" y1="533.8" x2="429.2" y2="533.9" stroke="#741c8b" stroke-width="1.5" stroke-linecap="round"/>
<line x1="429.2" y1="533.9" x2="430.3" y2="534.1" stroke="#741c8a" stroke-width="1.5" stroke-linecap="round"/>
<line x1="430.3" y1="534.1" x2="431.4" y2="534.2" stroke="#751c8a" stroke-width="1.5" stroke-linecap="round"/>
<line x1="431.4" y1="534.2" x2="432.6" y2="534.3" stroke="#751c89" stroke-width="1.5" stroke-linecap="round"/>
<line x1="432.6" y1="534.3" x2="433.7" y2="534.4" stroke="#751c89" stroke-width="1.5" stroke-linecap="round"/>
<line x1="433.7" y1="534.4" x2="434.8" y2="534.5" stroke="#761c88" stroke-width="1.5" stroke-linecap="round"/>
<line x1="434.8" y1="534.5" x2="435.9" y2="534.5" stroke="#761c88" stroke-width="1.5" stroke-linecap="round"/>
<line x1="435.9" y1="534.5" x2="437" y2="534.6" stroke="#761c88" stroke-width="1.5" stroke-linecap="round"/>
<line x1="437" y1="534.6" x2="438.1" y2="534.7" stroke="#771c87" stroke-width="1.5" stroke-linecap="round"/>
<line x1="438.1" y1="534.7" x2="439.3" y2="534.8" stroke="#771c87" stroke-width="1.5" stroke-linecap="round"/>
<line x1="439.3" y1="534.8" x2="440.4" y2="534.8" stroke="#771c87" stroke-width="1.5" stroke-linecap="round"/>
<line x1="440.4" y1="534.8" x2="441.5" y2="534.9" stroke="#771c87" stroke-width="1.5" stroke-linecap="round"/>
<line x1="441.5" y1="534.9" x2="442.6" y2="534.9" stroke="#781c86" stroke-width="1.5" stroke-linecap="round"/>
<line x1="442.6" y1="534.9" x2="443.7" y2="535" stroke="#781c86" stroke-width="1.5" stroke-linecap="round"/>
<line x1="443.7" y1="535" x2="444.8" y2="535" stroke="#781c86" stroke-width="1.5" stroke-linecap="round"/>
<line x1="444.8" y1="535" x2="446" y2="535" stroke="#781c86" stroke-width="1.5" stroke-linecap="round"/>
<line x1="446" y1="535" x2="447.1" y2="535" stroke="#781c86" stroke-width="1.5" stroke-linecap="round"/>
<line x1="447.1" y1="535" x2="448.2" y2="535" stroke="#781c86" stroke-width="1.5" stroke-linecap="round"/>
<line x1="448.2" y1="535" x2="449.3" y2="535" stroke="#781c86" stroke-width="1.5" stroke-linecap="round"/>
<line x1="449.3" y1="535" x2="450.4" y2="534.9" stroke="#781c86" stroke-width="1.5" stroke-linecap="round"/>
<line x1="450.4" y1="534.9" x2="451.5" y2="534.9" stroke="#781c86" stroke-width="1.5" stroke-linecap="round"/>
<line x1="451.5" y1="534.9" x2="452.7" y2="534.8" stroke="#771c87" stroke-width="1.5" stroke-linecap="round"/>
<line x1="452.7" y1="534.8" x2="453.8" y2="534.7" stroke="#771c87" stroke-width="1.5" stroke-linecap="round"/>
<line x1="453.8" y1="534.7" x2="454.9" y2="534.6" stroke="#771c87" stroke-width="1.5" stroke-linecap="round"/>
<line x1="454.9" y1="534.6" x2="456" y2="534.5" stroke="#761c88" stroke-width="1.5" stroke-linecap="round"/>
<line x1="456" y1="534.5" x2="457.1" y2="534.4" stroke="#761c88" stroke-width="1.5" stroke-linecap="round"/>
<line x1="457.1" y1="534.4" x2="458.2" y2="534.2" stroke="#751c89" stroke-width="1.5" stroke-linecap="round"/>
<line x1="458.2" y1="534.2" x2="459.4" y2="534" stroke="#751c8a" stroke-width="1.5" stroke-linecap="round"/>
<line x1="459.4" y1="534" x2="460.5" y2="533.8" stroke="#741c8b" stroke-width="1.5" stroke-linecap="round"/>
<line x1="460.5" y1="533.8" x2="461.6" y2="533.5" stroke="#731c8c" stroke-width="1.5" stroke-linecap="round"/>
<line x1="461.6" y1="533.5" x2="462.7" y2="533.2" stroke="#721c8d" stroke-width="1.5" stroke-linecap="round"/>
<line x1="462.7" y1="533.2" x2="463.8" y2="532.9" stroke="#711c8e" stroke-width="1.5" stroke-linecap="round"/>
<line x1="463.8" y1="532.9" x2="464.9" y2="532.6" stroke="#701c8f" stroke-width="1.5" stroke-linecap="round"/>
<line x1="464.9" y1="532.6" x2="466.1" y2="532.2" stroke="#6e1c90" stroke-width="1.5" stroke-linecap="round"/>
<line x1="466.1" y1="532.2" x2="467.2" y2="531.8" stroke="#6d1c92" stroke-width="1.5" stroke-linecap="round"/>
<line x1="467.2" y1="531.8" x2="468.3" y2="531.4" stroke="#6b1c94" stroke-width="1.5" stroke-linecap="round"/>
<line x1="468.3" y1="531.4" x2="469.4" y2="530.9" stroke="#691b96" stroke-width="1.5" stroke-linecap="round"/>
<line x1="469.4" y1="530.9" x2="470.5" y2="530.3" stroke="#671b98" stroke-width="1.5" stroke-linecap="round"/>
<line x1="470.5" y1="530.3" x2="471.6" y2="529.8" stroke="#651b9a" stroke-width="1.5" stroke-linecap="round"/>
<line x1="471.6" y1="529.8" x2="472.8" y2="529.1" stroke="#631b9c" stroke-width="1.5" stroke-linecap="round"/>
<line x1="472.8" y1="529.1" x2="473.9" y2="528.4" stroke="#611b9f" stroke-width="1.5" stroke-linecap="round"/>
<line x1="473.9" y1="528.4" x2="475" y2="527.7" stroke="#5e1ba2" stroke-width="1.5" stroke-linecap="round"/>
<line x1="475" y1="527.7" x2="476.1" y2="526.9" stroke="#5b1ba5" stroke-width="1.5" stroke-linecap="round"/>
<line x1="476.1" y1="526.9" x2="477.2" y2="526.1" stroke="#591ca8" stroke-width="1.5" stroke-linecap="round"/>
<line x1="477.2" y1="526.1" x2="478.3" y2="525.1" stroke="#561cab" stroke-width="1.5" stroke-linecap="round"/>
<line x1="478.3" y1="525.1" x2="479.5" y2="524.2" stroke="#531dae" stroke-width="1.5" stroke-linecap="round"/>
<line x1="479.5" y1="524.2" x2="480.6" y2="523.1" stroke="#501eb2" stroke-width="1.5" stroke-linecap="round"/>
<line x1="480.6" y1="523.1" x2="481.7" y2="522" stroke="#4d1eb6" stroke-width="1.5" stroke-linecap="round"/>
<line x1="481.7" y1="522" x2="482.8" y2="520.8" stroke="#4a1fba" stroke-width="1.5" stroke-linecap="round"/>
<line x1="482.8" y1="520.8" x2="483.9" y2="519.5" stroke="#4620be" stroke-width="1.5" stroke-linecap="round"/>
<line x1="483.9" y1="519.5" x2="485" y2="518.1" stroke="#4423c0" stroke-width="1.5" stroke-linecap="round"/>
<line x1="485" y1="518.1" x2="486.2" y2="516.6" stroke="#4227c3" stroke-width="1.5" stroke-linecap="round"/>
<line x1="486.2" y1="516.6" x2="487.3" y2="515.1" stroke="#402ac5" stroke-width="1.5" stroke-linecap="round"/>
<line x1="487.3" y1="515.1" x2="488.4" y2="513.4" stroke="#3d2ec8" stroke-width="1.5" stroke-linecap="round"/>
<line x1="488.4" y1="513.4" x2="489.5" y2="511.7" stroke="#3b32cb" stroke-width="1.5" stroke-linecap="round"/>
<line x1="489.5" y1="511.7" x2="490.6" y2="509.8" stroke="#3b39cc" stroke-width="1.5" stroke-linecap="round"/>
<line x1="490.6" y1="509.8" x2="491.8" y2="507.9" stroke="#3c40cd" stroke-width="1.5" stroke-linecap="round"/>
<line x1="491.8" y1="507.9" x2="492.9" y2="505.8" stroke="#3c48cd" stroke-width="1.5" stroke-linecap="round"/>
<line x1="492.9" y1="505.8" x2="494" y2="503.6" stroke="#3c50ce" stroke-width="1.5" stroke-linecap="round"/>
<line x1="494" y1="503.6" x2="495.1" y2="501.3" stroke="#3e58cc" stroke-width="1.5" stroke-linecap="round"/>
<line x1="495.1" y1="501.3" x2="496.2" y2="498.9" stroke="#3f61cb" stroke-width="1.5" stroke-linecap="round"/>
<line x1="496.2" y1="498.9" x2="497.3" y2="496.4" stroke="#406bca" stroke-width="1.5" stroke-linecap="round"/>
<line x1="497.3" y1="496.4" x2="498.4" y2="493.8" stroke="#4275c8" stroke-width="1.5" stroke-linecap="round"/>
<line x1="498.4" y1="493.8" x2="499.6" y2="491" stroke="#457dc5" stroke-width="1.5" stroke-linecap="round"/>
<line x1="499.6" y1="491" x2="500.7" y2="488.1" stroke="#4885c2" stroke-width="1.5" stroke-linecap="round"/>
<line x1="500.7" y1="488.1" x2="501.8" y2="485.1" stroke="#4b8dbf" stroke-width="1.5" stroke-linecap="round"/>
<line x1="501.8" y1="485.1" x2="502.9" y2="482" stroke="#4f93b7" stroke-width="1.5" stroke-linecap="round"/>
<line x1="502.9" y1="482" x2="504" y2="478.7" stroke="#5497ad" stroke-width="1.5" stroke-linecap="round"/>
<line x1="504" y1="478.7" x2="505.1" y2="475.4" stroke="#599da3" stroke-width="1.5" stroke-linecap="round"/>
<line x1="505.1" y1="475.4" x2="506.3" y2="471.9" stroke="#5ea298" stroke-width="1.5" stroke-linecap="round"/>
<line x1="506.3" y1="471.9" x2="507.4" y2="468.3" stroke="#64a78d" stroke-width="1.5" stroke-linecap="round"/>
<line x1="507.4" y1="468.3" x2="508.5" y2="464.7" stroke="#6caa82" stroke-width="1.5" stroke-linecap="round"/>
<line x1="508.5" y1="464.7" x2="509.6" y2="460.9" stroke="#75ae77" stroke-width="1.5" stroke-linecap="round"/>
<line x1="509.6" y1="460.9" x2="510.7" y2="457.1" stroke="#7eb16b" stroke-width="1.5" stroke-linecap="round"/>
<line x1="510.7" y1="457.1" x2="511.8" y2="453.2" stroke="#88b560" stroke-width="1.5" stroke-linecap="round"/>
<line x1="511.8" y1="453.2" x2="513" y2="449.2" stroke="#94b759" stroke-width="1.5" stroke-linecap="round"/>
<line x1="513" y1="449.2" x2="514.1" y2="445.2" stroke="#a0b951" stroke-width="1.5" stroke-linecap="round"/>
<line x1="514.1" y1="445.2" x2="515.2" y2="441.2" stroke="#acb94a" stroke-width="1.5" stroke-linecap="round"/>
<line x1="515.2" y1="441.2" x2="516.3" y2="437.2" stroke="#b8b844" stroke-width="1.5" stroke-linecap="round"/>
<line x1="516.3" y1="437.2" x2="517.4" y2="433.1" stroke="#c3b73e" stroke-width="1.5" stroke-linecap="round"/>
<line x1="517.4" y1="433.1" x2="518.5" y2="429.1" stroke="#ccb23b" stroke-width="1.5" stroke-linecap="round"/>
<line x1="518.5" y1="429.1" x2="519.7" y2="425.2" stroke="#d5ad38" stroke-width="1.5" stroke-linecap="round"/>
<line x1="519.7" y1="425.2" x2="520.8" y2="421.3" stroke="#daa436" stroke-width="1.5" stroke-linecap="round"/>
<line x1="520.8" y1="421.3" x2="521.9" y2="417.6" stroke="#de9a34" stroke-width="1.5" stroke-linecap="round"/>
<line x1="521.9" y1="417.6" x2="523" y2="413.9" stroke="#e29132" stroke-width="1.5" stroke-linecap="round"/>
<line x1="523" y1="413.9" x2="524.1" y2="410.4" stroke="#e38530" stroke-width="1.5" stroke-linecap="round"/>
<line x1="524.1" y1="410.4" x2="525.2" y2="407" stroke="#e5792e" stroke-width="1.5" stroke-linecap="round"/>
<line x1="525.2" y1="407" x2="526.4" y2="403.9" stroke="#e66e2c" stroke-width="1.5" stroke-linecap="round"/>
<line x1="526.4" y1="403.9" x2="527.5" y2="400.9" stroke="#e5612b" stroke-width="1.5" stroke-linecap="round"/>
<line x1="527.5" y1="400.9" x2="528.6" y2="398.2" stroke="#e35529" stroke-width="1.5" stroke-linecap="round"/>
<line x1="528.6" y1="398.2" x2="529.7" y2="395.8" stroke="#e24a28" stroke-width="1.5" stroke-linecap="round"/>
<line x1="529.7" y1="395.8" x2="530.8" y2="393.6" stroke="#e14227" stroke-width="1.5" stroke-linecap="round"/>
<line x1="530.8" y1="393.6" x2="531.9" y2="391.7" stroke="#df3b26" stroke-width="1.5" stroke-linecap="round"/>
<line x1="531.9" y1="391.7" x2="533.1" y2="390.1" stroke="#de3525" stroke-width="1.5" stroke-linecap="round"/>
<line x1="533.1" y1="390.1" x2="534.2" y2="388.9" stroke="#dd3024" stroke-width="1.5" stroke-linecap="round"/>
<line x1="534.2" y1="388.9" x2="535.3" y2="388" stroke="#dc2c23" stroke-width="1.5" stroke-linecap="round"/>
<line x1="535.3" y1="388" x2="536.4" y2="387.4" stroke="#db2a23" stroke-width="1.5" stroke-linecap="round"/>
<line x1="536.4" y1="387.4" x2="537.5" y2="387.2" stroke="#db2823" stroke-width="1.5" stroke-linecap="round"/>
<line x1="537.5" y1="387.2" x2="538.6" y2="387.4" stroke="#db2823" stroke-width="1.5" stroke-linecap="round"/>
<line x1="538.6" y1="387.4" x2="539.8" y2="387.9" stroke="#db2923" stroke-width="1.5" stroke-linecap="round"/>
<line x1="539.8" y1="387.9" x2="540.9" y2="388.7" stroke="#dc2c23" stroke-width="1.5" stroke-linecap="round"/>
<line x1="540.9" y1="388.7" x2="542" y2="389.9" stroke="#dc2f24" stroke-width="1.5" stroke-linecap="round"/>
<line x1="542" y1="389.9" x2="543.1" y2="391.4" stroke="#de3425" stroke-width="1.5" stroke-linecap="round"/>
<line x1="543.1" y1="391.4" x2="544.2" y2="393.2" stroke="#df3a26" stroke-width="1.5" stroke-linecap="round"/>
<line x1="544.2" y1="393.2" x2="545.4" y2="395.3" stroke="#e04027" stroke-width="1.5" stroke-linecap="round"/>
<line x1="545.4" y1="395.3" x2="546.5" y2="397.7" stroke="#e24828" stroke-width="1.5" stroke-linecap="round"/>
<line x1="546.5" y1="397.7" x2="547.6" y2="400.4" stroke="#e35329" stroke-width="1.5" stroke-linecap="round"/>
<line x1="547.6" y1="400.4" x2="548.7" y2="403.3" stroke="#e45f2a" stroke-width="1.5" stroke-linecap="round"/>
<line x1="548.7" y1="403.3" x2="549.8" y2="406.4" stroke="#e66b2c" stroke-width="1.5" stroke-linecap="round"/>
<line x1="549.8" y1="406.4" x2="550.9" y2="409.7" stroke="#e5772e" stroke-width="1.5" stroke-linecap="round"/>
<line x1="550.9" y1="409.7" x2="552" y2="413.2" stroke="#e4822f" stroke-width="1.5" stroke-linecap="round"/>
<line x1="552" y1="413.2" x2="553.2" y2="416.8" stroke="#e28e32" stroke-width="1.5" stroke-linecap="round"/>
<line x1="553.2" y1="416.8" x2="554.3" y2="420.6" stroke="#df9833" stroke-width="1.5" stroke-linecap="round"/>
<line x1="554.3" y1="420.6" x2="555.4" y2="424.4" stroke="#dba235" stroke-width="1.5" stroke-linecap="round"/>
<line x1="555.4" y1="424.4" x2="556.5" y2="428.4" stroke="#d7ac37" stroke-width="1.5" stroke-linecap="round"/>
<line x1="556.5" y1="428.4" x2="557.6" y2="432.3" stroke="#ceb13a" stroke-width="1.5" stroke-linecap="round"/>
<line x1="557.6" y1="432.3" x2="558.8" y2="436.4" stroke="#c5b63d" stroke-width="1.5" stroke-linecap="round"/>
<line x1="558.8" y1="436.4" x2="559.9" y2="440.4" stroke="#bab843" stroke-width="1.5" stroke-linecap="round"/>
<line x1="559.9" y1="440.4" x2="561" y2="444.4" stroke="#aeb949" stroke-width="1.5" stroke-linecap="round"/>
<line x1="561" y1="444.4" x2="562.1" y2="448.4" stroke="#a3ba50" stroke-width="1.5" stroke-linecap="round"/>
<line x1="562.1" y1="448.4" x2="563.2" y2="452.4" stroke="#96b757" stroke-width="1.5" stroke-linecap="round"/>
<line x1="563.2" y1="452.4" x2="564.3" y2="456.3" stroke="#8ab55f" stroke-width="1.5" stroke-linecap="round"/>
<line x1="564.3" y1="456.3" x2="565.4" y2="460.2" stroke="#80b269" stroke-width="1.5" stroke-linecap="round"/>
<line x1="565.4" y1="460.2" x2="566.6" y2="463.9" stroke="#77ae74" stroke-width="1.5" stroke-linecap="round"/>
<line x1="566.6" y1="463.9" x2="567.7" y2="467.6" stroke="#6eab80" stroke-width="1.5" stroke-linecap="round"/>
<line x1="567.7" y1="467.6" x2="568.8" y2="471.2" stroke="#66a78b" stroke-width="1.5" stroke-linecap="round"/>
<line x1="568.8" y1="471.2" x2="569.9" y2="474.7" stroke="#5fa396" stroke-width="1.5" stroke-linecap="round"/>
<line x1="569.9" y1="474.7" x2="571" y2="478.1" stroke="#5a9ea1" stroke-width="1.5" stroke-linecap="round"/>
<line x1="571" y1="478.1" x2="572.1" y2="481.3" stroke="#5598ab" stroke-width="1.5" stroke-linecap="round"/>
<line x1="572.1" y1="481.3" x2="573.3" y2="484.5" stroke="#5094b5" stroke-width="1.5" stroke-linecap="round"/>
<line x1="573.3" y1="484.5" x2="574.4" y2="487.5" stroke="#4c8fbe" stroke-width="1.5" stroke-linecap="round"/>
<line x1="574.4" y1="487.5" x2="575.5" y2="490.4" stroke="#4986c1" stroke-width="1.5" stroke-linecap="round"/>
<line x1="575.5" y1="490.4" x2="576.6" y2="493.2" stroke="#457ec5" stroke-width="1.5" stroke-linecap="round"/>
<line x1="576.6" y1="493.2" x2="577.7" y2="495.9" stroke="#4277c8" stroke-width="1.5" stroke-linecap="round"/>
<line x1="577.7" y1="495.9" x2="578.9" y2="498.4" stroke="#416dc9" stroke-width="1.5" stroke-linecap="round"/>
<line x1="578.9" y1="498.4" x2="580" y2="500.9" stroke="#3f63cb" stroke-width="1.5" stroke-linecap="round"/>
<line x1="580" y1="500.9" x2="581.1" y2="503.2" stroke="#3e5acc" stroke-width="1.5" stroke-linecap="round"/>
<line x1="581.1" y1="503.2" x2="582.2" y2="505.4" stroke="#3d52cd" stroke-width="1.5" stroke-linecap="round"/>
<line x1="582.2" y1="505.4" x2="583.3" y2="507.5" stroke="#3c49ce" stroke-width="1.5" stroke-linecap="round"/>
<line x1="583.3" y1="507.5" x2="584.4" y2="509.5" stroke="#3c42cd" stroke-width="1.5" stroke-linecap="round"/>
<line x1="584.4" y1="509.5" x2="585.5" y2="511.3" stroke="#3b3bcc" stroke-width="1.5" stroke-linecap="round"/>
<line x1="585.5" y1="511.3" x2="586.7" y2="513.1" stroke="#3b34cb" stroke-width="1.5" stroke-linecap="round"/>
<line x1="586.7" y1="513.1" x2="587.8" y2="514.8" stroke="#3d2fc9" stroke-width="1.5" stroke-linecap="round"/>
<line x1="587.8" y1="514.8" x2="588.9" y2="516.3" stroke="#3f2bc6" stroke-width="1.5" stroke-linecap="round"/>
<line x1="588.9" y1="516.3" x2="590" y2="517.8" stroke="#4227c3" stroke-width="1.5" stroke-linecap="round"/>
<line x1="590" y1="517.8" x2="591.1" y2="519.2" stroke="#4424c1" stroke-width="1.5" stroke-linecap="round"/>
<line x1="591.1" y1="519.2" x2="592.2" y2="520.5" stroke="#4621be" stroke-width="1.5" stroke-linecap="round"/>
<line x1="592.2" y1="520.5" x2="593.4" y2="521.7" stroke="#491fbb" stroke-width="1.5" stroke-linecap="round"/>
<line x1="593.4" y1="521.7" x2="594.5" y2="522.9" stroke="#4c1fb6" stroke-width="1.5" stroke-linecap="round"/>
<line x1="594.5" y1="522.9" x2="595.6" y2="523.9" stroke="#501eb3" stroke-width="1.5" stroke-linecap="round"/>
<line x1="595.6" y1="523.9" x2="596.7" y2="524.9" stroke="#531daf" stroke-width="1.5" stroke-linecap="round"/>
<line x1="596.7" y1="524.9" x2="597.8" y2="525.9" stroke="#561cac" stroke-width="1.5" stroke-linecap="round"/>
<line x1="597.8" y1="525.9" x2="598.9" y2="526.7" stroke="#581ca8" stroke-width="1.5" stroke-linecap="round"/>
<line x1="598.9" y1="526.7" x2="600.1" y2="527.6" stroke="#5b1ba5" stroke-width="1.5" stroke-linecap="round"/>
<line x1="600.1" y1="527.6" x2="601.2" y2="528.3" stroke="#5d1ba3" stroke-width="1.5" stroke-linecap="round"/>
<line x1="601.2" y1="528.3" x2="602.3" y2="529" stroke="#601ba0" stroke-width="1.5" stroke-linecap="round"/>
<line x1="602.3" y1="529" x2="603.4" y2="529.6" stroke="#631b9d" stroke-width="1.5" stroke-linecap="round"/>
<line x1="603.4" y1="529.6" x2="604.5" y2="530.2" stroke="#651b9a" stroke-width="1.5" stroke-linecap="round"/>
<line x1="604.5" y1="530.2" x2="605.6" y2="530.8" stroke="#671b98" stroke-width="1.5" stroke-linecap="round"/>
<line x1="605.6" y1="530.8" x2="606.8" y2="531.3" stroke="#691b96" stroke-width="1.5" stroke-linecap="round"/>
<line x1="606.8" y1="531.3" x2="607.9" y2="531.7" stroke="#6b1c94" stroke-width="1.5" stroke-linecap="round"/>
<line x1="607.9" y1="531.7" x2="609" y2="532.1" stroke="#6c1c92" stroke-width="1.5" stroke-linecap="round"/>
<line x1="609" y1="532.1" x2="610.1" y2="532.5" stroke="#6e1c91" stroke-width="1.5" stroke-linecap="round"/>
<line x1="610.1" y1="532.5" x2="611.2" y2="532.9" stroke="#6f1c8f" stroke-width="1.5" stroke-linecap="round"/>
<line x1="611.2" y1="532.9" x2="612.4" y2="533.2" stroke="#711c8e" stroke-width="1.5" stroke-linecap="round"/>
<line x1="612.4" y1="533.2" x2="613.5" y2="533.5" stroke="#721c8d" stroke-width="1.5" stroke-linecap="round"/>
<line x1="613.5" y1="533.5" x2="614.6" y2="533.7" stroke="#731c8c" stroke-width="1.5" stroke-linecap="round"/>
<line x1="614.6" y1="533.7" x2="615.7" y2="534" stroke="#741c8b" stroke-width="1.5" stroke-linecap="round"/>
<line x1="615.7" y1="534" x2="616.8" y2="534.1" stroke="#741c8a" stroke-width="1.5" stroke-linecap="round"/>
<line x1="616.8" y1="534.1" x2="617.9" y2="534.3" stroke="#751c89" stroke-width="1.5" stroke-linecap="round"/>
<line x1="617.9" y1="534.3" x2="619" y2="534.5" stroke="#761c88" stroke-width="1.5" stroke-linecap="round"/>
<line x1="619" y1="534.5" x2="620.2" y2="534.6" stroke="#761c88" stroke-width="1.5" stroke-linecap="round"/>
<line x1="620.2" y1="534.6" x2="621.3" y2="534.7" stroke="#771c87" stroke-width="1.5" stroke-linecap="round"/>
<line x1="621.3" y1="534.7" x2="622.4" y2="534.8" stroke="#771c87" stroke-width="1.5" stroke-linecap="round"/>
<line x1="622.4" y1="534.8" x2="623.5" y2="534.9" stroke="#771c87" stroke-width="1.5" stroke-linecap="round"/>
<line x1="623.5" y1="534.9" x2="624.6" y2="534.9" stroke="#781c86" stroke-width="1.5" stroke-linecap="round"/>
<line x1="624.6" y1="534.9" x2="625.8" y2="535" stroke="#781c86" stroke-width="1.5" stroke-linecap="round"/>
<line x1="625.8" y1="535" x2="626.9" y2="535" stroke="#781c86" stroke-width="1.5" stroke-linecap="round"/>
<line x1="626.9" y1="535" x2="628" y2="535" stroke="#781c86" stroke-width="1.5" stroke-linecap="round"/>
<line x1="628" y1="535" x2="629.1" y2="535" stroke="#781c86" stroke-width="1.5" stroke-linecap="round"/>
<line x1="629.1" y1="535" x2="630.2" y2="535" stroke="#781c86" stroke-width="1.5" stroke-linecap="round"/>
<line x1="630.2" y1="535" x2="631.3" y2="535" stroke="#781c86" stroke-width="1.5" stroke-linecap="round"/>
<line x1="631.3" y1="535" x2="632.4" y2="534.9" stroke="#781c86" stroke-width="1.5" stroke-linecap="round"/>
<line x1="632.4" y1="534.9" x2="633.6" y2="534.9" stroke="#781c86" stroke-width="1.5" stroke-linecap="round"/>
<line x1="633.6" y1="534.9" x2="634.7" y2="534.9" stroke="#771c87" stroke-width="1.5" stroke-linecap="round"/>
<line x1="634.7" y1="534.9" x2="635.8" y2="534.8" stroke="#771c87" stroke-width="1.5" stroke-linecap="round"/>
<line x1="635.8" y1="534.8" x2="636.9" y2="534.7" stroke="#771c87" stroke-width="1.5" stroke-linecap="round"/>
<line x1="636.9" y1="534.7" x2="638" y2="534.6" stroke="#771c87" stroke-width="1.5" stroke-linecap="round"/>
<line x1="638" y1="534.6" x2="639.1" y2="534.6" stroke="#761c88" stroke-width="1.5" stroke-linecap="round"/>
<line x1="639.1" y1="534.6" x2="640.3" y2="534.5" stroke="#761c88" stroke-width="1.5" stroke-linecap="round"/>
<line x1="640.3" y1="534.5" x2="641.4" y2="534.4" stroke="#761c88" stroke-width="1.5" stroke-linecap="round"/>
<line x1="641.4" y1="534.4" x2="642.5" y2="534.3" stroke="#751c89" stroke-width="1.5" stroke-linecap="round"/>
<line x1="642.5" y1="534.3" x2="643.6" y2="534.2" stroke="#751c89" stroke-width="1.5" stroke-linecap="round"/>
<line x1="643.6" y1="534.2" x2="644.7" y2="534.1" stroke="#751c8a" stroke-width="1.5" stroke-linecap="round"/>
<line x1="644.7" y1="534.1" x2="645.9" y2="534" stroke="#741c8a" stroke-width="1.5" stroke-linecap="round"/>
<line x1="645.9" y1="534" x2="647" y2="533.8" stroke="#741c8a" stroke-width="1.5" stroke-linecap="round"/>
<line x1="647" y1="533.8" x2="648.1" y2="533.7" stroke="#731c8b" stroke-width="1.5" stroke-linecap="round"/>
<line x1="648.1" y1="533.7" x2="649.2" y2="533.6" stroke="#731c8b" stroke-width="1.5" stroke-linecap="round"/>
<line x1="649.2" y1="533.6" x2="650.3" y2="533.5" stroke="#721c8c" stroke-width="1.5" stroke-linecap="round"/>
<line x1="650.3" y1="533.5" x2="651.4" y2="533.4" stroke="#721c8c" stroke-width="1.5" stroke-linecap="round"/>
<line x1="651.4" y1="533.4" x2="652.5" y2="533.2" stroke="#721c8d" stroke-width="1.5" stroke-linecap="round"/>
<line x1="652.5" y1="533.2" x2="653.7" y2="533.1" stroke="#711c8d" stroke-width="1.5" stroke-linecap="round"/>
<line x1="653.7" y1="533.1" x2="654.8" y2="533" stroke="#711c8e" stroke-width="1.5" stroke-linecap="round"/>
<line x1="654.8" y1="533" x2="655.9" y2="532.8" stroke="#701c8e" stroke-width="1.5" stroke-linecap="round"/>
<line x1="382" y1="542.2" x2="660.5" y2="542.2" stroke="#6a6a6a" stroke-width="2.2"/>
<line x1="521.9" y1="379.5" x2="521.9" y2="551.5" stroke="#6a6a6a" stroke-width="2.2"/>
<line x1="387.9" y1="542.2" x2="387.9" y2="539.6" stroke="#6a6a6a" stroke-width="1.2"/>
<line x1="401.3" y1="542.2" x2="401.3" y2="540.3" stroke="#6a6a6a" stroke-width="1.2"/>
<line x1="414.7" y1="542.2" x2="414.7" y2="540.3" stroke="#6a6a6a" stroke-width="1.2"/>
<line x1="428.1" y1="542.2" x2="428.1" y2="540.3" stroke="#6a6a6a" stroke-width="1.2"/>
<line x1="441.5" y1="542.2" x2="441.5" y2="540.3" stroke="#6a6a6a" stroke-width="1.2"/>
<line x1="454.9" y1="542.2" x2="454.9" y2="539.6" stroke="#6a6a6a" stroke-width="1.2"/>
<line x1="468.3" y1="542.2" x2="468.3" y2="540.3" stroke="#6a6a6a" stroke-width="1.2"/>
<line x1="481.7" y1="542.2" x2="481.7" y2="540.3" stroke="#6a6a6a" stroke-width="1.2"/>
<line x1="495.1" y1="542.2" x2="495.1" y2="540.3" stroke="#6a6a6a" stroke-width="1.2"/>
<line x1="508.5" y1="542.2" x2="508.5" y2="540.3" stroke="#6a6a6a" stroke-width="1.2"/>
<line x1="521.9" y1="542.2" x2="521.9" y2="539.6" stroke="#6a6a6a" stroke-width="1.2"/>
<line x1="535.3" y1="542.2" x2="535.3" y2="540.3" stroke="#6a6a6a" stroke-width="1.2"/>
<line x1="548.7" y1="542.2" x2="548.7" y2="540.3" stroke="#6a6a6a" stroke-width="1.2"/>
<line x1="562.1" y1="542.2" x2="562.1" y2="540.3" stroke="#6a6a6a" stroke-width="1.2"/>
<line x1="575.5" y1="542.2" x2="575.5" y2="540.3" stroke="#6a6a6a" stroke-width="1.2"/>
<line x1="588.9" y1="542.2" x2="588.9" y2="539.6" stroke="#6a6a6a" stroke-width="1.2"/>
<line x1="602.3" y1="542.2" x2="602.3" y2="540.3" stroke="#6a6a6a" stroke-width="1.2"/>
<line x1="615.7" y1="542.2" x2="615.7" y2="540.3" stroke="#6a6a6a" stroke-width="1.2"/>
<line x1="629.1" y1="542.2" x2="629.1" y2="540.3" stroke="#6a6a6a" stroke-width="1.2"/>
<line x1="642.5" y1="542.2" x2="642.5" y2="540.3" stroke="#6a6a6a" stroke-width="1.2"/>
<line x1="655.9" y1="542.2" x2="655.9" y2="539.6" stroke="#6a6a6a" stroke-width="1.2"/>
<line x1="521.9" y1="542.2" x2="524.5" y2="542.2" stroke="#6a6a6a" stroke-width="1.2"/>
<line x1="521.9" y1="534.1" x2="523.8" y2="534.1" stroke="#6a6a6a" stroke-width="1.2"/>
<line x1="521.9" y1="526.1" x2="523.8" y2="526.1" stroke="#6a6a6a" stroke-width="1.2"/>
<line x1="521.9" y1="518" x2="523.8" y2="518" stroke="#6a6a6a" stroke-width="1.2"/>
<line x1="521.9" y1="509.9" x2="523.8" y2="509.9" stroke="#6a6a6a" stroke-width="1.2"/>
<line x1="521.9" y1="501.9" x2="524.5" y2="501.9" stroke="#6a6a6a" stroke-width="1.2"/>
<line x1="521.9" y1="493.8" x2="523.8" y2="493.8" stroke="#6a6a6a" stroke-width="1.2"/>
<line x1="521.9" y1="485.7" x2="523.8" y2="485.7" stroke="#6a6a6a" stroke-width="1.2"/>
<line x1="521.9" y1="477.6" x2="523.8" y2="477.6" stroke="#6a6a6a" stroke-width="1.2"/>
<line x1="521.9" y1="469.6" x2="523.8" y2="469.6" stroke="#6a6a6a" stroke-width="1.2"/>
<line x1="521.9" y1="461.5" x2="524.5" y2="461.5" stroke="#6a6a6a" stroke-width="1.2"/>
<line x1="521.9" y1="453.4" x2="523.8" y2="453.4" stroke="#6a6a6a" stroke-width="1.2"/>
<line x1="521.9" y1="445.4" x2="523.8" y2="445.4" stroke="#6a6a6a" stroke-width="1.2"/>
<line x1="521.9" y1="437.3" x2="523.8" y2="437.3" stroke="#6a6a6a" stroke-width="1.2"/>
<line x1="521.9" y1="429.2" x2="523.8" y2="429.2" stroke="#6a6a6a" stroke-width="1.2"/>
<line x1="521.9" y1="421.2" x2="524.5" y2="421.2" stroke="#6a6a6a" stroke-width="1.2"/>
<line x1="521.9" y1="413.1" x2="523.8" y2="413.1" stroke="#6a6a6a" stroke-width="1.2"/>
<line x1="521.9" y1="405" x2="523.8" y2="405" stroke="#6a6a6a" stroke-width="1.2"/>
<line x1="521.9" y1="396.9" x2="523.8" y2="396.9" stroke="#6a6a6a" stroke-width="1.2"/>
<line x1="521.9" y1="388.9" x2="523.8" y2="388.9" stroke="#6a6a6a" stroke-width="1.2"/>
<line x1="521.9" y1="380.8" x2="524.5" y2="380.8" stroke="#6a6a6a" stroke-width="1.2"/>
<g transform="translate(517.9,508.9) scale(0.92,1)"><path d="M0.405 0L0.405-0.716L0.29-0.716C0.262-0.64 0.175-0.578 0.045-0.548L0.045-0.43C0.13-0.452 0.2-0.488 0.245-0.525L0.245 0Z" transform="translate(-11.3,0) scale(20.27)"/></g>
<g transform="translate(517.9,468.6) scale(0.92,1)"><text x="-11.3" font-size="20.27">2</text></g>
<g transform="translate(517.9,428.2) scale(0.92,1)"><text x="-11.3" font-size="20.27">3</text></g>
<g transform="translate(517.9,387.9) scale(0.92,1)"><text x="-11.3" font-size="20.27">4</text></g>
<g transform="translate(387.9,564.5) scale(0.92,1)"><text x="-11.9" font-size="20.79">−2</text></g>
<g transform="translate(454.9,564.5) scale(0.92,1)"><text x="-11.9" font-size="20.79">−</text><path d="M0.405 0L0.405-0.716L0.29-0.716C0.262-0.64 0.175-0.578 0.045-0.548L0.045-0.43C0.13-0.452 0.2-0.488 0.245-0.525L0.245 0Z" transform="translate(0.3,0) scale(20.79)"/></g>
<g transform="translate(588.9,564.5) scale(0.92,1)"><path d="M0.405 0L0.405-0.716L0.29-0.716C0.262-0.64 0.175-0.578 0.045-0.548L0.045-0.43C0.13-0.452 0.2-0.488 0.245-0.525L0.245 0Z" transform="translate(-5.8,0) scale(20.79)"/></g>
<g transform="translate(655.9,564.5) scale(0.92,1)"><text x="-5.8" font-size="20.79">2</text></g>
<g transform="translate(521.6,367.4)"><text x="-4.9" font-size="29.5">t</text></g>
<g transform="translate(676,552.6)"><text x="-8.1" font-size="29">x</text></g>
</svg></body></html>
